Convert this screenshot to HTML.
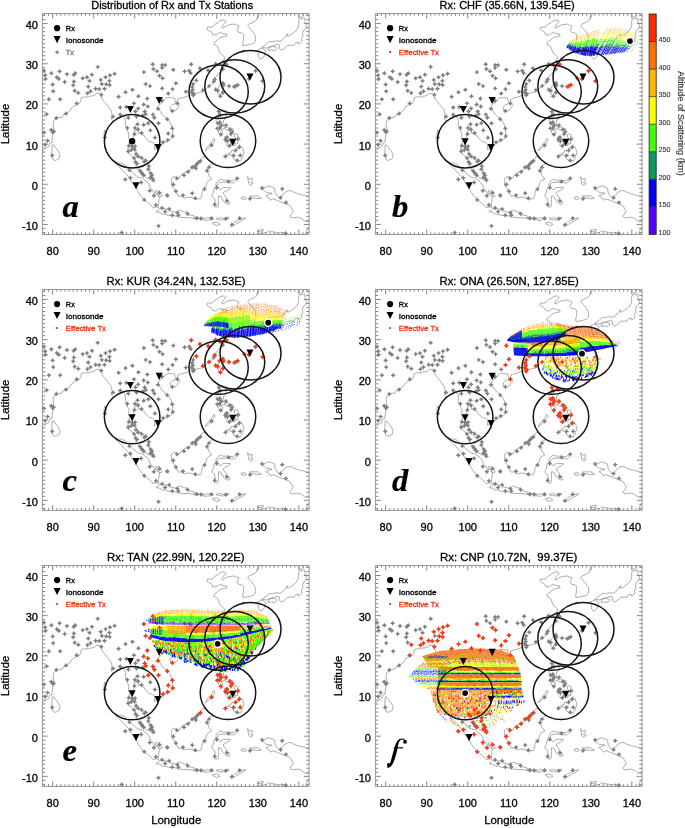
<!DOCTYPE html><html><head><meta charset="utf-8"><style>html,body{margin:0;padding:0;background:#fff;overflow:hidden}svg{display:block;will-change:transform}</style></head><body><svg width="685" height="828" viewBox="0 0 685 828" font-family="Liberation Sans, sans-serif">
<rect width="685" height="828" fill="#fff"/>
<defs><clipPath id="pc"><rect x="42.4" y="13.55" width="266.69" height="220.94"/></clipPath><path id="coast" d="M42.4 151.33L45.27 148.52L48.55 146.91L49.79 142.9L51.84 142.5L52.25 138.08L53.48 132.05L53.89 129.64L53.07 124.02L53.89 120.4L56.76 118.8L57.99 117.59L62.09 117.19L62.91 115.18L66.2 113.57L69.89 110.76L72.35 107.15L75.22 105.14L78.92 103.93L80.97 100.72L80.97 97.91L84.66 96.7L87.94 97.1L89.58 96.3L92.87 95.9L95.33 94.69L96.15 93.49L99.43 93.49L101.07 94.69L101.89 97.91L102.71 99.92L104.36 101.52L106 103.53L107.64 105.54L109.28 107.95L110.92 109.96L111.74 112.77L112.15 115.98L111.33 119.2L112.56 120.4L115.84 120.8L118.31 118.39L120.77 117.59L122.41 116.39L124.87 117.99L125.69 122.01L125.28 124.42L126.92 129.24L128.97 134.06L128.56 138.08L129.79 142.09L128.56 144.91L127.74 149.73L127.74 152.54L128.97 153.74L131.44 155.35L133.08 157.76L135.13 158.97L136.36 162.58L135.95 165.79L138 168.61L140.05 172.62L142.51 174.63L144.97 176.64L148.67 179.05L151.13 179.05L152.36 178.25L150.31 174.23L148.67 170.21L149.08 166.2L147.85 162.98L145.39 160.17L143.33 159.37L140.46 156.56L138 155.35L136.36 153.34L135.54 150.13L134.31 147.32L131.44 146.51L131.85 142.9L132.67 140.09L133.49 136.47L134.31 133.66L134.72 130.44L136.36 130.04L138.41 130.44L138.41 133.26L140.46 133.66L143.74 135.27L145.39 137.68L147.44 140.09L149.08 141.69L152.36 142.09L154.82 144.91L154.41 148.12L154.41 149.73L156.46 148.92L160.16 146.51L161.8 145.31L162.62 142.5L165.49 142.09L168.77 140.09L171.64 138.48L172.47 136.07L172.47 132.85L172.88 130.04L171.64 126.03L170.41 122.81L168.36 119.6L165.08 117.19L161.8 113.98L160.16 111.16L158.1 108.35L158.51 105.54L160.98 103.53L162.21 101.52L164.26 99.92L166.72 97.91L169.59 97.51L172.47 97.91L174.52 97.91L174.93 99.92L175.75 102.33L177.39 102.33L177.8 99.11L179.85 98.31L183.13 97.51L186 96.7L188.88 95.5L190.52 93.49L192.98 94.69L195.85 93.49L198.72 92.68L202.42 91.88L205.29 89.47L207.75 87.06L209.8 85.45L211.85 83.85L214.73 81.84L215.14 79.03L215.96 76.62L218.01 74.61L220.06 71.8L222.93 69.79L224.16 66.57L224.57 63.76L222.11 60.95L224.16 59.75L224.57 56.93L221.7 54.52L220.06 52.92L218.83 49.7L217.6 46.49L213.91 44.48L214.73 42.07L218.01 39.66L220.06 37.65L223.34 36.45L227.03 36.05L226.62 34.04L222.93 33.64L219.65 32.43L216.37 34.84L212.67 34.84L211.85 32.43L208.57 30.42L206.93 29.22L207.34 27.21L209.8 27.21L212.67 26.81L214.73 24.4L218.42 22.39L220.88 20.38L224.16 19.98L226.21 21.58L223.34 24.4L221.7 27.61L223.75 28.01L225.39 26L229.09 24.8L234.01 23.99L236.47 25.2L238.93 26L238.11 28.41L236.88 30.42L238.93 32.43L241.81 32.83L243.86 34.84L243.45 37.65L243.45 40.46L242.63 43.28L243.04 45.69L245.5 45.28L247.96 44.88L251.24 44.08L253.7 43.28L255.35 41.27L255.76 38.86L255.35 35.64L253.7 32.83L251.65 30.02L249.19 27.61L247.55 25.6L249.19 23.99L252.06 22.79L254.94 21.18L256.58 19.98L256.99 17.97L259.45 14.35L260.68 13.15M170 107.15L170.41 109.96L173.7 111.16L176.16 109.96L178.21 107.55L179.85 105.54L178.21 103.53L175.75 103.93L172.88 104.33L170 107.15M217.19 91.88L218.01 93.89L220.06 96.3L220.88 93.49L222.93 89.87L224.57 85.45L224.16 83.45L222.93 82.64L220.88 83.85L219.24 85.86L217.6 89.07L217.19 91.88M52.25 144.91L53.89 145.31L56.35 148.52L58.4 151.33L60.04 154.95L59.22 158.56L55.12 160.57L52.66 158.97L51.84 155.35L51.84 151.73L52.25 144.91M115.43 161.78L118.31 162.98L122.41 163.38L124.87 164.99L127.74 167.8L130.61 170.61L133.9 173.83L136.36 175.84L138.82 177.44L141.69 177.85L144.15 179.45L147.03 181.86L149.08 184.27L150.31 187.89L152.77 190.3L154.82 193.51L157.69 193.91L159.34 197.13L158.93 201.14L158.51 204.36L158.51 207.57L156.05 206.77L153.59 207.97L151.95 205.96L149.49 203.96L146.21 201.14L143.74 198.73L140.46 195.52L138.41 192.31L136.36 188.69L134.72 185.88L132.67 183.47L131.02 180.66L129.38 177.44L126.92 175.03L124.87 173.02L123.23 171.02L120.77 168.61L118.31 165.79L116.25 164.19L115.43 161.78M156.05 211.59L158.1 210.38L159.75 208.37L162.62 208.37L165.9 209.18L168.77 209.58L171.23 211.59L175.34 211.99L177.8 211.99L179.44 209.98L181.9 210.78L184.36 211.99L186.83 211.99L187.24 214.4L190.11 215.2L193.8 215.61L194.21 218.42L191.34 218.02L188.06 217.61L183.95 217.61L179.85 217.21L176.57 216.41L172.47 215.2L168.77 215.61L165.49 214.4L161.39 214L160.57 212.39L157.28 211.99L156.05 211.59M194.62 217.21L197.08 216.81L199.13 218.02L197.08 219.62L194.62 218.82L194.62 217.21M200.78 218.02L203.24 217.61L202.83 220.02L200.37 219.62L200.78 218.02M203.65 218.82L206.52 218.02L209.8 217.61L212.67 218.02L213.08 219.22L208.57 220.02L204.47 220.43L203.65 218.82M215.96 218.42L219.24 217.61L223.75 218.42L228.68 217.21L228.27 218.82L223.34 220.02L218.01 219.62L215.96 218.42M212.67 222.84L216.78 222.03L220.06 224.44L216.78 225.65L212.67 223.64L212.67 222.84M231.14 225.25L234.83 222.03L238.11 220.02L245.5 217.61L244.68 219.22L239.34 222.03L235.24 224.44L231.55 226.05L231.14 225.25M171.64 178.25L174.11 176.24L176.98 177.44L179.85 177.85L181.9 174.23L186 172.22L189.29 171.02L192.16 167L195.03 164.99L197.9 164.19L198.72 161.78L200.78 160.17L203.24 156.56L205.29 156.96L207.34 159.37L209.8 160.97L213.5 163.38L210.62 164.59L208.57 166.6L206.93 169.01L207.75 171.42L208.57 175.03L211.85 179.05L208.57 180.66L206.52 183.47L206.11 186.68L203.65 189.49L202.01 192.31L201.6 196.32L200.37 198.73L194.62 199.14L192.16 197.53L188.06 197.13L183.95 197.93L181.08 195.92L178.21 196.32L176.16 191.9L174.11 188.69L172.05 186.28L171.64 183.07L171.23 180.26L171.64 178.25M214.32 206.37L215.14 202.35L214.73 198.73L212.26 196.73L211.85 195.12L213.5 192.31L213.91 189.09L215.96 186.68L215.96 183.87L217.6 181.06L220.47 179.05L222.93 180.26L226.62 180.26L229.91 180.66L233.19 180.66L235.65 179.05L238.11 178.25L236.47 180.66L234.42 182.67L231.55 183.07L228.68 182.26L222.93 182.26L219.24 182.67L217.6 184.27L217.19 186.68L220.06 189.9L223.34 187.49L227.03 187.49L230.73 187.89L228.27 189.9L224.98 191.5L222.93 193.11L224.98 195.92L226.62 197.93L225.8 200.34L229.91 202.35L229.09 204.36L226.21 203.55L223.34 201.14L220.88 196.32L218.42 195.92L218.42 199.54L218.42 203.55L218.01 206.77L215.96 207.17L214.32 206.37M219.24 109.96L221.29 109.56L224.57 110.76L226.21 111.16L225.8 115.18L226.62 117.59L223.75 120L223.34 123.21L222.93 125.62L224.98 128.03L227.45 126.83L229.91 128.84L232.78 128.84L233.6 132.05L231.55 132.85L229.5 130.85L227.03 130.04L224.16 128.44L221.7 129.64L219.65 128.44L219.24 126.43L220.47 125.22L218.83 124.42L217.19 124.02L215.96 120.8L216.37 118.39L218.42 117.59L218.42 113.98L219.24 109.96M218.42 130.04L220.88 130.04L222.93 131.65L221.7 134.86L220.06 134.06L218.01 132.05L218.42 130.04M234.42 134.06L237.29 134.06L240.16 139.68L237.29 140.49L238.11 143.3L236.47 144.1L234.42 141.29L235.65 138.88L234.42 136.87L234.42 134.06M224.57 136.87L227.45 137.68L229.5 139.28L227.45 142.09L224.98 142.09L224.57 136.87M228.68 140.49L231.14 141.69L230.32 146.11L229.09 147.72L226.62 144.91L228.68 140.49M232.37 139.28L233.6 141.29L231.14 145.71L230.32 144.5L232.37 139.28M232.37 143.7L235.24 143.7L234.83 145.71L232.37 145.31L232.37 143.7M224.98 156.15L228.27 153.34L230.73 152.94L231.96 150.13L234.01 151.33L236.47 148.52L238.93 148.12L239.34 144.91L242.22 147.32L243.86 152.14L242.63 156.56L241.81 158.97L239.75 161.78L238.52 160.17L236.88 160.57L234.01 159.37L232.78 156.96L230.73 154.55L228.27 154.95L225.8 156.56L224.98 156.15M205.29 150.93L207.75 148.92L210.62 146.51L213.08 143.7L215.14 140.09L213.91 138.48L211.85 141.69L208.98 145.31L206.52 148.12L205.29 150.93M256.58 50.51L258.63 53.32L258.22 56.53L260.27 59.34L262.32 58.14L263.96 56.93L264.78 53.32L266.01 50.91L263.96 49.3L261.91 48.1L259.45 49.3L256.58 50.51M268.06 50.51L271.35 50.1L275.04 50.51L277.09 48.1L275.45 46.89L272.17 46.49L268.89 47.69L268.06 50.51M261.5 47.69L263.55 46.09L266.42 44.08L269.3 41.67L272.58 41.67L276.27 40.87L280.37 41.27L282.43 40.06L285.3 36.45L287.76 33.64L286.53 36.05L288.99 36.05L293.09 33.23L296.38 30.42L298.02 27.61L298.84 24.4L298.43 21.18L300.07 18.77L302.53 18.77L304.58 17.97L304.99 21.58L306.63 25.2L305.4 29.22L303.35 30.42L302.53 33.64L302.94 36.45L301.3 39.26L302.12 40.87L300.48 42.87L298.43 44.08L298.02 42.07L295.56 42.87L293.91 45.28L291.45 45.28L287.76 45.28L286.12 46.49L284.48 48.5L281.6 50.1L279.14 48.1L279.55 45.28L277.09 44.48L273.81 45.69L270.12 46.49L266.83 48.1L263.96 47.69L261.5 47.69M298.02 13.55L298.84 15.56L300.48 17.57L303.35 16.36L302.94 13.95L304.17 13.15M261.91 189.49L265.19 187.49L268.48 185.88L272.17 187.08L274.63 188.29L275.04 192.31L277.09 195.92L279.14 197.53L282.02 195.92L284.07 193.11L287.76 190.7L291.04 190.7L293.91 192.31L297.2 193.51L301.71 194.72L304.99 195.52L309.09 197.13M309.09 221.63L304.99 221.23L301.3 218.42L298.43 217.21L294.32 217.61L291.86 218.02L289.81 216.41L291.86 213.6L293.09 210.78L289.81 205.56L286.53 203.96L280.78 201.95L277.09 200.34L272.99 198.73L270.53 200.34L269.3 197.93L266.01 195.92L268.89 194.32L272.17 193.51L270.12 192.71L266.42 192.71L263.96 190.3L261.91 189.49M247.55 176.64L249.6 179.45L252.06 178.25L252.47 180.26L250.42 182.67L253.29 183.07L251.24 185.48L248.78 183.87L248.37 181.06L247.55 176.64M249.6 195.92L253.29 195.92L257.81 195.92L261.5 198.33L257.81 198.73L253.7 197.93L250.42 197.53L249.6 195.92M241.4 197.13L244.68 196.73L246.32 198.73L243.86 199.54L241.4 198.73L241.4 197.13M256.58 234.49L258.22 233.28L260.27 233.68L263.14 232.88L266.83 232.48L268.48 230.87L271.35 231.67L274.63 232.07L278.32 233.28L282.02 232.07L284.89 233.28L286.12 233.68M257.81 231.27L260.27 229.66L263.55 229.66L262.73 231.67L259.45 231.67L257.81 231.27M305.4 234.49L306.22 232.07L307.86 228.06L309.09 227.25M104.77 130.04L106 132.85L105.59 136.87L104.36 138.08L103.94 134.86L104.77 130.04M109.28 155.35L109.69 156.96L108.46 156.15L109.28 155.35M155.64 190.7L159.34 191.1L162.21 196.32L159.34 196.73L155.64 192.71L155.64 190.7M165.9 194.72L168.77 194.72L168.36 197.13L165.9 196.73L165.9 194.72M248.37 79.43L250.83 77.02L250.01 76.62L248.37 78.22L248.37 79.43M242.22 50.51L245.09 50.1L244.68 50.91L242.22 50.91L242.22 50.51" fill="none" stroke="#8a8a8a" stroke-width="0.7" stroke-linejoin="round"/><path id="txg" d="M97.7 64.35l0.95 1.6 1.6 0.95-1.6 0.95-0.95 1.6-0.95-1.6-1.6-0.95 1.6-0.95zM44 68.15l0.95 1.6 1.6 0.95-1.6 0.95-0.95 1.6-0.95-1.6-1.6-0.95 1.6-0.95zM45.1 72.75l0.95 1.6 1.6 0.95-1.6 0.95-0.95 1.6-0.95-1.6-1.6-0.95 1.6-0.95zM45.6 76.35l0.95 1.6 1.6 0.95-1.6 0.95-0.95 1.6-0.95-1.6-1.6-0.95 1.6-0.95zM51.4 70.75l0.95 1.6 1.6 0.95-1.6 0.95-0.95 1.6-0.95-1.6-1.6-0.95 1.6-0.95zM59.6 68.85l0.95 1.6 1.6 0.95-1.6 0.95-0.95 1.6-0.95-1.6-1.6-0.95 1.6-0.95zM56.8 74.65l0.95 1.6 1.6 0.95-1.6 0.95-0.95 1.6-0.95-1.6-1.6-0.95 1.6-0.95zM58.9 76.35l0.95 1.6 1.6 0.95-1.6 0.95-0.95 1.6-0.95-1.6-1.6-0.95 1.6-0.95zM67 71.55l0.95 1.6 1.6 0.95-1.6 0.95-0.95 1.6-0.95-1.6-1.6-0.95 1.6-0.95zM73.7 72.25l0.95 1.6 1.6 0.95-1.6 0.95-0.95 1.6-0.95-1.6-1.6-0.95 1.6-0.95zM75.2 70.75l0.95 1.6 1.6 0.95-1.6 0.95-0.95 1.6-0.95-1.6-1.6-0.95 1.6-0.95zM64.7 79.45l0.95 1.6 1.6 0.95-1.6 0.95-0.95 1.6-0.95-1.6-1.6-0.95 1.6-0.95zM52.7 81.95l0.95 1.6 1.6 0.95-1.6 0.95-0.95 1.6-0.95-1.6-1.6-0.95 1.6-0.95zM53.2 88.65l0.95 1.6 1.6 0.95-1.6 0.95-0.95 1.6-0.95-1.6-1.6-0.95 1.6-0.95zM73.9 78.95l0.95 1.6 1.6 0.95-1.6 0.95-0.95 1.6-0.95-1.6-1.6-0.95 1.6-0.95zM73.2 82.75l0.95 1.6 1.6 0.95-1.6 0.95-0.95 1.6-0.95-1.6-1.6-0.95 1.6-0.95zM74.7 88.15l0.95 1.6 1.6 0.95-1.6 0.95-0.95 1.6-0.95-1.6-1.6-0.95 1.6-0.95zM78.3 90.35l0.95 1.6 1.6 0.95-1.6 0.95-0.95 1.6-0.95-1.6-1.6-0.95 1.6-0.95zM82.7 75.65l0.95 1.6 1.6 0.95-1.6 0.95-0.95 1.6-0.95-1.6-1.6-0.95 1.6-0.95zM87 74.65l0.95 1.6 1.6 0.95-1.6 0.95-0.95 1.6-0.95-1.6-1.6-0.95 1.6-0.95zM91.9 72.25l0.95 1.6 1.6 0.95-1.6 0.95-0.95 1.6-0.95-1.6-1.6-0.95 1.6-0.95zM89.5 78.35l0.95 1.6 1.6 0.95-1.6 0.95-0.95 1.6-0.95-1.6-1.6-0.95 1.6-0.95zM88.2 84.05l0.95 1.6 1.6 0.95-1.6 0.95-0.95 1.6-0.95-1.6-1.6-0.95 1.6-0.95zM87.5 90.65l0.95 1.6 1.6 0.95-1.6 0.95-0.95 1.6-0.95-1.6-1.6-0.95 1.6-0.95zM90.5 88.65l0.95 1.6 1.6 0.95-1.6 0.95-0.95 1.6-0.95-1.6-1.6-0.95 1.6-0.95zM95.6 86.25l0.95 1.6 1.6 0.95-1.6 0.95-0.95 1.6-0.95-1.6-1.6-0.95 1.6-0.95zM99.2 86.55l0.95 1.6 1.6 0.95-1.6 0.95-0.95 1.6-0.95-1.6-1.6-0.95 1.6-0.95zM101.3 92.35l0.95 1.6 1.6 0.95-1.6 0.95-0.95 1.6-0.95-1.6-1.6-0.95 1.6-0.95zM100.8 77.35l0.95 1.6 1.6 0.95-1.6 0.95-0.95 1.6-0.95-1.6-1.6-0.95 1.6-0.95zM101.8 81.45l0.95 1.6 1.6 0.95-1.6 0.95-0.95 1.6-0.95-1.6-1.6-0.95 1.6-0.95zM105.6 74.65l0.95 1.6 1.6 0.95-1.6 0.95-0.95 1.6-0.95-1.6-1.6-0.95 1.6-0.95zM106.2 81.75l0.95 1.6 1.6 0.95-1.6 0.95-0.95 1.6-0.95-1.6-1.6-0.95 1.6-0.95zM104.5 86.25l0.95 1.6 1.6 0.95-1.6 0.95-0.95 1.6-0.95-1.6-1.6-0.95 1.6-0.95zM110 72.75l0.95 1.6 1.6 0.95-1.6 0.95-0.95 1.6-0.95-1.6-1.6-0.95 1.6-0.95zM109.4 78.35l0.95 1.6 1.6 0.95-1.6 0.95-0.95 1.6-0.95-1.6-1.6-0.95 1.6-0.95zM109.6 82.45l0.95 1.6 1.6 0.95-1.6 0.95-0.95 1.6-0.95-1.6-1.6-0.95 1.6-0.95zM48.9 96.75l0.95 1.6 1.6 0.95-1.6 0.95-0.95 1.6-0.95-1.6-1.6-0.95 1.6-0.95zM60.2 96.75l0.95 1.6 1.6 0.95-1.6 0.95-0.95 1.6-0.95-1.6-1.6-0.95 1.6-0.95zM76.7 100.85l0.95 1.6 1.6 0.95-1.6 0.95-0.95 1.6-0.95-1.6-1.6-0.95 1.6-0.95zM114.6 71.25l0.95 1.6 1.6 0.95-1.6 0.95-0.95 1.6-0.95-1.6-1.6-0.95 1.6-0.95zM152.7 61.75l0.95 1.6 1.6 0.95-1.6 0.95-0.95 1.6-0.95-1.6-1.6-0.95 1.6-0.95zM162.1 62.55l0.95 1.6 1.6 0.95-1.6 0.95-0.95 1.6-0.95-1.6-1.6-0.95 1.6-0.95zM165.1 62.55l0.95 1.6 1.6 0.95-1.6 0.95-0.95 1.6-0.95-1.6-1.6-0.95 1.6-0.95zM162.1 65.15l0.95 1.6 1.6 0.95-1.6 0.95-0.95 1.6-0.95-1.6-1.6-0.95 1.6-0.95zM153.4 66.45l0.95 1.6 1.6 0.95-1.6 0.95-0.95 1.6-0.95-1.6-1.6-0.95 1.6-0.95zM157 68.65l0.95 1.6 1.6 0.95-1.6 0.95-0.95 1.6-0.95-1.6-1.6-0.95 1.6-0.95zM173.3 67.15l0.95 1.6 1.6 0.95-1.6 0.95-0.95 1.6-0.95-1.6-1.6-0.95 1.6-0.95zM143.9 69.55l0.95 1.6 1.6 0.95-1.6 0.95-0.95 1.6-0.95-1.6-1.6-0.95 1.6-0.95zM159.5 73.25l0.95 1.6 1.6 0.95-1.6 0.95-0.95 1.6-0.95-1.6-1.6-0.95 1.6-0.95zM162.6 75.65l0.95 1.6 1.6 0.95-1.6 0.95-0.95 1.6-0.95-1.6-1.6-0.95 1.6-0.95zM175.9 80.75l0.95 1.6 1.6 0.95-1.6 0.95-0.95 1.6-0.95-1.6-1.6-0.95 1.6-0.95zM145.7 81.45l0.95 1.6 1.6 0.95-1.6 0.95-0.95 1.6-0.95-1.6-1.6-0.95 1.6-0.95zM150 83.55l0.95 1.6 1.6 0.95-1.6 0.95-0.95 1.6-0.95-1.6-1.6-0.95 1.6-0.95zM162.1 85.85l0.95 1.6 1.6 0.95-1.6 0.95-0.95 1.6-0.95-1.6-1.6-0.95 1.6-0.95zM172.5 86.55l0.95 1.6 1.6 0.95-1.6 0.95-0.95 1.6-0.95-1.6-1.6-0.95 1.6-0.95zM168.2 90.95l0.95 1.6 1.6 0.95-1.6 0.95-0.95 1.6-0.95-1.6-1.6-0.95 1.6-0.95zM132.4 87.25l0.95 1.6 1.6 0.95-1.6 0.95-0.95 1.6-0.95-1.6-1.6-0.95 1.6-0.95zM125.5 89.65l0.95 1.6 1.6 0.95-1.6 0.95-0.95 1.6-0.95-1.6-1.6-0.95 1.6-0.95zM118.6 94.25l0.95 1.6 1.6 0.95-1.6 0.95-0.95 1.6-0.95-1.6-1.6-0.95 1.6-0.95zM138.4 93.75l0.95 1.6 1.6 0.95-1.6 0.95-0.95 1.6-0.95-1.6-1.6-0.95 1.6-0.95zM147.3 96.05l0.95 1.6 1.6 0.95-1.6 0.95-0.95 1.6-0.95-1.6-1.6-0.95 1.6-0.95zM143.7 101.95l0.95 1.6 1.6 0.95-1.6 0.95-0.95 1.6-0.95-1.6-1.6-0.95 1.6-0.95zM147.8 103.95l0.95 1.6 1.6 0.95-1.6 0.95-0.95 1.6-0.95-1.6-1.6-0.95 1.6-0.95zM134 100.85l0.95 1.6 1.6 0.95-1.6 0.95-0.95 1.6-0.95-1.6-1.6-0.95 1.6-0.95zM120.2 104.95l0.95 1.6 1.6 0.95-1.6 0.95-0.95 1.6-0.95-1.6-1.6-0.95 1.6-0.95zM126.3 104.45l0.95 1.6 1.6 0.95-1.6 0.95-0.95 1.6-0.95-1.6-1.6-0.95 1.6-0.95zM138.1 105.95l0.95 1.6 1.6 0.95-1.6 0.95-0.95 1.6-0.95-1.6-1.6-0.95 1.6-0.95zM177.4 100.85l0.95 1.6 1.6 0.95-1.6 0.95-0.95 1.6-0.95-1.6-1.6-0.95 1.6-0.95zM162.1 98.35l0.95 1.6 1.6 0.95-1.6 0.95-0.95 1.6-0.95-1.6-1.6-0.95 1.6-0.95zM158 106.25l0.95 1.6 1.6 0.95-1.6 0.95-0.95 1.6-0.95-1.6-1.6-0.95 1.6-0.95zM191.2 61.75l0.95 1.6 1.6 0.95-1.6 0.95-0.95 1.6-0.95-1.6-1.6-0.95 1.6-0.95zM184.6 68.85l0.95 1.6 1.6 0.95-1.6 0.95-0.95 1.6-0.95-1.6-1.6-0.95 1.6-0.95zM189.2 68.15l0.95 1.6 1.6 0.95-1.6 0.95-0.95 1.6-0.95-1.6-1.6-0.95 1.6-0.95zM190.7 70.55l0.95 1.6 1.6 0.95-1.6 0.95-0.95 1.6-0.95-1.6-1.6-0.95 1.6-0.95zM199.9 65.65l0.95 1.6 1.6 0.95-1.6 0.95-0.95 1.6-0.95-1.6-1.6-0.95 1.6-0.95zM208.1 67.65l0.95 1.6 1.6 0.95-1.6 0.95-0.95 1.6-0.95-1.6-1.6-0.95 1.6-0.95zM215.7 61.35l0.95 1.6 1.6 0.95-1.6 0.95-0.95 1.6-0.95-1.6-1.6-0.95 1.6-0.95zM226.5 61.75l0.95 1.6 1.6 0.95-1.6 0.95-0.95 1.6-0.95-1.6-1.6-0.95 1.6-0.95zM222.9 66.65l0.95 1.6 1.6 0.95-1.6 0.95-0.95 1.6-0.95-1.6-1.6-0.95 1.6-0.95zM196.3 77.85l0.95 1.6 1.6 0.95-1.6 0.95-0.95 1.6-0.95-1.6-1.6-0.95 1.6-0.95zM193.2 81.45l0.95 1.6 1.6 0.95-1.6 0.95-0.95 1.6-0.95-1.6-1.6-0.95 1.6-0.95zM192.2 84.55l0.95 1.6 1.6 0.95-1.6 0.95-0.95 1.6-0.95-1.6-1.6-0.95 1.6-0.95zM192.7 87.05l0.95 1.6 1.6 0.95-1.6 0.95-0.95 1.6-0.95-1.6-1.6-0.95 1.6-0.95zM191.7 89.15l0.95 1.6 1.6 0.95-1.6 0.95-0.95 1.6-0.95-1.6-1.6-0.95 1.6-0.95zM193.8 91.15l0.95 1.6 1.6 0.95-1.6 0.95-0.95 1.6-0.95-1.6-1.6-0.95 1.6-0.95zM193.2 92.75l0.95 1.6 1.6 0.95-1.6 0.95-0.95 1.6-0.95-1.6-1.6-0.95 1.6-0.95zM185.9 89.15l0.95 1.6 1.6 0.95-1.6 0.95-0.95 1.6-0.95-1.6-1.6-0.95 1.6-0.95zM202.9 87.55l0.95 1.6 1.6 0.95-1.6 0.95-0.95 1.6-0.95-1.6-1.6-0.95 1.6-0.95zM209.1 83.55l0.95 1.6 1.6 0.95-1.6 0.95-0.95 1.6-0.95-1.6-1.6-0.95 1.6-0.95zM214.7 76.85l0.95 1.6 1.6 0.95-1.6 0.95-0.95 1.6-0.95-1.6-1.6-0.95 1.6-0.95zM213.7 78.95l0.95 1.6 1.6 0.95-1.6 0.95-0.95 1.6-0.95-1.6-1.6-0.95 1.6-0.95zM222.9 80.45l0.95 1.6 1.6 0.95-1.6 0.95-0.95 1.6-0.95-1.6-1.6-0.95 1.6-0.95zM223.4 82.45l0.95 1.6 1.6 0.95-1.6 0.95-0.95 1.6-0.95-1.6-1.6-0.95 1.6-0.95zM215.7 87.05l0.95 1.6 1.6 0.95-1.6 0.95-0.95 1.6-0.95-1.6-1.6-0.95 1.6-0.95zM217.8 88.15l0.95 1.6 1.6 0.95-1.6 0.95-0.95 1.6-0.95-1.6-1.6-0.95 1.6-0.95zM222.9 90.15l0.95 1.6 1.6 0.95-1.6 0.95-0.95 1.6-0.95-1.6-1.6-0.95 1.6-0.95zM220.3 93.75l0.95 1.6 1.6 0.95-1.6 0.95-0.95 1.6-0.95-1.6-1.6-0.95 1.6-0.95zM229 83.55l0.95 1.6 1.6 0.95-1.6 0.95-0.95 1.6-0.95-1.6-1.6-0.95 1.6-0.95zM234.1 84.25l0.95 1.6 1.6 0.95-1.6 0.95-0.95 1.6-0.95-1.6-1.6-0.95 1.6-0.95zM237.7 82.45l0.95 1.6 1.6 0.95-1.6 0.95-0.95 1.6-0.95-1.6-1.6-0.95 1.6-0.95zM235.6 83.55l0.95 1.6 1.6 0.95-1.6 0.95-0.95 1.6-0.95-1.6-1.6-0.95 1.6-0.95zM248.9 76.35l0.95 1.6 1.6 0.95-1.6 0.95-0.95 1.6-0.95-1.6-1.6-0.95 1.6-0.95zM255.5 68.35l0.95 1.6 1.6 0.95-1.6 0.95-0.95 1.6-0.95-1.6-1.6-0.95 1.6-0.95zM262.5 78.45l0.95 1.6 1.6 0.95-1.6 0.95-0.95 1.6-0.95-1.6-1.6-0.95 1.6-0.95zM46.6 111.75l0.95 1.6 1.6 0.95-1.6 0.95-0.95 1.6-0.95-1.6-1.6-0.95 1.6-0.95zM56.3 115.45l0.95 1.6 1.6 0.95-1.6 0.95-0.95 1.6-0.95-1.6-1.6-0.95 1.6-0.95zM66 111.05l0.95 1.6 1.6 0.95-1.6 0.95-0.95 1.6-0.95-1.6-1.6-0.95 1.6-0.95zM51.2 127.35l0.95 1.6 1.6 0.95-1.6 0.95-0.95 1.6-0.95-1.6-1.6-0.95 1.6-0.95zM52.7 129.45l0.95 1.6 1.6 0.95-1.6 0.95-0.95 1.6-0.95-1.6-1.6-0.95 1.6-0.95zM53.8 128.95l0.95 1.6 1.6 0.95-1.6 0.95-0.95 1.6-0.95-1.6-1.6-0.95 1.6-0.95zM44 129.95l0.95 1.6 1.6 0.95-1.6 0.95-0.95 1.6-0.95-1.6-1.6-0.95 1.6-0.95zM47.6 138.15l0.95 1.6 1.6 0.95-1.6 0.95-0.95 1.6-0.95-1.6-1.6-0.95 1.6-0.95zM45.1 142.15l0.95 1.6 1.6 0.95-1.6 0.95-0.95 1.6-0.95-1.6-1.6-0.95 1.6-0.95zM52.2 152.95l0.95 1.6 1.6 0.95-1.6 0.95-0.95 1.6-0.95-1.6-1.6-0.95 1.6-0.95zM104.8 135.05l0.95 1.6 1.6 0.95-1.6 0.95-0.95 1.6-0.95-1.6-1.6-0.95 1.6-0.95zM113 114.05l0.95 1.6 1.6 0.95-1.6 0.95-0.95 1.6-0.95-1.6-1.6-0.95 1.6-0.95zM120.2 112.05l0.95 1.6 1.6 0.95-1.6 0.95-0.95 1.6-0.95-1.6-1.6-0.95 1.6-0.95zM128.3 115.15l0.95 1.6 1.6 0.95-1.6 0.95-0.95 1.6-0.95-1.6-1.6-0.95 1.6-0.95zM135.5 108.95l0.95 1.6 1.6 0.95-1.6 0.95-0.95 1.6-0.95-1.6-1.6-0.95 1.6-0.95zM136.5 114.05l0.95 1.6 1.6 0.95-1.6 0.95-0.95 1.6-0.95-1.6-1.6-0.95 1.6-0.95zM142.7 113.05l0.95 1.6 1.6 0.95-1.6 0.95-0.95 1.6-0.95-1.6-1.6-0.95 1.6-0.95zM145.7 111.55l0.95 1.6 1.6 0.95-1.6 0.95-0.95 1.6-0.95-1.6-1.6-0.95 1.6-0.95zM144.7 108.95l0.95 1.6 1.6 0.95-1.6 0.95-0.95 1.6-0.95-1.6-1.6-0.95 1.6-0.95zM152.9 112.05l0.95 1.6 1.6 0.95-1.6 0.95-0.95 1.6-0.95-1.6-1.6-0.95 1.6-0.95zM154.4 115.15l0.95 1.6 1.6 0.95-1.6 0.95-0.95 1.6-0.95-1.6-1.6-0.95 1.6-0.95zM172.3 108.45l0.95 1.6 1.6 0.95-1.6 0.95-0.95 1.6-0.95-1.6-1.6-0.95 1.6-0.95zM148.3 120.75l0.95 1.6 1.6 0.95-1.6 0.95-0.95 1.6-0.95-1.6-1.6-0.95 1.6-0.95zM158.5 120.75l0.95 1.6 1.6 0.95-1.6 0.95-0.95 1.6-0.95-1.6-1.6-0.95 1.6-0.95zM143.7 122.25l0.95 1.6 1.6 0.95-1.6 0.95-0.95 1.6-0.95-1.6-1.6-0.95 1.6-0.95zM137.5 121.75l0.95 1.6 1.6 0.95-1.6 0.95-0.95 1.6-0.95-1.6-1.6-0.95 1.6-0.95zM127.3 125.35l0.95 1.6 1.6 0.95-1.6 0.95-0.95 1.6-0.95-1.6-1.6-0.95 1.6-0.95zM135 125.35l0.95 1.6 1.6 0.95-1.6 0.95-0.95 1.6-0.95-1.6-1.6-0.95 1.6-0.95zM138.1 126.85l0.95 1.6 1.6 0.95-1.6 0.95-0.95 1.6-0.95-1.6-1.6-0.95 1.6-0.95zM141.6 130.45l0.95 1.6 1.6 0.95-1.6 0.95-0.95 1.6-0.95-1.6-1.6-0.95 1.6-0.95zM134.5 131.45l0.95 1.6 1.6 0.95-1.6 0.95-0.95 1.6-0.95-1.6-1.6-0.95 1.6-0.95zM150.3 127.85l0.95 1.6 1.6 0.95-1.6 0.95-0.95 1.6-0.95-1.6-1.6-0.95 1.6-0.95zM154.9 135.05l0.95 1.6 1.6 0.95-1.6 0.95-0.95 1.6-0.95-1.6-1.6-0.95 1.6-0.95zM167.2 116.65l0.95 1.6 1.6 0.95-1.6 0.95-0.95 1.6-0.95-1.6-1.6-0.95 1.6-0.95zM172.3 125.85l0.95 1.6 1.6 0.95-1.6 0.95-0.95 1.6-0.95-1.6-1.6-0.95 1.6-0.95zM168.2 130.95l0.95 1.6 1.6 0.95-1.6 0.95-0.95 1.6-0.95-1.6-1.6-0.95 1.6-0.95zM172.8 133.55l0.95 1.6 1.6 0.95-1.6 0.95-0.95 1.6-0.95-1.6-1.6-0.95 1.6-0.95zM167.7 137.55l0.95 1.6 1.6 0.95-1.6 0.95-0.95 1.6-0.95-1.6-1.6-0.95 1.6-0.95zM163.1 139.65l0.95 1.6 1.6 0.95-1.6 0.95-0.95 1.6-0.95-1.6-1.6-0.95 1.6-0.95zM128.9 143.25l0.95 1.6 1.6 0.95-1.6 0.95-0.95 1.6-0.95-1.6-1.6-0.95 1.6-0.95zM132.4 144.25l0.95 1.6 1.6 0.95-1.6 0.95-0.95 1.6-0.95-1.6-1.6-0.95 1.6-0.95zM135 143.75l0.95 1.6 1.6 0.95-1.6 0.95-0.95 1.6-0.95-1.6-1.6-0.95 1.6-0.95zM128.3 148.85l0.95 1.6 1.6 0.95-1.6 0.95-0.95 1.6-0.95-1.6-1.6-0.95 1.6-0.95zM131.4 147.35l0.95 1.6 1.6 0.95-1.6 0.95-0.95 1.6-0.95-1.6-1.6-0.95 1.6-0.95zM134.5 146.75l0.95 1.6 1.6 0.95-1.6 0.95-0.95 1.6-0.95-1.6-1.6-0.95 1.6-0.95zM136 151.35l0.95 1.6 1.6 0.95-1.6 0.95-0.95 1.6-0.95-1.6-1.6-0.95 1.6-0.95zM138.1 153.95l0.95 1.6 1.6 0.95-1.6 0.95-0.95 1.6-0.95-1.6-1.6-0.95 1.6-0.95zM134 155.45l0.95 1.6 1.6 0.95-1.6 0.95-0.95 1.6-0.95-1.6-1.6-0.95 1.6-0.95zM141.6 155.45l0.95 1.6 1.6 0.95-1.6 0.95-0.95 1.6-0.95-1.6-1.6-0.95 1.6-0.95zM218.8 108.95l0.95 1.6 1.6 0.95-1.6 0.95-0.95 1.6-0.95-1.6-1.6-0.95 1.6-0.95zM220.3 112.05l0.95 1.6 1.6 0.95-1.6 0.95-0.95 1.6-0.95-1.6-1.6-0.95 1.6-0.95zM217.8 120.75l0.95 1.6 1.6 0.95-1.6 0.95-0.95 1.6-0.95-1.6-1.6-0.95 1.6-0.95zM219.8 119.75l0.95 1.6 1.6 0.95-1.6 0.95-0.95 1.6-0.95-1.6-1.6-0.95 1.6-0.95zM221.3 122.75l0.95 1.6 1.6 0.95-1.6 0.95-0.95 1.6-0.95-1.6-1.6-0.95 1.6-0.95zM217.3 125.85l0.95 1.6 1.6 0.95-1.6 0.95-0.95 1.6-0.95-1.6-1.6-0.95 1.6-0.95zM219.8 125.35l0.95 1.6 1.6 0.95-1.6 0.95-0.95 1.6-0.95-1.6-1.6-0.95 1.6-0.95zM225.9 122.75l0.95 1.6 1.6 0.95-1.6 0.95-0.95 1.6-0.95-1.6-1.6-0.95 1.6-0.95zM220.8 131.95l0.95 1.6 1.6 0.95-1.6 0.95-0.95 1.6-0.95-1.6-1.6-0.95 1.6-0.95zM230 126.85l0.95 1.6 1.6 0.95-1.6 0.95-0.95 1.6-0.95-1.6-1.6-0.95 1.6-0.95zM232.1 129.45l0.95 1.6 1.6 0.95-1.6 0.95-0.95 1.6-0.95-1.6-1.6-0.95 1.6-0.95zM231 131.45l0.95 1.6 1.6 0.95-1.6 0.95-0.95 1.6-0.95-1.6-1.6-0.95 1.6-0.95zM227 134.55l0.95 1.6 1.6 0.95-1.6 0.95-0.95 1.6-0.95-1.6-1.6-0.95 1.6-0.95zM225.4 137.05l0.95 1.6 1.6 0.95-1.6 0.95-0.95 1.6-0.95-1.6-1.6-0.95 1.6-0.95zM227.5 138.15l0.95 1.6 1.6 0.95-1.6 0.95-0.95 1.6-0.95-1.6-1.6-0.95 1.6-0.95zM237.7 136.55l0.95 1.6 1.6 0.95-1.6 0.95-0.95 1.6-0.95-1.6-1.6-0.95 1.6-0.95zM229.5 143.25l0.95 1.6 1.6 0.95-1.6 0.95-0.95 1.6-0.95-1.6-1.6-0.95 1.6-0.95zM235.6 147.85l0.95 1.6 1.6 0.95-1.6 0.95-0.95 1.6-0.95-1.6-1.6-0.95 1.6-0.95zM239.2 144.75l0.95 1.6 1.6 0.95-1.6 0.95-0.95 1.6-0.95-1.6-1.6-0.95 1.6-0.95zM233.6 152.95l0.95 1.6 1.6 0.95-1.6 0.95-0.95 1.6-0.95-1.6-1.6-0.95 1.6-0.95zM240.2 152.95l0.95 1.6 1.6 0.95-1.6 0.95-0.95 1.6-0.95-1.6-1.6-0.95 1.6-0.95zM225.4 153.95l0.95 1.6 1.6 0.95-1.6 0.95-0.95 1.6-0.95-1.6-1.6-0.95 1.6-0.95zM211.6 142.75l0.95 1.6 1.6 0.95-1.6 0.95-0.95 1.6-0.95-1.6-1.6-0.95 1.6-0.95zM135.5 159.45l0.95 1.6 1.6 0.95-1.6 0.95-0.95 1.6-0.95-1.6-1.6-0.95 1.6-0.95zM137 161.05l0.95 1.6 1.6 0.95-1.6 0.95-0.95 1.6-0.95-1.6-1.6-0.95 1.6-0.95zM144.2 158.95l0.95 1.6 1.6 0.95-1.6 0.95-0.95 1.6-0.95-1.6-1.6-0.95 1.6-0.95zM145.7 157.95l0.95 1.6 1.6 0.95-1.6 0.95-0.95 1.6-0.95-1.6-1.6-0.95 1.6-0.95zM129.4 167.65l0.95 1.6 1.6 0.95-1.6 0.95-0.95 1.6-0.95-1.6-1.6-0.95 1.6-0.95zM140.1 168.15l0.95 1.6 1.6 0.95-1.6 0.95-0.95 1.6-0.95-1.6-1.6-0.95 1.6-0.95zM141.6 170.25l0.95 1.6 1.6 0.95-1.6 0.95-0.95 1.6-0.95-1.6-1.6-0.95 1.6-0.95zM142.7 171.75l0.95 1.6 1.6 0.95-1.6 0.95-0.95 1.6-0.95-1.6-1.6-0.95 1.6-0.95zM143.7 172.75l0.95 1.6 1.6 0.95-1.6 0.95-0.95 1.6-0.95-1.6-1.6-0.95 1.6-0.95zM148.8 163.55l0.95 1.6 1.6 0.95-1.6 0.95-0.95 1.6-0.95-1.6-1.6-0.95 1.6-0.95zM148.3 166.65l0.95 1.6 1.6 0.95-1.6 0.95-0.95 1.6-0.95-1.6-1.6-0.95 1.6-0.95zM150.8 170.75l0.95 1.6 1.6 0.95-1.6 0.95-0.95 1.6-0.95-1.6-1.6-0.95 1.6-0.95zM151.9 172.75l0.95 1.6 1.6 0.95-1.6 0.95-0.95 1.6-0.95-1.6-1.6-0.95 1.6-0.95zM150.3 174.85l0.95 1.6 1.6 0.95-1.6 0.95-0.95 1.6-0.95-1.6-1.6-0.95 1.6-0.95zM152.4 175.85l0.95 1.6 1.6 0.95-1.6 0.95-0.95 1.6-0.95-1.6-1.6-0.95 1.6-0.95zM153.4 177.85l0.95 1.6 1.6 0.95-1.6 0.95-0.95 1.6-0.95-1.6-1.6-0.95 1.6-0.95zM125.3 176.85l0.95 1.6 1.6 0.95-1.6 0.95-0.95 1.6-0.95-1.6-1.6-0.95 1.6-0.95zM130.4 175.35l0.95 1.6 1.6 0.95-1.6 0.95-0.95 1.6-0.95-1.6-1.6-0.95 1.6-0.95zM141.1 179.95l0.95 1.6 1.6 0.95-1.6 0.95-0.95 1.6-0.95-1.6-1.6-0.95 1.6-0.95zM149.8 188.15l0.95 1.6 1.6 0.95-1.6 0.95-0.95 1.6-0.95-1.6-1.6-0.95 1.6-0.95zM153.9 193.25l0.95 1.6 1.6 0.95-1.6 0.95-0.95 1.6-0.95-1.6-1.6-0.95 1.6-0.95zM159.5 190.15l0.95 1.6 1.6 0.95-1.6 0.95-0.95 1.6-0.95-1.6-1.6-0.95 1.6-0.95zM167.2 192.75l0.95 1.6 1.6 0.95-1.6 0.95-0.95 1.6-0.95-1.6-1.6-0.95 1.6-0.95zM144.2 197.35l0.95 1.6 1.6 0.95-1.6 0.95-0.95 1.6-0.95-1.6-1.6-0.95 1.6-0.95zM155.9 202.45l0.95 1.6 1.6 0.95-1.6 0.95-0.95 1.6-0.95-1.6-1.6-0.95 1.6-0.95zM162.1 205.45l0.95 1.6 1.6 0.95-1.6 0.95-0.95 1.6-0.95-1.6-1.6-0.95 1.6-0.95zM169.2 206.45l0.95 1.6 1.6 0.95-1.6 0.95-0.95 1.6-0.95-1.6-1.6-0.95 1.6-0.95zM176.9 175.85l0.95 1.6 1.6 0.95-1.6 0.95-0.95 1.6-0.95-1.6-1.6-0.95 1.6-0.95zM173.3 181.95l0.95 1.6 1.6 0.95-1.6 0.95-0.95 1.6-0.95-1.6-1.6-0.95 1.6-0.95zM175.9 188.65l0.95 1.6 1.6 0.95-1.6 0.95-0.95 1.6-0.95-1.6-1.6-0.95 1.6-0.95zM200.4 158.45l0.95 1.6 1.6 0.95-1.6 0.95-0.95 1.6-0.95-1.6-1.6-0.95 1.6-0.95zM198.3 160.05l0.95 1.6 1.6 0.95-1.6 0.95-0.95 1.6-0.95-1.6-1.6-0.95 1.6-0.95zM196.8 161.55l0.95 1.6 1.6 0.95-1.6 0.95-0.95 1.6-0.95-1.6-1.6-0.95 1.6-0.95zM195.3 163.55l0.95 1.6 1.6 0.95-1.6 0.95-0.95 1.6-0.95-1.6-1.6-0.95 1.6-0.95zM195.8 165.65l0.95 1.6 1.6 0.95-1.6 0.95-0.95 1.6-0.95-1.6-1.6-0.95 1.6-0.95zM192.2 164.65l0.95 1.6 1.6 0.95-1.6 0.95-0.95 1.6-0.95-1.6-1.6-0.95 1.6-0.95zM188.1 169.25l0.95 1.6 1.6 0.95-1.6 0.95-0.95 1.6-0.95-1.6-1.6-0.95 1.6-0.95zM184 172.75l0.95 1.6 1.6 0.95-1.6 0.95-0.95 1.6-0.95-1.6-1.6-0.95 1.6-0.95zM209.1 164.65l0.95 1.6 1.6 0.95-1.6 0.95-0.95 1.6-0.95-1.6-1.6-0.95 1.6-0.95zM207 168.15l0.95 1.6 1.6 0.95-1.6 0.95-0.95 1.6-0.95-1.6-1.6-0.95 1.6-0.95zM237.2 157.95l0.95 1.6 1.6 0.95-1.6 0.95-0.95 1.6-0.95-1.6-1.6-0.95 1.6-0.95zM237.2 175.85l0.95 1.6 1.6 0.95-1.6 0.95-0.95 1.6-0.95-1.6-1.6-0.95 1.6-0.95zM228.5 178.95l0.95 1.6 1.6 0.95-1.6 0.95-0.95 1.6-0.95-1.6-1.6-0.95 1.6-0.95zM216.7 185.05l0.95 1.6 1.6 0.95-1.6 0.95-0.95 1.6-0.95-1.6-1.6-0.95 1.6-0.95zM204.5 186.55l0.95 1.6 1.6 0.95-1.6 0.95-0.95 1.6-0.95-1.6-1.6-0.95 1.6-0.95zM192.2 190.65l0.95 1.6 1.6 0.95-1.6 0.95-0.95 1.6-0.95-1.6-1.6-0.95 1.6-0.95zM183 192.75l0.95 1.6 1.6 0.95-1.6 0.95-0.95 1.6-0.95-1.6-1.6-0.95 1.6-0.95zM195.3 195.75l0.95 1.6 1.6 0.95-1.6 0.95-0.95 1.6-0.95-1.6-1.6-0.95 1.6-0.95zM227 198.35l0.95 1.6 1.6 0.95-1.6 0.95-0.95 1.6-0.95-1.6-1.6-0.95 1.6-0.95zM214.7 201.95l0.95 1.6 1.6 0.95-1.6 0.95-0.95 1.6-0.95-1.6-1.6-0.95 1.6-0.95zM250 196.25l0.95 1.6 1.6 0.95-1.6 0.95-0.95 1.6-0.95-1.6-1.6-0.95 1.6-0.95zM262.1 185.45l0.95 1.6 1.6 0.95-1.6 0.95-0.95 1.6-0.95-1.6-1.6-0.95 1.6-0.95zM282.2 186.35l0.95 1.6 1.6 0.95-1.6 0.95-0.95 1.6-0.95-1.6-1.6-0.95 1.6-0.95zM280.5 195.15l0.95 1.6 1.6 0.95-1.6 0.95-0.95 1.6-0.95-1.6-1.6-0.95 1.6-0.95zM286 199.95l0.95 1.6 1.6 0.95-1.6 0.95-0.95 1.6-0.95-1.6-1.6-0.95 1.6-0.95zM165.1 209.05l0.95 1.6 1.6 0.95-1.6 0.95-0.95 1.6-0.95-1.6-1.6-0.95 1.6-0.95zM172.3 212.65l0.95 1.6 1.6 0.95-1.6 0.95-0.95 1.6-0.95-1.6-1.6-0.95 1.6-0.95zM177.4 210.15l0.95 1.6 1.6 0.95-1.6 0.95-0.95 1.6-0.95-1.6-1.6-0.95 1.6-0.95zM178.4 212.65l0.95 1.6 1.6 0.95-1.6 0.95-0.95 1.6-0.95-1.6-1.6-0.95 1.6-0.95zM158.5 223.35l0.95 1.6 1.6 0.95-1.6 0.95-0.95 1.6-0.95-1.6-1.6-0.95 1.6-0.95zM121.7 230.05l0.95 1.6 1.6 0.95-1.6 0.95-0.95 1.6-0.95-1.6-1.6-0.95 1.6-0.95zM187.6 211.15l0.95 1.6 1.6 0.95-1.6 0.95-0.95 1.6-0.95-1.6-1.6-0.95 1.6-0.95zM196.8 215.75l0.95 1.6 1.6 0.95-1.6 0.95-0.95 1.6-0.95-1.6-1.6-0.95 1.6-0.95zM200.9 215.95l0.95 1.6 1.6 0.95-1.6 0.95-0.95 1.6-0.95-1.6-1.6-0.95 1.6-0.95zM211.6 215.75l0.95 1.6 1.6 0.95-1.6 0.95-0.95 1.6-0.95-1.6-1.6-0.95 1.6-0.95zM225.9 216.25l0.95 1.6 1.6 0.95-1.6 0.95-0.95 1.6-0.95-1.6-1.6-0.95 1.6-0.95zM239.7 215.75l0.95 1.6 1.6 0.95-1.6 0.95-0.95 1.6-0.95-1.6-1.6-0.95 1.6-0.95zM231.9 222.35l0.95 1.6 1.6 0.95-1.6 0.95-0.95 1.6-0.95-1.6-1.6-0.95 1.6-0.95zM285.7 230.85l0.95 1.6 1.6 0.95-1.6 0.95-0.95 1.6-0.95-1.6-1.6-0.95 1.6-0.95z" fill="#808080"/></defs>
<g clip-path="url(#pc)" transform="translate(0 0)"><use href="#coast"/></g>
<path d="M44.45 234.49v-2.2M44.45 13.55v2.2M48.55 234.49v-2.2M48.55 13.55v2.2M52.66 234.49v-5M52.66 13.55v5M56.76 234.49v-2.2M56.76 13.55v2.2M60.86 234.49v-2.2M60.86 13.55v2.2M64.97 234.49v-2.2M64.97 13.55v2.2M69.07 234.49v-2.2M69.07 13.55v2.2M73.17 234.49v-2.2M73.17 13.55v2.2M77.28 234.49v-2.2M77.28 13.55v2.2M81.38 234.49v-2.2M81.38 13.55v2.2M85.48 234.49v-2.2M85.48 13.55v2.2M89.58 234.49v-2.2M89.58 13.55v2.2M93.69 234.49v-5M93.69 13.55v5M97.79 234.49v-2.2M97.79 13.55v2.2M101.89 234.49v-2.2M101.89 13.55v2.2M106 234.49v-2.2M106 13.55v2.2M110.1 234.49v-2.2M110.1 13.55v2.2M114.2 234.49v-2.2M114.2 13.55v2.2M118.31 234.49v-2.2M118.31 13.55v2.2M122.41 234.49v-2.2M122.41 13.55v2.2M126.51 234.49v-2.2M126.51 13.55v2.2M130.61 234.49v-2.2M130.61 13.55v2.2M134.72 234.49v-5M134.72 13.55v5M138.82 234.49v-2.2M138.82 13.55v2.2M142.92 234.49v-2.2M142.92 13.55v2.2M147.03 234.49v-2.2M147.03 13.55v2.2M151.13 234.49v-2.2M151.13 13.55v2.2M155.23 234.49v-2.2M155.23 13.55v2.2M159.34 234.49v-2.2M159.34 13.55v2.2M163.44 234.49v-2.2M163.44 13.55v2.2M167.54 234.49v-2.2M167.54 13.55v2.2M171.64 234.49v-2.2M171.64 13.55v2.2M175.75 234.49v-5M175.75 13.55v5M179.85 234.49v-2.2M179.85 13.55v2.2M183.95 234.49v-2.2M183.95 13.55v2.2M188.06 234.49v-2.2M188.06 13.55v2.2M192.16 234.49v-2.2M192.16 13.55v2.2M196.26 234.49v-2.2M196.26 13.55v2.2M200.37 234.49v-2.2M200.37 13.55v2.2M204.47 234.49v-2.2M204.47 13.55v2.2M208.57 234.49v-2.2M208.57 13.55v2.2M212.67 234.49v-2.2M212.67 13.55v2.2M216.78 234.49v-5M216.78 13.55v5M220.88 234.49v-2.2M220.88 13.55v2.2M224.98 234.49v-2.2M224.98 13.55v2.2M229.09 234.49v-2.2M229.09 13.55v2.2M233.19 234.49v-2.2M233.19 13.55v2.2M237.29 234.49v-2.2M237.29 13.55v2.2M241.4 234.49v-2.2M241.4 13.55v2.2M245.5 234.49v-2.2M245.5 13.55v2.2M249.6 234.49v-2.2M249.6 13.55v2.2M253.7 234.49v-2.2M253.7 13.55v2.2M257.81 234.49v-5M257.81 13.55v5M261.91 234.49v-2.2M261.91 13.55v2.2M266.01 234.49v-2.2M266.01 13.55v2.2M270.12 234.49v-2.2M270.12 13.55v2.2M274.22 234.49v-2.2M274.22 13.55v2.2M278.32 234.49v-2.2M278.32 13.55v2.2M282.43 234.49v-2.2M282.43 13.55v2.2M286.53 234.49v-2.2M286.53 13.55v2.2M290.63 234.49v-2.2M290.63 13.55v2.2M294.73 234.49v-2.2M294.73 13.55v2.2M298.84 234.49v-5M298.84 13.55v5M302.94 234.49v-2.2M302.94 13.55v2.2M307.04 234.49v-2.2M307.04 13.55v2.2M42.4 232.48h2.8M309.09 232.48h-2.8M42.4 228.46h2.8M309.09 228.46h-2.8M42.4 224.44h5.3M309.09 224.44h-5.3M42.4 220.43h2.8M309.09 220.43h-2.8M42.4 216.41h2.8M309.09 216.41h-2.8M42.4 212.39h2.8M309.09 212.39h-2.8M42.4 208.37h2.8M309.09 208.37h-2.8M42.4 204.36h2.8M309.09 204.36h-2.8M42.4 200.34h2.8M309.09 200.34h-2.8M42.4 196.32h2.8M309.09 196.32h-2.8M42.4 192.31h2.8M309.09 192.31h-2.8M42.4 188.29h2.8M309.09 188.29h-2.8M42.4 184.27h5.3M309.09 184.27h-5.3M42.4 180.26h2.8M309.09 180.26h-2.8M42.4 176.24h2.8M309.09 176.24h-2.8M42.4 172.22h2.8M309.09 172.22h-2.8M42.4 168.2h2.8M309.09 168.2h-2.8M42.4 164.19h2.8M309.09 164.19h-2.8M42.4 160.17h2.8M309.09 160.17h-2.8M42.4 156.15h2.8M309.09 156.15h-2.8M42.4 152.14h2.8M309.09 152.14h-2.8M42.4 148.12h2.8M309.09 148.12h-2.8M42.4 144.1h5.3M309.09 144.1h-5.3M42.4 140.09h2.8M309.09 140.09h-2.8M42.4 136.07h2.8M309.09 136.07h-2.8M42.4 132.05h2.8M309.09 132.05h-2.8M42.4 128.03h2.8M309.09 128.03h-2.8M42.4 124.02h2.8M309.09 124.02h-2.8M42.4 120h2.8M309.09 120h-2.8M42.4 115.98h2.8M309.09 115.98h-2.8M42.4 111.97h2.8M309.09 111.97h-2.8M42.4 107.95h2.8M309.09 107.95h-2.8M42.4 103.93h5.3M309.09 103.93h-5.3M42.4 99.92h2.8M309.09 99.92h-2.8M42.4 95.9h2.8M309.09 95.9h-2.8M42.4 91.88h2.8M309.09 91.88h-2.8M42.4 87.86h2.8M309.09 87.86h-2.8M42.4 83.85h2.8M309.09 83.85h-2.8M42.4 79.83h2.8M309.09 79.83h-2.8M42.4 75.81h2.8M309.09 75.81h-2.8M42.4 71.8h2.8M309.09 71.8h-2.8M42.4 67.78h2.8M309.09 67.78h-2.8M42.4 63.76h5.3M309.09 63.76h-5.3M42.4 59.75h2.8M309.09 59.75h-2.8M42.4 55.73h2.8M309.09 55.73h-2.8M42.4 51.71h2.8M309.09 51.71h-2.8M42.4 47.69h2.8M309.09 47.69h-2.8M42.4 43.68h2.8M309.09 43.68h-2.8M42.4 39.66h2.8M309.09 39.66h-2.8M42.4 35.64h2.8M309.09 35.64h-2.8M42.4 31.63h2.8M309.09 31.63h-2.8M42.4 27.61h2.8M309.09 27.61h-2.8M42.4 23.59h5.3M309.09 23.59h-5.3M42.4 19.58h2.8M309.09 19.58h-2.8M42.4 15.56h2.8M309.09 15.56h-2.8" stroke="#777" stroke-width="0.9" fill="none"/>
<rect x="42.4" y="13.55" width="266.69" height="220.94" fill="none" stroke="#939393" stroke-width="0.95"/>
<text x="52.66" y="254.89" text-anchor="middle" font-size="11" stroke="#000" stroke-width="0.3">80</text>
<text x="93.69" y="254.89" text-anchor="middle" font-size="11" stroke="#000" stroke-width="0.3">90</text>
<text x="134.72" y="254.89" text-anchor="middle" font-size="11" stroke="#000" stroke-width="0.3">100</text>
<text x="175.75" y="254.89" text-anchor="middle" font-size="11" stroke="#000" stroke-width="0.3">110</text>
<text x="216.78" y="254.89" text-anchor="middle" font-size="11" stroke="#000" stroke-width="0.3">120</text>
<text x="257.81" y="254.89" text-anchor="middle" font-size="11" stroke="#000" stroke-width="0.3">130</text>
<text x="298.84" y="254.89" text-anchor="middle" font-size="11" stroke="#000" stroke-width="0.3">140</text>
<text x="37.9" y="229.84" text-anchor="end" font-size="11" stroke="#000" stroke-width="0.3">-10</text>
<text x="37.9" y="189.67" text-anchor="end" font-size="11" stroke="#000" stroke-width="0.3">0</text>
<text x="37.9" y="149.5" text-anchor="end" font-size="11" stroke="#000" stroke-width="0.3">10</text>
<text x="37.9" y="109.33" text-anchor="end" font-size="11" stroke="#000" stroke-width="0.3">20</text>
<text x="37.9" y="69.16" text-anchor="end" font-size="11" stroke="#000" stroke-width="0.3">30</text>
<text x="37.9" y="28.99" text-anchor="end" font-size="11" stroke="#000" stroke-width="0.3">40</text>
<text transform="translate(9 124.02) rotate(-90)" text-anchor="middle" font-size="11.4" stroke="#000" stroke-width="0.3">Latitude</text>
<text x="91.3" y="9.3" font-size="11" textLength="161.8" lengthAdjust="spacingAndGlyphs" xml:space="preserve" stroke="#000" stroke-width="0.3">Distribution of Rx and Tx Stations</text>
<use href="#txg" x="0" y="0"/>
<ellipse cx="132.13" cy="141.21" rx="27.77" ry="26.71" fill="none" stroke="#151515" stroke-width="1.5"/>
<ellipse cx="218.62" cy="91.72" rx="29.65" ry="26.71" fill="none" stroke="#151515" stroke-width="1.5"/>
<ellipse cx="234.79" cy="86.34" rx="29.96" ry="26.71" fill="none" stroke="#151515" stroke-width="1.5"/>
<ellipse cx="250.5" cy="77.3" rx="30.52" ry="26.71" fill="none" stroke="#151515" stroke-width="1.5"/>
<ellipse cx="227.98" cy="140.89" rx="27.78" ry="26.71" fill="none" stroke="#151515" stroke-width="1.5"/>
<path d="M126.78 106.01L133.88 106.01L130.33 113.11Z" fill="#000"/>
<path d="M155.66 96.89L162.76 96.89L159.21 103.99Z" fill="#000"/>
<path d="M154.47 144.09L161.57 144.09L158.02 151.19Z" fill="#000"/>
<path d="M132.48 182.18L139.58 182.18L136.03 189.28Z" fill="#000"/>
<path d="M229.23 138.79L236.33 138.79L232.78 145.89Z" fill="#000"/>
<path d="M246.46 73.52L253.56 73.52L250.01 80.62Z" fill="#000"/>
<circle cx="132.13" cy="141.21" r="3.2" fill="#000"/>
<circle cx="57.1" cy="28.2" r="3.1" fill="#000"/>
<text x="65.8" y="30.8" font-size="7.4" stroke="#000" stroke-width="0.3">Rx</text>
<path d="M53.55 36.1L60.65 36.1L57.1 43.2Z" fill="#000"/>
<text x="65.8" y="42.8" font-size="7.4" textLength="37.8" lengthAdjust="spacingAndGlyphs" stroke="#000" stroke-width="0.3">Ionosonde</text>
<path d="M57.1 49.7L57.85 51.45L59.6 52.2L57.85 52.95L57.1 54.7L56.35 52.95L54.6 52.2L56.35 51.45Z" fill="#777"/>
<text x="65.8" y="55" font-size="7.4" fill="#777" stroke="#777" stroke-width="0.3">Tx</text>
<text x="62.5" y="216.7" font-family="Liberation Serif, serif" font-weight="bold" font-style="italic" font-size="32.5" stroke="#000" stroke-width="0.22">a</text>
<g clip-path="url(#pc)" transform="translate(333 0)"><use href="#coast"/></g>
<path d="M377.45 234.49v-2.2M377.45 13.55v2.2M381.55 234.49v-2.2M381.55 13.55v2.2M385.66 234.49v-5M385.66 13.55v5M389.76 234.49v-2.2M389.76 13.55v2.2M393.86 234.49v-2.2M393.86 13.55v2.2M397.97 234.49v-2.2M397.97 13.55v2.2M402.07 234.49v-2.2M402.07 13.55v2.2M406.17 234.49v-2.2M406.17 13.55v2.2M410.28 234.49v-2.2M410.28 13.55v2.2M414.38 234.49v-2.2M414.38 13.55v2.2M418.48 234.49v-2.2M418.48 13.55v2.2M422.58 234.49v-2.2M422.58 13.55v2.2M426.69 234.49v-5M426.69 13.55v5M430.79 234.49v-2.2M430.79 13.55v2.2M434.89 234.49v-2.2M434.89 13.55v2.2M439 234.49v-2.2M439 13.55v2.2M443.1 234.49v-2.2M443.1 13.55v2.2M447.2 234.49v-2.2M447.2 13.55v2.2M451.31 234.49v-2.2M451.31 13.55v2.2M455.41 234.49v-2.2M455.41 13.55v2.2M459.51 234.49v-2.2M459.51 13.55v2.2M463.61 234.49v-2.2M463.61 13.55v2.2M467.72 234.49v-5M467.72 13.55v5M471.82 234.49v-2.2M471.82 13.55v2.2M475.92 234.49v-2.2M475.92 13.55v2.2M480.03 234.49v-2.2M480.03 13.55v2.2M484.13 234.49v-2.2M484.13 13.55v2.2M488.23 234.49v-2.2M488.23 13.55v2.2M492.34 234.49v-2.2M492.34 13.55v2.2M496.44 234.49v-2.2M496.44 13.55v2.2M500.54 234.49v-2.2M500.54 13.55v2.2M504.64 234.49v-2.2M504.64 13.55v2.2M508.75 234.49v-5M508.75 13.55v5M512.85 234.49v-2.2M512.85 13.55v2.2M516.95 234.49v-2.2M516.95 13.55v2.2M521.06 234.49v-2.2M521.06 13.55v2.2M525.16 234.49v-2.2M525.16 13.55v2.2M529.26 234.49v-2.2M529.26 13.55v2.2M533.37 234.49v-2.2M533.37 13.55v2.2M537.47 234.49v-2.2M537.47 13.55v2.2M541.57 234.49v-2.2M541.57 13.55v2.2M545.67 234.49v-2.2M545.67 13.55v2.2M549.78 234.49v-5M549.78 13.55v5M553.88 234.49v-2.2M553.88 13.55v2.2M557.98 234.49v-2.2M557.98 13.55v2.2M562.09 234.49v-2.2M562.09 13.55v2.2M566.19 234.49v-2.2M566.19 13.55v2.2M570.29 234.49v-2.2M570.29 13.55v2.2M574.4 234.49v-2.2M574.4 13.55v2.2M578.5 234.49v-2.2M578.5 13.55v2.2M582.6 234.49v-2.2M582.6 13.55v2.2M586.7 234.49v-2.2M586.7 13.55v2.2M590.81 234.49v-5M590.81 13.55v5M594.91 234.49v-2.2M594.91 13.55v2.2M599.01 234.49v-2.2M599.01 13.55v2.2M603.12 234.49v-2.2M603.12 13.55v2.2M607.22 234.49v-2.2M607.22 13.55v2.2M611.32 234.49v-2.2M611.32 13.55v2.2M615.43 234.49v-2.2M615.43 13.55v2.2M619.53 234.49v-2.2M619.53 13.55v2.2M623.63 234.49v-2.2M623.63 13.55v2.2M627.73 234.49v-2.2M627.73 13.55v2.2M631.84 234.49v-5M631.84 13.55v5M635.94 234.49v-2.2M635.94 13.55v2.2M640.04 234.49v-2.2M640.04 13.55v2.2M375.4 232.48h2.8M642.1 232.48h-2.8M375.4 228.46h2.8M642.1 228.46h-2.8M375.4 224.44h5.3M642.1 224.44h-5.3M375.4 220.43h2.8M642.1 220.43h-2.8M375.4 216.41h2.8M642.1 216.41h-2.8M375.4 212.39h2.8M642.1 212.39h-2.8M375.4 208.37h2.8M642.1 208.37h-2.8M375.4 204.36h2.8M642.1 204.36h-2.8M375.4 200.34h2.8M642.1 200.34h-2.8M375.4 196.32h2.8M642.1 196.32h-2.8M375.4 192.31h2.8M642.1 192.31h-2.8M375.4 188.29h2.8M642.1 188.29h-2.8M375.4 184.27h5.3M642.1 184.27h-5.3M375.4 180.26h2.8M642.1 180.26h-2.8M375.4 176.24h2.8M642.1 176.24h-2.8M375.4 172.22h2.8M642.1 172.22h-2.8M375.4 168.2h2.8M642.1 168.2h-2.8M375.4 164.19h2.8M642.1 164.19h-2.8M375.4 160.17h2.8M642.1 160.17h-2.8M375.4 156.15h2.8M642.1 156.15h-2.8M375.4 152.14h2.8M642.1 152.14h-2.8M375.4 148.12h2.8M642.1 148.12h-2.8M375.4 144.1h5.3M642.1 144.1h-5.3M375.4 140.09h2.8M642.1 140.09h-2.8M375.4 136.07h2.8M642.1 136.07h-2.8M375.4 132.05h2.8M642.1 132.05h-2.8M375.4 128.03h2.8M642.1 128.03h-2.8M375.4 124.02h2.8M642.1 124.02h-2.8M375.4 120h2.8M642.1 120h-2.8M375.4 115.98h2.8M642.1 115.98h-2.8M375.4 111.97h2.8M642.1 111.97h-2.8M375.4 107.95h2.8M642.1 107.95h-2.8M375.4 103.93h5.3M642.1 103.93h-5.3M375.4 99.92h2.8M642.1 99.92h-2.8M375.4 95.9h2.8M642.1 95.9h-2.8M375.4 91.88h2.8M642.1 91.88h-2.8M375.4 87.86h2.8M642.1 87.86h-2.8M375.4 83.85h2.8M642.1 83.85h-2.8M375.4 79.83h2.8M642.1 79.83h-2.8M375.4 75.81h2.8M642.1 75.81h-2.8M375.4 71.8h2.8M642.1 71.8h-2.8M375.4 67.78h2.8M642.1 67.78h-2.8M375.4 63.76h5.3M642.1 63.76h-5.3M375.4 59.75h2.8M642.1 59.75h-2.8M375.4 55.73h2.8M642.1 55.73h-2.8M375.4 51.71h2.8M642.1 51.71h-2.8M375.4 47.69h2.8M642.1 47.69h-2.8M375.4 43.68h2.8M642.1 43.68h-2.8M375.4 39.66h2.8M642.1 39.66h-2.8M375.4 35.64h2.8M642.1 35.64h-2.8M375.4 31.63h2.8M642.1 31.63h-2.8M375.4 27.61h2.8M642.1 27.61h-2.8M375.4 23.59h5.3M642.1 23.59h-5.3M375.4 19.58h2.8M642.1 19.58h-2.8M375.4 15.56h2.8M642.1 15.56h-2.8" stroke="#777" stroke-width="0.9" fill="none"/>
<rect x="375.4" y="13.55" width="266.69" height="220.94" fill="none" stroke="#939393" stroke-width="0.95"/>
<text x="385.66" y="254.89" text-anchor="middle" font-size="11" stroke="#000" stroke-width="0.3">80</text>
<text x="426.69" y="254.89" text-anchor="middle" font-size="11" stroke="#000" stroke-width="0.3">90</text>
<text x="467.72" y="254.89" text-anchor="middle" font-size="11" stroke="#000" stroke-width="0.3">100</text>
<text x="508.75" y="254.89" text-anchor="middle" font-size="11" stroke="#000" stroke-width="0.3">110</text>
<text x="549.78" y="254.89" text-anchor="middle" font-size="11" stroke="#000" stroke-width="0.3">120</text>
<text x="590.81" y="254.89" text-anchor="middle" font-size="11" stroke="#000" stroke-width="0.3">130</text>
<text x="631.84" y="254.89" text-anchor="middle" font-size="11" stroke="#000" stroke-width="0.3">140</text>
<text x="370.9" y="229.84" text-anchor="end" font-size="11" stroke="#000" stroke-width="0.3">-10</text>
<text x="370.9" y="189.67" text-anchor="end" font-size="11" stroke="#000" stroke-width="0.3">0</text>
<text x="370.9" y="149.5" text-anchor="end" font-size="11" stroke="#000" stroke-width="0.3">10</text>
<text x="370.9" y="109.33" text-anchor="end" font-size="11" stroke="#000" stroke-width="0.3">20</text>
<text x="370.9" y="69.16" text-anchor="end" font-size="11" stroke="#000" stroke-width="0.3">30</text>
<text x="370.9" y="28.99" text-anchor="end" font-size="11" stroke="#000" stroke-width="0.3">40</text>
<text transform="translate(342 124.02) rotate(-90)" text-anchor="middle" font-size="11.4" stroke="#000" stroke-width="0.3">Latitude</text>
<text x="439.6" y="9.3" font-size="11" textLength="135.1" lengthAdjust="spacingAndGlyphs" xml:space="preserve" stroke="#000" stroke-width="0.3">Rx: CHF (35.66N, 139.54E)</text>
<use href="#txg" x="333" y="0"/>
<path d="M566 46.5L566.6 47L567.2 47.5L567.8 48L568.4 48.5L569 49L569.6 49.5L570.2 50L570.8 50.5L571.4 51L572.1 51.5L572.8 51.8L573.5 52.1L574.3 52.3L575 52.6L575.7 52.9L576.5 53.2L577.2 53.5L577.9 53.7L578.7 54L579.4 54.3L580.2 54.5L580.9 54.7L581.7 54.8L582.5 54.9L583.3 55L584 55.2L584.8 55.3L585.6 55.4L586.4 55.5L587.2 55.7L587.9 55.8L588.7 55.8L589.5 55.7L590.3 55.7L591.1 55.7L591.9 55.6L592.6 55.6L593.4 55.6L594.2 55.5L595 55.5L596.8 46.7L596 47L595.2 46.9L594.4 47L593.6 47.2L592.8 46.5L592 47.2L591.2 47.6L590.4 47.2L589.6 46.8L588.8 47L588.1 46.7L587.3 46.9L586.5 47.3L585.7 47.3L585 47.8L584.2 47.2L583.4 47.1L582.6 47.3L581.8 46.8L581.1 46.8L580.3 47L579.6 47.1L578.8 47.2L578.1 47.6L577.3 47.5L576.6 47.1L575.8 46.7L575.1 46.6L574.3 46.2L573.6 46.7L572.9 46.5L572.3 46.3L571.6 45.7L571 46L570.3 45.8L569.7 45.8L569 44.7L568.4 44.4L567.7 45.3L567 45.1Z" fill="#0000f5" fill-opacity="0.5"/>
<path d="M567 44.9L567.7 45.3L568.4 44.6L569 45.4L569.7 45.4L570.3 46.1L571 46.2L571.6 46.4L572.3 46.1L572.9 46.9L573.6 46.5L574.3 46.4L575.1 46.3L575.8 46.5L576.6 46.6L577.3 47.2L578.1 47L578.8 47.2L579.6 46.8L580.3 47.8L581.1 46.8L581.8 47.7L582.6 47L583.4 46.8L584.2 47.1L585 47.8L585.7 47.3L586.5 47L587.3 47.7L588.1 47.5L588.8 47L589.6 47.4L590.4 47.7L591.2 47.3L592 46.7L592.8 46.4L593.6 47L594.4 46.1L595.2 46.2L596 46.3L596.8 46.7L597.1 44.1L596.3 44.8L595.5 44.2L594.7 45.5L593.9 44.9L593.1 44.7L592.3 45.6L591.5 44.7L590.8 44.8L590 45L589.2 45.1L588.4 45L587.6 45.5L586.8 45.3L586.1 46.1L585.3 45.3L584.5 45.5L583.7 46L583 46.2L582.2 46.5L581.4 46.3L580.7 46.1L579.9 45.9L579.2 45.6L578.4 46L577.7 45.8L576.9 46.3L576.2 46.2L575.4 46.1L574.6 45.8L573.9 45.2L573.2 45.7L572.6 45.4L571.9 45.6L571.2 44.8L570.6 44.9L569.9 44.7L569.2 44.6L568.6 44.8L567.9 44.9L567.3 44Z" fill="#0a9a5c" fill-opacity="0.3"/>
<path d="M567.3 44L567.9 44.3L568.6 44.8L569.2 44.9L569.9 45L570.6 44.5L571.2 44.8L571.9 45.1L572.6 44.8L573.2 45.3L573.9 45.1L574.6 45.3L575.4 45.5L576.2 45.7L576.9 45.2L577.7 45.3L578.4 46L579.2 46.4L579.9 46.5L580.7 45.8L581.4 46.1L582.2 46.3L583 45.6L583.7 45.9L584.5 45.3L585.3 45.3L586.1 45.4L586.8 45.3L587.6 45.3L588.4 45.5L589.2 45.7L590 46L590.8 45.7L591.5 45.3L592.3 44.7L593.1 45.1L593.9 44.5L594.7 44.7L595.5 45.3L596.3 44.4L597.1 44.4L598.3 37.8L597.5 39.1L596.7 38.8L595.9 38.8L595.1 39.3L594.3 38.7L593.5 39.1L592.7 39.4L591.9 39.4L591.1 40.2L590.3 39.4L589.5 39.6L588.8 40L588 39.9L587.2 39.8L586.4 40.7L585.7 40.5L584.9 40.2L584.1 40.8L583.3 41.3L582.6 41.3L581.8 41L581 41.1L580.3 42L579.5 41.6L578.8 41.2L578 41.2L577.2 41.4L576.5 41.4L575.7 42.2L574.9 42.7L574.2 42.2L573.5 42.4L572.8 42.8L572.1 42L571.5 42.7L570.8 42.5L570.1 43.1L569.4 43.2L568.7 43.1L568 42.3Z" fill="#40ff0a" fill-opacity="0.3"/>
<path d="M568 43.1L568.7 42.6L569.4 42.9L570.1 42.6L570.8 42.6L571.5 42.6L572.1 42.2L572.8 42.9L573.5 42.6L574.2 42.3L574.9 42.1L575.7 41.9L576.5 41.5L577.2 42.3L578 42.3L578.8 41.1L579.5 41.9L580.3 41.5L581 41.3L581.8 41L582.6 41.2L583.3 41.4L584.1 41.3L584.9 40.4L585.7 40.3L586.4 40.7L587.2 40.4L588 39.7L588.8 40.6L589.5 39.8L590.3 39.2L591.1 40.2L591.9 39L592.7 39L593.5 39.4L594.3 39.1L595.1 39L595.9 39.1L596.7 38.6L597.5 38.2L598.3 38.3L599.1 34.4L598.3 34.8L597.5 34.8L596.7 34.2L595.9 35.4L595.1 34.6L594.3 35.1L593.5 35.6L592.7 35.3L591.9 35.9L591.1 36.3L590.3 35.6L589.5 35.9L588.8 36.3L588 37.1L587.2 37.4L586.4 37.1L585.7 37.4L584.9 37.3L584.1 38.3L583.3 38.5L582.6 38.2L581.8 38.7L581 38.4L580.3 39L579.5 39.1L578.7 39.4L578 39.5L577.2 39L576.4 39.2L575.6 40.2L574.9 39.9L574.2 39.9L573.5 40L572.8 40.6L572 40.4L571.3 40.8L570.6 41.2L569.9 41L569.2 42.2L568.5 41.5Z" fill="#ffff00" fill-opacity="0.2"/>
<path d="M568.5 41.9L569.2 42.4L569.9 41.9L570.6 41.4L571.3 40.7L572 40.9L572.8 40.1L573.5 40.6L574.2 40.7L574.9 39.7L575.6 39.9L576.4 39.7L577.2 39.4L578 39.6L578.7 39.7L579.5 39.2L580.3 38.7L581 39.1L581.8 38.2L582.6 38.5L583.3 38.2L584.1 38.1L584.9 38L585.7 37L586.4 37.3L587.2 36.8L588 36.9L588.8 37.1L589.5 36.5L590.3 35.5L591.1 35.8L591.9 36L592.7 36L593.5 35.6L594.3 35.6L595.1 34.5L595.9 35.4L596.7 35L597.5 34.6L598.3 34.8L599.1 34.6L600 29.5L599.2 29.7L598.4 29.9L597.6 30.1L596.8 30.3L596 30.5L595.2 30.7L594.4 30.9L593.6 31.1L592.8 31.3L592 31.5L591.2 31.8L590.4 32.1L589.6 32.4L588.9 32.7L588.1 33L587.3 33.3L586.5 33.6L585.7 33.8L585 34.1L584.2 34.4L583.4 34.7L582.6 35L581.9 35.3L581.1 35.6L580.3 35.9L579.5 36.2L578.8 36.5L578 36.8L577.2 37L576.4 37.3L575.7 37.7L574.9 38L574.2 38.4L573.4 38.8L572.7 39.1L572 39.5L571.2 39.9L570.5 40.3L569.7 40.6L569 41Z" fill="#ffb400" fill-opacity="0.1"/>
<path d="M567.2 47.6L568.1 45.7M567.1 48.3L568.3 45.4M569 48.5L570.3 45.1M570 49.8L571.2 46.4M570.8 50.5L572.4 45.7M572.7 52.1L574.3 47.1M573.3 51.7L574.6 47.2M574.1 52.5L575.6 47.1M575.9 53.6L577.5 47.5M577.5 53.2L578.9 47.8M578.5 53.5L580.2 46.7M580.8 54.8L582.3 48.4M582.1 55.2L583.9 47.2M583.5 55.3L585.3 46.9M584.1 55.9L586.1 46.7M585.3 55.8L587.1 47M587.1 55.7L588.8 47.3M589.2 55.8L591.1 46.2M589.8 56.3L591.7 46.3M591.4 55.7L593.3 45.6M593.2 55.6L594.7 47.5M594 55.8L595.6 47.8" stroke="#0000f5" stroke-width="0.9" fill="none"/>
<path d="M568.1 45.7L568.3 45.3M568.3 45.4L568.6 44.8M570.3 45.1L570.6 44.4M571.2 46.4L571.5 45.6M572.4 45.7L572.7 44.8M574.3 47.1L574.6 46.1M574.6 47.2L574.9 46.2M575.6 47.1L575.9 46M577.5 47.5L577.8 46.3M578.9 47.8L579.2 46.5M580.2 46.7L580.5 45.4M582.3 48.4L582.6 47M583.9 47.2L584.2 45.7M585.3 46.9L585.7 45.4M586.1 46.7L586.4 45.1M587.1 47L587.4 45.4M588.8 47.3L589.1 45.6M591.1 46.2L591.4 44.5M591.7 46.3L592.1 44.6M593.3 45.6L593.7 43.9M594.7 47.5L595.1 45.7M595.6 47.8L595.9 46" stroke="#0a9a5c" stroke-width="0.8" fill="none"/>
<path d="M568.3 45.3L569.1 43.8M568.6 44.8L569.4 42.9M570.6 44.4L571.4 42.1M571.5 45.6L572.4 43M572.7 44.8L573.7 41.8M574.6 46.1L575.7 42.7M574.9 46.2L576 42.5M575.9 46L577 42.1M577.8 46.3L579 42.1M579.2 46.5L580.3 42.1M580.5 45.4L581.6 40.7M582.6 47L583.8 42.1M584.2 45.7L585.4 40.6M585.7 45.4L586.8 40.1M586.4 45.1L587.6 39.7M587.4 45.4L588.6 39.7M589.1 45.6L590.3 39.8M591.4 44.5L592.6 38.5M592.1 44.6L593.3 38.6M593.7 43.9L594.9 37.8M595.1 45.7L596.3 39.6M595.9 46L597.1 39.8" stroke="#40ff0a" stroke-width="0.8" fill="none"/>
<path d="M569.1 43.8L569.6 42.8M569.4 42.9L569.9 41.7M571.4 42.1L572 40.6M572.4 43L573 41.2M573.7 41.8L574.3 39.8M575.7 42.7L576.4 40.4M576 42.5L576.7 40.1M577 42.1L577.7 39.5M579 42.1L579.7 39.4M580.3 42.1L581.1 39.2M581.6 40.7L582.4 37.6M583.8 42.1L584.6 38.8M585.4 40.6L586.1 37.3M586.8 40.1L587.6 36.6M587.6 39.7L588.3 36.1M588.6 39.7L589.3 36M590.3 39.8L591 35.9M592.6 38.5L593.3 34.6M593.3 38.6L594 34.6M594.9 37.8L595.7 33.8M596.3 39.6L597.1 35.5M597.1 39.8L597.9 35.7" stroke="#ffff00" stroke-width="0.8" fill="none" stroke-dasharray="1.2 0.9"/>
<path d="M569.6 42.8L570.3 41.3M569.9 41.7L570.4 40.5M572 40.6L572.6 39M573 41.2L573.9 38.8M574.3 39.8L575 37.8M576.4 40.4L577.1 38M576.7 40.1L577.8 36.5M577.7 39.5L578.6 36.2M579.7 39.4L580.5 36.3M581.1 39.2L582.2 34.9M582.4 37.6L583.2 34.2M584.6 38.8L585.6 34.4M586.1 37.3L586.9 34M587.6 36.6L588.3 33.5M588.3 36.1L588.9 33.2M589.3 36L590.1 32.4M591 35.9L591.9 31.6M593.3 34.6L594 31.1M594 34.6L594.7 31.3M595.7 33.8L596.3 30.5M597.1 35.5L598.1 30M597.9 35.7L599 30" stroke="#ffb400" stroke-width="0.8" fill="none" stroke-dasharray="0.8 1.8"/>
<path d="M592 54.5L592.8 54.5L593.6 54.6L594.4 54.6L595.2 54.7L596 54.7L596.8 54.8L597.6 54.8L598.3 54.9L599.1 54.9L599.9 55L600.7 54.9L601.5 54.9L602.3 54.8L603.1 54.7L603.9 54.7L604.7 54.6L605.5 54.5L606.3 54.5L607.1 54.3L607.8 54.2L608.6 54.1L609.4 53.9L610.2 53.8L611 53.7L611.8 53.5L612.6 53.4L613.3 53.3L614.1 53.2L614.9 53.1L615.7 53L616.5 52.9L617.3 52.8L618.1 52.7L618.9 52.6L619.7 52.5L620.4 52.4L621.2 52.2L622 52.1L622.8 51.9L623.5 51.7L627.2 47.9L626.5 46.9L625.8 46.8L625.1 46.7L624.4 47.5L623.6 47.6L622.9 46.9L622.2 47.2L621.4 46.6L620.7 47.2L619.9 46.9L619.2 47L618.4 46.8L617.6 46.4L616.8 46.9L616 45.9L615.3 46.2L614.5 46.6L613.7 46.8L612.9 46L612.1 46.7L611.4 46.8L610.6 46.6L609.8 47.1L609 46.8L608.2 46.3L607.4 46.9L606.6 46.7L605.8 47.1L605 46.7L604.2 47.3L603.4 46.4L602.6 46.5L601.8 47.2L601 46.2L600.2 46.3L599.4 47L598.6 46.9L597.8 46.7L597 46.9L596.2 46.5Z" fill="#0000f5" fill-opacity="0.3"/>
<path d="M596.2 46.8L597 46.6L597.8 46.7L598.6 46.9L599.4 47.3L600.2 47.3L601 47.4L601.8 46.4L602.6 47.3L603.4 46.8L604.2 46.4L605 46.8L605.8 46.2L606.6 47.3L607.4 47.1L608.2 46.3L609 47L609.8 46.1L610.6 46.1L611.4 46.4L612.1 47.1L612.9 47.1L613.7 46L614.5 45.9L615.3 46.4L616 46L616.8 46.9L617.6 47L618.4 46.3L619.2 46.5L619.9 46.7L620.7 46.8L621.4 46.8L622.2 47.1L622.9 46.7L623.6 47.1L624.4 46.5L625.1 47.2L625.8 47.4L626.5 46.8L627.2 47.3L630.9 43.2L630.2 42.8L629.6 42.5L629 41.5L628.3 41.7L627.6 41.6L626.9 41.8L626.2 40.7L625.5 40.6L624.8 41L624.1 40.2L623.4 40.1L622.7 39.7L621.9 40.1L621.1 39.3L620.3 38.8L619.6 39.4L618.8 38.8L618 39.2L617.2 38.7L616.4 38.8L615.7 39.2L614.8 39L614 38.9L613.2 39.2L612.4 38.4L611.6 38.5L610.8 38.1L610 39L609.2 38.3L608.4 38.9L607.6 38.8L606.8 39.1L606 39.1L605.2 39L604.4 39.3L603.6 39.1L602.8 39.1L602 38.9L601.2 39.1L600.4 39.4Z" fill="#40ff0a" fill-opacity="0.2"/>
<path d="M600.4 39L601.2 39.4L602 38.5L602.8 39.5L603.6 38.9L604.4 38.6L605.2 38.6L606 38.8L606.8 38.5L607.6 38L608.4 38.8L609.2 38.2L610 38.3L610.8 38.5L611.6 38.2L612.4 38.5L613.2 38.6L614 38.4L614.8 39L615.7 38.7L616.4 38.4L617.2 38.6L618 39.4L618.8 38.9L619.6 39.4L620.3 39.2L621.1 39.3L621.9 39.4L622.7 39.7L623.4 39.8L624.1 39.8L624.8 41L625.5 41.3L626.2 41.5L626.9 40.9L627.6 41.9L628.3 41.8L629 41.8L629.6 41.8L630.2 42.4L630.9 42.4L633.3 40.6L632.7 40L632.2 39.2L631.6 38.3L631 38L630.3 38L629.6 37.7L629 37.6L628.3 36.6L627.6 36.7L626.9 35.3L626.3 36L625.5 35.2L624.7 34.9L624 35.2L623.2 34.2L622.4 34.8L621.6 34.6L620.9 33.7L620.1 34.3L619.3 33.7L618.5 33.3L617.7 34L616.9 33.3L616.1 33.8L615.3 33.7L614.5 33.1L613.7 33.4L612.9 32.8L612 33.4L611.2 32.8L610.4 33.2L609.6 33.5L608.8 33.1L608 33.3L607.2 33.4L606.4 33.8L605.6 33.5L604.8 34.1L604 33.4L603.2 34.3Z" fill="#ffff00" fill-opacity="0.1"/>
<path d="M603.2 34.3L604 34.5L604.8 34.4L605.6 34.2L606.4 33.7L607.2 33L608 33.7L608.8 32.9L609.6 33L610.4 33.3L611.2 33L612 33L612.9 33.7L613.7 33.3L614.5 33.1L615.3 33.1L616.1 33.8L616.9 33.5L617.7 33.9L618.5 33.4L619.3 33.3L620.1 33.9L620.9 34.5L621.6 33.9L622.4 34.8L623.2 35.2L624 35.2L624.7 35.5L625.5 34.7L626.3 35.7L626.9 36.3L627.6 35.7L628.3 36.4L629 36.8L629.6 37.5L630.3 37.7L631 38.2L631.6 39L632.2 38.5L632.7 39.1L633.3 39.6L635.7 37.2L635.2 36.5L634.7 35.9L634.2 35.2L633.6 34.7L633 34.2L632.3 33.7L631.7 33.1L631 32.6L630.4 32.1L629.8 31.6L629.1 31.1L628.4 30.8L627.6 30.5L626.8 30.2L626 29.9L625.3 29.7L624.5 29.4L623.7 29.1L623 28.8L622.2 28.6L621.4 28.4L620.6 28.3L619.8 28.2L618.9 28.1L618.1 28L617.3 27.9L616.5 27.8L615.7 27.7L614.9 27.6L614.1 27.5L613.3 27.6L612.4 27.8L611.6 27.9L610.8 28.1L610 28.2L609.2 28.4L608.4 28.5L607.6 28.7L606.8 28.8L606 29Z" fill="#ffb400" fill-opacity="0.1"/>
<path d="M592.3 53.9L596.3 46.5M593.7 53.9L597.7 46.4M596.3 55.2L601 46.4M596.7 54.9L600.5 47.6M598.1 54.3L601.8 47.1M600.8 55.5L605.5 46.3M602 54.4L606 46.9M603.2 55.1L608.1 45.9M605.1 54L609.5 45.7M606.2 54.5L610 47.7M607.4 53.6L612.4 44.5M609.4 54.1L613.4 47.2M611 53.9L615.9 45.5M612.3 53.6L616.5 46.7M613.4 53.2L617.1 47.3M614.4 53.7L617.9 48.2M615.4 53.2L619.2 47.4M617.7 52.8L621.5 47.1M619.9 52.1L623.7 46.7M620 52.6L623.6 47.8M621.7 52.5L625.3 48M623.5 52.4L626.6 48.7M624.1 51L628 46.6M626.5 50.7L629.6 47.4" stroke="#0000f5" stroke-width="0.8" fill="none" stroke-dasharray="1.6 0.7"/>
<path d="M596.3 46.5L597.7 44M597.7 46.4L599.1 43.8M601 46.4L602.4 43.8M600.5 47.6L602 44.9M601.8 47.1L603.2 44.3M605.5 46.3L606.9 43.5M606 46.9L607.4 44.1M608.1 45.9L609.5 43.2M609.5 45.7L611 43M610 47.7L611.4 45M612.4 44.5L613.8 41.9M613.4 47.2L614.8 44.7M615.9 45.5L617.3 43M616.5 46.7L617.9 44.4M617.1 47.3L618.5 45M617.9 48.2L619.3 46M619.2 47.4L620.6 45.3M621.5 47.1L622.9 45.1M623.7 46.7L625.1 44.8M623.6 47.8L624.9 46M625.3 48L626.5 46.3M626.6 48.7L627.8 47.2M628 46.6L629.2 45.3M629.6 47.4L630.7 46.3" stroke="#0a9a5c" stroke-width="0.8" fill="none"/>
<path d="M597.7 44L600.5 38.8M599.1 43.8L601.9 38.6M602.4 43.8L605.2 38.5M602 44.9L604.8 39.5M603.2 44.3L606.1 38.9M606.9 43.5L609.8 38M607.4 44.1L610.2 38.7M609.5 43.2L612.3 37.9M611 43L613.8 37.7M611.4 45L614.2 39.8M613.8 41.9L616.7 36.8M614.8 44.7L617.7 39.6M617.3 43L620.2 38.2M617.9 44.4L620.7 39.6M618.5 45L621.4 40.4M619.3 46L622.1 41.6M620.6 45.3L623.4 41.1M622.9 45.1L625.6 41.2M625.1 44.8L627.8 41M624.9 46L627.6 42.5M626.5 46.3L629.1 43.1M627.8 47.2L630.2 44.3M629.2 45.3L631.6 42.7M630.7 46.3L633 43.9" stroke="#40ff0a" stroke-width="0.8" fill="none" stroke-dasharray="1.6 0.6"/>
<path d="M600.5 38.8L603.3 33.7M601.9 38.6L604.7 33.4M605.2 38.5L608 33.2M604.8 39.5L607.6 34.2M606.1 38.9L608.9 33.5M609.8 38L612.6 32.5M610.2 38.7L613 33.3M612.3 37.9L615.2 32.5M613.8 37.7L616.7 32.4M614.2 39.8L617.1 34.5M616.7 36.8L619.6 31.6M617.7 39.6L620.6 34.6M620.2 38.2L623.1 33.3M620.7 39.6L623.6 34.9M621.4 40.4L624.2 35.9M622.1 41.6L625 37.1M623.4 41.1L626.2 36.9M625.6 41.2L628.4 37.2M627.8 41L630.5 37.3M627.6 42.5L630.2 38.9M629.1 43.1L631.6 39.8M630.2 44.3L632.7 41.3M631.6 42.7L633.9 40M633 43.9L635.2 41.6" stroke="#ffff00" stroke-width="0.8" fill="none" stroke-dasharray="1.2 1"/>
<path d="M603.3 33.7L606.3 28.2M604.7 33.4L607.7 27.9M608 33.2L610.4 28.8M607.6 34.2L610.8 28.1M608.9 33.5L612.2 27.1M612.6 32.5L614.9 28.1M613 33.3L616.2 27.2M615.2 32.5L617.4 28.3M616.7 32.4L619.3 27.4M617.1 34.5L620.5 28.3M619.6 31.6L621.7 27.8M620.6 34.6L623.8 29M623.1 33.3L625.3 29.6M623.6 34.9L626.6 30M624.2 35.9L627.6 30.3M625 37.1L628.6 31.5M626.2 36.9L629.4 32.1M628.4 37.2L631.3 32.8M630.5 37.3L633.3 33.3M630.2 38.9L633.2 34.9M631.6 39.8L634.4 36.2M632.7 41.3L635.7 37.7M633.9 40L635.9 37.8M635.2 41.6L637.7 39" stroke="#ffb400" stroke-width="0.8" fill="none" stroke-dasharray="0.8 1.8"/>
<path d="M567.3 46.8L569.2 43.6M568.5 46.8L570.2 43M570.5 48.7L572.1 44.4M572.7 49.1L574 44.6M574.4 50.4L575.5 45.5" stroke="#3030ff" stroke-width="0.7" fill="none" stroke-dasharray="1 1"/>
<path d="M604.7 55.8L616.4 47.1M608.2 55.5L619.4 46.4M609.3 54.6L620 45.2M613.5 55.1L623.6 45.3M616 53.4L625.6 43.3M619.1 52.5L628.2 42.3M621.4 53.9L630 43.5M624.1 53.3L632.2 42.6M627.9 51.7L635.5 41.1M631.3 51.6L638.5 41" stroke="#3030ff" stroke-width="0.6" fill="none" stroke-dasharray="0.8 1.8"/>
<path d="M559.5 61.75l0.95 1.6 1.6 0.95-1.6 0.95-0.95 1.6-0.95-1.6-1.6-0.95 1.6-0.95zM570.7 82.45l0.95 1.6 1.6 0.95-1.6 0.95-0.95 1.6-0.95-1.6-1.6-0.95 1.6-0.95zM568.6 83.55l0.95 1.6 1.6 0.95-1.6 0.95-0.95 1.6-0.95-1.6-1.6-0.95 1.6-0.95zM581.9 76.35l0.95 1.6 1.6 0.95-1.6 0.95-0.95 1.6-0.95-1.6-1.6-0.95 1.6-0.95zM588.5 68.35l0.95 1.6 1.6 0.95-1.6 0.95-0.95 1.6-0.95-1.6-1.6-0.95 1.6-0.95zM595.5 78.45l0.95 1.6 1.6 0.95-1.6 0.95-0.95 1.6-0.95-1.6-1.6-0.95 1.6-0.95zM553.5 62.55l0.95 1.6 1.6 0.95-1.6 0.95-0.95 1.6-0.95-1.6-1.6-0.95 1.6-0.95zM577.2 75.65l0.95 1.6 1.6 0.95-1.6 0.95-0.95 1.6-0.95-1.6-1.6-0.95 1.6-0.95z" fill="#ff3a12"/>
<ellipse cx="465.13" cy="141.21" rx="27.77" ry="26.71" fill="none" stroke="#151515" stroke-width="1.5"/>
<ellipse cx="551.62" cy="91.72" rx="29.65" ry="26.71" fill="none" stroke="#151515" stroke-width="1.5"/>
<ellipse cx="567.79" cy="86.34" rx="29.96" ry="26.71" fill="none" stroke="#151515" stroke-width="1.5"/>
<ellipse cx="583.5" cy="77.3" rx="30.52" ry="26.71" fill="none" stroke="#151515" stroke-width="1.5"/>
<ellipse cx="560.98" cy="140.89" rx="27.78" ry="26.71" fill="none" stroke="#151515" stroke-width="1.5"/>
<path d="M459.78 106.01L466.88 106.01L463.33 113.11Z" fill="#000"/>
<path d="M488.66 96.89L495.76 96.89L492.21 103.99Z" fill="#000"/>
<path d="M487.47 144.09L494.57 144.09L491.02 151.19Z" fill="#000"/>
<path d="M465.48 182.18L472.58 182.18L469.03 189.28Z" fill="#000"/>
<path d="M562.23 138.79L569.33 138.79L565.78 145.89Z" fill="#000"/>
<path d="M579.46 73.52L586.56 73.52L583.01 80.62Z" fill="#000"/>
<path d="M461.58 138.31L468.68 138.31L465.13 145.41Z" fill="#000"/>
<circle cx="629.95" cy="41.03" r="3.6" fill="#000" stroke="#fff" stroke-width="1.5"/>
<circle cx="390.1" cy="28.2" r="3.1" fill="#000"/>
<text x="398.8" y="30.8" font-size="7.4" stroke="#000" stroke-width="0.3">Rx</text>
<path d="M386.55 36.1L393.65 36.1L390.1 43.2Z" fill="#000"/>
<text x="398.8" y="42.8" font-size="7.4" textLength="37.8" lengthAdjust="spacingAndGlyphs" stroke="#000" stroke-width="0.3">Ionosonde</text>
<circle cx="390" cy="52.2" r="1.1" fill="#f5300f"/>
<text x="398.8" y="55" font-size="7.4" fill="#f5300f" textLength="40.2" lengthAdjust="spacingAndGlyphs" stroke="#f5300f" stroke-width="0.3">Effective Tx</text>
<text x="392" y="217" font-family="Liberation Serif, serif" font-weight="bold" font-style="italic" font-size="32.5" stroke="#000" stroke-width="0.22">b</text>
<g clip-path="url(#pc)" transform="translate(0 275.9)"><use href="#coast"/></g>
<path d="M44.45 510.38v-2.2M44.45 289.45v2.2M48.55 510.38v-2.2M48.55 289.45v2.2M52.66 510.38v-5M52.66 289.45v5M56.76 510.38v-2.2M56.76 289.45v2.2M60.86 510.38v-2.2M60.86 289.45v2.2M64.97 510.38v-2.2M64.97 289.45v2.2M69.07 510.38v-2.2M69.07 289.45v2.2M73.17 510.38v-2.2M73.17 289.45v2.2M77.28 510.38v-2.2M77.28 289.45v2.2M81.38 510.38v-2.2M81.38 289.45v2.2M85.48 510.38v-2.2M85.48 289.45v2.2M89.58 510.38v-2.2M89.58 289.45v2.2M93.69 510.38v-5M93.69 289.45v5M97.79 510.38v-2.2M97.79 289.45v2.2M101.89 510.38v-2.2M101.89 289.45v2.2M106 510.38v-2.2M106 289.45v2.2M110.1 510.38v-2.2M110.1 289.45v2.2M114.2 510.38v-2.2M114.2 289.45v2.2M118.31 510.38v-2.2M118.31 289.45v2.2M122.41 510.38v-2.2M122.41 289.45v2.2M126.51 510.38v-2.2M126.51 289.45v2.2M130.61 510.38v-2.2M130.61 289.45v2.2M134.72 510.38v-5M134.72 289.45v5M138.82 510.38v-2.2M138.82 289.45v2.2M142.92 510.38v-2.2M142.92 289.45v2.2M147.03 510.38v-2.2M147.03 289.45v2.2M151.13 510.38v-2.2M151.13 289.45v2.2M155.23 510.38v-2.2M155.23 289.45v2.2M159.34 510.38v-2.2M159.34 289.45v2.2M163.44 510.38v-2.2M163.44 289.45v2.2M167.54 510.38v-2.2M167.54 289.45v2.2M171.64 510.38v-2.2M171.64 289.45v2.2M175.75 510.38v-5M175.75 289.45v5M179.85 510.38v-2.2M179.85 289.45v2.2M183.95 510.38v-2.2M183.95 289.45v2.2M188.06 510.38v-2.2M188.06 289.45v2.2M192.16 510.38v-2.2M192.16 289.45v2.2M196.26 510.38v-2.2M196.26 289.45v2.2M200.37 510.38v-2.2M200.37 289.45v2.2M204.47 510.38v-2.2M204.47 289.45v2.2M208.57 510.38v-2.2M208.57 289.45v2.2M212.67 510.38v-2.2M212.67 289.45v2.2M216.78 510.38v-5M216.78 289.45v5M220.88 510.38v-2.2M220.88 289.45v2.2M224.98 510.38v-2.2M224.98 289.45v2.2M229.09 510.38v-2.2M229.09 289.45v2.2M233.19 510.38v-2.2M233.19 289.45v2.2M237.29 510.38v-2.2M237.29 289.45v2.2M241.4 510.38v-2.2M241.4 289.45v2.2M245.5 510.38v-2.2M245.5 289.45v2.2M249.6 510.38v-2.2M249.6 289.45v2.2M253.7 510.38v-2.2M253.7 289.45v2.2M257.81 510.38v-5M257.81 289.45v5M261.91 510.38v-2.2M261.91 289.45v2.2M266.01 510.38v-2.2M266.01 289.45v2.2M270.12 510.38v-2.2M270.12 289.45v2.2M274.22 510.38v-2.2M274.22 289.45v2.2M278.32 510.38v-2.2M278.32 289.45v2.2M282.43 510.38v-2.2M282.43 289.45v2.2M286.53 510.38v-2.2M286.53 289.45v2.2M290.63 510.38v-2.2M290.63 289.45v2.2M294.73 510.38v-2.2M294.73 289.45v2.2M298.84 510.38v-5M298.84 289.45v5M302.94 510.38v-2.2M302.94 289.45v2.2M307.04 510.38v-2.2M307.04 289.45v2.2M42.4 508.38h2.8M309.09 508.38h-2.8M42.4 504.36h2.8M309.09 504.36h-2.8M42.4 500.34h5.3M309.09 500.34h-5.3M42.4 496.33h2.8M309.09 496.33h-2.8M42.4 492.31h2.8M309.09 492.31h-2.8M42.4 488.29h2.8M309.09 488.29h-2.8M42.4 484.27h2.8M309.09 484.27h-2.8M42.4 480.26h2.8M309.09 480.26h-2.8M42.4 476.24h2.8M309.09 476.24h-2.8M42.4 472.22h2.8M309.09 472.22h-2.8M42.4 468.21h2.8M309.09 468.21h-2.8M42.4 464.19h2.8M309.09 464.19h-2.8M42.4 460.17h5.3M309.09 460.17h-5.3M42.4 456.16h2.8M309.09 456.16h-2.8M42.4 452.14h2.8M309.09 452.14h-2.8M42.4 448.12h2.8M309.09 448.12h-2.8M42.4 444.1h2.8M309.09 444.1h-2.8M42.4 440.09h2.8M309.09 440.09h-2.8M42.4 436.07h2.8M309.09 436.07h-2.8M42.4 432.05h2.8M309.09 432.05h-2.8M42.4 428.04h2.8M309.09 428.04h-2.8M42.4 424.02h2.8M309.09 424.02h-2.8M42.4 420h5.3M309.09 420h-5.3M42.4 415.99h2.8M309.09 415.99h-2.8M42.4 411.97h2.8M309.09 411.97h-2.8M42.4 407.95h2.8M309.09 407.95h-2.8M42.4 403.93h2.8M309.09 403.93h-2.8M42.4 399.92h2.8M309.09 399.92h-2.8M42.4 395.9h2.8M309.09 395.9h-2.8M42.4 391.88h2.8M309.09 391.88h-2.8M42.4 387.87h2.8M309.09 387.87h-2.8M42.4 383.85h2.8M309.09 383.85h-2.8M42.4 379.83h5.3M309.09 379.83h-5.3M42.4 375.82h2.8M309.09 375.82h-2.8M42.4 371.8h2.8M309.09 371.8h-2.8M42.4 367.78h2.8M309.09 367.78h-2.8M42.4 363.76h2.8M309.09 363.76h-2.8M42.4 359.75h2.8M309.09 359.75h-2.8M42.4 355.73h2.8M309.09 355.73h-2.8M42.4 351.71h2.8M309.09 351.71h-2.8M42.4 347.7h2.8M309.09 347.7h-2.8M42.4 343.68h2.8M309.09 343.68h-2.8M42.4 339.66h5.3M309.09 339.66h-5.3M42.4 335.65h2.8M309.09 335.65h-2.8M42.4 331.63h2.8M309.09 331.63h-2.8M42.4 327.61h2.8M309.09 327.61h-2.8M42.4 323.59h2.8M309.09 323.59h-2.8M42.4 319.58h2.8M309.09 319.58h-2.8M42.4 315.56h2.8M309.09 315.56h-2.8M42.4 311.54h2.8M309.09 311.54h-2.8M42.4 307.53h2.8M309.09 307.53h-2.8M42.4 303.51h2.8M309.09 303.51h-2.8M42.4 299.49h5.3M309.09 299.49h-5.3M42.4 295.48h2.8M309.09 295.48h-2.8M42.4 291.46h2.8M309.09 291.46h-2.8" stroke="#777" stroke-width="0.9" fill="none"/>
<rect x="42.4" y="289.45" width="266.69" height="220.94" fill="none" stroke="#939393" stroke-width="0.95"/>
<text x="52.66" y="530.78" text-anchor="middle" font-size="11" stroke="#000" stroke-width="0.3">80</text>
<text x="93.69" y="530.78" text-anchor="middle" font-size="11" stroke="#000" stroke-width="0.3">90</text>
<text x="134.72" y="530.78" text-anchor="middle" font-size="11" stroke="#000" stroke-width="0.3">100</text>
<text x="175.75" y="530.78" text-anchor="middle" font-size="11" stroke="#000" stroke-width="0.3">110</text>
<text x="216.78" y="530.78" text-anchor="middle" font-size="11" stroke="#000" stroke-width="0.3">120</text>
<text x="257.81" y="530.78" text-anchor="middle" font-size="11" stroke="#000" stroke-width="0.3">130</text>
<text x="298.84" y="530.78" text-anchor="middle" font-size="11" stroke="#000" stroke-width="0.3">140</text>
<text x="37.9" y="505.74" text-anchor="end" font-size="11" stroke="#000" stroke-width="0.3">-10</text>
<text x="37.9" y="465.57" text-anchor="end" font-size="11" stroke="#000" stroke-width="0.3">0</text>
<text x="37.9" y="425.4" text-anchor="end" font-size="11" stroke="#000" stroke-width="0.3">10</text>
<text x="37.9" y="385.23" text-anchor="end" font-size="11" stroke="#000" stroke-width="0.3">20</text>
<text x="37.9" y="345.06" text-anchor="end" font-size="11" stroke="#000" stroke-width="0.3">30</text>
<text x="37.9" y="304.89" text-anchor="end" font-size="11" stroke="#000" stroke-width="0.3">40</text>
<text transform="translate(9 399.92) rotate(-90)" text-anchor="middle" font-size="11.4" stroke="#000" stroke-width="0.3">Latitude</text>
<text x="106.6" y="285.2" font-size="11" textLength="138.8" lengthAdjust="spacingAndGlyphs" xml:space="preserve" stroke="#000" stroke-width="0.3">Rx: KUR (34.24N, 132.53E)</text>
<use href="#txg" x="0" y="275.9"/>
<path d="M211 332L212.6 332.7L214.3 333.4L215.9 334.1L217.6 334.8L219.2 335.5L220.8 336.2L222.5 336.7L224.3 336.8L226.1 337L227.9 337.1L229.6 337.2L231.4 337.3L233.2 337.4L235 337.5L236.7 337.6L238.5 337.4L240.3 337.3L242.1 337.2L243.9 337L245.6 336.9L247.4 336.8L249.2 336.6L251 336.5L252.7 336.1L254.4 335.7L256.2 335.3L257.9 334.9L259.6 334.4L261.4 334L263.1 333.6L264.8 333.2L266.6 332.7L268.3 332.2L270 331.7L271.7 331.2L273.4 330.6L275 330L276.7 329.3L278.3 328.7L280 328L281.4 323.7L279.8 324.4L278.2 324.8L276.5 325.3L274.9 325.5L273.1 325L271.4 325.4L269.6 325.9L267.9 326L266.2 326.4L264.4 326.5L262.6 327.2L260.8 327L259 327.3L257.3 327L255.5 327.5L253.7 327.8L251.9 328L250.1 328.7L248.3 328.2L246.5 328.5L244.7 329.2L242.9 329.3L241.1 329.8L239.3 330L237.4 329.1L235.6 329.9L233.8 330L232 329.1L230.2 329.4L228.4 329.2L226.6 330.1L224.8 329.9L223 329.8L221.4 329.2L219.8 329.5L218.1 329.1L216.5 328.8L214.9 329.2L213.3 328.5L211.7 328.1Z" fill="#0000f5" fill-opacity="0.6"/>
<path d="M211.7 327.8L213.3 327.9L214.9 328.5L216.5 328.8L218.1 329.6L219.8 329L221.4 329.6L223 329.7L224.8 329.9L226.6 329.4L228.4 329.5L230.2 329.9L232 329.3L233.8 329.1L235.6 329.3L237.4 329.6L239.3 329.7L241.1 329.5L242.9 329.1L244.7 328.7L246.5 329.3L248.3 329.2L250.1 328.5L251.9 328.7L253.7 328.8L255.5 327.6L257.3 327.4L259 326.8L260.8 327.1L262.6 326.9L264.4 326.4L266.2 326.2L267.9 326.4L269.6 325.3L271.4 325.9L273.1 324.9L274.9 325.5L276.5 325.2L278.2 324.5L279.8 323.7L281.4 324.5L281.8 322.6L280.2 322.5L278.5 323.1L276.9 323.8L275.2 323.1L273.5 324L271.7 323.6L270 324.6L268.2 323.9L266.5 324.6L264.7 325.2L262.9 324.8L261.1 324.9L259.3 324.9L257.5 325.4L255.8 326.2L254 325.8L252.2 326L250.4 327.1L248.5 326.4L246.7 326.7L244.9 327.6L243.1 326.8L241.2 326.8L239.4 327L237.6 327.3L235.8 327.8L234 328.1L232.2 327.2L230.4 327.3L228.6 328.4L226.8 327.4L225 328.3L223.2 327.5L221.5 328.6L219.9 328.3L218.3 327.1L216.7 328.1L215.1 327.9L213.5 327.6L211.9 326.9Z" fill="#0a9a5c" fill-opacity="0.6"/>
<path d="M211.9 327.4L213.5 327.7L215.1 327.2L216.7 327.9L218.3 327.4L219.9 328.3L221.5 327.7L223.2 327.7L225 327.7L226.8 327.4L228.6 327.7L230.4 327.3L232.2 328.2L234 327.9L235.8 327.8L237.6 327.1L239.4 328L241.2 327.8L243.1 327.3L244.9 327.3L246.7 327.5L248.5 326.8L250.4 327.1L252.2 326.7L254 326.7L255.8 326.1L257.5 326.1L259.3 325.8L261.1 325.3L262.9 324.8L264.7 324.8L266.5 324.6L268.2 324.8L270 324L271.7 324L273.5 324.1L275.2 323.8L276.9 323.5L278.5 322.9L280.2 323L281.8 323.4L282.7 320.1L281.1 320.4L279.4 320.4L277.8 320L276.1 319.4L274.4 319.5L272.6 320L270.8 320.3L269.1 320.4L267.3 320.7L265.5 319.7L263.7 320.5L261.9 320.7L260 321.1L258.2 320.8L256.4 321.5L254.6 321.1L252.8 321.9L250.9 321.9L249.1 322L247.2 321.4L245.4 321.8L243.6 322.1L241.7 321.7L239.9 322.7L238.1 322.1L236.2 322.3L234.4 323.1L232.5 323.5L230.7 322.9L228.9 323.3L227.1 323L225.3 323.5L223.5 323.1L221.8 324.4L220.2 324.2L218.7 324.2L217.1 323.8L215.5 324.1L213.9 324.8L212.3 324.5Z" fill="#40ff0a" fill-opacity="0.6"/>
<path d="M212.3 324.2L213.9 324.9L215.5 324.1L217.1 324.5L218.7 324.6L220.2 324.2L221.8 323.8L223.5 324.2L225.3 323.4L227.1 323.2L228.9 323.2L230.7 323.5L232.5 323.5L234.4 322.4L236.2 322.5L238.1 322.6L239.9 322.5L241.7 322.7L243.6 322.1L245.4 321.4L247.2 321.3L249.1 321.8L250.9 322L252.8 321.1L254.6 320.7L256.4 320.7L258.2 320.3L260 320.6L261.9 320.7L263.7 320.9L265.5 319.9L267.3 319.7L269.1 320.1L270.8 319.7L272.6 319.8L274.4 320L276.1 320.3L277.8 320.4L279.4 319.6L281.1 320.5L282.7 320.3L283.6 318L282 317L280.4 317.6L278.7 317.2L277.1 316.2L275.3 316.4L273.5 316.4L271.7 315.7L269.9 316.1L268.1 315.2L266.3 315.7L264.4 316.1L262.6 316.3L260.8 316.1L258.9 316.2L257.1 315.7L255.2 316.7L253.4 316.5L251.5 316L249.6 316.5L247.8 317.1L245.9 317.4L244.1 316.6L242.2 317.8L240.3 317.3L238.5 317.9L236.6 317.5L234.8 317.9L232.9 317.9L231.1 318.6L229.3 319L227.4 318.4L225.6 319.2L223.8 319.8L222.1 320.1L220.6 319.8L219 320.4L217.5 321L215.9 322L214.4 321.6L212.8 322.2Z" fill="#ffff00" fill-opacity="0.5"/>
<path d="M212.8 322.9L214.4 322L215.9 321.9L217.5 321L219 320.3L220.6 320.6L222.1 320L223.8 319.9L225.6 319.7L227.4 319.2L229.3 319.1L231.1 318.1L232.9 318.1L234.8 318.3L236.6 317.3L238.5 317.2L240.3 317.1L242.2 317.6L244.1 316.7L245.9 317.3L247.8 317.1L249.6 316.7L251.5 316.1L253.4 316.5L255.2 316.6L257.1 316.1L258.9 316.1L260.8 315.8L262.6 316.4L264.4 316.3L266.3 315.8L268.1 315.4L269.9 315.9L271.7 315.4L273.5 316.2L275.3 316.6L277.1 316.4L278.7 316.2L280.4 316.9L282 317.9L283.6 317.8L284.8 314L283.2 313.4L281.6 313.5L280 312.3L278.3 311.8L276.5 311.4L274.7 310.8L272.9 311.2L271 310.4L269.2 310L267.3 309.9L265.5 310.3L263.6 309.4L261.7 310.1L259.8 309.4L257.9 310L256.1 309.8L254.2 309.6L252.3 309.6L250.4 310.6L248.5 310.7L246.6 310.7L244.7 310.4L242.8 310.1L240.9 310.6L239.1 311.5L237.2 311.7L235.3 311.5L233.4 311.8L231.6 311.5L229.7 312.9L227.9 312.6L226.1 313.3L224.2 314.2L222.6 313.9L221.1 315.3L219.5 316.2L218 316.9L216.5 318.1L214.9 318.8L213.4 319.1Z" fill="#ffb400" fill-opacity="0.2"/>
<path d="M213.4 319.1L214.9 318.8L216.5 318L218 316.7L219.5 315.7L221.1 314.7L222.6 314.4L224.2 314.1L226.1 312.8L227.9 313.2L229.7 311.9L231.6 311.7L233.4 311.4L235.3 311.8L237.2 311.1L239.1 310.9L240.9 311L242.8 310.1L244.7 310.7L246.6 309.8L248.5 310.2L250.4 309.8L252.3 309.6L254.2 309.9L256.1 309.6L257.9 309.4L259.8 309.5L261.7 309.7L263.6 309.3L265.5 309.4L267.3 310L269.2 310.1L271 310.3L272.9 311L274.7 311.1L276.5 311.7L278.3 311.3L280 312.5L281.6 313.3L283.2 314.2L284.8 314.2L286 311L284.4 309.9L282.8 308.9L281.2 307.8L279.5 306.9L277.7 306.3L275.8 305.8L274 305.2L272.2 304.6L270.3 304.1L268.4 303.9L266.5 303.7L264.6 303.5L262.7 303.4L260.7 303.2L258.8 303.1L256.9 303.1L255 303.2L253.1 303.3L251.1 303.4L249.2 303.5L247.3 303.6L245.4 303.7L243.5 303.9L241.5 304.2L239.6 304.5L237.7 304.8L235.8 305.1L233.9 305.4L232.1 305.8L230.2 306.3L228.4 306.8L226.5 307.3L224.6 307.8L223 308.8L221.5 310L220 311.2L218.5 312.4L217 313.6L215.5 314.8L214 316Z" fill="#ff7000" fill-opacity="0.1"/>
<path d="M211.6 332.4L212.4 327.6M212.9 332.9L213.6 328.3M213.8 333.4L214.5 328.4M216.1 333.3L216.6 328.6M216.2 335L216.9 329.1M217.5 335.9L218.2 328.9M219.8 335.8L220.2 330.5M220.1 336.2L220.5 330.9M221.7 336.3L222.1 330.7M223.5 336.7L224.1 328.7M225 337.1L225.6 330M226.7 336.9L227.2 330.3M228.6 337.9L229.3 329.4M229.6 336.9L230.1 330.2M230.4 336.6L231 328.1M232 337.9L232.6 330.5M234.3 338L234.8 331.8M234.5 338.2L235.2 330.4M237.2 337.4L237.7 330.9M238 337.9L238.7 330.7M238.6 337.1L239.5 327.6M241.1 336.7L241.8 329.5M241.4 336.5L242.3 327.4M243 337.2L243.8 329.3M244.4 337.3L245.1 330.5M246.6 336.2L247.4 328.5M247.3 336.4L248.4 326.8M249.7 336.3L250.8 327M250.2 336.4L251.2 327.2M252.2 335.6L253.4 326M252.9 335.5L254.1 326.7M254.5 335.3L255.4 328.9M255.5 335.4L256.5 328.5M257.7 334.7L258.8 327.3M259.7 334.6L260.9 326.9M260.9 333.8L261.9 327.5M262.4 334.5L263.5 328M262.6 334L264.1 325.5M264 334L265.5 325.9M266 332.8L267.2 327.1M266.5 333.3L267.7 327.4M268.9 331.7L270.5 324.4M270.1 331.4L271.3 326M271.7 330.6L273 325.3M272.8 331.5L274.3 325.4M273.7 331.1L275 326.2M274.6 329.5L276 324.4M276 328.8L277.4 324.2M278.1 328.2L279.5 323.9M280 329L281.5 324.5" stroke="#0000f5" stroke-width="0.9" fill="none"/>
<path d="M212.4 327.6L212.6 326.6M213.6 328.3L213.8 327.2M214.5 328.4L214.6 327.2M216.6 328.6L216.8 327.3M216.9 329.1L217 327.7M218.2 328.9L218.3 327.4M220.2 330.5L220.4 328.9M220.5 330.9L220.6 329.2M222.1 330.7L222.2 329M224.1 328.7L224.3 326.9M225.6 330L225.7 328.2M227.2 330.3L227.3 328.5M229.3 329.4L229.4 327.6M230.1 330.2L230.3 328.3M231 328.1L231.2 326.2M232.6 330.5L232.7 328.6M234.8 331.8L234.9 329.9M235.2 330.4L235.3 328.4M237.7 330.9L237.9 328.9M238.7 330.7L238.8 328.7M239.5 327.6L239.6 325.6M241.8 329.5L241.9 327.5M242.3 327.4L242.5 325.4M243.8 329.3L244 327.3M245.1 330.5L245.4 328.5M247.4 328.5L247.6 326.5M248.4 326.8L248.6 324.8M250.8 327L251 325M251.2 327.2L251.5 325.2M253.4 326L253.7 324.1M254.1 326.7L254.3 324.8M255.4 328.9L255.6 326.9M256.5 328.5L256.8 326.6M258.8 327.3L259.1 325.4M260.9 326.9L261.2 325M261.9 327.5L262.2 325.6M263.5 328L263.8 326.2M264.1 325.5L264.4 323.8M265.5 325.9L265.9 324.1M267.2 327.1L267.5 325.4M267.7 327.4L268.1 325.7M270.5 324.4L270.9 322.8M271.3 326L271.7 324.4M273 325.3L273.3 323.8M274.3 325.4L274.7 323.9M275 326.2L275.4 324.8M276 324.4L276.4 323.1M277.4 324.2L277.7 322.9M279.5 323.9L279.9 322.7M281.5 324.5L281.9 323.4" stroke="#0a9a5c" stroke-width="0.9" fill="none"/>
<path d="M212.6 326.6L213 324.1M213.8 327.2L214.2 324.5M214.6 327.2L215 324.3M216.8 327.3L217.2 324.1M217 327.7L217.4 324.3M218.3 327.4L218.7 323.8M220.4 328.9L220.7 325.1M220.6 329.2L220.9 325.1M222.2 329L222.5 324.7M224.3 326.9L224.6 322.5M225.7 328.2L226 323.7M227.3 328.5L227.7 323.9M229.4 327.6L229.8 323M230.3 328.3L230.6 323.6M231.2 326.2L231.5 321.4M232.7 328.6L233.1 323.8M234.9 329.9L235.4 325M235.3 328.4L235.7 323.5M237.9 328.9L238.3 324M238.8 328.7L239.3 323.8M239.6 325.6L240.1 320.6M241.9 327.5L242.4 322.5M242.5 325.4L243 320.4M244 327.3L244.5 322.3M245.4 328.5L245.9 323.5M247.6 326.5L248.2 321.5M248.6 324.8L249.2 319.8M251 325L251.6 320M251.5 325.2L252.1 320.2M253.7 324.1L254.3 319.1M254.3 324.8L255 319.8M255.6 326.9L256.3 322M256.8 326.6L257.5 321.8M259.1 325.4L259.8 320.7M261.2 325L261.9 320.3M262.2 325.6L263 321M263.8 326.2L264.6 321.6M264.4 323.8L265.2 319.3M265.9 324.1L266.7 319.7M267.5 325.4L268.3 321.1M268.1 325.7L268.9 321.5M270.9 322.8L271.7 318.8M271.7 324.4L272.6 320.5M273.3 323.8L274.2 320M274.7 323.9L275.6 320.3M275.4 324.8L276.3 321.3M276.4 323.1L277.3 319.8M277.7 322.9L278.7 319.9M279.9 322.7L280.8 319.9M281.9 323.4L282.8 320.8" stroke="#40ff0a" stroke-width="0.8" fill="none" stroke-dasharray="1.3 0.7"/>
<path d="M213 324.1L213.5 321.6M214.2 324.5L214.6 321.7M215 324.3L215.4 321.3M217.2 324.1L217.6 320.9M217.4 324.3L217.8 320.9M218.7 323.8L219 320.1M220.7 325.1L221.1 321.2M220.9 325.1L221.3 321M222.5 324.7L222.8 320.4M224.6 322.5L224.9 318.1M226 323.7L226.4 319.2M227.7 323.9L228 319.4M229.8 323L230.1 318.3M230.6 323.6L231 318.9M231.5 321.4L231.9 316.6M233.1 323.8L233.5 319M235.4 325L235.8 320.1M235.7 323.5L236.2 318.6M238.3 324L238.8 319M239.3 323.8L239.7 318.8M240.1 320.6L240.6 315.6M242.4 322.5L242.9 317.4M243 320.4L243.5 315.4M244.5 322.3L245 317.3M245.9 323.5L246.4 318.5M248.2 321.5L248.7 316.5M249.2 319.8L249.7 314.8M251.6 320L252.1 315M252.1 320.2L252.7 315.2M254.3 319.1L254.9 314.1M255 319.8L255.6 314.9M256.3 322L257 317.2M257.5 321.8L258.1 317M259.8 320.7L260.5 315.9M261.9 320.3L262.6 315.7M263 321L263.8 316.4M264.6 321.6L265.3 317.1M265.2 319.3L266 314.8M266.7 319.7L267.5 315.3M268.3 321.1L269.2 316.8M268.9 321.5L269.7 317.4M271.7 318.8L272.6 314.8M272.6 320.5L273.5 316.6M274.2 320L275.1 316.2M275.6 320.3L276.5 316.6M276.3 321.3L277.2 317.8M277.3 319.8L278.2 316.5M278.7 319.9L279.6 316.8M280.8 319.9L281.7 317M282.8 320.8L283.7 318.1" stroke="#ffff00" stroke-width="0.8" fill="none" stroke-dasharray="1.3 0.7"/>
<path d="M213.5 321.6L214.1 318.3M214.6 321.7L215.2 318.1M215.4 321.3L216 317.3M217.6 320.9L218.1 316.7M217.8 320.9L218.3 316.3M219 320.1L219.5 315.2M221.1 321.2L221.5 316M221.3 321L221.7 315.5M222.8 320.4L223.3 314.6M224.9 318.1L225.3 312.3M226.4 319.2L226.8 313.3M228 319.4L228.5 313.3M230.1 318.3L230.6 312.2M231 318.9L231.5 312.7M231.9 316.6L232.4 310.3M233.5 319L234 312.6M235.8 320.1L236.3 313.7M236.2 318.6L236.7 312.1M238.8 319L239.3 312.4M239.7 318.8L240.3 312.1M240.6 315.6L241.2 308.9M242.9 317.4L243.5 310.8M243.5 315.4L244.2 308.7M245 317.3L245.7 310.6M246.4 318.5L247.1 311.8M248.7 316.5L249.5 309.8M249.7 314.8L250.5 308.1M252.1 315L252.9 308.4M252.7 315.2L253.5 308.5M254.9 314.1L255.7 307.5M255.6 314.9L256.5 308.3M257 317.2L257.9 310.7M258.1 317L259.1 310.6M260.5 315.9L261.5 309.6M262.6 315.7L263.6 309.5M263.8 316.4L264.8 310.3M265.3 317.1L266.4 311M266 314.8L267.1 308.9M267.5 315.3L268.6 309.5M269.2 316.8L270.3 311.1M269.7 317.4L270.9 311.9M272.6 314.8L273.7 309.4M273.5 316.6L274.6 311.5M275.1 316.2L276.3 311.2M276.5 316.6L277.7 311.8M277.2 317.8L278.5 313.2M278.2 316.5L279.5 312.1M279.6 316.8L280.8 312.7M281.7 317L282.9 313.2M283.7 318.1L284.9 314.6" stroke="#ffb400" stroke-width="0.8" fill="none" stroke-dasharray="1 1.2"/>
<path d="M214.1 318.3L214.5 315.6M215.2 318.1L215.7 314.6M216 317.3L216.5 313.6M218.1 316.7L218.7 312M218.3 316.3L218.8 312.2M219.5 315.2L219.9 311.5M221.5 316L222.1 309.9M221.7 315.5L222.2 308.8M223.3 314.6L223.8 307.5M225.3 312.3L225.7 307.4M226.8 313.3L227.3 307.3M228.5 313.3L229 306.6M230.6 312.2L231 307.1M231.5 312.7L232 305.6M232.4 310.3L232.8 304.8M234 312.6L234.5 305.8M236.3 313.7L237 305.6M236.7 312.1L237.3 305.4M239.3 312.4L240 304.4M240.3 312.1L241 304.7M241.2 308.9L241.6 303.8M243.5 310.8L244.2 303.2M244.2 308.7L244.7 303M245.7 310.6L246.4 303.7M247.1 311.8L247.9 303.9M249.5 309.8L250.2 302.8M250.5 308.1L251.1 303M252.9 308.4L253.5 303M253.5 308.5L254.1 303M255.7 307.5L256.4 302.5M256.5 308.3L257.2 302.6M257.9 310.7L258.9 302.8M259.1 310.6L260.1 303.4M261.5 309.6L262.4 303.2M263.6 309.5L264.5 303.5M264.8 310.3L265.9 303.1M266.4 311L267.5 304.2M267.1 308.9L267.9 304.3M268.6 309.5L269.5 304.7M270.3 311.1L271.6 304.3M270.9 311.9L272.2 305.6M273.7 309.4L274.7 304.9M274.6 311.5L276 305.4M276.3 311.2L277.7 305.5M277.7 311.8L278.9 307.2M278.5 313.2L279.9 307.8M279.5 312.1L280.7 307.6M280.8 312.7L282.1 308.3M282.9 313.2L284.2 309.1M284.9 314.6L286 311.3" stroke="#ff7000" stroke-width="0.8" fill="none" stroke-dasharray="0.8 1.8"/>
<path d="M214 325L214.9 325.1L215.8 325.1L216.7 325.2L217.6 325.3L218.5 325.3L219.4 325.4L220.4 325.5L221.3 325.5L222.2 325.6L223.1 325.6L224 325.7L224.9 325.8L225.8 325.8L226.7 325.9L227.6 326L228.5 325.9L229.4 325.8L230.3 325.6L231.2 325.5L232.1 325.3L233 325.2L233.9 325L234.8 324.9L235.7 324.7L236.6 324.6L237.5 324.4L238.4 324.3L239.3 324.1L240.2 324L241.1 323.8L242 323.6L242.9 323.4L243.8 323.2L244.6 323.1L245.5 322.9L246.4 322.7L247.3 322.5L248.2 322.4L249.1 322.2L250 322L250 315.5L249.1 315.9L248.3 315L247.4 315.1L246.5 315L245.7 316.2L244.8 315.7L244 316.4L243.1 316.3L242.2 315.9L241.4 316.2L240.5 316.6L239.6 316.3L238.8 316.2L237.9 316.5L237.1 316.1L236.2 316.6L235.3 316.8L234.5 316.7L233.6 317.2L232.7 317.8L231.9 317.1L231 317.9L230.2 318.1L229.3 318.3L228.4 317.7L227.6 317.8L226.8 317.9L225.9 318.6L225.1 318.2L224.2 318.2L223.4 319.2L222.5 319.2L221.7 319.1L220.9 319.4L220 318.5L219.2 319.8L218.3 318.9L217.5 319.7L216.6 318.9L215.8 320.2Z" fill="#40ff0a" fill-opacity="0.5"/>
<path d="M215.8 319.9L216.6 319.5L217.5 318.9L218.3 318.7L219.2 319.6L220 318.9L220.9 318.6L221.7 318.7L222.5 318.5L223.4 318.4L224.2 318.3L225.1 317.9L225.9 318.7L226.8 317.7L227.6 317.9L228.4 318.5L229.3 317.6L230.2 318.2L231 317.2L231.9 317.4L232.7 316.7L233.6 317.6L234.5 317L235.3 317L236.2 316.4L237.1 316L237.9 316.6L238.8 316.1L239.6 316.4L240.5 315.9L241.4 316.4L242.2 316.4L243.1 316.1L244 315.7L244.8 315.3L245.7 316.2L246.5 316.1L247.4 315.3L248.3 315.5L249.1 315.1L250 314.9L250 310.4L249.2 309.5L248.3 310.2L247.5 309.8L246.6 310.2L245.8 309.8L245 309.7L244.1 310L243.3 309.8L242.4 309.4L241.6 310.5L240.8 310.4L239.9 310.1L239.1 310.3L238.2 310.1L237.4 310.2L236.6 310L235.7 310.9L234.9 311.1L234.1 311L233.2 310.5L232.4 311.7L231.6 311.3L230.7 312L229.9 311L229.1 312.1L228.3 312.4L227.5 312.2L226.7 312.5L225.9 313.2L225.1 312.9L224.3 313.7L223.5 313.9L222.8 313.4L222 314.5L221.2 314.2L220.4 314.5L219.6 314.6L218.8 314.5L218 315.6L217.2 315.1Z" fill="#ffff00" fill-opacity="0.4"/>
<path d="M217.2 315.7L218 314.7L218.8 315.3L219.6 314.8L220.4 314.2L221.2 314.7L222 313.5L222.8 313.2L223.5 313.3L224.3 313.5L225.1 313L225.9 312.7L226.7 313L227.5 312.1L228.3 312.4L229.1 311.2L229.9 311.9L230.7 311L231.6 311.5L232.4 311.6L233.2 311.2L234.1 311L234.9 310.8L235.7 311L236.6 310.4L237.4 310.1L238.2 310.3L239.1 310.2L239.9 309.6L240.8 310.1L241.6 310L242.4 309.6L243.3 310.3L244.1 310.4L245 309.8L245.8 310.5L246.6 310.6L247.5 310.2L248.3 309.9L249.2 309.7L250 309.6L250 307L249.2 307L248.3 306.9L247.5 306.9L246.7 306.8L245.9 306.8L245 306.8L244.2 306.7L243.4 306.7L242.6 306.6L241.7 306.6L240.9 306.5L240.1 306.5L239.3 306.6L238.4 306.7L237.6 306.9L236.8 307L236 307.1L235.2 307.2L234.3 307.3L233.5 307.5L232.7 307.6L231.9 307.7L231.1 307.8L230.2 308L229.5 308.2L228.7 308.5L227.9 308.9L227.2 309.2L226.4 309.5L225.6 309.8L224.9 310.1L224.1 310.5L223.4 310.8L222.6 311.1L221.8 311.4L221.1 311.7L220.3 312L219.5 312.4L218.8 312.7L218 313Z" fill="#ffb400" fill-opacity="0.1"/>
<path d="M204 326L204.6 326L205.3 326.1L205.9 326.1L206.5 326.2L207.1 326.2L207.8 326.2L208.4 326.3L209 326.3L209.6 326.4L210.3 326.4L210.9 326.4L211.5 326.5L212.2 326.5L212.8 326.5L213.4 326.5L214 326.5L214.7 326.5L215.3 326.5L215.9 326.5L216.6 326.5L217.2 326.5L217.8 326.5L218.4 326.5L219.1 326.5L219.7 326.5L220.3 326.6L220.9 326.7L221.6 326.8L222.2 326.9L222.8 327L223.4 327.1L224 327.2L224.7 327.3L225.3 327.4L225.9 327.5L226.5 327.6L227.1 327.7L227.8 327.8L228.4 327.9L229 328L228.7 322.7L228.1 323L227.5 322.2L226.9 322L226.3 322.6L225.7 322L225.1 322.3L224.5 321.9L223.9 321.7L223.3 321.9L222.7 321.5L222.1 322.2L221.5 322.1L220.9 321.2L220.3 321.5L219.8 321.9L219.2 321.1L218.6 321.1L218 322L217.4 321.6L216.8 321.6L216.2 322L215.6 321.4L215 322.2L214.4 321.5L213.9 322.5L213.3 321.8L212.7 322.1L212.1 321.9L211.6 322.6L211 322.5L210.4 322.7L209.9 322.9L209.3 323.1L208.8 322.6L208.2 322.8L207.6 322.5L207.1 322.7L206.5 323.4L206 323.4L205.4 323.3Z" fill="#0000f5" fill-opacity="0.6"/>
<path d="M205.4 323.3L206 323.3L206.5 322.7L207.1 323.6L207.6 323.2L208.2 322.8L208.8 323L209.3 322.5L209.9 322.7L210.4 322.6L211 322.8L211.6 322.4L212.1 322.2L212.7 322.5L213.3 322.2L213.9 322.2L214.4 321.8L215 322.1L215.6 321.8L216.2 321.6L216.8 322.2L217.4 322.1L218 322L218.6 321.3L219.2 321.9L219.8 321.2L220.3 321.3L220.9 321.1L221.5 321.8L222.1 322.2L222.7 321.4L223.3 322.2L223.9 322.2L224.5 322.1L225.1 322.3L225.7 322.7L226.3 322L226.9 322.9L227.5 323L228.1 322.9L228.7 322.5L228.3 317.3L227.7 317.6L227.2 317.4L226.6 317L226 317L225.5 317.5L224.9 316.8L224.3 316.9L223.8 316.6L223.2 317.1L222.6 316.5L222.1 316.6L221.5 317L220.9 316L220.4 316.1L219.8 316.7L219.3 316L218.7 316.9L218.2 316.6L217.6 316.5L217.1 317L216.5 317.1L215.9 316.9L215.4 316.9L214.8 317.3L214.3 317.1L213.7 317.4L213.2 317.5L212.7 318L212.2 318.1L211.7 318.5L211.3 318.3L210.8 319.3L210.3 319.1L209.8 319.1L209.3 319.8L208.8 319.7L208.3 320.6L207.8 320.5L207.3 320.4L206.8 320.8Z" fill="#40ff0a" fill-opacity="0.6"/>
<path d="M206.8 320.5L207.3 320.7L207.8 320.5L208.3 319.7L208.8 320.3L209.3 319.6L209.8 319.2L210.3 319.2L210.8 319.5L211.3 318.8L211.7 318.7L212.2 318.8L212.7 318.6L213.2 318.2L213.7 317.6L214.3 317.7L214.8 317.9L215.4 317.6L215.9 317.3L216.5 317L217.1 316.9L217.6 317.1L218.2 316.8L218.7 316.1L219.3 316.7L219.8 316.8L220.4 316.7L220.9 316.9L221.5 317L222.1 316.7L222.6 317L223.2 316.7L223.8 316.5L224.3 316.8L224.9 316.8L225.5 317.5L226 317.4L226.6 317.3L227.2 317.5L227.7 317L228.3 317.5L228 313L227.5 312.9L226.9 312.9L226.4 312.8L225.8 312.7L225.3 312.7L224.7 312.6L224.2 312.5L223.7 312.5L223.1 312.4L222.6 312.3L222 312.3L221.5 312.2L220.9 312.1L220.4 312L219.9 312L219.3 312.2L218.8 312.4L218.3 312.6L217.8 312.7L217.3 312.9L216.7 313.1L216.2 313.3L215.7 313.4L215.2 313.6L214.7 313.8L214.2 313.9L213.7 314.2L213.3 314.6L212.8 314.9L212.4 315.2L211.9 315.5L211.5 315.9L211.1 316.2L210.6 316.5L210.2 316.9L209.8 317.2L209.3 317.5L208.9 317.8L208.4 318.2L208 318.5Z" fill="#ffff00" fill-opacity="0.3"/>
<path d="M204.4 326.3L205.7 323.5M207.2 325.9L208.3 322.7M208.8 326.5L209.7 322.9M210.5 326.3L211.2 322.4M211.6 326.2L212.2 321.9M213.7 326.2L214.1 321.7M215.8 326.1L216.1 321.4M217.6 326.1L217.8 321.3M218.8 326.3L218.9 321.3M220.7 327.2L220.7 322.2M223.4 326.9L223.3 321.8M225 327.5L224.9 322.3M226.5 327.7L226.2 322.5M227.6 328.3L227.3 323.1" stroke="#0000f5" stroke-width="0.8" fill="none"/>
<path d="M205.7 323.5L207 320.7M208.3 322.7L209.4 319.5M209.7 322.9L210.6 319.4M211.2 322.4L212 318.4M212.2 321.9L212.7 317.6M214.1 321.7L214.5 317.2M216.1 321.4L216.4 316.7M217.8 321.3L218 316.4M218.9 321.3L219 316.3M220.7 322.2L220.7 317.1M223.3 321.8L223.2 316.6M224.9 322.3L224.7 317.2M226.2 322.5L226 317.3M227.3 323.1L227 317.8" stroke="#40ff0a" stroke-width="0.8" fill="none"/>
<path d="M207 320.7L208.2 318.3M209.4 319.5L210.4 316.8M210.6 319.4L211.4 316.3M212 318.4L212.6 315.1M212.7 317.6L213.2 313.9M214.5 317.2L214.9 313.4M216.4 316.7L216.7 312.7M218 316.4L218.2 312.3M219 316.3L219 312M220.7 317.1L220.7 312.7M223.2 316.6L223.2 312.2M224.7 317.2L224.6 312.7M226 317.3L225.8 312.9M227 317.8L226.7 313.4" stroke="#ffff00" stroke-width="0.8" fill="none" stroke-dasharray="1.2 0.8"/>
<path d="M268.7 334.1L272.5 328.5M272.2 332.5L275.7 326.8M273.1 332L276.2 326.2M275.4 332L278.2 326.1M278.1 331.2L280.5 325.2M281 329.7L283.1 323.6M282.3 330.5L284.1 324.5M285.8 329.5L287.4 323.8M288.3 328.5L289.7 323.1M290.3 327L291.5 321.8M292 325.9L292.9 321M294 325.1L294.7 320.4M297.1 325.5L297.6 321.3M299.2 324.4L299.4 320.7" stroke="#0000f5" stroke-width="0.7" fill="none" stroke-dasharray="1 1.4"/>
<path d="M272.5 328.5L276.3 323M275.7 326.8L279.1 321.1M276.2 326.2L279.4 320.4M278.2 326.1L281 320.2M280.5 325.2L282.9 319.2M283.1 323.6L285.2 317.5M284.1 324.5L285.9 318.6M287.4 323.8L289 318.1M289.7 323.1L291.1 317.7M291.5 321.8L292.7 316.6M292.9 321L293.9 316.1M294.7 320.4L295.4 315.7M297.6 321.3L298 317.1M299.4 320.7L299.5 316.9" stroke="#40ff0a" stroke-width="0.7" fill="none" stroke-dasharray="1 1.4"/>
<path d="M191.2 337.65l0.95 1.6 1.6 0.95-1.6 0.95-0.95 1.6-0.95-1.6-1.6-0.95 1.6-0.95zM199.9 341.55l0.95 1.6 1.6 0.95-1.6 0.95-0.95 1.6-0.95-1.6-1.6-0.95 1.6-0.95zM208.1 343.55l0.95 1.6 1.6 0.95-1.6 0.95-0.95 1.6-0.95-1.6-1.6-0.95 1.6-0.95zM215.7 337.25l0.95 1.6 1.6 0.95-1.6 0.95-0.95 1.6-0.95-1.6-1.6-0.95 1.6-0.95zM226.5 337.65l0.95 1.6 1.6 0.95-1.6 0.95-0.95 1.6-0.95-1.6-1.6-0.95 1.6-0.95zM196.3 353.75l0.95 1.6 1.6 0.95-1.6 0.95-0.95 1.6-0.95-1.6-1.6-0.95 1.6-0.95zM202.9 363.45l0.95 1.6 1.6 0.95-1.6 0.95-0.95 1.6-0.95-1.6-1.6-0.95 1.6-0.95zM209.1 359.45l0.95 1.6 1.6 0.95-1.6 0.95-0.95 1.6-0.95-1.6-1.6-0.95 1.6-0.95zM214.7 352.75l0.95 1.6 1.6 0.95-1.6 0.95-0.95 1.6-0.95-1.6-1.6-0.95 1.6-0.95zM222.9 356.35l0.95 1.6 1.6 0.95-1.6 0.95-0.95 1.6-0.95-1.6-1.6-0.95 1.6-0.95zM223.4 358.35l0.95 1.6 1.6 0.95-1.6 0.95-0.95 1.6-0.95-1.6-1.6-0.95 1.6-0.95zM215.7 362.95l0.95 1.6 1.6 0.95-1.6 0.95-0.95 1.6-0.95-1.6-1.6-0.95 1.6-0.95zM217.8 364.05l0.95 1.6 1.6 0.95-1.6 0.95-0.95 1.6-0.95-1.6-1.6-0.95 1.6-0.95zM222.9 366.05l0.95 1.6 1.6 0.95-1.6 0.95-0.95 1.6-0.95-1.6-1.6-0.95 1.6-0.95zM220.3 369.65l0.95 1.6 1.6 0.95-1.6 0.95-0.95 1.6-0.95-1.6-1.6-0.95 1.6-0.95zM229 359.45l0.95 1.6 1.6 0.95-1.6 0.95-0.95 1.6-0.95-1.6-1.6-0.95 1.6-0.95zM237.7 358.35l0.95 1.6 1.6 0.95-1.6 0.95-0.95 1.6-0.95-1.6-1.6-0.95 1.6-0.95zM235.6 359.45l0.95 1.6 1.6 0.95-1.6 0.95-0.95 1.6-0.95-1.6-1.6-0.95 1.6-0.95zM248.9 352.25l0.95 1.6 1.6 0.95-1.6 0.95-0.95 1.6-0.95-1.6-1.6-0.95 1.6-0.95zM255.5 344.25l0.95 1.6 1.6 0.95-1.6 0.95-0.95 1.6-0.95-1.6-1.6-0.95 1.6-0.95zM262.5 354.35l0.95 1.6 1.6 0.95-1.6 0.95-0.95 1.6-0.95-1.6-1.6-0.95 1.6-0.95zM220.1 339.25l0.95 1.6 1.6 0.95-1.6 0.95-0.95 1.6-0.95-1.6-1.6-0.95 1.6-0.95zM219.4 358.35l0.95 1.6 1.6 0.95-1.6 0.95-0.95 1.6-0.95-1.6-1.6-0.95 1.6-0.95zM244.4 351.75l0.95 1.6 1.6 0.95-1.6 0.95-0.95 1.6-0.95-1.6-1.6-0.95 1.6-0.95z" fill="#ff3a12"/>
<ellipse cx="132.13" cy="417.11" rx="27.77" ry="26.71" fill="none" stroke="#151515" stroke-width="1.5"/>
<ellipse cx="218.62" cy="367.62" rx="29.65" ry="26.71" fill="none" stroke="#151515" stroke-width="1.5"/>
<ellipse cx="234.79" cy="362.24" rx="29.96" ry="26.71" fill="none" stroke="#151515" stroke-width="1.5"/>
<ellipse cx="250.5" cy="353.2" rx="30.52" ry="26.71" fill="none" stroke="#151515" stroke-width="1.5"/>
<ellipse cx="227.98" cy="416.79" rx="27.78" ry="26.71" fill="none" stroke="#151515" stroke-width="1.5"/>
<path d="M126.78 381.91L133.88 381.91L130.33 389.01Z" fill="#000"/>
<path d="M155.66 372.79L162.76 372.79L159.21 379.89Z" fill="#000"/>
<path d="M154.47 419.99L161.57 419.99L158.02 427.09Z" fill="#000"/>
<path d="M132.48 458.08L139.58 458.08L136.03 465.18Z" fill="#000"/>
<path d="M229.23 414.69L236.33 414.69L232.78 421.79Z" fill="#000"/>
<path d="M246.46 349.42L253.56 349.42L250.01 356.52Z" fill="#000"/>
<path d="M128.58 414.21L135.68 414.21L132.13 421.31Z" fill="#000"/>
<circle cx="268.19" cy="322.63" r="3.6" fill="#000" stroke="#fff" stroke-width="1.5"/>
<circle cx="57.1" cy="304.1" r="3.1" fill="#000"/>
<text x="65.8" y="306.7" font-size="7.4" stroke="#000" stroke-width="0.3">Rx</text>
<path d="M53.55 312L60.65 312L57.1 319.1Z" fill="#000"/>
<text x="65.8" y="318.7" font-size="7.4" textLength="37.8" lengthAdjust="spacingAndGlyphs" stroke="#000" stroke-width="0.3">Ionosonde</text>
<circle cx="57" cy="328.1" r="1.1" fill="#f5300f"/>
<text x="65.8" y="330.9" font-size="7.4" fill="#f5300f" textLength="40.2" lengthAdjust="spacingAndGlyphs" stroke="#f5300f" stroke-width="0.3">Effective Tx</text>
<text x="62.5" y="490.7" font-family="Liberation Serif, serif" font-weight="bold" font-style="italic" font-size="32.5" stroke="#000" stroke-width="0.22">c</text>
<g clip-path="url(#pc)" transform="translate(333 275.9)"><use href="#coast"/></g>
<path d="M377.45 510.38v-2.2M377.45 289.45v2.2M381.55 510.38v-2.2M381.55 289.45v2.2M385.66 510.38v-5M385.66 289.45v5M389.76 510.38v-2.2M389.76 289.45v2.2M393.86 510.38v-2.2M393.86 289.45v2.2M397.97 510.38v-2.2M397.97 289.45v2.2M402.07 510.38v-2.2M402.07 289.45v2.2M406.17 510.38v-2.2M406.17 289.45v2.2M410.28 510.38v-2.2M410.28 289.45v2.2M414.38 510.38v-2.2M414.38 289.45v2.2M418.48 510.38v-2.2M418.48 289.45v2.2M422.58 510.38v-2.2M422.58 289.45v2.2M426.69 510.38v-5M426.69 289.45v5M430.79 510.38v-2.2M430.79 289.45v2.2M434.89 510.38v-2.2M434.89 289.45v2.2M439 510.38v-2.2M439 289.45v2.2M443.1 510.38v-2.2M443.1 289.45v2.2M447.2 510.38v-2.2M447.2 289.45v2.2M451.31 510.38v-2.2M451.31 289.45v2.2M455.41 510.38v-2.2M455.41 289.45v2.2M459.51 510.38v-2.2M459.51 289.45v2.2M463.61 510.38v-2.2M463.61 289.45v2.2M467.72 510.38v-5M467.72 289.45v5M471.82 510.38v-2.2M471.82 289.45v2.2M475.92 510.38v-2.2M475.92 289.45v2.2M480.03 510.38v-2.2M480.03 289.45v2.2M484.13 510.38v-2.2M484.13 289.45v2.2M488.23 510.38v-2.2M488.23 289.45v2.2M492.34 510.38v-2.2M492.34 289.45v2.2M496.44 510.38v-2.2M496.44 289.45v2.2M500.54 510.38v-2.2M500.54 289.45v2.2M504.64 510.38v-2.2M504.64 289.45v2.2M508.75 510.38v-5M508.75 289.45v5M512.85 510.38v-2.2M512.85 289.45v2.2M516.95 510.38v-2.2M516.95 289.45v2.2M521.06 510.38v-2.2M521.06 289.45v2.2M525.16 510.38v-2.2M525.16 289.45v2.2M529.26 510.38v-2.2M529.26 289.45v2.2M533.37 510.38v-2.2M533.37 289.45v2.2M537.47 510.38v-2.2M537.47 289.45v2.2M541.57 510.38v-2.2M541.57 289.45v2.2M545.67 510.38v-2.2M545.67 289.45v2.2M549.78 510.38v-5M549.78 289.45v5M553.88 510.38v-2.2M553.88 289.45v2.2M557.98 510.38v-2.2M557.98 289.45v2.2M562.09 510.38v-2.2M562.09 289.45v2.2M566.19 510.38v-2.2M566.19 289.45v2.2M570.29 510.38v-2.2M570.29 289.45v2.2M574.4 510.38v-2.2M574.4 289.45v2.2M578.5 510.38v-2.2M578.5 289.45v2.2M582.6 510.38v-2.2M582.6 289.45v2.2M586.7 510.38v-2.2M586.7 289.45v2.2M590.81 510.38v-5M590.81 289.45v5M594.91 510.38v-2.2M594.91 289.45v2.2M599.01 510.38v-2.2M599.01 289.45v2.2M603.12 510.38v-2.2M603.12 289.45v2.2M607.22 510.38v-2.2M607.22 289.45v2.2M611.32 510.38v-2.2M611.32 289.45v2.2M615.43 510.38v-2.2M615.43 289.45v2.2M619.53 510.38v-2.2M619.53 289.45v2.2M623.63 510.38v-2.2M623.63 289.45v2.2M627.73 510.38v-2.2M627.73 289.45v2.2M631.84 510.38v-5M631.84 289.45v5M635.94 510.38v-2.2M635.94 289.45v2.2M640.04 510.38v-2.2M640.04 289.45v2.2M375.4 508.38h2.8M642.1 508.38h-2.8M375.4 504.36h2.8M642.1 504.36h-2.8M375.4 500.34h5.3M642.1 500.34h-5.3M375.4 496.33h2.8M642.1 496.33h-2.8M375.4 492.31h2.8M642.1 492.31h-2.8M375.4 488.29h2.8M642.1 488.29h-2.8M375.4 484.27h2.8M642.1 484.27h-2.8M375.4 480.26h2.8M642.1 480.26h-2.8M375.4 476.24h2.8M642.1 476.24h-2.8M375.4 472.22h2.8M642.1 472.22h-2.8M375.4 468.21h2.8M642.1 468.21h-2.8M375.4 464.19h2.8M642.1 464.19h-2.8M375.4 460.17h5.3M642.1 460.17h-5.3M375.4 456.16h2.8M642.1 456.16h-2.8M375.4 452.14h2.8M642.1 452.14h-2.8M375.4 448.12h2.8M642.1 448.12h-2.8M375.4 444.1h2.8M642.1 444.1h-2.8M375.4 440.09h2.8M642.1 440.09h-2.8M375.4 436.07h2.8M642.1 436.07h-2.8M375.4 432.05h2.8M642.1 432.05h-2.8M375.4 428.04h2.8M642.1 428.04h-2.8M375.4 424.02h2.8M642.1 424.02h-2.8M375.4 420h5.3M642.1 420h-5.3M375.4 415.99h2.8M642.1 415.99h-2.8M375.4 411.97h2.8M642.1 411.97h-2.8M375.4 407.95h2.8M642.1 407.95h-2.8M375.4 403.93h2.8M642.1 403.93h-2.8M375.4 399.92h2.8M642.1 399.92h-2.8M375.4 395.9h2.8M642.1 395.9h-2.8M375.4 391.88h2.8M642.1 391.88h-2.8M375.4 387.87h2.8M642.1 387.87h-2.8M375.4 383.85h2.8M642.1 383.85h-2.8M375.4 379.83h5.3M642.1 379.83h-5.3M375.4 375.82h2.8M642.1 375.82h-2.8M375.4 371.8h2.8M642.1 371.8h-2.8M375.4 367.78h2.8M642.1 367.78h-2.8M375.4 363.76h2.8M642.1 363.76h-2.8M375.4 359.75h2.8M642.1 359.75h-2.8M375.4 355.73h2.8M642.1 355.73h-2.8M375.4 351.71h2.8M642.1 351.71h-2.8M375.4 347.7h2.8M642.1 347.7h-2.8M375.4 343.68h2.8M642.1 343.68h-2.8M375.4 339.66h5.3M642.1 339.66h-5.3M375.4 335.65h2.8M642.1 335.65h-2.8M375.4 331.63h2.8M642.1 331.63h-2.8M375.4 327.61h2.8M642.1 327.61h-2.8M375.4 323.59h2.8M642.1 323.59h-2.8M375.4 319.58h2.8M642.1 319.58h-2.8M375.4 315.56h2.8M642.1 315.56h-2.8M375.4 311.54h2.8M642.1 311.54h-2.8M375.4 307.53h2.8M642.1 307.53h-2.8M375.4 303.51h2.8M642.1 303.51h-2.8M375.4 299.49h5.3M642.1 299.49h-5.3M375.4 295.48h2.8M642.1 295.48h-2.8M375.4 291.46h2.8M642.1 291.46h-2.8" stroke="#777" stroke-width="0.9" fill="none"/>
<rect x="375.4" y="289.45" width="266.69" height="220.94" fill="none" stroke="#939393" stroke-width="0.95"/>
<text x="385.66" y="530.78" text-anchor="middle" font-size="11" stroke="#000" stroke-width="0.3">80</text>
<text x="426.69" y="530.78" text-anchor="middle" font-size="11" stroke="#000" stroke-width="0.3">90</text>
<text x="467.72" y="530.78" text-anchor="middle" font-size="11" stroke="#000" stroke-width="0.3">100</text>
<text x="508.75" y="530.78" text-anchor="middle" font-size="11" stroke="#000" stroke-width="0.3">110</text>
<text x="549.78" y="530.78" text-anchor="middle" font-size="11" stroke="#000" stroke-width="0.3">120</text>
<text x="590.81" y="530.78" text-anchor="middle" font-size="11" stroke="#000" stroke-width="0.3">130</text>
<text x="631.84" y="530.78" text-anchor="middle" font-size="11" stroke="#000" stroke-width="0.3">140</text>
<text x="370.9" y="505.74" text-anchor="end" font-size="11" stroke="#000" stroke-width="0.3">-10</text>
<text x="370.9" y="465.57" text-anchor="end" font-size="11" stroke="#000" stroke-width="0.3">0</text>
<text x="370.9" y="425.4" text-anchor="end" font-size="11" stroke="#000" stroke-width="0.3">10</text>
<text x="370.9" y="385.23" text-anchor="end" font-size="11" stroke="#000" stroke-width="0.3">20</text>
<text x="370.9" y="345.06" text-anchor="end" font-size="11" stroke="#000" stroke-width="0.3">30</text>
<text x="370.9" y="304.89" text-anchor="end" font-size="11" stroke="#000" stroke-width="0.3">40</text>
<text transform="translate(342 399.92) rotate(-90)" text-anchor="middle" font-size="11.4" stroke="#000" stroke-width="0.3">Latitude</text>
<text x="439.6" y="285.2" font-size="11" textLength="139.1" lengthAdjust="spacingAndGlyphs" xml:space="preserve" stroke="#000" stroke-width="0.3">Rx: ONA (26.50N, 127.85E)</text>
<use href="#txg" x="333" y="275.9"/>
<path d="M568 354.8L569.3 354.8L570.6 354.8L571.8 354.8L573.1 354.8L574.4 354.8L575.6 354.7L576.9 354.4L578.1 354.1L579.4 353.8L580.6 353.5L581.8 353.2L583.1 352.9L584.3 352.7L585.6 352.4L586.8 352.1L588.1 351.9L589.3 351.6L590.6 351.4L591.8 351.1L593.1 350.9L594.3 350.6L595.6 350.4L596.8 350.1L598.1 349.9L599.3 349.6L600.6 349.4L601.8 349.1L603.1 348.9L604.3 348.6L605.6 348.4L606.8 348.1L608.1 347.8L609.3 347.6L610.6 347.3L611.8 347L613.1 346.7L614.3 346.4L615.5 346.1L616.8 345.8L618 345.5L616.8 345L615.6 344.4L614.4 344.3L613.2 344.3L612 344.9L610.8 344.7L609.5 344.9L608.3 345.1L607 344.9L605.8 344.4L604.6 344.7L603.3 345.2L602 345.3L600.7 345.1L599.4 345.7L598.1 345.3L596.8 346.2L595.5 345.9L594.2 346.1L592.9 346.1L591.6 346.5L590.3 345.8L589 346.4L587.7 347L586.4 346.9L585.1 346.9L583.8 347.4L582.5 346.9L581.3 347L580 347.7L578.7 347.7L577.4 348.1L576.1 348L574.8 348.2L573.5 348.8L572.2 348.7L570.9 348.9L569.5 348.2L568.2 349.1L566.9 349.1L565.6 349Z" fill="#0000f5" fill-opacity="0.9"/>
<path d="M565.6 348.2L566.9 348.1L568.2 348.4L569.5 349.1L570.9 348.6L572.2 348.6L573.5 348.8L574.8 348.1L576.1 348.6L577.4 347.9L578.7 348.5L580 348.3L581.3 348.2L582.5 347.3L583.8 347.6L585.1 347.6L586.4 347.4L587.7 347.3L589 346.3L590.3 346.2L591.6 345.7L592.9 345.7L594.2 346.4L595.5 345.3L596.8 345.2L598.1 345.9L599.4 345.3L600.7 345.2L602 345.6L603.3 345.5L604.6 344.9L605.8 345.3L607 344.6L608.3 344.7L609.5 344.9L610.8 345.2L612 344.9L613.2 344.8L614.4 344.4L615.6 344.1L616.8 344.7L615.5 343.3L614.3 343.4L613.1 343.6L612 343.2L610.8 342.3L609.6 341.8L608.4 342.1L607.1 342.2L605.9 341.4L604.7 341.6L603.4 341.4L602.1 341.3L600.8 341.5L599.5 340.8L598.1 341.5L596.8 340.7L595.5 341L594.1 340.9L592.8 340.6L591.4 341.5L590.1 341L588.7 340.8L587.4 341.8L586 341.6L584.7 341.4L583.3 341.8L581.9 341.7L580.6 341L579.2 341.2L577.9 341.4L576.5 342L575.2 342.1L573.8 342.5L572.5 342.6L571.1 342L569.8 342.6L568.4 341.9L567 341.8L565.7 342L564.3 341.2L563 341.2Z" fill="#40ff0a" fill-opacity="0.8"/>
<path d="M563 341.7L564.3 341.7L565.7 341.3L567 342.4L568.4 342.6L569.8 342.5L571.1 342.3L572.5 341.8L573.8 342.1L575.2 342.1L576.5 341.9L577.9 342.3L579.2 342.1L580.6 341.6L581.9 341.7L583.3 341.1L584.7 341.1L586 341.8L587.4 341.1L588.7 341.5L590.1 341.1L591.4 340.7L592.8 340.6L594.1 341.3L595.5 340.5L596.8 340.5L598.1 340.9L599.5 340.7L600.8 340.8L602.1 341.3L603.4 341.6L604.7 341.3L605.9 342L607.1 342.1L608.4 342.3L609.6 341.8L610.8 342.7L612 343.4L613.1 342.7L614.3 343.5L615.5 343.9L614.9 343.1L613.7 342.3L612.6 341.8L611.4 342.4L610.3 341.1L609.1 341.7L607.9 340.6L606.6 340.4L605.4 339.7L604.2 339.4L602.9 339.2L601.6 338.8L600.3 339.8L598.9 339.5L597.5 339.4L596.2 339L594.8 338.7L593.5 338.7L592.1 338.4L590.7 338.2L589.4 338.4L588 338.7L586.6 338.7L585.2 338.6L583.8 338.6L582.5 338.6L581.1 339L579.7 339.3L578.3 339.4L576.9 338.6L575.6 338.9L574.2 339.3L572.8 339.5L571.4 339.6L570 339.3L568.7 338.9L567.3 338.8L565.9 338.6L564.5 338.7L563.1 338.9L561.8 338.5Z" fill="#ffff00" fill-opacity="0.8"/>
<path d="M561.8 338.8L563.1 339L564.5 339L565.9 338.8L567.3 338.7L568.7 338.9L570 339.2L571.4 339.4L572.8 339.2L574.2 339.4L575.6 339.7L576.9 339.5L578.3 339.6L579.7 338.8L581.1 339.3L582.5 338.7L583.8 339.1L585.2 338.4L586.6 338.2L588 338.7L589.4 338.8L590.7 338.4L592.1 338.9L593.5 338.3L594.8 338.9L596.2 338.9L597.5 338.9L598.9 339.6L600.3 339.4L601.6 338.8L602.9 339.4L604.2 339.3L605.4 340L606.6 340.8L607.9 341L609.1 340.8L610.3 341L611.4 342L612.6 341.9L613.7 342.7L614.9 343.3L613.9 342.2L612.8 341.4L611.7 340.7L610.6 340.6L609.4 340L608.3 339.5L607 338.6L605.8 338.6L604.6 338.4L603.3 336.7L602.1 336.6L600.8 336.9L599.4 336.2L598 336.6L596.6 335.9L595.2 335.7L593.8 335.9L592.5 335.6L591.1 335L589.6 334.8L588.2 334.9L586.8 335.3L585.4 334.7L584 334.7L582.5 334.8L581.1 335L579.7 334.2L578.3 335.1L576.8 334.3L575.4 335.3L574 334.5L572.6 335L571.2 334.6L569.7 335.2L568.3 334.8L566.9 334.4L565.5 334.8L564.1 333.7L562.7 334L561.3 334.1L559.8 333.6Z" fill="#ffb400" fill-opacity="0.7"/>
<path d="M559.8 333.7L561.3 334L562.7 334L564.1 334.2L565.5 334L566.9 334.3L568.3 335.3L569.7 334.5L571.2 334.5L572.6 334.7L574 334.8L575.4 335.1L576.8 334.5L578.3 335.3L579.7 334.1L581.1 335.1L582.5 334.9L584 335.3L585.4 334.5L586.8 335.2L588.2 335.5L589.6 335.2L591.1 334.6L592.5 335.7L593.8 335.9L595.2 335.1L596.6 336.2L598 335.5L599.4 335.7L600.8 336.8L602.1 337L603.3 337.8L604.6 338L605.8 338.3L607 338.6L608.3 339.4L609.4 340.5L610.6 340.7L611.7 341.6L612.8 341.4L613.9 342.7L612 341L610.9 339.9L609.9 338.9L608.8 337.8L607.7 336.7L606.6 335.7L605.4 334.8L604.1 334L602.9 333.1L601.7 332.2L600.5 331.3L599.1 330.7L597.6 330.3L596.2 329.9L594.7 329.4L593.3 329L591.9 328.6L590.4 328.1L588.9 327.9L587.4 327.7L585.9 327.5L584.4 327.3L582.9 327.1L581.4 326.9L579.9 326.7L578.4 326.6L576.9 326.4L575.4 326.3L573.9 326.2L572.4 326L570.9 325.9L569.4 325.8L567.9 325.7L566.4 325.5L564.9 325.3L563.4 325L561.9 324.7L560.4 324.4L559 324.1L557.5 323.8L556 323.5Z" fill="#ff7000" fill-opacity="0.5"/>
<path d="M560.5 333.8L556.2 322.6M562.6 334.4L558.3 323M564.9 335L560.6 323.5M567.6 335.8L563.2 323.8M568.4 336.4L564 324.3M570.7 334L567.4 324.7M571.9 336.1L568.2 325.7M574.8 336.4L571 325.6M576.1 336.8L572.3 325.8M577.3 335.5L574.1 326.1M579.3 334.5L576.4 325.9M581.6 335.2L578.4 325.6M583.6 336.5L580.3 326.2M586.1 336.3L583.1 327.1M587 334.2L584.6 326.6M590.1 336.7L587.3 327.4M591 336.8L588.3 327.8M593.7 336.8L591 327.7M594.6 337.1L592.3 329M597.1 337L594.9 329.4M598.5 336.7L596.6 330.1M600.5 337.1L598.5 330.3M602.3 338L600.3 331.2M604.5 338.1L602.5 331.9M606.2 338L604.3 332.7M607.1 338.7L605.3 334.5M609.3 340.4L607.2 335.8M611.1 340.6L609 337.1M611.7 341.3L609.4 338.3M613 342.5L610.7 340.4" stroke="#ff2a00" stroke-width="0.7" fill="none" stroke-dasharray="1 1.2"/>
<path d="M507 340.5L508.5 340.9L509.9 341.2L511.4 341.6L512.9 342L514.3 342.3L515.8 342.6L517.3 342.7L518.8 342.9L520.3 343L521.8 343.2L523.3 343.3L524.8 343.5L526.3 343.5L527.9 343.4L529.4 343.4L530.9 343.3L532.4 343.3L533.9 343.2L535.4 343.2L536.9 343.1L538.4 343.1L539.9 343L541.4 342.8L542.9 342.6L544.4 342.4L545.9 342.3L547.4 342.1L548.9 341.9L550.4 341.7L551.9 341.5L553.3 341L554.7 340.4L556.2 339.9L557.6 339.3L559 338.8L560.4 338.2L561.8 337.7L563.2 337.1L564.6 336.6L566 336L566 332.7L564.6 332.3L563.1 333.3L561.7 332.6L560.3 333L558.8 333.6L557.4 333.6L556 334.1L554.5 334.3L553.1 335.1L551.7 334.4L550.1 335.4L548.6 334.8L547.1 335.2L545.6 336.1L544.1 335.2L542.6 335.9L541.1 335.8L539.6 335.7L538.1 336.5L536.6 337L535.1 336.9L533.6 337.4L532.1 336.4L530.6 336.8L529.1 336.9L527.6 337.8L526.2 337.2L524.7 338L523.2 337.9L521.8 337.6L520.3 338L518.9 338.5L517.4 338.6L516 339.2L514.6 339.3L513.2 338.7L511.9 339.1L510.5 339.4L509.1 339.6L507.7 339Z" fill="#0000f5" fill-opacity="0.9"/>
<path d="M507.7 339.1L509.1 339.8L510.5 339.6L511.9 339.4L513.2 339.1L514.6 338.6L516 339.3L517.4 338.4L518.9 338.3L520.3 338.2L521.8 337.7L523.2 338.7L524.7 337.9L526.2 338L527.6 337.6L529.1 337.4L530.6 336.7L532.1 337.5L533.6 336.9L535.1 336.2L536.6 336.9L538.1 336.2L539.6 336.4L541.1 336.6L542.6 336.4L544.1 335.8L545.6 335.5L547.1 335.1L548.6 334.8L550.1 335.4L551.7 334.9L553.1 334L554.5 334.1L556 333.7L557.4 333.6L558.8 334.2L560.3 333.3L561.7 333.7L563.1 333.2L564.6 332.3L566 332.8L566 331.9L564.6 332L563.1 331.1L561.7 331.9L560.2 331.7L558.8 332.5L557.3 332.8L555.9 331.9L554.5 332.5L553 332.5L551.6 333.4L550.1 333.5L548.6 332.8L547.1 334L545.6 333.5L544 334.3L542.5 334.5L541 334L539.5 334.8L538 334.7L536.5 335L535 334.3L533.5 334.8L532 335L530.5 335.2L529 335.2L527.6 335.9L526.1 335.8L524.7 336.5L523.2 336.6L521.8 337.1L520.3 336.4L518.9 337.8L517.5 337.4L516.1 337.7L514.7 338.6L513.3 338.7L512 338L510.6 338.8L509.3 339.2L507.9 339.7Z" fill="#0a9a5c" fill-opacity="0.8"/>
<path d="M507.9 339.2L509.3 339L510.6 338.5L512 338.2L513.3 337.7L514.7 338.6L516.1 337.9L517.5 337.9L518.9 336.9L520.3 337.6L521.8 336.4L523.2 336.1L524.7 336.3L526.1 336.5L527.6 335.3L529 335.3L530.5 335L532 334.8L533.5 335.3L535 334.3L536.5 335.1L538 334.9L539.5 334.3L541 334.5L542.5 334.2L544 334.1L545.6 333.1L547.1 333.3L548.6 333.1L550.1 333.2L551.6 332.5L553 332.8L554.5 333.2L555.9 332.7L557.3 332.4L558.8 332.5L560.2 331.8L561.7 332.4L563.1 331.2L564.6 331.9L566 331.3L566 328.7L564.5 328.8L563.1 327.9L561.6 327.9L560.1 328L558.7 328.7L557.2 327.5L555.8 328L554.3 327.6L552.8 328.1L551.4 328L549.8 328.5L548.3 328.2L546.8 328.8L545.3 328.3L543.8 328.4L542.3 328.4L540.8 328.5L539.3 328.6L537.8 328.7L536.3 329.9L534.8 330.1L533.3 330.1L531.8 330.1L530.3 330.1L528.9 330.8L527.4 331.2L526 331.8L524.6 331.7L523.2 331.9L521.7 332.4L520.3 333.8L518.9 333.7L517.5 334.4L516.2 335L514.9 334.9L513.6 336.3L512.4 336.9L511.1 337.2L509.8 338.1L508.5 338.2Z" fill="#40ff0a" fill-opacity="0.8"/>
<path d="M508.5 337.7L509.8 337.6L511.1 337L512.4 336.3L513.6 336L514.9 335.7L516.2 335.1L517.5 333.9L518.9 333.8L520.3 333.9L521.7 332.9L523.2 332.8L524.6 332.4L526 331.9L527.4 331.6L528.9 331L530.3 331L531.8 330.4L533.3 330.6L534.8 329.2L536.3 329.3L537.8 328.9L539.3 328.6L540.8 329.4L542.3 328.7L543.8 329.1L545.3 328.1L546.8 328.5L548.3 327.9L549.8 327.8L551.4 328.3L552.8 328L554.3 328L555.8 327.8L557.2 328L558.7 328.3L560.1 327.8L561.6 328.1L563.1 329L564.5 328.9L566 328.8L566 326.6L564.5 327.5L563.1 326.2L561.6 326.2L560.1 326.2L558.6 325.9L557.2 325.8L555.7 326.2L554.2 325.2L552.7 324.9L551.2 324.9L549.7 325.1L548.2 326.1L546.7 325.9L545.2 325.6L543.7 326.2L542.2 325.6L540.7 326.5L539.2 326.2L537.7 326.8L536.2 326.9L534.7 327.1L533.2 328.2L531.7 328.2L530.2 328L528.8 328.1L527.3 329.1L525.9 329.6L524.5 330.1L523.1 330.9L521.7 331L520.3 331L518.9 332.2L517.6 332.5L516.3 333.4L515.1 334.6L513.8 334.6L512.5 335.1L511.3 336.3L510 337.1L508.8 338Z" fill="#ffff00" fill-opacity="0.6"/>
<path d="M508.8 337.9L510 336.6L511.3 336.5L512.5 335.9L513.8 334.6L515.1 333.6L516.3 333.5L517.6 332.2L518.9 331.8L520.3 331.5L521.7 331.5L523.1 330.3L524.5 329.5L525.9 329.7L527.3 329.2L528.8 328.4L530.2 327.6L531.7 327.5L533.2 327.4L534.7 327.3L536.2 326.7L537.7 327.1L539.2 326.9L540.7 326.7L542.2 326.5L543.7 325.4L545.2 325.9L546.7 325.2L548.2 326L549.7 325.7L551.2 325.6L552.7 324.9L554.2 325L555.7 326.1L557.2 326L558.6 326.3L560.1 326.3L561.6 326.9L563.1 326.6L564.5 326.7L566 327L566 326L564.5 325.7L563 325.4L561.5 325L560.1 324.7L558.6 324.4L557.1 324.1L555.6 323.8L554.1 323.5L552.6 323.1L551.1 323.1L549.6 323.2L548.1 323.3L546.6 323.4L545.1 323.6L543.6 323.7L542.1 323.8L540.6 324L539.1 324.2L537.6 324.5L536.1 324.8L534.6 325.1L533.1 325.4L531.6 325.7L530.2 326.1L528.7 326.4L527.2 326.8L525.9 327.5L524.5 328.1L523.1 328.7L521.7 329.3L520.3 330L518.9 330.6L517.6 331.3L516.4 332.2L515.1 333.1L513.9 333.9L512.7 334.8L511.5 335.7L510.2 336.6L509 337.5Z" fill="#ffb400" fill-opacity="0.2"/>
<path d="M507 340.5L507.4 340.6L507.7 340.7L508.1 340.8L508.5 340.9L508.9 341L509.2 341.1L509.6 341.2L510 341.2L510.3 341.3L510.7 341.4L511.1 341.5L511.5 341.6L511.8 341.7L512.2 341.8L512.6 341.9L512.9 342L513.3 342.1L513.7 342.2L514.1 342.3L514.4 342.4L514.8 342.5L515.2 342.5L515.6 342.6L515.9 342.6L516.3 342.7L516.7 342.7L517.1 342.8L517.5 342.9L517.8 342.9L518.2 343L518.6 343L519 343.1L519.3 343.1L519.7 343.2L520.1 343.2L520.5 343.3L520.9 343.3L521.2 343.4L521.6 343.4L522 343.5L522 330L521.7 330.2L521.3 330.3L521 330.5L520.7 330.7L520.3 330.8L520 331L519.6 331.2L519.3 331.3L519 331.5L518.6 331.7L518.3 331.8L518 332L517.6 332.2L517.3 332.4L517 332.5L516.6 332.7L516.3 332.9L516 333L515.6 333.2L515.3 333.4L515 333.6L514.7 333.8L514.4 334L514.1 334.2L513.7 334.5L513.4 334.7L513.1 334.9L512.8 335.1L512.5 335.3L512.2 335.5L511.8 335.7L511.5 335.9L511.2 336.1L510.9 336.3L510.6 336.5L510.3 336.7L509.9 336.9L509.6 337.1L509.3 337.3L509 337.5Z" fill="#0000f5" fill-opacity="0.8"/>
<path d="M508.7 339.7L509 339.1M509.7 338.8L509.9 338M511.5 339.1L511.7 338.1M512.9 340.1L513.1 338.9M514.4 340L514.5 338.6M516.1 339.5L516.1 337.9M518.7 338.7L518.7 336.9M519.4 339.6L519.4 337.6M521.5 339.5L521.4 337.4M523.7 339.2L523.7 337M524.7 339L524.6 336.7M527.3 338.6L527.2 336.2M528.7 337.4L528.6 334.9M530.2 339.5L530.1 336.9M532.9 336.7L532.8 334.1M533.8 338.1L533.7 335.5M535.5 336.9L535.4 334.2M537.3 336.7L537.2 334M538.9 337.2L538.7 334.3M541.1 336.1L541 333.3M542.9 336.8L542.7 333.9M544 337.4L543.9 334.6M546 336.2L545.9 333.4M547.9 336.3L547.8 333.5M550.1 337.4L550 334.6M552 335.2L551.9 332.4M553.7 335.8L553.6 333.2M555.5 334.7L555.4 332.2M556.2 335.1L556.1 332.8M558.4 333.2L558.3 331M560.6 334.3L560.5 332.3M561.4 332.9L561.4 331M563.2 332.8L563.2 331.1M564.9 334.3L564.9 332.7" stroke="#0a9a5c" stroke-width="0.8" fill="none"/>
<path d="M509.7 337.8L510 337.1M510.5 336.2L510.8 335.1M512.2 335.8L512.4 334.4M513.4 336.1L513.7 334M514.8 335.2L514.9 332.9M516.3 334L516.4 331.7M518.8 332.7L518.8 330.4M519.4 333.1L519.4 330.1M521.4 332.5L521.4 328.8M523.6 331.8L523.5 328.1M524.5 331.2L524.4 326.9M527 330.5L526.9 326.9M528.4 329L528.2 325.1M529.8 330.9L529.6 325.9M532.5 328L532.4 324.2M533.4 329.2L533.2 324.6M535.1 327.8L534.9 324M536.9 327.5L536.7 323.5M538.4 327.8L538.2 323.1M540.6 326.7L540.5 322.6M542.4 327.4L542.2 322.3M543.6 328.1L543.4 322.5M545.6 326.9L545.4 322.7M547.5 327L547.3 322.4M549.7 328.1L549.5 322.9M551.7 326L551.5 322.2M553.3 327L553.1 321.6M555.2 326.4L555 322.5M555.9 327.3L555.8 323.2M558.2 325.8L558.1 322.9M560.4 327.5L560.4 324.4M561.3 326.6L561.2 324M563.2 327.1L563.1 324.7M564.9 329L564.9 326" stroke="#ff7000" stroke-width="0.7" fill="none" stroke-dasharray="1 1.3"/>
<path d="M527.2 356.1L528.5 356.1L529.8 356.2L531.2 356.2L532.5 356.2L533.8 356.2L535.1 356.2L536.4 356.2L537.8 356.2L539.1 356.2L540.4 356.3L541.7 356.3L543 356.3L544.4 356.3L545.7 356.3L547 356.3L548.3 356.3L549.7 356.3L551 356.3L552.3 356.2L553.6 356.2L554.9 356.2L556.3 356.1L557.6 356.1L558.9 356.1L560.2 356L561.5 356L562.9 355.9L564.2 355.9L565.5 355.9L566.8 355.8L568.1 355.8L569.5 355.7L570.8 355.6L572.1 355.5L573.4 355.4L574.7 355.4L576 355.3L577.4 355.2L578.7 355.1L580 355L580 350.9L578.7 351.1L577.4 351.6L576 351.8L574.7 351.4L573.4 351.9L572.1 352.3L570.7 352.2L569.4 352L568.1 352.6L566.8 352.1L565.5 352.4L564.1 352.6L562.8 352.5L561.5 352.9L560.2 352.8L558.8 353L557.5 352.8L556.2 353L554.9 352.6L553.5 352.7L552.2 353L550.9 353.3L549.6 352.7L548.2 353.2L546.9 353.4L545.6 353.2L544.3 353.4L542.9 353.2L541.6 353L540.3 353.5L539 352.9L537.6 353.4L536.3 353L535 353.3L533.7 352.9L532.3 352.9L531 353.6L529.7 352.8L528.4 352.8L527 353.4Z" fill="#0000f5" fill-opacity="0.9"/>
<path d="M527 353.1L528.4 353.5L529.7 353.2L531 353.3L532.3 353L533.7 353.2L535 353.2L536.3 353.1L537.6 353.2L539 353.5L540.3 353.1L541.6 353.5L542.9 353.1L544.3 352.8L545.6 352.8L546.9 352.9L548.2 352.9L549.6 352.7L550.9 353.2L552.2 352.7L553.5 352.5L554.9 353.1L556.2 352.7L557.5 352.7L558.8 352.7L560.2 352.8L561.5 352.7L562.8 352.3L564.1 352.7L565.5 352.7L566.8 352.3L568.1 352.1L569.4 352.3L570.7 351.8L572.1 352.3L573.4 351.5L574.7 351.5L576 351.3L577.4 351.1L578.7 351.1L580 351.4L580 346.5L578.7 346.2L577.3 346.4L576 346.4L574.7 347L573.4 346.6L572 346.8L570.7 346.7L569.4 347.1L568.1 347.1L566.7 347.5L565.4 347.1L564.1 347.7L562.7 347.9L561.4 347.9L560.1 347.9L558.8 348.4L557.4 348.1L556.1 348.5L554.8 348.6L553.4 348.3L552.1 348.6L550.8 348.7L549.5 348.7L548.1 348.4L546.8 348.5L545.5 348.8L544.1 349.1L542.8 348.7L541.5 349.2L540.1 348.8L538.8 348.8L537.5 348.6L536.1 349.1L534.8 349L533.5 348.8L532.1 348.9L530.8 349.4L529.5 349L528.1 349L526.8 348.6Z" fill="#40ff0a" fill-opacity="0.8"/>
<path d="M526.8 349.2L528.1 348.9L529.5 348.7L530.8 349.1L532.1 349.2L533.5 349L534.8 348.8L536.1 348.6L537.5 348.6L538.8 349L540.1 348.8L541.5 348.4L542.8 348.4L544.1 348.4L545.5 349.1L546.8 348.5L548.1 348.4L549.5 348.9L550.8 348.2L552.1 348.6L553.4 348.6L554.8 348.3L556.1 348.5L557.4 347.8L558.8 347.7L560.1 347.9L561.4 348.1L562.7 347.5L564.1 347.9L565.4 347.4L566.7 347.2L568.1 347L569.4 347L570.7 347.4L572 347L573.4 346.9L574.7 346.9L576 346.9L577.3 346.7L578.7 346L580 345.9L580 342.8L578.7 342.6L577.3 343.3L576 343.3L574.7 343L573.4 343.5L572 343.9L570.7 343.5L569.4 343.9L568 344L566.7 343.9L565.4 344.4L564 344.6L562.7 344.5L561.4 345L560 344.9L558.7 345.2L557.4 344.8L556 345.1L554.7 345.1L553.4 345.7L552 345.2L550.7 345.5L549.4 345.9L548 345.6L546.7 345.8L545.4 346.1L544 346L542.7 346.1L541.4 345.9L540 346.1L538.7 345.7L537.3 346.4L536 346.3L534.7 346L533.3 346L532 346.4L530.7 346.2L529.3 346.1L528 346.6L526.7 345.9Z" fill="#ffff00" fill-opacity="0.8"/>
<path d="M526.7 346.6L528 346.6L529.3 346.2L530.7 346.4L532 346.5L533.3 346.1L534.7 346.6L536 346.5L537.3 346.3L538.7 346.4L540 346.2L541.4 346.1L542.7 345.8L544 345.7L545.4 345.6L546.7 345.4L548 346.1L549.4 345.5L550.7 345.2L552 345.3L553.4 345L554.7 345.2L556 345L557.4 344.7L558.7 344.9L560 344.7L561.4 344.5L562.7 344.8L564 344.3L565.4 344.3L566.7 344.5L568 344.4L569.4 343.8L570.7 343.4L572 344L573.4 343.5L574.7 343.1L576 342.9L577.3 342.8L578.7 342.8L580 342.5L580 338L578.7 338.2L577.3 338.3L576 338.5L574.7 338.7L573.3 338.8L572 339L570.7 339.2L569.3 339.3L568 339.5L566.7 339.6L565.3 339.8L564 339.9L562.6 340.1L561.3 340.2L560 340.4L558.6 340.5L557.3 340.7L556 340.8L554.6 341L553.3 341.1L552 341.3L550.6 341.4L549.3 341.5L547.9 341.6L546.6 341.7L545.2 341.7L543.9 341.8L542.6 341.9L541.2 341.9L539.9 342L538.5 342.1L537.2 342.1L535.8 342.2L534.5 342.3L533.2 342.3L531.8 342.4L530.5 342.5L529.1 342.5L527.8 342.4L526.4 342.4Z" fill="#ffb400" fill-opacity="0.6"/>
<path d="M514 355.5L514.3 355.5L514.7 355.5L515 355.5L515.4 355.6L515.7 355.6L516.1 355.6L516.4 355.6L516.8 355.6L517.1 355.6L517.5 355.7L517.8 355.7L518.2 355.7L518.5 355.7L518.8 355.7L519.2 355.7L519.5 355.7L519.9 355.8L520.2 355.8L520.6 355.8L520.9 355.8L521.3 355.8L521.6 355.8L522 355.8L522.3 355.9L522.7 355.9L523 355.9L523.4 355.9L523.7 355.9L524 355.9L524.4 356L524.7 356L525.1 356L525.4 356L525.8 356L526.1 356L526.5 356L526.8 356.1L527.2 356.1L527.5 356.1L527.9 356.1L527.4 348.1L527.1 347.9L526.7 348.2L526.4 347.9L526 348.1L525.7 347.9L525.3 347.7L525 348.2L524.6 347.8L524.3 348L523.9 348L523.6 347.8L523.2 348L522.9 347.4L522.5 347.4L522.2 347.6L521.8 348.1L521.5 347.4L521.1 347.5L520.8 347.8L520.4 347.9L520.1 347.2L519.7 347.9L519.4 347.7L519 347.4L518.7 347.6L518.3 347.7L518 347.3L517.6 347.2L517.3 347.5L516.9 347.3L516.6 347.1L516.2 347.4L515.9 347.2L515.5 347.8L515.2 347.6L514.8 347.6L514.5 347.2L514.1 347.2L513.8 347L513.4 347.5Z" fill="#0000f5" fill-opacity="0.9"/>
<path d="M513.4 347L513.8 347.2L514.1 347.2L514.5 347.3L514.8 347.3L515.2 347.2L515.5 347.8L515.9 347.6L516.2 347.7L516.6 347.4L516.9 347.6L517.3 347.7L517.6 347.8L518 347.2L518.3 347.4L518.7 347.9L519 347.4L519.4 347.5L519.7 347.6L520.1 347.4L520.4 347.5L520.8 348L521.1 347.4L521.5 347.7L521.8 347.3L522.2 347.8L522.5 347.7L522.9 347.6L523.2 347.8L523.6 348L523.9 347.9L524.3 347.8L524.6 347.9L525 347.8L525.3 348.2L525.7 347.6L526 347.6L526.4 348.2L526.7 348L527.1 347.6L527.4 347.9L527.2 344.7L526.9 344.7L526.5 344.5L526.2 344.3L525.8 344.8L525.5 344.4L525.1 344.7L524.8 344.4L524.4 344.1L524.1 344.2L523.7 344.5L523.4 344L523 344.7L522.7 344.7L522.3 344L521.9 344.5L521.6 344L521.2 344L520.9 344.7L520.5 344.2L520.2 344.3L519.8 344.3L519.5 344L519.1 344.5L518.8 344.3L518.4 344.5L518.1 343.9L517.7 344L517.4 343.9L517 344.4L516.7 344.2L516.3 344.5L516 343.8L515.6 343.8L515.3 344.2L514.9 343.9L514.6 344L514.2 344.2L513.9 343.7L513.5 343.7L513.1 343.8Z" fill="#40ff0a" fill-opacity="0.8"/>
<path d="M513.1 344L513.5 343.6L513.9 343.9L514.2 343.7L514.6 344.4L514.9 344.4L515.3 344.4L515.6 343.9L516 343.8L516.3 344.4L516.7 344.5L517 343.8L517.4 344.1L517.7 343.8L518.1 344.4L518.4 344.4L518.8 343.9L519.1 344.2L519.5 344.3L519.8 344L520.2 344.5L520.5 344.2L520.9 344L521.2 344.3L521.6 344.5L521.9 344.1L522.3 344.2L522.7 344.7L523 344.5L523.4 344.3L523.7 344.4L524.1 344.1L524.4 344.2L524.8 344.3L525.1 344.5L525.5 344.2L525.8 344.2L526.2 344.1L526.5 344.6L526.9 344.2L527.2 344.8L527.1 342.4L526.8 342.4L526.4 342.4L526.1 342.4L525.7 342.4L525.3 342.4L525 342.4L524.6 342.3L524.3 342.3L523.9 342.3L523.6 342.3L523.2 342.3L522.9 342.3L522.5 342.3L522.2 342.3L521.8 342.3L521.5 342.2L521.1 342.2L520.8 342.2L520.4 342.2L520.1 342.2L519.7 342.2L519.4 342.2L519 342.2L518.6 342.2L518.3 342.2L517.9 342.1L517.6 342.1L517.2 342.1L516.9 342.1L516.5 342.1L516.2 342.1L515.8 342.1L515.5 342.1L515.1 342.1L514.8 342.1L514.4 342L514.1 342L513.7 342L513.4 342L513 342Z" fill="#ffff00" fill-opacity="0.6"/>
<path d="M534.5 353L534.4 351.2M535.7 353.2L535.6 351.3M537.4 353.7L537.3 351.9M539 352.8L538.9 351M541.2 352.9L541.1 351.1M542.1 353.4L542 351.5M543.3 353L543.3 351.1M545.6 353.2L545.6 351.3M547 352.8L547 350.9M548 353L548 351M549.9 353.4L549.9 351.4M551.5 353.2L551.5 351.2M553.1 353.2L553.1 351.3M555.1 352.7L555 350.7M555.7 352.6L555.6 350.6M557.5 352.6L557.5 350.6M559.1 353.1L559.1 351.1M560.5 353L560.5 351M562.8 352.8L562.8 350.7M563.4 352.1L563.4 350.1M564.8 352.8L564.7 350.8M566.5 351.8L566.4 349.7M569 352.6L569 350.5M570.3 351.8L570.3 349.7M571.7 352.4L571.7 350.2M573.1 351.2L573.1 349.1M574.5 351.4L574.5 349.2M575.8 351.6L575.8 349.4M577.2 351L577.2 348.9M579.6 351.8L579.6 349.6" stroke="#0a9a5c" stroke-width="0.8" fill="none"/>
<path d="M534.2 345.6L534 342.1M535.4 345.7L535.3 342.2M537.1 346.2L537 342.7M538.7 345.3L538.6 341.7M540.9 345.4L540.8 341.8M541.8 345.8L541.7 342.2M543.1 345.4L542.9 341.8M545.4 345.5L545.3 341.8M546.8 345.1L546.7 341.4M547.8 345.2L547.7 341.5M549.7 345.5L549.6 341.8M551.4 345.3L551.3 341.5M553 345.3L552.9 341.5M554.9 344.7L554.8 340.9M555.5 344.5L555.4 340.7M557.4 344.4L557.3 340.6M559 344.9L558.9 341M560.4 344.7L560.3 340.8M562.7 344.4L562.6 340.4M563.3 343.7L563.3 339.7M564.7 344.3L564.6 340.3M566.4 343.3L566.3 339.2M568.9 344L568.9 339.9M570.2 343.1L570.2 339M571.6 343.7L571.6 339.5M573 342.4L573 338.3M574.5 342.5L574.5 338.4M575.8 342.7L575.7 338.5M577.2 342.1L577.2 337.9M579.6 342.8L579.6 338.5" stroke="#ff7000" stroke-width="0.8" fill="none" stroke-dasharray="1.2 0.8"/>
<path d="M607.2 348.2L611.2 339.5M608.5 347.6L612.5 339.3M610.3 347.3L614.3 339.4M611.3 348.2L615.3 340.7M613.7 347.4L617.7 340.4M614.8 348.2L618.8 341.6M616.6 346.4L620.6 340.3M617.4 347.3L621.4 341.6" stroke="#3030ff" stroke-width="0.6" fill="none" stroke-dasharray="0.8 1.6"/>
<path d="M541 371.7L542.2 372.5L543.4 373.4L544.6 374.2L545.9 375.1L547.1 375.9L548.3 376.8L549.5 377.6L550.7 378.5L551.9 379.3L553.3 379.9L554.7 380.4L556.1 380.8L557.5 381.3L558.9 381.8L560.3 382.3L561.7 382.8L563.1 383.2L564.6 382.9L566.1 382.7L567.5 382.5L569 382.3L570.5 382.1L571.9 381.9L573.4 381.7L574.8 381.3L576.3 381L577.7 380.6L579.1 380.2L580.6 379.9L582 379.5L583.4 379.1L584.9 378.7L586.2 378.1L587.6 377.5L588.9 376.9L590.3 376.3L591.6 375.7L593 375.1L594.3 374.5L595.7 373.9L596 358L594.6 357.9L593.2 357.7L591.8 357.6L590.4 357.5L589 357.4L587.6 357.2L586.2 357.1L584.8 357L583.4 357L582 357L580.6 357L579.2 357L577.8 357L576.4 357L575 357L573.6 357L572.2 356.9L570.8 356.9L569.4 356.8L568 356.7L566.6 356.7L565.2 356.6L563.8 356.5L562.4 356.5L561 356.5L559.6 356.5L558.2 356.5L556.8 356.5L555.4 356.5L554 356.5L552.6 356.5L551.2 356.5L549.8 356.6L548.4 356.6L547 356.7L545.6 356.7L544.2 356.8L542.8 356.9L541.4 356.9L540 357Z" fill="#ffffff"/>
<path d="M542.6 370.3L543.2 368.2M544.7 373.8L545.3 371.7M546.3 373.5L546.8 371.4M546.2 374.2L546.7 372.1M546.9 375.2L547.4 373M549.7 374.1L550.3 372M550.1 371.4L550.7 369.3M550.1 376.1L550.6 374M550.8 376.3L551.3 374.1M552.6 377.4L553.1 375.2M553.7 374.6L554.2 372.5M552.7 378.7L553.2 376.6M553.7 376L554.2 373.8M555 374.2L555.5 372.1M554.7 379.2L555.2 377.1M555.9 376.5L556.4 374.3M556.1 380.2L556.6 378.1M556.1 377.5L556.6 375.4M557.2 372.1L557.7 369.9M557 379.9L557.5 377.7M557.2 379.8L557.7 377.7M560 371.7L560.5 369.5M558.6 380.2L559.1 378M559.7 380.4L560.2 378.2M561 377.7L561.5 375.5M561.4 378.4L561.9 376.3M561.6 375.7L562.1 373.6M564.2 372.6L564.7 370.5M563.1 382.3L563.5 380.1M563.4 381.1L563.9 379M564.8 382.5L565.2 380.3M565.4 377L565.8 374.8M564.8 381L565.3 378.8M566.4 378.2L566.8 376.1M565.8 381.6L566.2 379.4M566.5 378.8L566.9 376.7M568.9 376.3L569.4 374.2M569.2 381.1L569.7 378.9M569.6 378.3L570 376.2M572.6 372.1L573 370M572.3 378L572.7 375.9M573.2 381.1L573.6 379M573.6 378.4L574 376.2M574.1 372.9L574.5 370.7M573.8 381.5L574.3 379.4M576.1 380.9L576.5 378.8M575.8 378.2L576.3 376M577.8 378.9L578.2 376.8M577.3 379.6L577.8 377.5M580.3 376.3L580.8 374.1M582.5 369.9L583 367.7M581.4 379.2L581.8 377M581.9 376.4L582.4 374.3M583 376.2L583.4 374.1M585.1 378.2L585.6 376.1M586 375.5L586.5 373.4M586.1 377.5L586.6 375.4M586.9 376.4L587.4 374.3M588.7 371.3L589.2 369.2M587.7 377.1L588.2 375M589.9 369L590.5 366.9M589.3 374.7L589.9 372.6M590.8 372L591.4 369.9M590 375.1L590.6 373M591.7 374.7L592.2 372.6M591.2 375.8L591.8 373.7M591.6 373.1L592.2 371M592.5 373.5L593.1 371.4M593.9 374.3L594.6 372.2M597.3 367.2L598 365.1" stroke="#0000f5" stroke-width="1" fill="none"/>
<path d="M543 367.6L543.5 365.5M543.4 368L544 365.9M543.7 368.6L544.3 366.5M544.7 365.9L545.2 363.8M545.8 363.2L546.4 361.1M545.9 368.4L546.5 366.2M546.6 370.8L547.1 368.7M548.2 368.8L548.8 366.7M549.3 370.2L549.8 368M551.1 368.7L551.6 366.6M550.7 373.4L551.3 371.3M551.8 370.7L552.4 368.6M551.1 373.5L551.6 371.4M551.7 374.4L552.2 372.2M553.5 371.9L554 369.8M556 367.8L556.5 365.7M556.4 373.8L557 371.6M556.8 368.3L557.3 366.2M556.3 374.8L556.8 372.6M558.4 369.3L558.9 367.2M559.3 374.4L559.8 372.2M560.1 372L560.6 369.8M561.9 373L562.4 370.8M563.3 375.4L563.8 373.2M565.9 368.6L566.4 366.4M566 374.3L566.4 372.1M567.4 371.5L567.9 369.4M566.3 375.5L566.8 373.3M566.5 372.7L566.9 370.6M568 367.3L568.5 365.1M567.4 373.4L567.8 371.2M569.3 371.1L569.8 368.9M570 373.6L570.5 371.4M569.9 370.9L570.4 368.7M570.4 375.6L570.9 373.4M570.2 372.8L570.7 370.7M570.5 377.6L571 375.5M571.1 374.9L571.6 372.7M572.4 375.9L572.9 373.8M572.8 373.2L573.2 371M573.2 370.4L573.7 368.3M573.6 367.7L574.1 365.6M574.4 372.6L574.9 370.4M575.9 367.4L576.3 365.3M575.9 373.3L576.4 371.2M575.4 370.6L575.8 368.4M576.6 372.5L577 370.4M577.2 375.5L577.7 373.3M578.9 364.5L579.3 362.3M577.8 376.2L578.3 374M578.7 370.7L579.2 368.6M581 365.2L581.5 363.1M579.6 373.6L580.1 371.4M580.6 370.8L581.1 368.7M581.8 368.1L582.3 365.9M580.8 373.5L581.3 371.4M581.4 370.8L581.9 368.7M582.6 368.1L583.1 365.9M581 375.3L581.4 373.2M582.2 372.6L582.7 370.4M583.3 373.7L583.8 371.6M583.9 371L584.3 368.8M584 368.2L584.5 366.1M585.8 368L586.3 365.9M586.1 370.1L586.6 367.9M586.8 372L587.3 369.9M587.9 369.3L588.3 367.2M589.2 363.9L589.7 361.7M587.7 373.7L588.2 371.5M587.6 370.9L588.1 368.8M587.1 374.1L587.6 371.9M589.1 371.7L589.7 369.6M591.4 363.6L591.9 361.4M590.7 369.3L591.2 367.2M591.9 369.7L592.4 367.6M591.7 367L592.3 364.9M594.6 364L595.2 361.8M593 370.4L593.6 368.3M595.1 368.2L595.7 366.1M595 371.6L595.7 369.5M595 368.9L595.6 366.8M597.3 363.6L597.9 361.5M596.4 368.5L597.1 366.4M597.1 365.8L597.7 363.7M596.8 369.9L597.5 367.8M598.6 364.6L599.3 362.5" stroke="#40ff0a" stroke-width="1" fill="none"/>
<path d="M543.8 364.9L544.4 362.8M544.5 362.2L545 360.1M546.8 362.5L547.3 360.3M547.7 360.2L548.3 358.1M548.5 357.5L548.7 356.8M547.6 365.4L548.2 363.2M549.8 360.7L550.4 358.5M549.9 364.3L550.4 362.2M548.5 372.9L549 370.8M550.4 367.5L550.9 365.3M551.9 362L552.4 359.9M551.6 363.3L552.1 361.1M552.1 370.8L552.7 368.7M553.1 365.4L553.6 363.3M555.4 357.2L555.5 356.5M553.1 368.9L553.7 366.8M553.9 366.2L554.4 364.1M556.8 362.4L557.3 360.3M555.1 371.5L555.7 369.4M557 371L557.5 368.9M558.2 362.9L558.7 360.7M559.5 360.1L560 358M561.6 358L562 356.5M560.4 366.2L560.9 364.1M560.5 374.7L560.9 372.5M562 366.5L562.5 364.3M563 364L563.5 361.8M564.8 361.3L565.3 359.1M562.7 370.2L563.1 368.1M564.8 369.9L565.3 367.8M565.4 364.4L565.8 362.3M565.4 371.3L565.9 369.2M564.2 375.7L564.7 373.5M564.6 372.9L565.1 370.8M567 370L567.5 367.9M569.1 365.1L569.6 363M569.1 373.8L569.6 371.7M570.5 368.4L571 366.2M570.5 365.6L571 363.5M571.4 370.1L571.8 368M571.2 367.4L571.7 365.2M573.4 375.3L573.9 373.1M574.1 369.8L574.5 367.7M575.9 364.7L576.4 362.5M574.8 376.1L575.2 373.9M576.2 367.8L576.7 365.7M577.9 372.7L578.4 370.6M578.2 370L578.7 367.8M578 367.2L578.5 365.1M580.3 368L580.7 365.8M582 359.8L582.5 357.6M578.2 374.2L578.7 372M581.8 357.7L582 357M583.8 359.9L584.3 357.7M583.3 367.1L583.8 365M584 364.4L584.4 362.2M585.8 365.3L586.3 363.1M584.1 374.8L584.6 372.7M586.1 366.7L586.6 364.5M586.8 367.3L587.3 365.2M587.7 364.6L588.2 362.4M588.3 368.2L588.8 366.1M591.9 363.9L592.5 361.8M592.7 361.2L593.3 359.1M590.6 372.4L591.2 370.3M592.9 364.3L593.5 362.2M592.8 369.4L593.4 367.2M594 370.9L594.6 368.7M595.1 365.5L595.7 363.4M596 366.2L596.6 364.1" stroke="#ffff00" stroke-width="1" fill="none"/>
<path d="M545.3 359.5L545.8 357.4M550.4 361.6L551 359.5M551.7 358.9L552.3 356.8M558 356.9L558.1 356.5M566.9 359L567.4 356.8M569.6 357.8L569.8 356.6M572.7 360.1L573.1 358M572.8 359.9L573.2 357.7M574.7 362.2L575.1 360.1M578.5 359.6L578.9 357.5M582.8 362.6L583.2 360.5M583.9 362.6L584.3 360.4M584.9 357.1L584.9 357M587.5 358.5L587.8 357M593 358.1L593.2 357.3" stroke="#ff2a00" stroke-width="1" fill="none"/>
<path d="M545.3 359.9L545.9 357.7M547.3 357.8L547.5 356.9M550.3 358L550.6 356.7M552.9 362.6L553.5 360.4M561.2 363.5L561.7 361.4M562 360.7L562.5 358.6M566.4 361.7L566.9 359.5M566.1 363.1L566.5 361M568.6 360.6L569.1 358.4M571.1 362.9L571.6 360.7M572.1 357.4L572.3 356.7M574.7 361.2L575.1 359M576.4 361.6L576.9 359.5M576.5 358.9L576.9 356.9M576.9 361.9L577.4 359.8M580.1 358.8L580.5 357M580 359L580.5 357M582.5 357L582.5 357M580.7 363.2L581.2 361.1M585.8 360L586.3 357.9M586.5 357.3L586.6 357M589.6 362.8L590.1 360.6M589.9 363.2L590.4 361M595.7 362.4L596.3 360.2" stroke="#ffb400" stroke-width="1" fill="none"/>
<path d="M544 373.3L544.5 371.2M547.7 375.6L548.3 373.5M551 377.1L551.5 375M557.9 377.1L558.4 375M559 377.4L559.5 375.3M562 378.1L562.5 376M563.2 379.5L563.6 377.4M567.7 382L568.2 379.9M571.4 378.7L571.9 376.5M572.5 380.8L572.9 378.6M574.3 378.8L574.7 376.6M575.6 378L576.1 375.8M579.3 376.3L579.8 374.1M588.4 374.4L588.9 372.3" stroke="#3030ff" stroke-width="1" fill="none"/>
<path d="M547.9 357L547.9 356.9M548.6 362.7L549.2 360.5M550 357.2L550.1 356.8M548.6 367L549.1 364.9M552 359.3L552.6 357.2M552.6 360.5L553.2 358.4M553.7 357.8L554 356.6M553.5 359.9L554.1 357.7M553.7 362.7L554.2 360.5M555.1 363.5L555.6 361.4M555.3 360.8L555.8 358.7M556.7 358.1L557.1 356.5M555.6 363.8L556.2 361.6M556.4 361.1L557 358.9M557.9 359.7L558.4 357.5M556.2 368.8L556.7 366.7M558 363.4L558.5 361.2M558.3 360.6L558.9 358.5M557.4 365.6L558 363.5M558.4 366.6L558.9 364.5M559.4 363.9L559.9 361.7M560.4 358.4L560.9 356.5M559.8 366.2L560.3 364.1M562.1 363.8L562.6 361.6M562.7 361L563.2 358.9M563 366.7L563.5 364.6M565 362L565.5 359.9M565.4 359.3L565.9 357.2M565 367.2L565.5 365M565.9 365.9L566.4 363.7M566.6 367.4L567 365.3M566.5 364.7L567 362.6M567.1 368.8L567.5 366.6M568.1 370.6L568.5 368.5M569.9 362.4L570.3 360.2M571.4 356.9L571.5 356.7M571 365.4L571.5 363.2M573.5 357.2L573.6 356.7M572.8 361.9L573.3 359.7M574.3 363.9L574.7 361.8M575.5 358.5L575.8 356.8M575.5 359.5L576 357.3M575 367.1L575.5 364.9M575.2 364.3L575.7 362.2M575.5 370.2L576 368M577.3 362.4L577.8 360.2M577.5 369.8L578 367.6M577.5 367L578 364.9M582.3 365.4L582.8 363.2M584.9 365.5L585.3 363.4M585.2 362.8L585.7 360.6M588.8 361.9L589.3 359.7M589.6 365.9L590.1 363.8M590.4 366.3L591 364.2M592.5 360.9L593 358.7M592.3 366.6L592.9 364.5M593.5 361.6L594.1 359.5M593.7 358.9L594.1 357.4M595.4 361.3L596 359.1M594.6 365.1L595.2 362.9M595.9 359.7L596.5 357.6M597.3 360.9L597.9 358.8M599.1 358.2L599.2 357.8M598.1 360.4L598.8 358.3M599.9 359.3L600.3 358" stroke="#ff7000" stroke-width="1" fill="none"/>
<path d="M506.3 343.05l0.95 1.6 1.6 0.95-1.6 0.95-0.95 1.6-0.95-1.6-1.6-0.95 1.6-0.95zM508.9 356.65l0.95 1.6 1.6 0.95-1.6 0.95-0.95 1.6-0.95-1.6-1.6-0.95 1.6-0.95zM505.5 362.45l0.95 1.6 1.6 0.95-1.6 0.95-0.95 1.6-0.95-1.6-1.6-0.95 1.6-0.95zM510.4 376.75l0.95 1.6 1.6 0.95-1.6 0.95-0.95 1.6-0.95-1.6-1.6-0.95 1.6-0.95zM529.3 353.75l0.95 1.6 1.6 0.95-1.6 0.95-0.95 1.6-0.95-1.6-1.6-0.95 1.6-0.95zM526.2 357.35l0.95 1.6 1.6 0.95-1.6 0.95-0.95 1.6-0.95-1.6-1.6-0.95 1.6-0.95zM525.2 360.45l0.95 1.6 1.6 0.95-1.6 0.95-0.95 1.6-0.95-1.6-1.6-0.95 1.6-0.95zM525.7 362.95l0.95 1.6 1.6 0.95-1.6 0.95-0.95 1.6-0.95-1.6-1.6-0.95 1.6-0.95zM524.7 365.05l0.95 1.6 1.6 0.95-1.6 0.95-0.95 1.6-0.95-1.6-1.6-0.95 1.6-0.95zM526.8 367.05l0.95 1.6 1.6 0.95-1.6 0.95-0.95 1.6-0.95-1.6-1.6-0.95 1.6-0.95zM526.2 368.65l0.95 1.6 1.6 0.95-1.6 0.95-0.95 1.6-0.95-1.6-1.6-0.95 1.6-0.95zM518.9 365.05l0.95 1.6 1.6 0.95-1.6 0.95-0.95 1.6-0.95-1.6-1.6-0.95 1.6-0.95zM535.9 363.45l0.95 1.6 1.6 0.95-1.6 0.95-0.95 1.6-0.95-1.6-1.6-0.95 1.6-0.95zM542.1 359.45l0.95 1.6 1.6 0.95-1.6 0.95-0.95 1.6-0.95-1.6-1.6-0.95 1.6-0.95zM562 359.45l0.95 1.6 1.6 0.95-1.6 0.95-0.95 1.6-0.95-1.6-1.6-0.95 1.6-0.95zM551.8 384.85l0.95 1.6 1.6 0.95-1.6 0.95-0.95 1.6-0.95-1.6-1.6-0.95 1.6-0.95zM553.3 387.95l0.95 1.6 1.6 0.95-1.6 0.95-0.95 1.6-0.95-1.6-1.6-0.95 1.6-0.95zM550.8 396.65l0.95 1.6 1.6 0.95-1.6 0.95-0.95 1.6-0.95-1.6-1.6-0.95 1.6-0.95zM552.8 395.65l0.95 1.6 1.6 0.95-1.6 0.95-0.95 1.6-0.95-1.6-1.6-0.95 1.6-0.95zM554.3 398.65l0.95 1.6 1.6 0.95-1.6 0.95-0.95 1.6-0.95-1.6-1.6-0.95 1.6-0.95zM550.3 401.75l0.95 1.6 1.6 0.95-1.6 0.95-0.95 1.6-0.95-1.6-1.6-0.95 1.6-0.95zM552.8 401.25l0.95 1.6 1.6 0.95-1.6 0.95-0.95 1.6-0.95-1.6-1.6-0.95 1.6-0.95zM558.9 398.65l0.95 1.6 1.6 0.95-1.6 0.95-0.95 1.6-0.95-1.6-1.6-0.95 1.6-0.95zM553.8 407.85l0.95 1.6 1.6 0.95-1.6 0.95-0.95 1.6-0.95-1.6-1.6-0.95 1.6-0.95zM563 402.75l0.95 1.6 1.6 0.95-1.6 0.95-0.95 1.6-0.95-1.6-1.6-0.95 1.6-0.95zM565.1 405.35l0.95 1.6 1.6 0.95-1.6 0.95-0.95 1.6-0.95-1.6-1.6-0.95 1.6-0.95zM564 407.35l0.95 1.6 1.6 0.95-1.6 0.95-0.95 1.6-0.95-1.6-1.6-0.95 1.6-0.95zM560 410.45l0.95 1.6 1.6 0.95-1.6 0.95-0.95 1.6-0.95-1.6-1.6-0.95 1.6-0.95zM558.4 412.95l0.95 1.6 1.6 0.95-1.6 0.95-0.95 1.6-0.95-1.6-1.6-0.95 1.6-0.95zM560.5 414.05l0.95 1.6 1.6 0.95-1.6 0.95-0.95 1.6-0.95-1.6-1.6-0.95 1.6-0.95zM570.7 412.45l0.95 1.6 1.6 0.95-1.6 0.95-0.95 1.6-0.95-1.6-1.6-0.95 1.6-0.95zM562.5 419.15l0.95 1.6 1.6 0.95-1.6 0.95-0.95 1.6-0.95-1.6-1.6-0.95 1.6-0.95zM572.2 420.65l0.95 1.6 1.6 0.95-1.6 0.95-0.95 1.6-0.95-1.6-1.6-0.95 1.6-0.95zM557.2 386.65l0.95 1.6 1.6 0.95-1.6 0.95-0.95 1.6-0.95-1.6-1.6-0.95 1.6-0.95z" fill="#ff3a12"/>
<ellipse cx="465.13" cy="417.11" rx="27.77" ry="26.71" fill="none" stroke="#151515" stroke-width="1.5"/>
<ellipse cx="551.62" cy="367.62" rx="29.65" ry="26.71" fill="none" stroke="#151515" stroke-width="1.5"/>
<ellipse cx="567.79" cy="362.24" rx="29.96" ry="26.71" fill="none" stroke="#151515" stroke-width="1.5"/>
<ellipse cx="583.5" cy="353.2" rx="30.52" ry="26.71" fill="none" stroke="#151515" stroke-width="1.5"/>
<ellipse cx="560.98" cy="416.79" rx="27.78" ry="26.71" fill="none" stroke="#151515" stroke-width="1.5"/>
<path d="M459.78 381.91L466.88 381.91L463.33 389.01Z" fill="#000"/>
<path d="M488.66 372.79L495.76 372.79L492.21 379.89Z" fill="#000"/>
<path d="M487.47 419.99L494.57 419.99L491.02 427.09Z" fill="#000"/>
<path d="M465.48 458.08L472.58 458.08L469.03 465.18Z" fill="#000"/>
<path d="M562.23 414.69L569.33 414.69L565.78 421.79Z" fill="#000"/>
<path d="M579.46 349.42L586.56 349.42L583.01 356.52Z" fill="#000"/>
<path d="M461.58 414.21L468.68 414.21L465.13 421.31Z" fill="#000"/>
<circle cx="581.99" cy="353.72" r="3.6" fill="#000" stroke="#fff" stroke-width="1.5"/>
<circle cx="390.1" cy="304.1" r="3.1" fill="#000"/>
<text x="398.8" y="306.7" font-size="7.4" stroke="#000" stroke-width="0.3">Rx</text>
<path d="M386.55 312L393.65 312L390.1 319.1Z" fill="#000"/>
<text x="398.8" y="318.7" font-size="7.4" textLength="37.8" lengthAdjust="spacingAndGlyphs" stroke="#000" stroke-width="0.3">Ionosonde</text>
<circle cx="390" cy="328.1" r="1.1" fill="#f5300f"/>
<text x="398.8" y="330.9" font-size="7.4" fill="#f5300f" textLength="40.2" lengthAdjust="spacingAndGlyphs" stroke="#f5300f" stroke-width="0.3">Effective Tx</text>
<text x="392" y="490.6" font-family="Liberation Serif, serif" font-weight="bold" font-style="italic" font-size="32.5" stroke="#000" stroke-width="0.22">d</text>
<g clip-path="url(#pc)" transform="translate(0 551.9)"><use href="#coast"/></g>
<path d="M44.45 786.38v-2.2M44.45 565.45v2.2M48.55 786.38v-2.2M48.55 565.45v2.2M52.66 786.38v-5M52.66 565.45v5M56.76 786.38v-2.2M56.76 565.45v2.2M60.86 786.38v-2.2M60.86 565.45v2.2M64.97 786.38v-2.2M64.97 565.45v2.2M69.07 786.38v-2.2M69.07 565.45v2.2M73.17 786.38v-2.2M73.17 565.45v2.2M77.28 786.38v-2.2M77.28 565.45v2.2M81.38 786.38v-2.2M81.38 565.45v2.2M85.48 786.38v-2.2M85.48 565.45v2.2M89.58 786.38v-2.2M89.58 565.45v2.2M93.69 786.38v-5M93.69 565.45v5M97.79 786.38v-2.2M97.79 565.45v2.2M101.89 786.38v-2.2M101.89 565.45v2.2M106 786.38v-2.2M106 565.45v2.2M110.1 786.38v-2.2M110.1 565.45v2.2M114.2 786.38v-2.2M114.2 565.45v2.2M118.31 786.38v-2.2M118.31 565.45v2.2M122.41 786.38v-2.2M122.41 565.45v2.2M126.51 786.38v-2.2M126.51 565.45v2.2M130.61 786.38v-2.2M130.61 565.45v2.2M134.72 786.38v-5M134.72 565.45v5M138.82 786.38v-2.2M138.82 565.45v2.2M142.92 786.38v-2.2M142.92 565.45v2.2M147.03 786.38v-2.2M147.03 565.45v2.2M151.13 786.38v-2.2M151.13 565.45v2.2M155.23 786.38v-2.2M155.23 565.45v2.2M159.34 786.38v-2.2M159.34 565.45v2.2M163.44 786.38v-2.2M163.44 565.45v2.2M167.54 786.38v-2.2M167.54 565.45v2.2M171.64 786.38v-2.2M171.64 565.45v2.2M175.75 786.38v-5M175.75 565.45v5M179.85 786.38v-2.2M179.85 565.45v2.2M183.95 786.38v-2.2M183.95 565.45v2.2M188.06 786.38v-2.2M188.06 565.45v2.2M192.16 786.38v-2.2M192.16 565.45v2.2M196.26 786.38v-2.2M196.26 565.45v2.2M200.37 786.38v-2.2M200.37 565.45v2.2M204.47 786.38v-2.2M204.47 565.45v2.2M208.57 786.38v-2.2M208.57 565.45v2.2M212.67 786.38v-2.2M212.67 565.45v2.2M216.78 786.38v-5M216.78 565.45v5M220.88 786.38v-2.2M220.88 565.45v2.2M224.98 786.38v-2.2M224.98 565.45v2.2M229.09 786.38v-2.2M229.09 565.45v2.2M233.19 786.38v-2.2M233.19 565.45v2.2M237.29 786.38v-2.2M237.29 565.45v2.2M241.4 786.38v-2.2M241.4 565.45v2.2M245.5 786.38v-2.2M245.5 565.45v2.2M249.6 786.38v-2.2M249.6 565.45v2.2M253.7 786.38v-2.2M253.7 565.45v2.2M257.81 786.38v-5M257.81 565.45v5M261.91 786.38v-2.2M261.91 565.45v2.2M266.01 786.38v-2.2M266.01 565.45v2.2M270.12 786.38v-2.2M270.12 565.45v2.2M274.22 786.38v-2.2M274.22 565.45v2.2M278.32 786.38v-2.2M278.32 565.45v2.2M282.43 786.38v-2.2M282.43 565.45v2.2M286.53 786.38v-2.2M286.53 565.45v2.2M290.63 786.38v-2.2M290.63 565.45v2.2M294.73 786.38v-2.2M294.73 565.45v2.2M298.84 786.38v-5M298.84 565.45v5M302.94 786.38v-2.2M302.94 565.45v2.2M307.04 786.38v-2.2M307.04 565.45v2.2M42.4 784.38h2.8M309.09 784.38h-2.8M42.4 780.36h2.8M309.09 780.36h-2.8M42.4 776.34h5.3M309.09 776.34h-5.3M42.4 772.33h2.8M309.09 772.33h-2.8M42.4 768.31h2.8M309.09 768.31h-2.8M42.4 764.29h2.8M309.09 764.29h-2.8M42.4 760.27h2.8M309.09 760.27h-2.8M42.4 756.26h2.8M309.09 756.26h-2.8M42.4 752.24h2.8M309.09 752.24h-2.8M42.4 748.22h2.8M309.09 748.22h-2.8M42.4 744.21h2.8M309.09 744.21h-2.8M42.4 740.19h2.8M309.09 740.19h-2.8M42.4 736.17h5.3M309.09 736.17h-5.3M42.4 732.16h2.8M309.09 732.16h-2.8M42.4 728.14h2.8M309.09 728.14h-2.8M42.4 724.12h2.8M309.09 724.12h-2.8M42.4 720.1h2.8M309.09 720.1h-2.8M42.4 716.09h2.8M309.09 716.09h-2.8M42.4 712.07h2.8M309.09 712.07h-2.8M42.4 708.05h2.8M309.09 708.05h-2.8M42.4 704.04h2.8M309.09 704.04h-2.8M42.4 700.02h2.8M309.09 700.02h-2.8M42.4 696h5.3M309.09 696h-5.3M42.4 691.99h2.8M309.09 691.99h-2.8M42.4 687.97h2.8M309.09 687.97h-2.8M42.4 683.95h2.8M309.09 683.95h-2.8M42.4 679.93h2.8M309.09 679.93h-2.8M42.4 675.92h2.8M309.09 675.92h-2.8M42.4 671.9h2.8M309.09 671.9h-2.8M42.4 667.88h2.8M309.09 667.88h-2.8M42.4 663.87h2.8M309.09 663.87h-2.8M42.4 659.85h2.8M309.09 659.85h-2.8M42.4 655.83h5.3M309.09 655.83h-5.3M42.4 651.82h2.8M309.09 651.82h-2.8M42.4 647.8h2.8M309.09 647.8h-2.8M42.4 643.78h2.8M309.09 643.78h-2.8M42.4 639.76h2.8M309.09 639.76h-2.8M42.4 635.75h2.8M309.09 635.75h-2.8M42.4 631.73h2.8M309.09 631.73h-2.8M42.4 627.71h2.8M309.09 627.71h-2.8M42.4 623.7h2.8M309.09 623.7h-2.8M42.4 619.68h2.8M309.09 619.68h-2.8M42.4 615.66h5.3M309.09 615.66h-5.3M42.4 611.65h2.8M309.09 611.65h-2.8M42.4 607.63h2.8M309.09 607.63h-2.8M42.4 603.61h2.8M309.09 603.61h-2.8M42.4 599.59h2.8M309.09 599.59h-2.8M42.4 595.58h2.8M309.09 595.58h-2.8M42.4 591.56h2.8M309.09 591.56h-2.8M42.4 587.54h2.8M309.09 587.54h-2.8M42.4 583.53h2.8M309.09 583.53h-2.8M42.4 579.51h2.8M309.09 579.51h-2.8M42.4 575.49h5.3M309.09 575.49h-5.3M42.4 571.48h2.8M309.09 571.48h-2.8M42.4 567.46h2.8M309.09 567.46h-2.8" stroke="#777" stroke-width="0.9" fill="none"/>
<rect x="42.4" y="565.45" width="266.69" height="220.94" fill="none" stroke="#939393" stroke-width="0.95"/>
<text x="52.66" y="806.78" text-anchor="middle" font-size="11" stroke="#000" stroke-width="0.3">80</text>
<text x="93.69" y="806.78" text-anchor="middle" font-size="11" stroke="#000" stroke-width="0.3">90</text>
<text x="134.72" y="806.78" text-anchor="middle" font-size="11" stroke="#000" stroke-width="0.3">100</text>
<text x="175.75" y="806.78" text-anchor="middle" font-size="11" stroke="#000" stroke-width="0.3">110</text>
<text x="216.78" y="806.78" text-anchor="middle" font-size="11" stroke="#000" stroke-width="0.3">120</text>
<text x="257.81" y="806.78" text-anchor="middle" font-size="11" stroke="#000" stroke-width="0.3">130</text>
<text x="298.84" y="806.78" text-anchor="middle" font-size="11" stroke="#000" stroke-width="0.3">140</text>
<text x="37.9" y="781.74" text-anchor="end" font-size="11" stroke="#000" stroke-width="0.3">-10</text>
<text x="37.9" y="741.57" text-anchor="end" font-size="11" stroke="#000" stroke-width="0.3">0</text>
<text x="37.9" y="701.4" text-anchor="end" font-size="11" stroke="#000" stroke-width="0.3">10</text>
<text x="37.9" y="661.23" text-anchor="end" font-size="11" stroke="#000" stroke-width="0.3">20</text>
<text x="37.9" y="621.06" text-anchor="end" font-size="11" stroke="#000" stroke-width="0.3">30</text>
<text x="37.9" y="580.89" text-anchor="end" font-size="11" stroke="#000" stroke-width="0.3">40</text>
<text transform="translate(9 675.92) rotate(-90)" text-anchor="middle" font-size="11.4" stroke="#000" stroke-width="0.3">Latitude</text>
<text x="107.1" y="561.2" font-size="11" textLength="137.5" lengthAdjust="spacingAndGlyphs" xml:space="preserve" stroke="#000" stroke-width="0.3">Rx: TAN (22.99N, 120.22E)</text>
<use href="#txg" x="0" y="551.9"/>
<path d="M155 648L157.8 649.5L160.6 651L163.4 652.5L166.2 654L169 655.5L171.9 656.9L174.7 658.2L177.6 659.6L180.5 660.9L183.4 662.2L186.3 663.4L189.4 664.3L192.4 665.2L195.5 666.1L198.5 667.1L201.5 668L204.6 668.8L207.7 669.6L210.8 670.4L213.8 671.1L216.9 671.9L220 672.7L223.2 672.5L226.3 672.4L229.5 672.2L232.7 672.1L235.9 671.9L238.6 670.8L240.8 668.5L243.1 666.3L245.3 664L247.6 661.7L249.3 659.1L250.8 656.3L252.4 653.6L254 650.8L255.7 648.2L257.8 645.8L259.9 643.4L262 641L270 629.5L266.9 629.5L263.9 629.5L260.8 630L257.8 630.5L254.8 631L251.8 631.6L248.7 632.2L245.7 632.8L242.7 633.4L239.7 634L236.7 634.6L233.7 635.3L230.7 635.9L227.7 636.5L224.6 636.9L221.6 637.2L218.5 637.6L215.5 637.9L212.4 638.2L209.4 638.5L206.3 638.6L203.2 638.7L200.2 638.7L197.1 638.8L194 638.9L191 639L187.9 639L184.8 639.1L181.7 639.2L178.7 639.3L175.6 639.3L172.5 639.4L169.5 639.5L166.4 639.6L163.3 639.7L160.3 639.9L157.2 640L154.1 640.2L151.1 640.3L148 640.5Z" fill="#ffffff"/>
<path d="M154.7 646.9L153.9 644.9M156 648.3L155.3 646.2M158.2 649.2L157.6 647.1M156.5 644.4L155.9 642.3M158.1 649.1L157.5 647M159.5 649.7L159 647.5M159.3 643.5L158.8 641.4M161.5 651.4L161.1 649.2M162.8 648.1L162.4 645.9M163.5 652.3L163.1 650.1M164.9 651.7L164.6 649.5M165.2 653L164.9 650.9M164.4 648.1L164.1 645.9M165.5 652.9L165.2 650.8M165.8 652.8L165.5 650.6M167 654.2L166.7 652M166.9 651.7L166.6 649.5M168.2 648.5L167.9 646.3M168.9 654.8L168.7 652.6M168.3 644.9L168.1 642.7M170 652.8L169.8 650.6M171.5 653.5L171.3 651.3M170.5 651L170.3 648.8M171.5 653.6L171.3 651.4M172.5 657.2L172.4 655M172.5 654.7L172.3 652.5M173.9 656.8L173.7 654.6M174.5 656.7L174.4 654.5M174.1 654.2L174 652M175.3 657.9L175.1 655.7M174.6 655.4L174.5 653.2M174.1 650.4L174 648.2M177.4 651.1L177.3 648.9M177.4 643.6L177.3 641.4M178.3 656.4L178.2 654.2M178.3 653.9L178.2 651.7M179.5 658.6L179.4 656.4M178.7 643.7L178.6 641.5M179.9 652.9L179.8 650.7M180.7 659.3L180.6 657.1M181.5 654.3L181.4 652.1M181.7 659.4L181.6 657.2M181.3 656.9L181.2 654.7M181.8 646.9L181.7 644.7M182.8 652.6L182.7 650.4M184.1 644.3L184 642.1M184.6 662.7L184.5 660.5M184.9 660.2L184.9 658M184.3 657.7L184.2 655.5M184.7 655.2L184.7 653M185.1 652.7L185.1 650.5M184 650.2L184 648M185.6 655.7L185.6 653.5M186.2 662.8L186.2 660.6M186 660.3L186 658.1M185.9 652.8L185.8 650.6M185.6 645.3L185.5 643.1M187.1 644.5L187.1 642.3M188 662L187.9 659.8M187.4 654.5L187.3 652.3M187.2 652L187.1 649.8M187.3 649.5L187.2 647.3M188.6 655.1L188.6 652.9M190.2 662.8L190.2 660.6M190.2 660.5L190.2 658.3M190.7 658L190.7 655.8M191 648L191 645.8M191.4 663.1L191.3 660.9M191.8 659.6L191.7 657.4M191.7 654.6L191.6 652.4M193.4 659.5L193.3 657.3M193.7 652L193.7 649.8M194.6 662L194.5 659.8M194.9 665.4L194.9 663.2M196.1 665L196.1 662.8M195.8 655L195.7 652.8M195.7 652.5L195.6 650.3M196.9 666.5L196.8 664.3M196.3 661.5L196.3 659.3M196 651.5L196 649.3M197.4 662.4L197.3 660.2M199.3 665.3L199.3 663.1M198.7 662.8L198.6 660.6M198.5 660.3L198.4 658.1M198.1 657.8L198.1 655.6M199.4 665.3L199.4 663.1M198.8 655.3L198.7 653.1M200.8 666.2L200.8 664M200.7 663.7L200.7 661.5M200 658.7L200 656.5M200.6 663.6L200.5 661.4M201.1 656.1L201.1 653.9M201.7 667.1L201.6 664.9M202.9 667.7L202.9 665.5M203.4 665.2L203.4 663M203.5 655.2L203.4 653M202.9 661.9L202.9 659.7M203.6 654.4L203.5 652.2M204.2 667.7L204.2 665.5M204.2 662.7L204.2 660.5M203.9 660.2L203.8 658M204.6 666.4L204.5 664.2M204.7 656.4L204.7 654.2M204.8 648.9L204.7 646.7M205.8 666L205.8 663.8M206.1 656L206.1 653.8M205.7 651L205.7 648.8M206.4 668L206.4 665.8M206.6 665.5L206.6 663.3M207.8 665.7L207.8 663.5M207.4 660.7L207.4 658.5M207.3 655.7L207.3 653.5M208.1 651L208 648.8M209.1 665.5L209.1 663.3M208.7 655.5L208.7 653.3M208.7 650.5L208.6 648.3M210.3 669.7L210.2 667.5M210.1 667.2L210.1 665M209.6 664.7L209.6 662.5M210.5 659.7L210.5 657.5M210.1 654.7L210.1 652.5M209.5 652.2L209.5 650M209.6 647.2L209.6 645M211.3 668.2L211.2 666M211 655.7L211 653.5M211 645.7L211 643.5M211.6 667L211.5 664.8M211.3 662L211.3 659.8M212.2 657L212.1 654.8M211.3 652L211.3 649.8M212.7 670.4L212.6 668.2M213.5 666.8L213.5 664.6M213.5 659.3L213.5 657.1M213.9 670.7L213.8 668.5M214.1 668.2L214.1 666M213.6 663.2L213.5 661M215.5 671L215.5 668.8M215.3 667.3L215.3 665.1M216 662.3L215.9 660.1M215 659.8L214.9 657.6M216.5 670.8L216.4 668.6M217.3 668.3L217.3 666.1M217.3 665.8L217.2 663.6M217 663.3L217 661.1M217.7 666.2L217.7 664M216.7 656.2L216.7 654M218 663.2L217.9 661M218.5 658.2L218.5 656M219 671.2L219 669M219.2 658.7L219.2 656.5M219.4 670.8L219.4 668.6M219.5 660.8L219.5 658.6M219.8 655.8L219.8 653.6M220.5 671.9L220.4 669.7M221.2 669.4L221.2 667.2M220.6 666.9L220.6 664.7M220.8 654.4L220.7 652.3M220.4 644.5L220.4 642.3M222 671.9L222 669.7M221.6 669.4L221.5 667.2M221.5 656.9L221.5 654.7M222.4 668L222.4 665.8M222.3 663L222.2 660.8M222.5 658L222.5 655.8M222.7 669.9L222.6 667.7M223.1 667.4L223.1 665.2M223.2 659.9L223.1 657.7M224.3 671.4L224.2 669.2M224.6 668.9L224.5 666.7M223.9 666.4L223.9 664.2M223.9 661.4L223.8 659.2M223.3 643.9L223.3 641.7M225.1 671L225.1 668.8M224.6 668.5L224.5 666.3M224.4 658.5L224.3 656.3M224.8 656L224.8 653.8M225.7 671.5L225.7 669.3M226.1 669L226 666.8M225 644L225 641.8M226.9 669.7L226.9 667.5M226.6 657.2L226.5 655M227 668.3L226.9 666.1M227.5 658.3L227.5 656.1M228.8 657.9L228.7 655.7M227.6 652.9L227.6 650.7M229 670.1L229 667.9M229.8 667.6L229.8 665.4M229.8 665.1L229.8 662.9M229.8 662.6L229.7 660.4M229.2 660.1L229.1 657.9M228.5 655.1L228.4 652.9M230.4 670.6L230.4 668.4M230.5 663.1L230.4 660.9M230.2 660.6L230.1 658.4M229.4 658.1L229.4 655.9M230.1 653.1L230.1 650.9M229.7 646.4L229.6 644.2M232.2 666.5L232.1 664.3M231.9 661.5L231.9 659.3M232.6 670.9L232.5 668.7M231.2 648.5L231.2 646.3M234.4 670.6L234.3 668.4M233.5 668.1L233.4 665.9M233.4 660.6L233.3 658.4M233.1 655.6L233 653.4M234.8 666L234.7 663.8M233.6 661L233.5 658.8M233.6 658.5L233.5 656.3M235.3 669.1L235.2 666.9M235 666.6L234.9 664.4M235 659.1L234.9 656.9M235.1 644.1L235 641.9M235.5 667.3L235.4 665.1M235.8 664.8L235.7 662.6M235.6 662.3L235.5 660.1M235.1 647.3L235.1 645.1M236.1 667.9L236 665.7M235.9 660.4L235.8 658.2M235.9 655.4L235.8 653.2M236.3 650.4L236.3 648.2M237.9 671.2L237.9 669M236.9 668.7L236.8 666.5M236.8 666.2L236.7 664M236.7 663.7L236.6 661.5M236.1 648.7L236.1 646.5M236.3 643.7L236.2 641.5M238.3 669.5L238.3 667.3M237.7 649.5L237.6 647.3M238.8 666.4L238.7 664.2M239 668.9L238.9 666.7M239 658.9L239 656.7M239.2 651.4L239.2 649.2M239.8 668.6L239.8 666.4M240.4 666.1L240.4 663.9M239.8 661.1L239.8 658.9M240.2 656.1L240.2 653.9M239.9 643.6L239.8 641.4M240.8 667.3L240.8 665.1M240.6 664.8L240.6 662.6M241.1 647.3L241.1 645.1M242 663.6L242 661.4M241 658.6L241 656.4M241.6 653.6L241.6 651.4M241.4 665.7L241.4 663.5M241.7 663.2L241.7 661M241.9 655.7L241.9 653.5M241.5 648.2L241.5 646M241.6 640.7L241.6 638.5M242.8 663.1L242.8 660.9M242.9 660.6L242.9 658.4M243.4 645.6L243.4 643.4M243.4 661.8L243.4 659.6M243.9 665.1L244 662.9M244.1 662.6L244.1 660.4M244.4 657.6L244.4 655.4M244.4 664.4L244.5 662.2M245.7 660.4L245.8 658.2M245.7 652.9L245.8 650.7M246.8 657L246.9 654.8M246 652L246.2 649.8M246.9 642L247 639.8M246.1 661L246.3 658.8M247 658.5L247.1 656.3M247.4 660.5L247.6 658.3M247.5 658L247.7 655.8M249.1 643.1L249.2 640.9M248.5 659.2L248.6 657M250.4 639.3L250.6 637.1M248.3 659.5L248.5 657.4M249.4 657.8L249.6 655.6M249.2 658.5L249.4 656.3M249.5 653.5L249.8 651.3M250.2 651L250.5 648.9M251.3 646.1L251.6 643.9M249.5 657L249.8 654.8M250.2 652.1L250.5 649.9M251.2 653.6L251.6 651.5M251.7 648.7L252.1 646.6M253.3 641.3L253.7 639.2M251.2 654.6L251.6 652.5M252.1 652.2L252.5 650M252.6 649.7L253.1 647.6M252.1 654.1L252.5 651.9M252.7 646.7L253.2 644.6M253.4 644.3L253.8 642.1M251.7 653.4L252.2 651.3M254 643.7L254.5 641.6M254.8 638.8L255.3 636.7M252.8 651.4L253.4 649.2M253.5 649.2L254.1 647.1M254.1 649.9L254.9 647.8M256.3 642.8L257 640.7M259 635.7L259.8 633.6M254.8 650L255.6 647.9M259.4 635.9L260.2 633.9M255.3 648.2L256.2 646.2M256.4 645.9L257.3 643.9M258.1 643L259 641M260.5 636.2L261.4 634.2M255.8 646.8L256.8 644.8M259.9 640.1L260.9 638.1M260.4 637.8L261.4 635.9M257.9 645.1L258.9 643.2M262.7 635.9L263.7 634M259 644.3L260.1 642.4M263.6 636.3L264.8 634.4M266 634.2L267.2 632.3M260.2 642.5L261.5 640.8M266.9 634.5L268.2 632.8M268 632.5L269.3 630.8M260.7 642.3L262 640.6M262.3 640.4L263.7 638.7M266.9 634.5L268.3 632.8M263.9 638.6L265.3 636.9M263.4 639.9L265 638.3M266.7 636.4L268.2 634.8" stroke="#0000f5" stroke-width="1.2" fill="none"/>
<path d="M154.5 644.6L153.7 642.5M156.3 647.4L155.6 645.3M154.9 645L154.1 642.9M155.4 643.5L154.7 641.5M159.5 647.2L158.9 645.1M159.4 646L158.9 643.8M160.4 646.5L159.9 644.3M159.9 643.4L159.4 641.3M159.9 641L159.8 640.1M163.2 650.5L162.8 648.4M161.9 643.2L161.5 641M161.3 640.7L161.2 640.1M161.7 642.5L161.4 640.3M164.5 649.2L164.2 647M163.2 641.8L162.9 640M162.8 640.7L162.7 640M164.8 650.5L164.5 648.3M163.8 640.6L163.7 639.9M165.4 647.8L165.1 645.6M167 646.7L166.8 644.5M168.3 651.5L168 649.3M166.4 641.5L166.2 639.8M167.5 646L167.2 643.8M169.3 652.3L169.1 650.2M169 647.4L168.8 645.2M169.6 650.3L169.4 648.2M169.6 647.9L169.4 645.7M171 648.5L170.8 646.3M170.4 646.1L170.2 643.9M172.2 652.2L172 650M172.1 644.7L171.9 642.5M171.3 642.2L171.1 640M172.5 649.4L172.3 647.2M172.1 644.4L172 642.2M171.6 641.9L171.5 639.7M173.3 651.7L173.2 649.5M172.5 641.7L172.3 639.5M173.8 647.9L173.7 645.7M174.5 645.4L174.3 643.3M173.7 640.5L173.6 639.5M174.6 639.8L174.6 639.4M175.8 655.1L175.6 652.9M174.8 642.6L174.7 640.4M177.1 655.9L176.9 653.7M176.5 653.4L176.3 651.2M176.4 648.4L176.3 646.2M176.4 643.4L176.3 641.2M176.6 640.9L176.6 639.4M177.9 656.1L177.8 653.9M178 644L177.9 641.8M178.2 641.5L178.1 639.4M179 648.7L178.9 646.5M178.4 641.2L178.3 639.3M180 645.4L179.9 643.2M179.3 642.9L179.2 640.7M181.7 656.8L181.6 654.6M180.7 644.4L180.6 642.2M181.3 641.9L181.2 639.7M180.6 639.4L180.6 639.3M182.3 655.1L182.3 652.9M182.5 645.1L182.4 642.9M183.3 658.8L183.3 656.6M183.2 653.8L183.1 651.6M183.2 648.8L183.2 646.6M182.8 641.3L182.7 639.3M183.4 656.8L183.4 654.6M184.3 649.3L184.3 647.1M183.8 645.2L183.7 643M184.5 642.7L184.4 640.5M184.5 640.2L184.5 639.2M186.1 658.2L186 656M185.8 653.2L185.7 651M185.9 645.7L185.9 643.5M185.2 640.7L185.2 639.2M185.6 647.8L185.5 645.6M185.6 642.8L185.5 640.6M185.7 640.3L185.7 639.2M187.6 657L187.6 654.8M188.8 652.6L188.8 650.4M189 640.4L189 639.1M190.1 653L190.1 650.8M191.8 660.6L191.7 658.4M190.9 643.1L190.8 640.9M190.9 640.6L190.9 639.1M192.3 657.1L192.3 654.9M192.2 642.1L192.2 639.9M192.3 658.9L192.2 656.7M192.4 651.4L192.4 649.2M192.5 648.9L192.4 646.7M192.6 646.4L192.6 644.2M192.8 641.4L192.7 639.2M193.2 654.5L193.2 652.3M193.3 647L193.2 644.8M193.3 639.5L193.3 639M194.7 649.5L194.7 647.3M194.6 642L194.6 639.8M194.8 642.9L194.8 640.7M195.7 657.5L195.7 655.3M195.8 645L195.7 642.8M195.5 640L195.4 639M197.2 654L197.1 651.8M196 641.5L196 639.3M196.6 639L196.6 638.9M197.5 644.9L197.5 642.7M196.6 642.4L196.6 640.2M198.6 650.3L198.5 648.1M198.6 642.8L198.6 640.6M199.5 647.8L199.5 645.6M200.5 656.2L200.4 654M200.1 643.7L200.1 641.5M200.1 641.2L200.1 639M200.5 653.6L200.5 651.4M201.1 641.1L201.1 638.9M201.6 657.1L201.5 654.9M202.1 654.6L202.1 652.4M201.6 652.1L201.5 649.9M201.3 649.6L201.3 647.4M201.5 639.6L201.5 638.8M203.2 662.7L203.1 660.5M203 660.2L202.9 658M203.2 657.7L203.2 655.5M202.8 652.7L202.8 650.5M203.3 650.2L203.3 648M203.1 645.2L203.1 643M202.8 640.2L202.8 638.8M203.2 659.4L203.2 657.2M202.9 649.4L202.9 647.2M202.7 646.9L202.7 644.7M203.4 644.4L203.4 642.2M204.1 645.2L204 643M204 642.7L204 640.5M204.8 658.9L204.7 656.7M204.3 646.4L204.3 644.2M205.2 653.5L205.2 651.3M205.3 643.5L205.2 641.3M206 641L205.9 638.8M207 653L206.9 650.8M205.9 650.5L205.8 648.3M205.8 648L205.7 645.8M205.8 645.5L205.8 643.3M207.2 650.7L207.1 648.5M207.3 640.7L207.2 638.7M208.3 661L208.2 658.8M208.2 656L208.2 653.8M208 643.5L208 641.3M209.1 658L209.1 655.8M209.3 645.5L209.2 643.3M210.4 662.2L210.4 660M209.9 657.2L209.8 655M210.3 644.7L210.2 642.5M209.4 639.7L209.4 638.6M210.8 640.7L210.8 638.6M211.7 664.5L211.7 662.3M211.6 647L211.5 644.8M211 642L211 639.8M210.9 639.5L210.9 638.6M212.1 665.4L212 663.2M212 657.9L211.9 655.7M212.9 650.4L212.8 648.2M212.4 645.4L212.3 643.2M212.6 642.9L212.5 640.7M212.7 664.3L212.7 662.1M213.3 649.3L213.3 647.1M213.2 644.3L213.1 642.1M213 641.8L213 639.6M212.3 639.3L212.3 638.5M214.4 660.7L214.3 658.5M213.5 653.2L213.5 651M213.8 650.7L213.8 648.5M214.2 648.2L214.2 646M213.9 640.7L213.9 638.5M215.5 666L215.4 663.8M215 663.5L215 661.3M215 658.5L215 656.3M214.9 656L214.8 653.8M215.1 653.5L215.1 651.3M214.8 648.5L214.8 646.3M215.1 664.8L215.1 662.6M215.8 644.8L215.8 642.6M215.4 642.3L215.3 640.1M217.5 651.2L217.4 649M218.8 665.7L218.8 663.5M218.1 655.7L218.1 653.5M217.8 653.2L217.8 651M218.4 648.2L218.4 646M217.8 643.2L217.8 641M218.3 640.7L218.3 638.5M219 663.7L219 661.5M218.4 648.7L218.4 646.5M219.4 658.3L219.4 656.1M219.4 653.3L219.4 651.1M220.1 643.3L220 641.1M219.1 638.3L219.1 637.9M220.9 646.9L220.8 644.7M221.8 648L221.7 645.8M222 643L221.9 640.8M222.4 640.5L222.4 638.3M222.7 657.4L222.7 655.2M222.6 652.4L222.5 650.2M223 647.4L223 645.2M224.2 648.9L224.2 646.7M224 646.4L223.9 644.2M224.5 653.5L224.5 651.3M224.8 646L224.7 643.8M225.3 661.5L225.3 659.3M224.8 651.5L224.8 649.3M225.5 639L225.5 637.3M226.3 664.7L226.3 662.5M226.7 649.7L226.7 647.5M226.3 644.7L226.2 642.5M226.6 639.7L226.5 637.5M226.8 653.4L226.8 651.2M226.8 648.4L226.8 646.2M227.4 645.9L227.4 643.7M226.7 640.9L226.7 638.7M226.9 638.4L226.8 637.1M227.4 642.9L227.4 640.7M229.4 647.6L229.3 645.4M229.7 655.6L229.7 653.4M229.2 645.6L229.1 643.4M229.2 638.1L229.1 636.8M230.7 663.9L230.6 661.7M230 656.4L230 654.2M230.3 653.9L230.3 651.7M230.2 638.9L230.1 636.7M231.1 644L231 641.8M231.9 651L231.8 648.8M233.9 665.6L233.9 663.4M233.5 663.1L233.4 660.9M233.3 648.1L233.3 645.9M232.7 645.6L232.7 643.4M232.5 643.1L232.4 640.9M233.6 656L233.5 653.8M234.3 648.5L234.2 646.3M233.9 646L233.8 643.8M233.3 638.5L233.3 636.3M234.4 651.6L234.4 649.4M234.8 646.6L234.7 644.4M234.4 639.1L234.3 636.9M235 649.8L235 647.6M234.7 639.8L234.7 637.6M234.8 637.3L234.8 635.9M235.9 657.9L235.8 655.7M236.6 658.7L236.5 656.5M236.9 653.7L236.8 651.5M236.4 646.2L236.3 644M235.9 638.7L235.8 636.5M238.2 662L238.1 659.8M237.9 652L237.8 649.8M237.8 642L237.8 639.8M238.2 637L238.2 635.3M239 658.9L239 656.7M238.4 643.9L238.3 641.7M238.2 638.9L238.2 636.7M238.8 653.9L238.7 651.7M239.2 648.9L239.2 646.7M238.8 643.9L238.7 641.7M238.7 638.9L238.7 636.7M240.6 651.1L240.5 648.9M239.6 648.6L239.6 646.4M240.6 646.1L240.6 643.9M241.3 654.8L241.3 652.6M240.2 652.3L240.2 650.1M241.1 649.8L241.1 647.6M241 637.3L241 635.1M241.9 656.1L241.9 653.9M240.9 646.1L240.9 643.9M242.3 645.7L242.3 643.5M242.9 656.9L242.9 654.7M242.4 654.4L242.4 652.2M242.6 649.4L242.6 647.2M242.5 639.4L242.6 637.2M243.3 658.1L243.3 655.9M243.1 650.6L243.1 648.4M243.2 640.6L243.2 638.4M243.4 638.1L243.5 636M243.6 649.3L243.7 647.1M244.5 644.3L244.5 642.1M243.9 641.8L244 639.6M244 652.6L244.1 650.4M244.6 645.1L244.6 642.9M245.4 640.1L245.4 637.9M244.8 651.9L244.8 649.7M245.1 646.9L245.2 644.7M245.3 641.9L245.4 639.7M246.3 634.4L246.4 633.5M245.8 657.9L245.9 655.7M246.9 645.4L247 643.2M246.7 642.9L246.8 640.7M246.9 637.9L247 635.7M246.4 647L246.5 644.8M247.3 644.5L247.4 642.3M247.6 634.5L247.7 633.2M248 648.5L248.1 646.3M248.2 646L248.3 643.8M248.4 638.5L248.6 636.3M248.3 653L248.5 650.8M248.3 648.1L248.4 645.9M249.2 640.6L249.4 638.4M249 635.6L249.2 633.4M249.7 644.2L249.8 642.1M249.5 636.8L249.7 634.6M249.1 654.6L249.3 652.4M249.7 655.3L249.9 653.1M249.2 652.8L249.4 650.6M251.1 648.6L251.3 646.4M251.9 641.1L252.2 638.9M252.3 636.2L252.6 634M252 633.7L252.2 632.2M251.4 645.8L251.7 643.7M251 643.4L251.3 641.2M252.2 638.4L252.5 636.2M253.4 633.5L253.6 632.1M251.9 642.2L252.3 640M253.6 634.8L254 632.6M254.2 632.3L254.3 632M252.4 643.8L252.9 641.6M255.1 634L255.5 631.8M252.7 647.3L253.1 645.1M252.6 644.8L253 642.7M253.9 642.4L254.4 640.2M253.5 639.9L254 637.8M252 651.6L252.5 649.5M254.2 641.9L254.6 639.7M253.1 651L253.6 648.9M255.4 641.3L255.9 639.1M256.1 636.4L256.6 634.3M256.1 634L256.6 631.8M254.3 649.5L254.9 647.4M254.6 644.7L255.2 642.6M257.7 635.1L258.3 633M256 644.4L256.7 642.3M256.5 639.7L257.2 637.6M257.4 640.4L258.2 638.3M258.7 638.1L259.5 636M260.4 631L260.5 630.7M255.6 645.3L256.4 643.2M258.2 640.6L259 638.6M258.9 640.2L259.7 638.2M259.2 637.9L260 635.9M259.8 635.6L260.6 633.6M259.7 639L260.6 637M260.4 636.7L261.2 634.7M256.6 645.3L257.5 643.3M262.5 631.7L263.2 630.2M263.4 633.3L264.4 631.4M263.8 631.1L264.4 630.1M258.7 642.9L259.8 641M261.3 638.5L262.3 636.6M263.5 634.1L264.6 632.2M259.2 642.5L260.2 640.6M261.4 638.1L262.5 636.2M264.4 633.7L265.5 631.8M263.7 635.5L264.8 633.6M264.8 633.3L265.9 631.4M264.5 635.8L265.6 634M265.7 633.7L266.8 631.8M261 640.5L262.2 638.6M262.3 638.4L263.5 636.5M267.1 632.1L268.3 630.2M265.2 636.1L266.5 634.3M266.2 634.1L267.4 632.3M267.7 632L269 630.2M261.5 640.5L262.8 638.8M264.1 638.5L265.4 636.8M269.9 630.6L270.8 629.5M268.3 634.3L269.8 632.7M270.3 632.4L271.8 630.8M268.5 634.6L270.1 633.1M270.9 632.9L272.4 631.3M272.3 631.1L273.9 629.6" stroke="#ffff00" stroke-width="1.2" fill="none"/>
<path d="M152.8 642.3L152.1 640.5M154.3 642.6L153.5 640.6M156 645.9L155.3 643.8M154.2 641.2L154 640.4M156.2 644.3L155.6 642.2M157.4 644.2L156.9 642.1M158 644.8L157.5 642.7M160.8 648.9L160.4 646.8M160.3 644L159.8 641.9M159.3 641.6L159 640.1M160.9 645.9L160.4 643.7M162.6 649.8L162.2 647.7M162.6 644.9L162.2 642.7M162.7 644.3L162.3 642.1M164.9 650.6L164.6 648.4M163.8 643.2L163.5 641M164 645.5L163.6 643.3M165.8 645.3L165.5 643.2M166.6 644.2L166.3 642.1M166.9 646.5L166.7 644.3M169 651L168.8 648.8M168.2 639.9L168.2 639.7M169.3 645.4L169.1 643.2M168.8 642.9L168.6 640.7M170.5 646L170.3 643.8M171.5 651.1L171.3 648.9M170.8 643.6L170.6 641.4M169.7 641.1L169.5 639.6M171.4 647.2L171.2 645M170.9 639.7L170.9 639.5M172.7 654.3L172.5 652.1M172.3 646.9L172.2 644.7M173.3 649.2L173.2 647M173.4 646.7L173.3 644.5M173.4 644.2L173.2 642M174.5 652.9L174.3 650.7M174.3 643L174.2 640.8M176.1 654.8L175.9 652.6M175.8 652.3L175.7 650.1M175.1 649.8L174.9 647.6M175.2 642.3L175.1 640.1M176.5 652.6L176.3 650.4M175.7 647.6L175.6 645.4M177.2 645.9L177.1 643.7M177.4 648.6L177.3 646.4M176.9 646.1L176.8 643.9M179.1 656.1L179 653.9M179.5 646.2L179.4 644M180.2 655.4L180.1 653.2M181.3 646.8L181.3 644.6M180.7 644.3L180.6 642.1M180.8 641.8L180.8 639.6M180.2 639.3L180.2 639.3M181.9 654.4L181.8 652.2M182.4 650.1L182.3 647.9M182.6 647.6L182.5 645.4M182.5 642.6L182.4 640.4M183.2 656.3L183.1 654.1M182.7 651.3L182.6 649.1M183.6 646.8L183.5 644.6M183.1 641.8L183.1 639.6M185.9 657.8L185.9 655.6M186.4 650.3L186.4 648.1M187.3 657L187.3 654.8M186.7 654.5L186.6 652.3M186.4 642L186.4 639.8M186.7 639.5L186.7 639.2M189.7 660.1L189.6 657.9M189.3 650.1L189.2 647.9M189 645.1L189 642.9M189 642.6L188.9 640.4M189.2 640.1L189.2 639.1M189.9 650.3L189.8 648.1M190.5 640.5L190.5 639.1M190.7 658.1L190.7 655.9M191 655.6L191 653.4M191.6 650.6L191.5 648.4M191 648.1L191 645.9M190.7 645.6L190.6 643.4M191.8 644.6L191.7 642.4M191.6 639.6L191.6 639.1M192.4 656.4L192.3 654.2M193.4 649.5L193.3 647.3M194.4 657L194.3 654.8M195.2 654.5L195.2 652.3M195.1 647L195.1 644.8M195.3 657.9L195.2 655.7M195.3 655.4L195.2 653.2M195.1 652.9L195 650.7M195.5 650.4L195.5 648.2M194.9 645.4L194.9 643.2M195.8 660L195.8 657.8M195.8 650L195.7 647.8M195.7 647.5L195.7 645.3M196.4 649L196.3 646.8M197.6 654.9L197.5 652.7M198.1 652.8L198.1 650.6M199 647.8L199 645.6M199 645.3L198.9 643.1M199.9 660.3L199.9 658.1M199.3 657.8L199.2 655.6M198.7 650.3L198.7 648.1M199.6 648.7L199.6 646.5M201.1 661.1L201.1 658.9M200.8 658.6L200.7 656.4M200.6 651.1L200.6 648.9M201.4 643.6L201.3 641.4M201.4 659.6L201.4 657.4M201.4 647.1L201.3 644.9M202.2 647.7L202.1 645.5M203.5 651.9L203.4 649.7M203.9 657.7L203.9 655.5M204.2 652.7L204.1 650.5M204.2 650.2L204.2 648M204.3 661.4L204.3 659.2M204.2 651.4L204.2 649.2M205.5 663.5L205.4 661.3M206.4 661L206.4 658.8M205.8 658.5L205.8 656.3M205.1 648.5L205.1 646.3M206 646L206 643.8M207.3 653.2L207.3 651M207.5 643.2L207.5 641M209.2 663.5L209.2 661.3M208 648.5L207.9 646.3M208.6 641L208.5 638.8M208.6 653L208.6 650.8M208.3 648L208.3 645.8M210.2 660.7L210.2 658.5M210.5 650.7L210.5 648.5M210.1 648.2L210.1 646M211.2 649.5L211.1 647.3M212.2 660.4L212.1 658.2M211.8 655.4L211.7 653.2M212.1 647.9L212 645.7M212.9 656.8L212.9 654.6M212.9 651.8L212.9 649.6M213.7 665.7L213.7 663.5M213.8 643.2L213.8 641M215.1 661L215.1 658.8M214.9 651L214.8 648.8M215.3 638.5L215.3 638.4M215.1 654.8L215.1 652.6M215 647.3L215 645.1M216.8 658.3L216.7 656.1M216.3 653.3L216.3 651.1M216.7 650.8L216.7 648.6M216.9 645.8L216.8 643.6M216.5 643.3L216.5 641.1M216.6 640.8L216.6 638.6M216.7 648.7L216.7 646.5M217.4 646.2L217.4 644M216.9 643.7L216.9 641.5M218.7 650.7L218.7 648.5M217.8 645.7L217.7 643.5M218.9 666.2L218.8 664M218.4 653.7L218.4 651.5M218.7 651.2L218.7 649M219.3 663.3L219.3 661.1M219 648.3L219 646.1M221 664.4L220.9 662.2M220.9 656.9L220.9 654.7M220.2 652L220.1 649.8M219.9 649.5L219.9 647.3M220 647L220 644.8M220.8 642L220.8 639.8M220.5 639.5L220.5 637.8M221.6 659.4L221.6 657.2M221.8 651.9L221.8 649.7M221.5 649.4L221.5 647.2M221.4 644.4L221.4 642.2M221.1 641.9L221 639.7M220.8 639.4L220.8 637.7M222.4 653L222.4 650.8M222.8 650.5L222.8 648.3M223.1 664.9L223.1 662.7M223.4 654.9L223.3 652.7M223.3 649.9L223.3 647.7M222.9 644.9L222.9 642.7M223.2 642.4L223.1 640.2M222.6 639.9L222.5 637.7M224.4 663.9L224.4 661.7M223.7 653.9L223.7 651.7M225 656.5L225 654.3M224.8 654L224.7 651.8M225.2 646.5L225.2 644.3M225.9 659.7L225.9 657.5M225.6 637.2L225.6 637.2M227.2 655.8L227.1 653.7M226.4 650.9L226.4 648.7M228.1 665.4L228.1 663.2M228.5 662.9L228.4 660.7M227.9 660.4L227.9 658.2M228.2 650.4L228.1 648.2M228.4 645.4L228.3 643.2M227.7 640.4L227.6 638.2M229.1 657.6L229 655.4M228.6 652.6L228.5 650.4M230.6 665.6L230.5 663.4M228.9 643.1L228.8 640.9M230.9 651.4L230.8 649.2M230.3 648.9L230.3 646.7M230.5 643.9L230.4 641.7M230.2 641.4L230.2 639.2M232 656.5L231.9 654.3M231.2 654L231.1 651.8M231.5 651.5L231.4 649.3M231.2 649L231.1 646.8M230.9 641.5L230.8 639.3M231.5 639L231.4 636.8M232.5 653.5L232.4 651.3M231.9 641L231.9 638.8M231.3 638.5L231.2 636.6M234.4 663.5L234.3 661.3M233.4 643.5L233.3 641.3M234.6 661.6L234.6 659.4M234.4 649.1L234.3 646.9M234.8 642.3L234.7 640.1M236.6 652.9L236.6 650.7M236.1 647.9L236.1 645.7M235.9 645.4L235.9 643.2M237.2 661.2L237.1 659M237 656.2L236.9 654M236.1 641.2L236 639M238.6 664.5L238.5 662.3M237.7 659.5L237.7 657.3M238.4 647L238.3 644.8M237.6 639.5L237.5 637.3M239 656.4L239 654.2M239 653.9L238.9 651.7M237.9 636.4L237.8 635.2M238.4 646.4L238.4 644.2M240 658.6L240 656.4M239.7 638.6L239.7 636.4M241.3 657.3L241.3 655.1M240.9 644.8L240.9 642.6M241 642.3L241 640.1M241.2 639.8L241.2 637.6M241.8 648.6L241.8 646.4M241.1 643.6L241.2 641.4M241.6 660.7L241.6 658.5M242.2 643.2L242.2 641M241.3 638.2L241.3 636M242.8 651.9L242.8 649.7M242.3 646.9L242.3 644.7M242.9 641.9L242.9 639.7M242.1 634.4L242.1 634.2M243.6 656.8L243.6 654.6M245.1 650.1L245.2 647.9M244.5 647.6L244.5 645.4M244.8 642.6L244.9 640.4M244.3 659.4L244.4 657.2M244.5 656.9L244.6 654.7M245.3 649.4L245.4 647.2M245.3 639.4L245.4 637.2M246.6 650.4L246.7 648.2M247.6 656L247.7 653.8M247 653.5L247.2 651.3M247.8 641L247.9 638.8M247.9 636L248 633.8M249 633.5L249 633M248.8 649.2L248.9 647M249.3 646.7L249.5 644.5M249.9 634.3L250 632.7M249.6 652.1L249.8 649.9M250 644.6L250.2 642.4M250.3 642.1L250.5 639.9M250.3 639.6L250.5 637.4M250.3 647.8L250.5 645.6M251.6 640.4L251.9 638.2M250.8 637.9L251 635.7M251.2 643.6L251.4 641.4M251.5 638.6L251.8 636.5M249.9 653.3L250.2 651.1M250.6 650.8L250.9 648.6M252.3 640.9L252.6 638.7M251.8 647.1L252.1 644.9M253.2 637.2L253.5 635.1M252.1 651.2L252.5 649M252.8 646.3L253.2 644.1M254.8 637L255.2 634.8M255.8 634.5L256.2 632.4M255.2 641.7L255.8 639.6M256.7 639.3L257.3 637.2M256.6 636.9L257.2 634.8M257.7 637.5L258.3 635.4M257.2 637.3L257.8 635.2M256.1 645.1L256.8 643.1M255 647.7L255.7 645.6M257.2 643L257.9 640.9M258.3 638.3L259 636.2M255.6 647.2L256.4 645.2M261.6 631L261.8 630.5M261.2 634.4L262.1 632.4M259.3 640.7L260.2 638.7M260.2 638.5L261.1 636.5M261.6 633.9L262.5 631.9M260.4 640.7L261.4 638.8M262.5 636.3L263.5 634.4M258.9 644.2L260 642.3M262.1 637.7L263.2 635.8M267.1 631.6L268.3 629.7M263.3 638.1L264.6 636.3M269 630L269.3 629.5M264.5 636.5L265.8 634.8M264.3 638.4L265.7 636.7M265 636.5L266.4 634.8M268.4 632.6L269.8 630.9M262.6 640.5L264 638.8M263.3 639.8L264.8 638.2M265.3 638L266.8 636.3M266.5 636.1L268 634.5M265.1 638.1L266.7 636.6" stroke="#ff7000" stroke-width="1.2" fill="none"/>
<path d="M156.6 646.8L155.9 644.7M155.3 642L154.8 640.4M157.2 646.7L156.6 644.6M156.4 641.9L156 640.3M158.5 649.1L158 647M158.1 646.7L157.5 644.5M156.7 641.8L156.3 640.3M157.8 642.4L157.3 640.2M160.2 648.4L159.7 646.3M158.5 641.1L158.3 640.2M160.7 648.3L160.2 646.2M162 645.6L161.6 643.5M163.1 647.4L162.7 645.2M163.2 646.7L162.8 644.6M163.2 645.6L162.8 643.5M164.4 648L164.1 645.8M163.6 643L163.3 640.9M165.8 650.3L165.6 648.1M165 642.9L164.7 640.7M164.5 640.4L164.4 639.9M167.4 649.2L167.1 647M165.6 641.8L165.3 639.8M167.7 649L167.5 646.8M166.9 644L166.7 641.8M168.4 653.5L168.2 651.3M167.3 643.5L167 641.3M166.9 641L166.7 639.7M168.3 649.9L168.1 647.7M168.5 642.4L168.2 640.2M170.6 655.3L170.4 653.1M168.6 640.4L168.6 639.7M170.7 643.5L170.5 641.3M169.5 641L169.4 639.6M171.3 656L171.1 653.9M171.1 648.6L170.9 646.4M171.9 649.7L171.7 647.5M173.3 651.9L173.1 649.7M176 657.3L175.8 655.1M174.9 647.3L174.8 645.1M175.4 644.8L175.2 642.6M175.4 650.1L175.2 647.9M175.2 645.1L175.1 642.9M175.3 640.1L175.2 639.4M176.7 650.9L176.6 648.7M177.7 658.6L177.5 656.4M177.7 653.6L177.6 651.4M177.3 641.1L177.2 639.4M178 651.4L177.9 649.3M178.4 649L178.3 646.8M178.5 646.5L178.4 644.3M179.3 653.6L179.2 651.4M179 651.1L178.9 649M180.2 660.4L180.1 658.2M179.3 650.4L179.2 648.2M180 647.9L179.9 645.7M179.2 640.4L179.1 639.3M180.6 651.8L180.5 649.6M180.8 649.3L180.7 647.1M182.1 651.9L182 649.7M181 649.4L180.9 647.2M182.3 657.6L182.2 655.4M181.4 640.1L181.3 639.3M183.6 646.3L183.5 644.1M183.5 643.8L183.5 641.6M183.6 661.8L183.5 659.6M183.8 654.3L183.7 652.1M184.3 651.8L184.2 649.6M183.8 639.3L183.8 639.2M184.8 647.7L184.7 645.5M185.5 650.7L185.4 648.5M186.1 648.2L186 646M185.5 643.2L185.4 641M186.2 655.3L186.1 653.1M187.1 659.5L187 657.3M186.6 652L186.5 649.8M186.7 649.5L186.7 647.3M187 647L186.9 644.8M187.7 659.5L187.6 657.3M188 647L187.9 644.8M187.8 644.5L187.8 642.3M187.9 642L187.9 639.8M187.5 639.5L187.5 639.2M189.5 657.6L189.5 655.4M189.1 647.6L189.1 645.4M189.5 660.3L189.5 658.1M189.5 657.8L189.5 655.6M189.3 655.3L189.2 653.1M189.3 652.8L189.3 650.6M189.3 647.8L189.3 645.7M189.9 645.4L189.9 643.2M189.5 642.9L189.5 640.7M190.9 663L190.8 660.8M190.4 655.5L190.3 653.3M190.4 650.5L190.4 648.3M190 645.5L189.9 643.3M190.5 643L190.5 640.8M191.1 653.1L191 650.9M191.7 662.1L191.6 659.9M192 652.1L192 649.9M191.9 649.6L191.9 647.4M192.5 647.1L192.5 644.9M192 653.9L192 651.7M192.8 643.9L192.8 641.7M193.5 662L193.5 659.8M194.1 657L194.1 654.8M193.1 644.5L193.1 642.3M193.9 642L193.8 639.8M194.7 659.5L194.7 657.3M194 652L194 649.8M194.6 644.5L194.5 642.3M194.5 639.5L194.5 639M195.1 662.9L195 660.7M194.9 660.4L194.9 658.2M194.7 647.9L194.7 645.7M194.9 640.4L194.9 639M196 642.5L196 640.3M197.3 664L197.3 661.8M196.3 659L196.3 656.8M196.1 656.5L196.1 654.3M196 646.5L196 644.3M196.9 644L196.9 641.8M198 659.9L198 657.7M197.6 657.4L197.6 655.2M197.1 652.4L197.1 650.2M197 649.9L197 647.7M197.6 647.4L197.6 645.2M196.8 639.9L196.8 638.9M199 655.3L199 653.1M198.1 640.3L198.1 638.9M200 662.8L200 660.6M198.7 652.8L198.7 650.6M199.3 645.3L199.3 643.1M198.9 642.8L198.8 640.6M198.9 640.3L198.8 638.9M199.6 661.2L199.6 659M200.2 653.7L200.2 651.5M200.1 651.2L200 649M199.6 646.2L199.6 644M200.8 648.6L200.7 646.4M200.6 646.1L200.6 643.9M202.3 662.1L202.2 659.9M201.8 644.6L201.8 642.4M201.6 642.1L201.6 639.9M202.5 642.7L202.5 640.5M203.2 656.9L203.2 654.7M202.9 641.9L202.8 639.7M203.6 639.4L203.6 638.8M203.9 655.2L203.9 653M203.4 647.7L203.3 645.5M204.1 640.2L204.1 638.8M204.8 663.9L204.7 661.7M204.9 653.9L204.8 651.7M204.5 643.9L204.5 641.7M205.1 641.4L205.1 639.2M204.4 638.9L204.4 638.7M205.9 668.5L205.9 666.3M207.1 663L207 660.8M207.1 660.5L207 658.3M206.3 658L206.3 655.8M207 655.5L207 653.3M205.8 643L205.8 640.8M206.8 640.5L206.7 638.7M207.6 663.2L207.6 661M208 658.2L208 656M207.5 648.2L207.4 646M207.4 645.7L207.4 643.5M208.3 668.5L208.3 666.3M208.4 658.5L208.3 656.3M208.1 653.5L208.1 651.3M208.9 646L208.8 643.8M208.6 663L208.6 660.8M209.4 660.5L209.4 658.3M209.1 643L209.1 640.8M209.3 640.5L209.3 638.6M210.2 649.7L210.2 647.5M209.4 642.2L209.3 640M210.3 663.2L210.3 661M210.1 658.2L210.1 656M210.4 653.2L210.3 651M210 643.2L210 641M212.1 669.5L212 667.3M211.7 659.5L211.7 657.3M212.2 654.5L212.2 652.3M211.5 644.5L211.4 642.3M212.9 662.9L212.9 660.7M212 652.9L211.9 650.7M212.5 640.4L212.5 638.5M212.9 661.8L212.8 659.6M212.7 654.3L212.6 652.1M213.4 646.8L213.3 644.6M213.4 658.2L213.4 656M213.6 655.7L213.5 653.5M213.1 645.7L213 643.5M215.6 668.5L215.6 666.3M214.7 646L214.7 643.8M214.8 643.5L214.8 641.3M214.9 641L214.8 638.8M215.6 669.8L215.6 667.6M216 657.3L216 655.1M215.5 652.3L215.4 650.1M215.8 649.8L215.8 647.6M214.6 639.8L214.6 638.4M216.5 660.8L216.4 658.6M217.3 655.8L217.3 653.6M216.3 648.3L216.3 646.1M216.2 638.3L216.2 638.2M217.6 668.7L217.6 666.5M216.9 663.7L216.8 661.5M217.4 661.2L217.4 659M217.5 658.7L217.5 656.5M216.9 653.7L216.8 651.5M217.3 641.2L217.3 639M217 638.7L217 638.2M218.8 670.7L218.7 668.5M218.6 668.2L218.6 666M218.7 660.7L218.7 658.5M218 638.2L218 638M218.6 661.2L218.6 659M218.9 656.2L218.8 654M218.8 646.2L218.7 644M219 643.7L219 641.5M219 641.2L218.9 639M218.8 638.7L218.8 638M220.1 668.3L220.1 666.1M219.8 665.8L219.8 663.6M219.4 650.8L219.3 648.6M220 645.8L219.9 643.6M219.9 640.8L219.9 638.6M221 661.9L220.9 659.7M220.7 659.4L220.7 657.2M221.6 664.4L221.6 662.2M221.1 661.9L221.1 659.7M221.6 654.4L221.6 652.2M223 665.5L223 663.3M223.1 660.5L223 658.3M222.8 655.5L222.8 653.3M222 645.5L221.9 643.3M221.7 638L221.7 637.6M222.5 662.4L222.5 660.2M223.3 658.9L223.2 656.7M223.8 656.4L223.8 654.2M223.5 651.4L223.4 649.2M223.8 641.4L223.8 639.2M223.2 638.9L223.1 637.5M225.2 666L225.1 663.8M224.4 663.5L224.3 661.3M224.9 661L224.9 658.8M224.6 651L224.6 648.8M224.1 648.5L224 646.3M224.1 643.5L224.1 641.3M223.9 641L223.9 638.8M224 638.5L223.9 637.4M225.5 666.5L225.4 664.3M225.4 664L225.3 661.8M225.2 659L225.1 656.8M225.1 649L225.1 646.8M225.1 641.5L225 639.3M226.9 672.2L226.9 670M226.4 662.2L226.4 660M226.4 654.7L226.4 652.5M226.4 652.2L226.3 650M226.8 647.2L226.8 645M225.9 642.2L225.9 640M227.1 665.8L227.1 663.6M226.8 663.3L226.7 661.1M227.7 660.8L227.6 658.6M226.4 643.4L226.3 641.2M228.8 655.4L228.7 653.2M228.5 647.9L228.4 645.7M228.1 637.9L228.1 637M228.3 650.1L228.3 647.9M229 645.1L229 642.9M228.7 642.6L228.6 640.4M228.6 640.1L228.6 637.9M228.4 637.6L228.4 636.9M230.3 668.1L230.2 665.9M229.5 650.6L229.5 648.4M229.8 648.1L229.7 645.9M229.5 640.6L229.5 638.4M230.2 661.4L230.2 659.2M230.6 658.9L230.6 656.7M231.7 664L231.7 661.8M232.1 659L232 656.8M231.1 646.5L231.1 644.3M232.6 668.4L232.6 666.2M232.6 665.9L232.5 663.7M232.3 663.4L232.2 661.2M232.7 660.9L232.6 658.7M231.6 658.4L231.6 656.3M231.5 656L231.5 653.8M231.6 646L231.5 643.8M231.7 643.5L231.7 641.3M233.7 658.1L233.6 655.9M232.8 653.1L232.7 650.9M233.4 650.6L233.3 648.4M233.4 640.6L233.3 638.4M233.4 638.1L233.4 636.3M234.9 668.5L234.9 666.3M233.5 653.5L233.4 651.3M234.1 651L234 648.8M233.2 641L233.1 638.8M235.8 671.6L235.7 669.4M235.4 664.1L235.4 661.9M234.7 656.6L234.7 654.4M235.4 654.1L235.3 651.9M234.6 641.6L234.5 639.4M234.2 636.6L234.2 636M235.4 659.8L235.3 657.6M235.1 657.3L235.1 655.1M235.2 654.8L235.1 652.6M235.4 652.3L235.3 650.1M235.1 644.8L235 642.6M236.9 665.4L236.8 663.2M236.1 662.9L236 660.7M236.2 643L236.1 640.8M235.2 640.5L235.2 638.3M235.7 638L235.6 635.8M236.7 651.2L236.7 649M236.7 636.2L236.7 635.6M238.4 657L238.4 654.8M238 654.5L238 652.3M237.8 644.5L237.7 642.3M238.4 668.9L238.3 666.7M238.3 663.9L238.3 661.7M239 661.4L238.9 659.2M238.2 651.4L238.1 649.2M238.1 648.9L238.1 646.7M238.5 646.4L238.4 644.2M238.8 641.4L238.8 639.2M239.6 666.4L239.5 664.2M239.7 663.9L239.7 661.7M238.7 661.4L238.7 659.2M239.3 656.4L239.2 654.2M238.6 641.4L238.5 639.2M238.3 636.4L238.3 635.1M240.2 663.6L240.2 661.4M240.5 653.6L240.5 651.4M240.2 641.1L240.2 638.9M239.8 636.1L239.8 634.8M241.2 662.3L241.2 660.1M241.4 659.8L241.3 657.6M240.7 634.8L240.7 634.6M241.8 666.1L241.8 663.9M240.9 661.1L240.9 658.9M241.3 651.1L241.3 648.9M241.4 641.1L241.4 638.9M241.6 638.6L241.6 636.4M241.6 636.1L241.6 634.5M242.2 658.2L242.2 656M241.6 653.2L241.6 651M241.8 650.7L241.8 648.5M241.9 635.7L241.9 634.4M242.5 666.9L242.5 664.7M241.9 661.9L241.9 659.7M241.8 659.4L241.8 657.2M242.9 644.4L243 642.2M243.2 636.9L243.2 634.7M243.5 665.6L243.5 663.4M243.4 655.6L243.4 653.4M242.8 653.1L242.8 650.9M243.9 648.1L244 645.9M243 643.1L243.1 640.9M243.9 635.7L243.9 634M243.9 659.3L243.9 657.1M244 654.3L244 652.1M243.7 651.8L243.8 649.6M244.2 646.8L244.2 644.6M244 639.3L244.1 637.1M244.9 636.8L244.9 634.6M244.4 634.3L244.5 633.8M244.3 655.1L244.4 652.9M244.8 637.6L244.9 635.4M245.5 635.1L245.5 633.7M244.8 654.4L244.9 652.2M245.7 644.4L245.8 642.2M246 636.9L246.1 634.7M246 655.4L246.1 653.2M246.5 647.9L246.6 645.7M246.7 640.4L246.8 638.2M247.2 635.4L247.3 633.3M246.9 654.5L247 652.3M247 649.5L247.1 647.3M247.3 639.5L247.5 637.3M247.8 637L247.9 634.8M247.1 651L247.2 648.8M247.2 643.5L247.4 641.3M247.4 655.5L247.5 653.3M248.4 650.5L248.6 648.4M248.7 645.6L248.8 643.4M248.6 638.1L248.8 635.9M249 633.1L249 632.8M248.4 654.2L248.6 652M249.2 651.7L249.3 649.5M249.1 641.8L249.2 639.6M249.6 649.6L249.8 647.4M249.9 647.1L250.1 644.9M250.3 637.1L250.5 634.9M251 634.6L251.1 632.6M249.6 650.3L249.9 648.1M250.7 645.3L250.9 643.1M251.1 642.9L251.3 640.7M251.5 635.4L251.7 633.2M251.7 632.9L251.8 632.3M250.8 648.3L251.1 646.1M252.7 635.9L253 633.8M250.6 649.6L250.9 647.4M251.6 644.7L251.9 642.5M253.3 639.7L253.6 637.5M254.3 638.9L254.7 636.7M253.8 636.4L254.2 634.3M254.9 637.5L255.4 635.3M255 635L255.4 632.9M254.9 632.6L255.1 631.6M252.5 649.2L253 647M254.2 639.4L254.6 637.3M256.2 632.1L256.3 631.5M252.8 648.6L253.3 646.4M253.5 646.1L254 644M257.6 631.5L257.7 631.3M253.5 649L254 646.8M253.9 646.5L254.5 644.4M254.4 644.1L255 642M257.6 634.5L258.2 632.4M258.2 632.1L258.5 631.1M253.9 647.1L254.5 645M255.9 642.3L256.5 640.2M256.3 639.9L257 637.8M258.3 632.7L258.8 631M255.3 646.8L255.9 644.7M256.4 642L257.1 639.9M259 634.9L259.6 632.8M259.8 632.5L260.3 630.9M254.7 647.5L255.4 645.4M260.2 633.3L260.9 631.3M260 633.6L260.7 631.5M260.6 631.3L260.9 630.6M256 644.9L256.8 642.8M257.9 642.6L258.7 640.5M261.4 633.3L262.2 631.3M256.8 643.6L257.7 641.6M257.7 641.3L258.6 639.3M262.4 632.1L263.1 630.3M255.5 647.6L256.4 645.6M257.5 644.5L258.5 642.6M258.3 642.3L259.3 640.3M262.2 635.6L263.1 633.6M265.1 631.9L266.2 630M258.4 644.7L259.5 642.7M259.8 640.3L260.9 638.4M264.9 631.5L265.9 629.8M257.5 646.4L258.5 644.5M259.8 642L260.9 640.1M261.3 639.9L262.4 637.9M265.4 631.2L266.2 629.7M260 642.2L261.2 640.3M261.6 640.1L262.8 638.2M263.2 637.9L264.4 636.1M260.5 642.6L261.7 640.7M268.1 630L268.5 629.5M261.1 642.2L262.4 640.4M262.4 640.2L263.7 638.4M268.9 630.6L269.7 629.5M265.4 636.7L266.8 635M267.6 634.8L269 633.1M269.4 632.9L270.8 631.2M270 631L271.2 629.5M271.7 630.6L272.7 629.5" stroke="#40ff0a" stroke-width="1.2" fill="none"/>
<path d="M148 623.5L151 623.8L154.1 624L157.1 624.3L160.2 624.5L163.2 624.6L166.3 624.7L169.3 624.8L172.4 624.9L175.4 625L178.5 625L181.5 625L184.6 625L187.6 625L190.7 625L193.7 625L196.8 625L199.8 625L202.9 625L205.9 625L209 625.1L212 625.2L215.1 625.3L218.2 625.3L221.2 625.4L224.3 625.5L227.3 625.5L230.4 625.5L233.4 625.5L236.5 625.5L239.5 625.5L242.6 625.3L245.6 625.1L248.7 624.9L251.7 624.7L254.7 624.5L257.8 624.4L260.8 624.3L263.9 624.2L266.9 624.1L270 624L269.7 623.2L266.7 623.1L263.7 622.3L260.7 622.7L257.7 622.9L254.7 622.6L251.7 621.9L248.7 623.2L245.6 623.1L242.6 622.5L239.6 622.8L236.5 623.4L233.5 623.6L230.5 623.1L227.4 623.2L224.4 622.8L221.4 622.7L218.3 623.6L215.3 622.8L212.3 622.7L209.2 622.4L206.2 622.6L203.2 623.2L200.1 622.1L197.1 622.1L194.1 623.2L191 622.5L188 622.5L185 622.6L181.9 622.1L178.9 622.7L175.8 622.9L172.8 622.1L169.8 622.8L166.7 622.1L163.7 621.9L160.7 621.9L157.7 622.5L154.7 622L151.7 621.6L148.6 621.4Z" fill="#5a00ff" fill-opacity="0.5"/>
<path d="M148.6 621.6L151.7 621.7L154.7 622L157.7 622.1L160.7 622.7L163.7 622.9L166.7 622.7L169.8 622.1L172.8 622.6L175.8 622.1L178.9 623.1L181.9 622.8L185 622.4L188 622.7L191 622.2L194.1 623L197.1 623L200.1 622.2L203.2 623.3L206.2 622.3L209.2 623L212.3 622.8L215.3 623.3L218.3 622.9L221.4 623.3L224.4 622.7L227.4 623.4L230.5 623.7L233.5 622.7L236.5 623.6L239.6 622.4L242.6 622.6L245.6 622.2L248.7 623L251.7 622.6L254.7 622L257.7 622.2L260.7 622.5L263.7 622.7L266.7 622.6L269.7 623.1L268.8 619.6L265.9 619L263.1 618.6L260.3 617.7L257.5 616.4L254.6 616.5L251.7 615.7L248.7 615.4L245.7 615.3L242.7 615.3L239.8 615.4L236.8 615.6L233.8 616.3L230.8 616.5L227.8 616.5L224.9 616.1L221.9 615.9L218.9 616.5L215.9 616L212.9 616.2L209.9 616.6L206.9 615.9L203.9 615.5L201 615.4L198 615.9L195 615.7L192 615.6L189 616.1L186 615.9L183 614.9L180 615.6L177.1 615.2L174.1 615.9L171.1 615.9L168.1 615.5L165.1 616.4L162.2 616.6L159.2 616.6L156.3 616.7L153.4 616.7L150.5 617.8Z" fill="#40ff0a" fill-opacity="0.8"/>
<path d="M150.5 617.9L153.4 616.8L156.3 617.2L159.2 617L162.2 616.2L165.1 616.2L168.1 615.7L171.1 615.6L174.1 615.6L177.1 615.7L180 615.8L183 615.8L186 615.6L189 615.3L192 616L195 615.6L198 615.7L201 615.6L203.9 616.2L206.9 616.4L209.9 615.8L212.9 616.2L215.9 616.8L218.9 616L221.9 616.4L224.9 616.5L227.8 615.7L230.8 616.4L233.8 616.4L236.8 615.7L239.8 615.3L242.7 616.1L245.7 615.6L248.7 616L251.7 615.9L254.6 616.6L257.5 616.8L260.3 617.2L263.1 618.4L265.9 618.6L268.8 620L268.4 618.1L265.6 617.3L262.9 616.5L260.1 615.4L257.4 615L254.6 613.9L251.6 613.5L248.7 612.9L245.7 612.6L242.8 612.9L239.8 612.8L236.9 613.3L233.9 613.3L230.9 613.2L228 613.5L225 613.3L222.1 613.6L219.1 613.2L216.1 613.4L213.2 613.6L210.2 613.7L207.2 612.9L204.2 613.2L201.3 613.1L198.3 612.8L195.3 613.4L192.4 612.7L189.4 612.4L186.4 613.2L183.5 612.1L180.5 613L177.5 612.6L174.6 613.2L171.6 612.8L168.6 612.7L165.7 612.8L162.7 613.2L159.9 614.4L157 615.1L154.1 614.9L151.2 615.9Z" fill="#ffff00" fill-opacity="0.7"/>
<path d="M151.2 616.1L154.1 614.8L157 615.3L159.9 614.4L162.7 613.4L165.7 613.8L168.6 613.5L171.6 612.5L174.6 612.7L177.5 612.9L180.5 613.4L183.5 612.2L186.4 612.1L189.4 612.6L192.4 612.4L195.3 612.9L198.3 613.2L201.3 613.2L204.2 613L207.2 612.9L210.2 613.9L213.2 613.5L216.1 613.7L219.1 613.7L222.1 614L225 614.4L228 614L230.9 613.7L233.9 613L236.9 612.5L239.8 612.2L242.8 613.3L245.7 612.6L248.7 613.4L251.6 614L254.6 613.5L257.4 614.4L260.1 615.4L262.9 617L265.6 617.7L268.4 618.8L268 617L265.3 615.8L262.6 614.5L260 613.3L257.3 612.1L254.6 611L251.6 610.7L248.7 610.4L245.8 610.1L242.8 609.8L239.9 609.5L237 609.8L234 610.1L231.1 610.4L228.2 610.7L225.2 611L222.3 610.9L219.3 610.9L216.4 610.8L213.4 610.7L210.5 610.6L207.5 610.6L204.6 610.5L201.6 610.3L198.7 610.2L195.7 610L192.8 609.9L189.9 609.7L186.9 609.6L184 609.6L181 609.7L178.1 609.8L175.1 610L172.2 610.1L169.2 610.3L166.3 610.4L163.4 610.9L160.5 611.7L157.7 612.5L154.8 613.2L152 614Z" fill="#ffb400" fill-opacity="0.3"/>
<path d="M149.8 622.4L150.2 621.4M152.6 623.5L153 622.4M155.1 623L155.5 621.8M156.1 623.4L156.4 622.2M159 622.9L159.3 621.6M162 623.1L162.3 621.7M163.8 622.8L164.1 621.4M167.1 623.8L167.4 622.4M169.2 623.3L169.5 621.8M171 623.3L171.3 621.8M174 623.4L174.2 621.9M175.9 623.9L176.2 622.3M179.1 624.3L179.3 622.8M180.6 622.5L180.9 620.9M184.1 622.9L184.4 621.3M185.7 624.7L185.9 623.1M188.8 624.4L189 622.8M190.8 623.2L191 621.7M192.8 623.8L193 622.3M195.4 622.8L195.6 621.4M198.1 622.4L198.3 621M200.4 623L200.6 621.5M203.5 624.1L203.7 622.7M206.1 622.5L206.3 621.1M207.7 622.9L207.9 621.5M210.7 623.6L210.9 622.2M212.5 624.3L212.6 622.8M214.8 624.5L214.9 623.1M217.3 623.2L217.5 621.7M220.7 623.6L220.8 622.2M222.2 623.6L222.3 622.1M224.5 624L224.5 622.6M227.2 623.8L227.3 622.3M229.3 623.8L229.3 622.3M232.7 623.2L232.8 621.7M235 624.2L235.1 622.6M237.7 624L237.7 622.4M239.5 623.8L239.5 622.2M242 624.2L242 622.6M244.2 624.7L244.3 623.2M247.6 624.2L247.6 622.7M248.8 623.4L248.8 621.9M251.4 623.2L251.4 621.8M254.3 622.9L254.3 621.6M256.9 623.2L256.9 621.9M258.6 623.5L258.5 622.3M261.4 624L261.3 622.9M263.8 622.8L263.6 621.8M266.8 622.8L266.7 621.9M268.2 623.6L268 622.9" stroke="#5a00ff" stroke-width="0.8" fill="none" stroke-dasharray="1.3 0.9"/>
<path d="M150.8 619.9L151.4 618.4M153.6 620.8L154.1 619.2M156 620.1L156.5 618.3M157 620.3L157.5 618.5M159.8 619.6L160.3 617.6M162.8 619.6L163.2 617.5M164.6 619.3L165.1 617.1M167.8 620.2L168.3 618.1M169.9 619.6L170.3 617.4M171.7 619.6L172.1 617.4M174.6 619.6L175 617.4M176.6 620.1L177 617.8M179.7 620.5L180.1 618.2M181.3 618.6L181.6 616.3M184.7 619L185.1 616.7M186.3 620.8L186.6 618.5M189.4 620.6L189.7 618.3M191.3 619.5L191.6 617.2M193.3 620.1L193.6 617.8M195.9 619.1L196.2 616.9M198.6 618.7L198.9 616.5M200.8 619.3L201.1 617.2M203.9 620.5L204.2 618.3M206.5 618.9L206.8 616.7M208.1 619.3L208.3 617.2M211.1 620L211.3 617.8M212.8 620.7L213 618.5M215.1 620.9L215.3 618.7M217.6 619.6L217.8 617.4M221 620L221.1 617.8M222.4 620L222.6 617.8M224.7 620.4L224.8 618.2M227.4 620.1L227.6 617.9M229.5 620L229.6 617.8M232.9 619.4L233 617.1M235.2 620.3L235.3 617.9M237.8 620.1L237.9 617.7M239.6 619.8L239.6 617.4M242 620.3L242.1 617.9M244.3 620.9L244.3 618.6M247.6 620.4L247.7 618.2M248.8 619.8L248.8 617.6M251.4 619.7L251.4 617.6M254.3 619.5L254.3 617.5M256.8 619.9L256.7 618M258.4 620.5L258.3 618.7M261.1 621.3L261 619.7M263.5 620.4L263.3 618.9M266.5 620.6L266.2 619.3M267.7 621.7L267.5 620.6" stroke="#0a9a5c" stroke-width="0.7" fill="none" stroke-dasharray="1.3 0.9"/>
<path d="M152.5 615.7L153.3 613.5M155.2 616.2L156.2 613.4M157.5 615.1L158.5 612M158.4 615L159.4 611.5M161.3 614L162 611M164.1 613.6L165 609.5M165.9 613.1L166.6 610.1M169.1 614L169.8 610.5M171.1 613.3L171.9 609.4M172.9 613.2L173.6 609.7M175.8 613.2L176.5 609.3M177.7 613.5L178.3 609.9M180.8 613.9L181.5 609.7M182.3 612L182.8 608.8M185.7 612.4L186.3 608.9M187.2 614.2L187.9 609.8M190.3 614L190.9 610.1M192.2 613L192.8 608.8M194.2 613.6L194.8 609.2M196.8 612.7L197.2 609M199.4 612.4L199.8 609.4M201.6 613.1L202 610M204.6 614.3L205 610.8M207.2 612.7L207.6 609.4M208.7 613.1L209.1 609.9M211.7 613.8L212.1 610M213.4 614.4L213.7 611M215.7 614.7L216 610.4M218.2 613.3L218.4 610.4M221.5 613.8L221.7 610.5M222.9 613.7L223.1 610.8M225.1 614.1L225.3 611.2M227.8 613.7L228 610.7M229.8 613.6L230 609.9M233.2 612.8L233.3 609.4M235.4 613.6L235.5 610.1M238 613.3L238.1 609.4M239.8 612.9L239.8 608.9M242.2 613.5L242.2 609.1M244.4 614.3L244.4 610.2M247.7 614.1L247.7 610.3M248.8 613.6L248.8 610.6M251.3 613.7L251.3 610.5M254.2 613.7L254.2 609.9M256.6 614.4L256.6 611.4M258.1 615.4L258 612.8M260.7 616.7L260.4 613.8M262.9 616.2L262.7 614.3M265.8 616.9L265.4 615M266.9 618.5L266.5 616.9" stroke="#ff7000" stroke-width="0.7" fill="none" stroke-dasharray="1 1.3"/>
<path d="M146.9 621.1L146.9 619.4M149 621.3L148.9 618.3M150.4 622.3L150.4 618.2M152.6 622.3L152.6 617.4M154.2 623.1L154.2 617.4M155.6 623.9L155.6 617.5M157.8 623.6L157.8 616.8M159.6 623.5L159.6 616.3M161.1 623.8L161.1 616.3M162.7 624.7L162.7 616.9" stroke="#0000f5" stroke-width="0.9" fill="none" stroke-dasharray="1.4 0.5"/>
<path d="M150 637L150.9 637.3L151.8 637.5L152.7 637.8L153.6 638L154.5 638.3L155.4 638.6L156.2 638.8L157.1 639.1L158 639.3L158.9 639.6L159.8 639.9L160.7 640.1L161.6 640.4L162.5 640.5L163.4 640.6L164.4 640.7L165.3 640.8L166.2 640.9L167.1 640.9L168.1 641L169 641.1L169.9 641.2L170.9 641.2L171.8 641.3L172.7 641.4L173.6 641.5L174.6 641.5L175.5 641.6L176.4 641.7L177.3 641.8L178.3 641.9L179.2 641.9L180.1 642L181 642L182 642L182.9 642L183.8 642L184.8 642L185.7 642L186.6 642L186.8 638L185.9 638.1L185 638L184.1 637.9L183.1 638.1L182.2 638.2L181.3 637.5L180.4 638.3L179.5 637.6L178.6 637.4L177.6 637.6L176.7 637.2L175.8 637.1L174.9 637.1L174 637.1L173.1 637L172.1 637.8L171.2 636.9L170.3 636.8L169.4 636.9L168.5 637.6L167.6 637.4L166.6 637.4L165.7 637.2L164.8 636.4L163.9 636.5L163 637L162.1 636.2L161.2 636.4L160.3 636.7L159.4 636.6L158.5 636L157.6 636.1L156.7 635.6L155.8 635L155 635.4L154.1 635L153.2 635.2L152.3 634.4L151.4 634.2L150.5 633.8Z" fill="#0000f5" fill-opacity="0.9"/>
<path d="M150.5 634L151.4 634.2L152.3 635.1L153.2 634.4L154.1 635.3L155 635.4L155.8 634.9L156.7 635.1L157.6 635.6L158.5 635.5L159.4 636.6L160.3 636.8L161.2 636.9L162.1 636.8L163 636.8L163.9 636.7L164.8 636.6L165.7 637L166.6 637.3L167.6 636.7L168.5 636.6L169.4 637.6L170.3 637.7L171.2 637.1L172.1 637.8L173.1 637L174 637.1L174.9 637.1L175.8 638.1L176.7 637.9L177.6 637.7L178.6 637.6L179.5 637.4L180.4 637.6L181.3 638.3L182.2 638L183.1 637.8L184.1 637.7L185 638.4L185.9 637.8L186.8 638.3L187.2 630L186.3 630.4L185.4 630.2L184.5 630.9L183.6 630.1L182.7 630.7L181.8 630.7L180.9 630L180 630.9L179.1 630.7L178.2 630.8L177.3 630.4L176.4 630L175.5 630.5L174.6 630.2L173.7 630.1L172.8 630.2L171.9 630.7L171 630.5L170.1 630.3L169.2 629.7L168.3 629.9L167.4 630.3L166.5 630.2L165.6 630.4L164.7 630.3L163.8 629.8L162.9 630L162 630.3L161.2 629.9L160.3 630L159.4 629.3L158.5 629.4L157.6 629.5L156.7 629.8L155.8 629.2L154.9 629.5L154.1 629.4L153.2 629.3L152.3 629.3L151.4 629.1Z" fill="#40ff0a" fill-opacity="0.8"/>
<path d="M151.4 629.6L152.3 629.1L153.2 629.5L154.1 629.1L154.9 629.1L155.8 630L156.7 629.6L157.6 630.2L158.5 630.1L159.4 630L160.3 629.4L161.2 630L162 630.4L162.9 630L163.8 629.6L164.7 629.7L165.6 630.5L166.5 630.6L167.4 629.9L168.3 629.9L169.2 630.4L170.1 630.2L171 629.9L171.9 630.7L172.8 630.4L173.7 630.1L174.6 629.8L175.5 630.3L176.4 630.6L177.3 630L178.2 630L179.1 630.6L180 630.9L180.9 630.3L181.8 630.4L182.7 630.6L183.6 630.5L184.5 630.1L185.4 630.2L186.3 630.2L187.2 630.1L187.4 625.5L186.5 625.5L185.6 625.5L184.8 625.5L183.9 625.5L183 625.5L182.1 625.5L181.2 625.5L180.3 625.5L179.4 625.5L178.6 625.5L177.7 625.5L176.8 625.5L175.9 625.5L175 625.5L174.1 625.5L173.2 625.5L172.4 625.5L171.5 625.5L170.6 625.5L169.7 625.5L168.8 625.5L167.9 625.5L167 625.5L166.2 625.5L165.3 625.5L164.4 625.5L163.5 625.6L162.6 625.6L161.7 625.6L160.8 625.7L160 625.7L159.1 625.7L158.2 625.8L157.3 625.8L156.4 625.8L155.5 625.9L154.7 625.9L153.8 625.9L152.9 626L152 626Z" fill="#ffff00" fill-opacity="0.8"/>
<path d="M165.2 633.9L165.7 634L166.3 634.2L166.8 633.7L167.4 634.1L167.9 634.4L168.4 634.4L169 633.7L169.5 634.2L170.1 634.2L170.6 634.1L171.2 634.6L171.7 634.2L172.3 634.1L172.8 634.7L173.3 634.4L173.9 634.1L174.4 634.1L175 634.3L175.5 633.9L176.1 634.5L176.6 634.6L177.2 634.3L177.7 634.8L178.2 634.9L178.8 634.6L179.3 634.7L179.9 634.2L180.4 634.1L181 635.1L181.5 634.4L182.1 634.3L182.6 635L183.2 634.8L183.7 634.2L184.3 634.4L184.8 634.3L185.3 634.3L185.9 634.1L186.4 634.6L187 634.4L187.4 625.5L186.9 625.5L186.4 625.5L185.8 625.5L185.3 625.5L184.8 625.5L184.2 625.5L183.7 625.5L183.2 625.5L182.6 625.5L182.1 625.5L181.6 625.5L181 625.5L180.5 625.5L180 625.5L179.4 625.5L178.9 625.5L178.4 625.5L177.9 625.5L177.3 625.5L176.8 625.5L176.3 625.5L175.7 625.5L175.2 625.5L174.7 625.5L174.1 625.5L173.6 625.5L173.1 625.5L172.5 625.5L172 625.5L171.5 625.5L170.9 625.5L170.4 625.5L169.9 625.5L169.3 625.5L168.8 625.5L168.3 625.5L167.8 625.5L167.2 625.5L166.7 625.5L166.2 625.5Z" fill="#ffb400" fill-opacity="0.5"/>
<path d="M168.5 632.9L169.3 625.2M171.1 633.4L171.9 625.6M172.6 633.3L173.3 625.4M174.5 633.8L175.2 625.8M176.8 633.5L177.4 625.4M177.9 633.9L178.5 625.8M180.4 633.9L181 625.6M182.5 633.2L183 624.9M184.5 633.4L185 625.2M186.3 633.3L186.8 625.1" stroke="#ff7000" stroke-width="0.8" fill="none" stroke-dasharray="1.2 0.9"/>
<path d="M185.4 642L186.8 642L188.2 642L189.7 642L191.1 642L192.5 642L193.9 642L195.4 642L196.8 642L198.2 642L199.6 642L201.1 641.9L202.5 641.8L203.9 641.6L205.3 641.5L206.7 641.3L208.1 641.2L209.6 641L211 640.9L212.4 640.8L213.8 640.6L215.2 640.5L216.7 640.3L218.1 640.2L219.5 640.1L220.9 639.8L222.3 639.6L223.7 639.4L225.1 639.1L226.5 638.9L227.9 638.7L229.3 638.4L230.7 638.2L232.2 638L233.6 637.7L235 637.5L236.4 637.2L237.7 636.9L239.1 636.5L240.5 636.2L241.9 635.9L241.6 634.3L240.3 634.7L238.9 634.9L237.5 634.7L236.1 634.7L234.7 635.1L233.3 635.3L231.9 636L230.5 635.4L229.1 636.4L227.7 636L226.3 636.4L224.9 636.2L223.6 637.1L222.2 636.7L220.8 637.3L219.4 636.9L218 637.3L216.5 637.7L215.1 637.5L213.7 637.3L212.3 637.6L210.9 638.2L209.5 638.3L208.1 637.9L206.7 638.7L205.3 638.6L203.9 638.5L202.5 638.5L201.1 638.7L199.7 638.6L198.3 638.9L196.8 638.4L195.4 638.8L194 638.2L192.6 639.1L191.2 639L189.8 639.1L188.4 639.2L187 639.2L185.6 638.5Z" fill="#0000f5" fill-opacity="0.9"/>
<path d="M185.6 638.8L187 638.7L188.4 638.5L189.8 638.3L191.2 638.4L192.6 638.3L194 638.6L195.4 638.7L196.8 638.5L198.3 638.8L199.7 638.3L201.1 638.3L202.5 638.4L203.9 638L205.3 638.3L206.7 638.6L208.1 637.8L209.5 637.8L210.9 638.2L212.3 637.7L213.7 637.8L215.1 637.4L216.5 637.7L218 637L219.4 636.8L220.8 637.5L222.2 637.1L223.6 636.6L224.9 636.4L226.3 636.2L227.7 636L229.1 635.6L230.5 635.4L231.9 635.5L233.3 635.8L234.7 635.2L236.1 635.1L237.5 634.5L238.9 634.6L240.3 634.3L241.6 634.3L241.3 631.9L240 631.9L238.6 631.7L237.2 632.7L235.8 632.7L234.5 632.8L233.1 632.5L231.7 632.9L230.3 633.2L228.9 633.1L227.5 633.3L226.1 633.5L224.8 633.8L223.4 633.8L222 633.7L220.6 633.6L219.2 634.3L217.8 634.1L216.4 634.7L215 634.1L213.6 634.2L212.2 634L210.9 634.3L209.5 634.6L208.1 634.1L206.7 634.5L205.3 634.4L203.9 635.1L202.5 634.6L201.1 635.2L199.7 635.2L198.3 635.3L196.9 634.7L195.5 635.2L194.1 635.5L192.7 634.8L191.3 634.7L189.9 634.8L188.5 635.6L187.1 635.2L185.7 634.8Z" fill="#40ff0a" fill-opacity="0.9"/>
<path d="M185.7 635.2L187.1 635.3L188.5 635.1L189.9 634.6L191.3 635L192.7 635.1L194.1 635L195.5 634.8L196.9 635.2L198.3 635.3L199.7 634.7L201.1 634.9L202.5 634.9L203.9 635.1L205.3 634.7L206.7 635L208.1 634.1L209.5 634.2L210.9 634.9L212.2 634.2L213.6 634.4L215 634L216.4 634.6L217.8 634L219.2 633.9L220.6 633.7L222 633.7L223.4 633.6L224.8 633.6L226.1 633.4L227.5 633L228.9 633.3L230.3 633.3L231.7 632.6L233.1 633L234.5 633.1L235.8 632.3L237.2 632.4L238.6 632.5L240 631.8L241.3 632L241.1 630.6L239.8 630.8L238.4 630.7L237 630.4L235.7 630.6L234.3 631.5L232.9 630.9L231.5 631.2L230.2 631.2L228.8 631.7L227.4 631.2L226 631.6L224.6 631.3L223.3 632.3L221.9 632.4L220.5 632.3L219.1 632.5L217.7 631.7L216.4 632.5L215 631.8L213.6 632.5L212.2 632.7L210.8 632.5L209.4 632.8L208 632.5L206.7 632.9L205.3 632.9L203.9 632.8L202.5 632.8L201.1 632.6L199.7 632.6L198.3 632.3L197 633L195.6 633.2L194.2 632.8L192.8 632.9L191.4 632.7L190 632.8L188.6 632.8L187.2 632.7L185.9 632.9Z" fill="#ffff00" fill-opacity="0.8"/>
<path d="M185.9 632.4L187.2 632.6L188.6 632.6L190 633.1L191.4 632.5L192.8 632.4L194.2 632.7L195.6 632.6L197 632.9L198.3 632.6L199.7 632.4L201.1 632.9L202.5 633.1L203.9 632.8L205.3 632.6L206.7 632.1L208 632.1L209.4 632.6L210.8 632.8L212.2 632.3L213.6 632.7L215 631.8L216.4 632L217.7 631.9L219.1 632.3L220.5 631.9L221.9 632.1L223.3 631.4L224.6 631.9L226 631.9L227.4 631.3L228.8 631.1L230.2 631.3L231.5 631.2L232.9 631.1L234.3 631.5L235.7 630.6L237 630.9L238.4 630.6L239.8 630.6L241.1 630.1L240.5 626L239.2 626L237.8 626L236.5 626L235.1 626L233.8 626L232.4 626L231 626L229.7 626L228.3 626L227 626L225.6 626L224.3 626L222.9 625.9L221.5 625.9L220.2 625.9L218.8 625.8L217.5 625.8L216.1 625.8L214.7 625.7L213.4 625.7L212 625.7L210.7 625.6L209.3 625.6L208 625.6L206.6 625.5L205.2 625.5L203.9 625.5L202.5 625.5L201.2 625.5L199.8 625.5L198.5 625.5L197.1 625.5L195.7 625.5L194.4 625.5L193 625.5L191.7 625.5L190.3 625.5L189 625.5L187.6 625.5L186.2 625.5Z" fill="#ff7000" fill-opacity="0.8"/>
<path d="M240.7 636.2L241.5 636L242.3 635.8L243.1 635.6L243.8 635.4L244.6 635.3L245.4 635.1L246.2 634.9L247 634.7L247.8 634.5L248.5 634.3L249.3 634.2L250.1 634L250.9 633.8L251.7 633.6L252.5 633.4L253.2 633.2L254 633L254.8 632.8L255.6 632.6L256.4 632.4L257.1 632.2L257.9 632L258.7 631.8L259.5 631.6L260.3 631.4L261.1 631.2L261.8 631L262.6 630.8L263.4 630.6L264.2 630.5L265 630.3L265.7 630.1L266.5 629.9L267.3 629.7L268.1 629.5L268.9 629.3L269.7 629.1L270.4 628.9L271.2 628.7L272 628.5L271.4 627.9L270.6 627.2L269.8 627.6L269.1 627.5L268.3 627.8L267.5 627.9L266.7 628.7L266 628.8L265.2 628.7L264.4 628.7L263.6 628.8L262.9 628.9L262.1 629.1L261.3 628.8L260.5 628.8L259.7 629.6L259 629.1L258.2 629.5L257.4 629.6L256.6 630L255.9 630.4L255.1 630.1L254.3 630.5L253.5 631L252.8 631L252 630.8L251.2 631L250.4 630.7L249.6 630.9L248.9 631.9L248.1 631.5L247.3 632.1L246.5 631.6L245.8 632L245 632L244.2 632.5L243.4 632.6L242.6 632.6L241.9 632.5L241.1 632.9L240.3 632.8Z" fill="#0000f5" fill-opacity="0.9"/>
<path d="M240.3 633.4L241.1 633.2L241.9 632.4L242.6 632.9L243.4 633L244.2 631.9L245 632.4L245.8 632.2L246.5 631.8L247.3 632.1L248.1 631.7L248.9 631.6L249.6 631.4L250.4 630.9L251.2 631.3L252 630.5L252.8 630.6L253.5 631L254.3 630.7L255.1 630.3L255.9 630.4L256.6 630.4L257.4 629.6L258.2 629.4L259 629.3L259.7 629.6L260.5 628.9L261.3 629.5L262.1 628.8L262.9 628.4L263.6 628.7L264.4 628.5L265.2 628.5L266 628L266.7 628.2L267.5 627.7L268.3 628.3L269.1 627.7L269.8 627.6L270.6 627.9L271.4 627.4L270.8 625.9L270 626.4L269.3 626.9L268.5 627L267.7 626.3L266.9 626.4L266.2 626.5L265.4 626.4L264.6 627.1L263.8 626.6L263.1 627.2L262.3 626.7L261.5 627.2L260.8 627.1L260 627.2L259.2 627L258.4 628L257.7 627.1L256.9 627.2L256.1 627.6L255.4 627.5L254.6 627.7L253.8 627.8L253 628L252.3 628.7L251.5 628.7L250.7 628.2L249.9 629L249.2 629.1L248.4 629L247.6 628.7L246.9 629.5L246.1 628.8L245.3 629.4L244.5 628.9L243.8 629.8L243 629.2L242.2 629.7L241.4 630.2L240.7 630.2L239.9 629.8Z" fill="#40ff0a" fill-opacity="0.8"/>
<path d="M239.9 630L240.7 630L241.4 630.4L242.2 629.3L243 630L243.8 630L244.5 629.8L245.3 629.3L246.1 629.4L246.9 629L247.6 628.5L248.4 628.8L249.2 629L249.9 628.2L250.7 628.5L251.5 628L252.3 627.9L253 628.5L253.8 627.6L254.6 628.1L255.4 627.7L256.1 627.6L256.9 628.1L257.7 627.5L258.4 627.5L259.2 627.8L260 627.4L260.8 626.8L261.5 626.9L262.3 627.3L263.1 626.7L263.8 626.5L264.6 626.6L265.4 626.5L266.2 626.7L266.9 626.3L267.7 626.9L268.5 627L269.3 626.2L270 626.5L270.8 626.1L270 625L269.2 625L268.5 624.9L267.7 624.9L266.9 624.8L266.2 624.8L265.4 624.7L264.6 624.7L263.9 624.6L263.1 624.6L262.3 624.5L261.6 624.5L260.8 624.6L260 624.6L259.3 624.6L258.5 624.7L257.7 624.7L257 624.8L256.2 624.8L255.4 624.8L254.7 624.9L253.9 624.9L253.1 624.9L252.4 625L251.6 625L250.8 625.1L250.1 625.2L249.3 625.2L248.5 625.3L247.8 625.4L247 625.4L246.3 625.5L245.5 625.5L244.7 625.6L244 625.7L243.2 625.7L242.4 625.8L241.7 625.9L240.9 625.9L240.1 626L239.4 626Z" fill="#ffff00" fill-opacity="0.6"/>
<path d="M194.4 631.5L194.5 624.9M196.5 632.6L196.7 626M198.2 631.9L198.3 625.3M199.4 632.4L199.5 625.8M201.6 631.9L201.7 625.3M203.8 632.6L203.8 626.1M206.3 631.3L206.3 624.9M207.5 631.6L207.4 625.4M210.2 631.9L210.1 625.7M211.8 631.1L211.7 625M213.2 631.6L213.1 625.6M215.8 632.2L215.6 626.3M217.7 630.9L217.4 625.1M219 632L218.7 626.4M222 631L221.7 625.5M223.7 631.3L223.3 626M225.5 630.9L225.2 625.7M227.3 630.7L226.9 625.6M228.6 630.9L228.2 625.9M230.5 631L230 626.2M233.3 630.5L232.9 625.8M235.8 629.9L235.3 625.4M237 630L236.5 625.6M238.9 630.3L238.4 626.1M240.6 629.6L240 625.6M242.7 629.7L242.1 625.8M244 629.1L243.5 625.3M246 629.5L245.4 625.9M248.3 628.4L247.7 624.9M249.9 629L249.3 625.6M253 628.5L252.4 625.3M254.5 628.6L253.8 625.5M256.8 628L256.1 625.1M258.9 627.2L258.2 624.4M259.9 627.3L259.1 624.6M262.2 626.9L261.5 624.5M264.4 627L263.7 624.7M266.5 627.2L265.7 625.2M268.4 626.6L267.6 624.8M269.8 626.6L269 625.1" stroke="#ff2a00" stroke-width="0.7" fill="none" stroke-dasharray="1 1.2"/>
<path d="M145 631.2L145 629.8M146.2 632L146.2 629.7M148.5 632L148.6 628.8M150 632.6L150 628.7M152 633.7L152 629.2M153.5 633.8L153.6 628.7M155.2 634.1L155.3 628.5M157.3 634.4L157.3 628.5M159.7 634.7L159.7 628.6M161.1 634.6L161.1 628.3" stroke="#0000f5" stroke-width="0.9" fill="none" stroke-dasharray="1.4 0.5"/>
<path d="M152.7 613.65l0.95 1.6 1.6 0.95-1.6 0.95-0.95 1.6-0.95-1.6-1.6-0.95 1.6-0.95zM153.4 618.35l0.95 1.6 1.6 0.95-1.6 0.95-0.95 1.6-0.95-1.6-1.6-0.95 1.6-0.95zM143.9 621.45l0.95 1.6 1.6 0.95-1.6 0.95-0.95 1.6-0.95-1.6-1.6-0.95 1.6-0.95zM159.5 625.15l0.95 1.6 1.6 0.95-1.6 0.95-0.95 1.6-0.95-1.6-1.6-0.95 1.6-0.95zM145.7 633.35l0.95 1.6 1.6 0.95-1.6 0.95-0.95 1.6-0.95-1.6-1.6-0.95 1.6-0.95zM150 635.45l0.95 1.6 1.6 0.95-1.6 0.95-0.95 1.6-0.95-1.6-1.6-0.95 1.6-0.95zM147.3 647.95l0.95 1.6 1.6 0.95-1.6 0.95-0.95 1.6-0.95-1.6-1.6-0.95 1.6-0.95zM143.7 653.85l0.95 1.6 1.6 0.95-1.6 0.95-0.95 1.6-0.95-1.6-1.6-0.95 1.6-0.95zM147.8 655.85l0.95 1.6 1.6 0.95-1.6 0.95-0.95 1.6-0.95-1.6-1.6-0.95 1.6-0.95zM158 658.15l0.95 1.6 1.6 0.95-1.6 0.95-0.95 1.6-0.95-1.6-1.6-0.95 1.6-0.95zM145.7 663.45l0.95 1.6 1.6 0.95-1.6 0.95-0.95 1.6-0.95-1.6-1.6-0.95 1.6-0.95zM144.7 660.85l0.95 1.6 1.6 0.95-1.6 0.95-0.95 1.6-0.95-1.6-1.6-0.95 1.6-0.95zM152.9 663.95l0.95 1.6 1.6 0.95-1.6 0.95-0.95 1.6-0.95-1.6-1.6-0.95 1.6-0.95zM154.4 667.05l0.95 1.6 1.6 0.95-1.6 0.95-0.95 1.6-0.95-1.6-1.6-0.95 1.6-0.95zM172.3 660.35l0.95 1.6 1.6 0.95-1.6 0.95-0.95 1.6-0.95-1.6-1.6-0.95 1.6-0.95zM148.3 672.65l0.95 1.6 1.6 0.95-1.6 0.95-0.95 1.6-0.95-1.6-1.6-0.95 1.6-0.95zM158.5 672.65l0.95 1.6 1.6 0.95-1.6 0.95-0.95 1.6-0.95-1.6-1.6-0.95 1.6-0.95zM167.2 668.55l0.95 1.6 1.6 0.95-1.6 0.95-0.95 1.6-0.95-1.6-1.6-0.95 1.6-0.95zM172.3 677.75l0.95 1.6 1.6 0.95-1.6 0.95-0.95 1.6-0.95-1.6-1.6-0.95 1.6-0.95zM168.2 682.85l0.95 1.6 1.6 0.95-1.6 0.95-0.95 1.6-0.95-1.6-1.6-0.95 1.6-0.95zM172.8 685.45l0.95 1.6 1.6 0.95-1.6 0.95-0.95 1.6-0.95-1.6-1.6-0.95 1.6-0.95zM167.7 689.45l0.95 1.6 1.6 0.95-1.6 0.95-0.95 1.6-0.95-1.6-1.6-0.95 1.6-0.95zM163.1 691.55l0.95 1.6 1.6 0.95-1.6 0.95-0.95 1.6-0.95-1.6-1.6-0.95 1.6-0.95zM218.8 660.85l0.95 1.6 1.6 0.95-1.6 0.95-0.95 1.6-0.95-1.6-1.6-0.95 1.6-0.95zM220.3 663.95l0.95 1.6 1.6 0.95-1.6 0.95-0.95 1.6-0.95-1.6-1.6-0.95 1.6-0.95zM217.8 672.65l0.95 1.6 1.6 0.95-1.6 0.95-0.95 1.6-0.95-1.6-1.6-0.95 1.6-0.95zM219.8 671.65l0.95 1.6 1.6 0.95-1.6 0.95-0.95 1.6-0.95-1.6-1.6-0.95 1.6-0.95zM221.3 674.65l0.95 1.6 1.6 0.95-1.6 0.95-0.95 1.6-0.95-1.6-1.6-0.95 1.6-0.95zM217.3 677.75l0.95 1.6 1.6 0.95-1.6 0.95-0.95 1.6-0.95-1.6-1.6-0.95 1.6-0.95zM219.8 677.25l0.95 1.6 1.6 0.95-1.6 0.95-0.95 1.6-0.95-1.6-1.6-0.95 1.6-0.95zM225.9 674.65l0.95 1.6 1.6 0.95-1.6 0.95-0.95 1.6-0.95-1.6-1.6-0.95 1.6-0.95zM220.8 683.85l0.95 1.6 1.6 0.95-1.6 0.95-0.95 1.6-0.95-1.6-1.6-0.95 1.6-0.95zM230 678.75l0.95 1.6 1.6 0.95-1.6 0.95-0.95 1.6-0.95-1.6-1.6-0.95 1.6-0.95zM232.1 681.35l0.95 1.6 1.6 0.95-1.6 0.95-0.95 1.6-0.95-1.6-1.6-0.95 1.6-0.95zM231 683.35l0.95 1.6 1.6 0.95-1.6 0.95-0.95 1.6-0.95-1.6-1.6-0.95 1.6-0.95zM227 686.45l0.95 1.6 1.6 0.95-1.6 0.95-0.95 1.6-0.95-1.6-1.6-0.95 1.6-0.95zM225.4 688.95l0.95 1.6 1.6 0.95-1.6 0.95-0.95 1.6-0.95-1.6-1.6-0.95 1.6-0.95zM227.5 690.05l0.95 1.6 1.6 0.95-1.6 0.95-0.95 1.6-0.95-1.6-1.6-0.95 1.6-0.95zM237.7 688.45l0.95 1.6 1.6 0.95-1.6 0.95-0.95 1.6-0.95-1.6-1.6-0.95 1.6-0.95zM229.5 695.15l0.95 1.6 1.6 0.95-1.6 0.95-0.95 1.6-0.95-1.6-1.6-0.95 1.6-0.95zM235.6 699.75l0.95 1.6 1.6 0.95-1.6 0.95-0.95 1.6-0.95-1.6-1.6-0.95 1.6-0.95zM239.2 696.65l0.95 1.6 1.6 0.95-1.6 0.95-0.95 1.6-0.95-1.6-1.6-0.95 1.6-0.95zM233.6 704.85l0.95 1.6 1.6 0.95-1.6 0.95-0.95 1.6-0.95-1.6-1.6-0.95 1.6-0.95zM240.2 704.85l0.95 1.6 1.6 0.95-1.6 0.95-0.95 1.6-0.95-1.6-1.6-0.95 1.6-0.95zM225.4 705.85l0.95 1.6 1.6 0.95-1.6 0.95-0.95 1.6-0.95-1.6-1.6-0.95 1.6-0.95zM211.6 694.65l0.95 1.6 1.6 0.95-1.6 0.95-0.95 1.6-0.95-1.6-1.6-0.95 1.6-0.95zM200.4 710.35l0.95 1.6 1.6 0.95-1.6 0.95-0.95 1.6-0.95-1.6-1.6-0.95 1.6-0.95z" fill="#ff3a12"/>
<ellipse cx="132.13" cy="693.11" rx="27.77" ry="26.71" fill="none" stroke="#151515" stroke-width="1.5"/>
<ellipse cx="218.62" cy="643.62" rx="29.65" ry="26.71" fill="none" stroke="#151515" stroke-width="1.5"/>
<ellipse cx="234.79" cy="638.24" rx="29.96" ry="26.71" fill="none" stroke="#151515" stroke-width="1.5"/>
<ellipse cx="250.5" cy="629.2" rx="30.52" ry="26.71" fill="none" stroke="#151515" stroke-width="1.5"/>
<ellipse cx="227.98" cy="692.79" rx="27.78" ry="26.71" fill="none" stroke="#151515" stroke-width="1.5"/>
<path d="M126.78 657.91L133.88 657.91L130.33 665.01Z" fill="#000"/>
<path d="M155.66 648.79L162.76 648.79L159.21 655.89Z" fill="#000"/>
<path d="M154.47 695.99L161.57 695.99L158.02 703.09Z" fill="#000"/>
<path d="M132.48 734.08L139.58 734.08L136.03 741.18Z" fill="#000"/>
<path d="M229.23 690.69L236.33 690.69L232.78 697.79Z" fill="#000"/>
<path d="M246.46 625.42L253.56 625.42L250.01 632.52Z" fill="#000"/>
<path d="M128.58 690.21L135.68 690.21L132.13 697.31Z" fill="#000"/>
<circle cx="217.68" cy="643.82" r="3.6" fill="#000" stroke="#fff" stroke-width="1.5"/>
<circle cx="57.1" cy="580.1" r="3.1" fill="#000"/>
<text x="65.8" y="582.7" font-size="7.4" stroke="#000" stroke-width="0.3">Rx</text>
<path d="M53.55 588L60.65 588L57.1 595.1Z" fill="#000"/>
<text x="65.8" y="594.7" font-size="7.4" textLength="37.8" lengthAdjust="spacingAndGlyphs" stroke="#000" stroke-width="0.3">Ionosonde</text>
<circle cx="57" cy="604.1" r="1.1" fill="#f5300f"/>
<text x="65.8" y="606.9" font-size="7.4" fill="#f5300f" textLength="40.2" lengthAdjust="spacingAndGlyphs" stroke="#f5300f" stroke-width="0.3">Effective Tx</text>
<text x="62.5" y="761.4" font-family="Liberation Serif, serif" font-weight="bold" font-style="italic" font-size="32.5" stroke="#000" stroke-width="0.22">e</text>
<g clip-path="url(#pc)" transform="translate(333 551.9)"><use href="#coast"/></g>
<path d="M377.45 786.38v-2.2M377.45 565.45v2.2M381.55 786.38v-2.2M381.55 565.45v2.2M385.66 786.38v-5M385.66 565.45v5M389.76 786.38v-2.2M389.76 565.45v2.2M393.86 786.38v-2.2M393.86 565.45v2.2M397.97 786.38v-2.2M397.97 565.45v2.2M402.07 786.38v-2.2M402.07 565.45v2.2M406.17 786.38v-2.2M406.17 565.45v2.2M410.28 786.38v-2.2M410.28 565.45v2.2M414.38 786.38v-2.2M414.38 565.45v2.2M418.48 786.38v-2.2M418.48 565.45v2.2M422.58 786.38v-2.2M422.58 565.45v2.2M426.69 786.38v-5M426.69 565.45v5M430.79 786.38v-2.2M430.79 565.45v2.2M434.89 786.38v-2.2M434.89 565.45v2.2M439 786.38v-2.2M439 565.45v2.2M443.1 786.38v-2.2M443.1 565.45v2.2M447.2 786.38v-2.2M447.2 565.45v2.2M451.31 786.38v-2.2M451.31 565.45v2.2M455.41 786.38v-2.2M455.41 565.45v2.2M459.51 786.38v-2.2M459.51 565.45v2.2M463.61 786.38v-2.2M463.61 565.45v2.2M467.72 786.38v-5M467.72 565.45v5M471.82 786.38v-2.2M471.82 565.45v2.2M475.92 786.38v-2.2M475.92 565.45v2.2M480.03 786.38v-2.2M480.03 565.45v2.2M484.13 786.38v-2.2M484.13 565.45v2.2M488.23 786.38v-2.2M488.23 565.45v2.2M492.34 786.38v-2.2M492.34 565.45v2.2M496.44 786.38v-2.2M496.44 565.45v2.2M500.54 786.38v-2.2M500.54 565.45v2.2M504.64 786.38v-2.2M504.64 565.45v2.2M508.75 786.38v-5M508.75 565.45v5M512.85 786.38v-2.2M512.85 565.45v2.2M516.95 786.38v-2.2M516.95 565.45v2.2M521.06 786.38v-2.2M521.06 565.45v2.2M525.16 786.38v-2.2M525.16 565.45v2.2M529.26 786.38v-2.2M529.26 565.45v2.2M533.37 786.38v-2.2M533.37 565.45v2.2M537.47 786.38v-2.2M537.47 565.45v2.2M541.57 786.38v-2.2M541.57 565.45v2.2M545.67 786.38v-2.2M545.67 565.45v2.2M549.78 786.38v-5M549.78 565.45v5M553.88 786.38v-2.2M553.88 565.45v2.2M557.98 786.38v-2.2M557.98 565.45v2.2M562.09 786.38v-2.2M562.09 565.45v2.2M566.19 786.38v-2.2M566.19 565.45v2.2M570.29 786.38v-2.2M570.29 565.45v2.2M574.4 786.38v-2.2M574.4 565.45v2.2M578.5 786.38v-2.2M578.5 565.45v2.2M582.6 786.38v-2.2M582.6 565.45v2.2M586.7 786.38v-2.2M586.7 565.45v2.2M590.81 786.38v-5M590.81 565.45v5M594.91 786.38v-2.2M594.91 565.45v2.2M599.01 786.38v-2.2M599.01 565.45v2.2M603.12 786.38v-2.2M603.12 565.45v2.2M607.22 786.38v-2.2M607.22 565.45v2.2M611.32 786.38v-2.2M611.32 565.45v2.2M615.43 786.38v-2.2M615.43 565.45v2.2M619.53 786.38v-2.2M619.53 565.45v2.2M623.63 786.38v-2.2M623.63 565.45v2.2M627.73 786.38v-2.2M627.73 565.45v2.2M631.84 786.38v-5M631.84 565.45v5M635.94 786.38v-2.2M635.94 565.45v2.2M640.04 786.38v-2.2M640.04 565.45v2.2M375.4 784.38h2.8M642.1 784.38h-2.8M375.4 780.36h2.8M642.1 780.36h-2.8M375.4 776.34h5.3M642.1 776.34h-5.3M375.4 772.33h2.8M642.1 772.33h-2.8M375.4 768.31h2.8M642.1 768.31h-2.8M375.4 764.29h2.8M642.1 764.29h-2.8M375.4 760.27h2.8M642.1 760.27h-2.8M375.4 756.26h2.8M642.1 756.26h-2.8M375.4 752.24h2.8M642.1 752.24h-2.8M375.4 748.22h2.8M642.1 748.22h-2.8M375.4 744.21h2.8M642.1 744.21h-2.8M375.4 740.19h2.8M642.1 740.19h-2.8M375.4 736.17h5.3M642.1 736.17h-5.3M375.4 732.16h2.8M642.1 732.16h-2.8M375.4 728.14h2.8M642.1 728.14h-2.8M375.4 724.12h2.8M642.1 724.12h-2.8M375.4 720.1h2.8M642.1 720.1h-2.8M375.4 716.09h2.8M642.1 716.09h-2.8M375.4 712.07h2.8M642.1 712.07h-2.8M375.4 708.05h2.8M642.1 708.05h-2.8M375.4 704.04h2.8M642.1 704.04h-2.8M375.4 700.02h2.8M642.1 700.02h-2.8M375.4 696h5.3M642.1 696h-5.3M375.4 691.99h2.8M642.1 691.99h-2.8M375.4 687.97h2.8M642.1 687.97h-2.8M375.4 683.95h2.8M642.1 683.95h-2.8M375.4 679.93h2.8M642.1 679.93h-2.8M375.4 675.92h2.8M642.1 675.92h-2.8M375.4 671.9h2.8M642.1 671.9h-2.8M375.4 667.88h2.8M642.1 667.88h-2.8M375.4 663.87h2.8M642.1 663.87h-2.8M375.4 659.85h2.8M642.1 659.85h-2.8M375.4 655.83h5.3M642.1 655.83h-5.3M375.4 651.82h2.8M642.1 651.82h-2.8M375.4 647.8h2.8M642.1 647.8h-2.8M375.4 643.78h2.8M642.1 643.78h-2.8M375.4 639.76h2.8M642.1 639.76h-2.8M375.4 635.75h2.8M642.1 635.75h-2.8M375.4 631.73h2.8M642.1 631.73h-2.8M375.4 627.71h2.8M642.1 627.71h-2.8M375.4 623.7h2.8M642.1 623.7h-2.8M375.4 619.68h2.8M642.1 619.68h-2.8M375.4 615.66h5.3M642.1 615.66h-5.3M375.4 611.65h2.8M642.1 611.65h-2.8M375.4 607.63h2.8M642.1 607.63h-2.8M375.4 603.61h2.8M642.1 603.61h-2.8M375.4 599.59h2.8M642.1 599.59h-2.8M375.4 595.58h2.8M642.1 595.58h-2.8M375.4 591.56h2.8M642.1 591.56h-2.8M375.4 587.54h2.8M642.1 587.54h-2.8M375.4 583.53h2.8M642.1 583.53h-2.8M375.4 579.51h2.8M642.1 579.51h-2.8M375.4 575.49h5.3M642.1 575.49h-5.3M375.4 571.48h2.8M642.1 571.48h-2.8M375.4 567.46h2.8M642.1 567.46h-2.8" stroke="#777" stroke-width="0.9" fill="none"/>
<rect x="375.4" y="565.45" width="266.69" height="220.94" fill="none" stroke="#939393" stroke-width="0.95"/>
<text x="385.66" y="806.78" text-anchor="middle" font-size="11" stroke="#000" stroke-width="0.3">80</text>
<text x="426.69" y="806.78" text-anchor="middle" font-size="11" stroke="#000" stroke-width="0.3">90</text>
<text x="467.72" y="806.78" text-anchor="middle" font-size="11" stroke="#000" stroke-width="0.3">100</text>
<text x="508.75" y="806.78" text-anchor="middle" font-size="11" stroke="#000" stroke-width="0.3">110</text>
<text x="549.78" y="806.78" text-anchor="middle" font-size="11" stroke="#000" stroke-width="0.3">120</text>
<text x="590.81" y="806.78" text-anchor="middle" font-size="11" stroke="#000" stroke-width="0.3">130</text>
<text x="631.84" y="806.78" text-anchor="middle" font-size="11" stroke="#000" stroke-width="0.3">140</text>
<text x="370.9" y="781.74" text-anchor="end" font-size="11" stroke="#000" stroke-width="0.3">-10</text>
<text x="370.9" y="741.57" text-anchor="end" font-size="11" stroke="#000" stroke-width="0.3">0</text>
<text x="370.9" y="701.4" text-anchor="end" font-size="11" stroke="#000" stroke-width="0.3">10</text>
<text x="370.9" y="661.23" text-anchor="end" font-size="11" stroke="#000" stroke-width="0.3">20</text>
<text x="370.9" y="621.06" text-anchor="end" font-size="11" stroke="#000" stroke-width="0.3">30</text>
<text x="370.9" y="580.89" text-anchor="end" font-size="11" stroke="#000" stroke-width="0.3">40</text>
<text transform="translate(342 675.92) rotate(-90)" text-anchor="middle" font-size="11.4" stroke="#000" stroke-width="0.3">Latitude</text>
<text x="440.1" y="561.2" font-size="11" textLength="137.1" lengthAdjust="spacingAndGlyphs" xml:space="preserve" stroke="#000" stroke-width="0.3">Rx: CNP (10.72N,  99.37E)</text>
<use href="#txg" x="333" y="551.9"/>
<path d="M430 668L432.2 668L434.4 668L436.6 668L438.8 668L441 668L443.2 668L445.4 668L447.6 668L449.8 668L452 668L454.2 668L456.4 668L458.6 668L460.8 668L463 667.9L465.2 667.9L467.4 667.8L469.6 667.8L471.8 667.7L474 667.6L476.2 667.6L478.4 667.5L480.6 667.5L482.8 667.4L485 667.4L487.2 667.3L489.4 667.3L491.6 667.2L493.8 667.2L496 667.1L498.2 667L500.4 667L502.6 667.1L504.8 667.1L507 667.2L509.2 667.3L511.4 667.3L513.6 667.4L515.8 667.4L518 667.5L514 656L511.9 655L509.7 654L507.6 653L505.5 652L503.3 651L501.2 650L498.9 649.4L496.6 649.3L494.2 649.2L491.9 649.1L489.5 649L487.2 648.9L484.8 648.7L482.5 648.6L480.1 648.5L477.8 648.6L475.4 648.6L473.1 648.7L470.7 648.8L468.3 648.8L466 648.9L463.6 649L461.3 649.1L458.9 649.3L456.6 649.5L454.2 649.7L451.9 649.9L449.6 650.1L447.2 650.3L444.9 650.6L442.5 650.8L440.2 651L437.9 651.6L435.6 652.2L433.4 652.8L431.1 653.5L428.8 654.1L426.5 654.7L424.3 655.4L422 656Z" fill="#ffffff"/>
<path d="M430 668L432.2 668L434.4 668L436.6 668L438.8 668L441 668L443.2 668L445.4 668L447.6 668L449.8 668L452 668L454.2 668L456.4 668L458.6 668L460.8 668L463 667.9L465.2 667.9L467.4 667.8L469.6 667.8L471.8 667.7L474 667.6L476.2 667.6L478.4 667.5L480.6 667.5L482.8 667.4L485 667.4L487.2 667.3L489.4 667.3L491.6 667.2L493.8 667.2L496 667.1L498.2 667L500.4 667L502.6 667.1L504.8 667.1L507 667.2L509.2 667.3L511.4 667.3L513.6 667.4L515.8 667.4L518 667.5L517 664.4L514.8 663.9L512.6 664.2L510.4 663.4L508.3 663.8L506.1 662.8L503.9 663.3L501.7 663.1L499.5 662.1L497.2 663.1L495 662.3L492.7 662.3L490.5 662.4L488.3 662.7L486 662.1L483.8 662.4L481.5 662.2L479.3 662.9L477.1 662.9L474.8 663L472.6 663L470.4 663.2L468.1 663.2L465.9 662.9L463.6 662.8L461.4 663.7L459.2 662.8L456.9 663.8L454.7 663.2L452.5 663.5L450.2 663.3L448 663.9L445.7 664.2L443.5 664.2L441.3 664.5L439.1 664L436.9 664.3L434.7 664.9L432.4 664.4L430.2 664.9L428 664.8Z" fill="#ffff00" fill-opacity="0.7"/>
<path d="M428 665L430.2 665.2L432.4 664.1L434.7 664L436.9 664.2L439.1 664.3L441.3 664.4L443.5 664.3L445.7 664L448 664.2L450.2 663.8L452.5 663.5L454.7 663.1L456.9 663.1L459.2 663.5L461.4 663.3L463.6 663.8L465.9 663.2L468.1 663.3L470.4 662.5L472.6 662.8L474.8 663.1L477.1 662.9L479.3 662.6L481.5 663.2L483.8 662.9L486 662.5L488.3 662.4L490.5 662.7L492.7 662.2L495 662.3L497.2 662.1L499.5 662.6L501.7 662.4L503.9 662.9L506.1 662.7L508.3 663.5L510.4 663.3L512.6 664.1L514.8 664L517 664.7L516.2 662.8L514 661.5L511.9 661.8L509.7 661.3L507.5 660.6L505.3 659.4L503.2 659L501 659.4L498.7 658.7L496.4 659.4L494.2 659.3L491.9 659L489.6 659.1L487.3 658.6L485.1 659.3L482.8 658.9L480.5 658.4L478.3 659.2L476 658.5L473.7 659.4L471.5 659.2L469.2 659.1L466.9 658.9L464.7 659.7L462.4 660L460.1 659L457.9 659.2L455.6 659.9L453.3 660.4L451.1 660.6L448.8 660L446.5 660.3L444.3 660.9L442 660.2L439.8 661L437.6 661.8L435.3 661.2L433.1 661.4L430.9 662.1L428.6 662.5L426.4 662.5Z" fill="#ffb400" fill-opacity="0.7"/>
<path d="M426.4 662.5L428.6 662.2L430.9 662.1L433.1 661.2L435.3 661.1L437.6 661L439.8 661.2L442 660.6L444.3 660.5L446.5 660.1L448.8 660.3L451.1 660.1L453.3 659.4L455.6 660L457.9 659.7L460.1 659.9L462.4 659.4L464.7 658.9L466.9 658.8L469.2 659.3L471.5 659.4L473.7 659.5L476 658.7L478.3 658.4L480.5 658.5L482.8 659.4L485.1 659L487.3 658.4L489.6 659.3L491.9 659.1L494.2 659.4L496.4 658.7L498.7 659.6L501 659.1L503.2 659.7L505.3 659.5L507.5 660.9L509.7 661.4L511.9 661.4L514 662L516.2 661.8L514 656L511.9 655L509.7 654L507.6 653L505.5 652L503.3 651L501.2 650L498.9 649.4L496.6 649.3L494.2 649.2L491.9 649.1L489.5 649L487.2 648.9L484.8 648.7L482.5 648.6L480.1 648.5L477.8 648.6L475.4 648.6L473.1 648.7L470.7 648.8L468.3 648.8L466 648.9L463.6 649L461.3 649.1L458.9 649.3L456.6 649.5L454.2 649.7L451.9 649.9L449.6 650.1L447.2 650.3L444.9 650.6L442.5 650.8L440.2 651L437.9 651.6L435.6 652.2L433.4 652.8L431.1 653.5L428.8 654.1L426.5 654.7L424.3 655.4L422 656Z" fill="#ff7000" fill-opacity="0.8"/>
<path d="M430.3 666.8L428.7 664.3M432.5 666.4L431 663.8M435.8 667.2L434.3 664.5M437.6 666.1L436 663.2M441.4 667.3L439.8 664.3M443.1 667.8L441.7 665M446.4 667.4L444.9 664.1M448.4 665.1L446.9 661.7M450.5 667.3L449.1 663.9M452.4 668.5L451 665M455.5 667.1L454.3 664.2M457.6 666.3L456.3 662.7M461.2 668.6L459.9 664.9M462.1 667.6L461 664.6M464.3 666.8L463.1 663.1M466.6 667.1L465.3 663.4M469.9 666.3L468.7 662.6M471.4 666.6L470.2 662.9M474.7 664.7L473.6 661M477.2 666.4L476.1 662.6M480.6 664.7L479.5 661M483.4 667.5L482.4 663.7M484.4 666.5L483.5 662.8M487.8 665.2L486.9 661.5M490.5 666.6L489.6 663.1M493 666.8L492.1 663.1M494.7 666.5L493.9 662.9M496.3 666.8L495.6 663.6M500.4 666.9L499.6 663.3M501.1 667.3L500.5 664.1M504.1 665.4L503.3 661.9M506 666.7L505.3 663.5M509.1 667.3L508.4 664.3M512.4 667.1L511.6 664.3M513.3 666.3L512.6 664M516.3 665.4L515.5 663" stroke="#40ff0a" stroke-width="0.7" fill="none" stroke-dasharray="1.5 0.8"/>
<path d="M428.3 663.7L427.1 661.8M430.6 663.2L429.4 661.2M433.9 663.8L432.7 661.7M435.6 662.5L434.5 660.3M439.4 663.5L438.3 661.2M441.3 664.2L440.2 661.8M444.5 663.2L443.4 660.8M446.6 660.9L445.5 658.3M448.7 663L447.6 660.4M450.7 664.1L449.6 661.5M454 663.3L453 660.7M455.9 661.8L454.9 659.1M459.5 664L458.5 661.2M460.7 663.6L459.7 660.9M462.8 662.1L461.8 659.3M465 662.4L464.1 659.6M468.4 661.6L467.6 658.8M469.9 661.9L469.1 659.1M473.4 660L472.5 657.2M475.9 661.7L475.1 658.8M479.3 660L478.5 657.2M482.1 662.8L481.4 659.9M483.2 661.8L482.5 659M486.7 660.5L486 657.7M489.4 662.2L488.7 659.4M491.9 662.2L491.3 659.5M493.7 662L493.1 659.3M495.4 662.7L494.8 660M499.4 662.5L498.8 659.8M500.3 663.2L499.7 660.6M503.2 661.1L502.6 658.5M505.1 662.7L504.5 660.3M508.2 663.5L507.6 661.3M511.4 663.6L510.8 661.4M512.4 663.4L511.8 661.4M515.3 662.4L514.7 660.6" stroke="#0000f5" stroke-width="0.6" fill="none" stroke-dasharray="1.2 1"/>
<path d="M426.3 660.6L424.7 658.1M428.6 659.9L427 657.3M431.9 660.4L430.4 657.6M433.7 658.9L432.1 656M437.5 659.7L436 656.7M439.4 660.2L437.9 657.1M442.6 659.1L441.1 655.8M444.7 656.6L443.2 653.2M446.9 658.7L445.5 655.2M448.9 659.7L447.5 656.2M452.3 658.9L450.9 655.3M454.2 657.3L452.9 653.7M457.9 659.4L456.6 655.8M459.1 659L457.8 655.3M461.2 657.5L459.9 653.8M463.5 657.7L462.3 654M467 656.9L465.8 653.2M468.5 657.2L467.3 653.4M472 655.3L470.8 651.6M474.5 657L473.4 653.2M478 655.3L476.9 651.5M480.9 658L479.9 654.3M482 657.1L481 653.3M485.5 655.9L484.5 652.1M488.2 657.5L487.3 653.8M490.8 657.6L490 654M492.6 657.5L491.8 653.9M494.3 658.2L493.5 654.7M498.4 658L497.7 654.5M499.4 658.8L498.6 655.3M502.3 656.8L501.5 653.4M504.2 658.6L503.4 655.4M507.2 659.7L506.5 656.7M510.4 660L509.7 657.2M511.4 660.1L510.7 657.5M514.3 659.4L513.5 657" stroke="#40ff0a" stroke-width="0.6" fill="none" stroke-dasharray="1.2 1.2"/>
<path d="M424.3 657.5L423.2 655.8M426.6 656.6L425.4 654.7M430 656.9L428.8 654.9M431.8 655.3L430.6 653.1M435.6 655.9L434.5 653.6M437.5 656.3L436.4 653.9M440.8 655L439.6 652.5M442.9 652.3L442.1 650.5M445.1 654.3L444 651.7M447.1 655.3L446.1 652.7M450.5 654.4L449.5 651.8M452.6 652.8L451.5 650.1M456.2 654.9L455.3 652.1M457.5 654.4L456.5 651.7M459.6 652.8L458.7 650M462 653L461.1 650.2M465.5 652.2L464.6 649.4M467.1 652.5L466.2 649.7M470.6 650.6L470 648.6M473.2 652.2L472.4 649.4M476.6 650.6L475.9 647.8M479.6 653.3L478.8 650.5M480.8 652.4L480 649.5M484.3 651.2L483.6 648.4M487.1 652.9L486.4 650.1M489.7 653.1L489.1 650.3M491.6 653L491 650.3M493.3 653.8L492.7 651.1M497.5 653.6L496.9 650.9M498.4 654.4L497.9 651.8M501.4 652.5L500.8 649.9M503.2 654.6L502.7 652.2M506.3 656L505.7 653.7M509.5 656.5L508.9 654.4M510.5 656.9L509.9 654.9M513.3 656.4L512.9 655.1" stroke="#5a00ff" stroke-width="0.5" fill="none" stroke-dasharray="1 1.5"/>
<path d="M438 674.6L440.1 674.6L442.1 674.6L444.2 674.6L446.3 674.6L448.3 674.6L450.4 674.6L452.5 674.6L454.5 674.6L456.6 674.6L458.7 674.6L460.7 674.6L462.8 674.6L464.9 674.6L466.9 674.6L469 674.6L471.1 674.6L473.1 674.6L475.2 674.6L477.3 674.6L479.4 674.6L481.4 674.6L483.5 674.6L485.6 674.6L487.6 674.6L489.7 674.6L491.8 674.6L493.8 674.6L495.9 674.6L498 674.6L500 674.6L502.1 674.6L504.2 674.6L506.2 674.6L508.3 674.6L510.4 674.6L512.4 674.6L514.5 674.6L516.6 674.6L518.6 674.6L520.7 674.6L520.2 672.5L518.1 672.9L516.1 672.6L514 673.3L512 673.4L509.9 672.9L507.8 673.3L505.8 672.7L503.7 672.6L501.7 672.6L499.6 672.7L497.6 673.2L495.5 672.7L493.5 673.3L491.4 673.3L489.4 672.5L487.3 673.3L485.2 673.3L483.2 672.9L481.1 672.6L479.1 673.4L477 672.5L475 673L472.9 672.6L470.9 673.4L468.8 672.9L466.8 673L464.7 673.1L462.7 672.6L460.6 673.3L458.5 672.5L456.5 672.9L454.4 673.3L452.4 672.8L450.3 672.6L448.3 673.1L446.2 673.4L444.2 672.7L442.1 672.5L440.1 673.3L438 672.9Z" fill="#0000f5" fill-opacity="0.9"/>
<path d="M438 673L440.1 673L442.1 673L444.2 673.3L446.2 672.5L448.3 673.4L450.3 673.4L452.4 673L454.4 673.2L456.5 672.5L458.5 672.8L460.6 673.2L462.7 673.2L464.7 672.4L466.8 673.3L468.8 672.9L470.9 672.6L472.9 673.4L475 672.6L477 673.2L479.1 672.6L481.1 672.7L483.2 672.9L485.2 672.7L487.3 673.2L489.4 673.4L491.4 672.6L493.5 672.7L495.5 672.7L497.6 673.1L499.6 673L501.7 673.3L503.7 672.7L505.8 673.1L507.8 672.4L509.9 673L512 672.8L514 672.5L516.1 673L518.1 672.5L520.2 673.4L519.8 671.4L517.7 671.2L515.7 671.8L513.6 671.8L511.6 671.9L509.6 671.3L507.5 672.1L505.5 672.1L503.4 671.7L501.4 671.8L499.3 671.2L497.3 671.6L495.2 671.6L493.2 672L491.2 672.1L489.1 671.3L487.1 672L485 671.5L483 671.7L480.9 671.6L478.9 672L476.8 671.3L474.8 671.5L472.8 671.9L470.7 671.4L468.7 672L466.6 672.1L464.6 671.7L462.5 671.4L460.5 671.3L458.4 672L456.4 671.4L454.4 671.3L452.3 671.8L450.3 671.5L448.2 671.5L446.2 672.2L444.1 671.7L442.1 671.3L440 671.3L438 671.8Z" fill="#40ff0a" fill-opacity="0.9"/>
<path d="M438 671.4L440 671.2L442.1 672L444.1 671.8L446.2 671.9L448.2 671.2L450.3 672.1L452.3 671.5L454.4 671.4L456.4 671.6L458.4 672.1L460.5 672.1L462.5 671.7L464.6 672L466.6 671.4L468.7 671.3L470.7 672.2L472.8 671.8L474.8 672.1L476.8 671.3L478.9 671.6L480.9 671.6L483 671.8L485 671.3L487.1 672L489.1 671.3L491.2 671.3L493.2 671.5L495.2 671.7L497.3 671.6L499.3 671.3L501.4 671.8L503.4 671.7L505.5 672L507.5 671.8L509.6 671.7L511.6 671.7L513.6 671.7L515.7 671.6L517.7 671.3L519.8 671.2L519.4 670.2L517.4 670.2L515.4 670.4L513.3 670.9L511.3 670.8L509.3 670.6L507.2 670.4L505.2 670.7L503.2 670.4L501.1 670.2L499.1 670.3L497 670.7L495 670.7L493 670.2L490.9 671.1L488.9 670.6L486.9 670.3L484.8 670.8L482.8 670.3L480.8 670.4L478.7 670.7L476.7 670.7L474.7 670.9L472.6 671L470.6 670.2L468.5 670.9L466.5 670.5L464.5 670.8L462.4 670.3L460.4 671L458.4 671L456.3 670.7L454.3 670.7L452.3 670.9L450.2 671.1L448.2 670.2L446.1 670.3L444.1 670.6L442.1 670.5L440 670.9L438 670.7Z" fill="#ffff00" fill-opacity="0.9"/>
<path d="M438 670.8L440 670.8L442.1 670.5L444.1 671L446.1 670.4L448.2 670.6L450.2 670.8L452.3 670.3L454.3 670.6L456.3 670.4L458.4 670.8L460.4 670.3L462.4 670.6L464.5 670.9L466.5 670.8L468.5 671.1L470.6 670.6L472.6 670.7L474.7 670.3L476.7 670.5L478.7 670.9L480.8 671.1L482.8 670.5L484.8 670.3L486.9 670.8L488.9 670.2L490.9 670.4L493 670.2L495 670.8L497 670.9L499.1 670.3L501.1 670.9L503.2 670.5L505.2 670.6L507.2 670.7L509.3 670.7L511.3 670.7L513.3 670.5L515.4 670.6L517.4 671L519.4 670.4L518.3 667L516.3 667L514.3 667L512.3 667L510.3 667L508.3 667L506.2 667L504.2 667L502.2 667L500.2 667L498.2 667L496.2 667L494.2 667L492.2 667L490.2 667L488.2 667L486.2 667L484.2 667L482.2 667L480.2 667L478.1 667L476.1 667L474.1 667L472.1 667L470.1 667L468.1 667L466.1 667L464.1 667L462.1 667L460.1 667L458.1 667L456.1 667L454.1 667L452.1 667L450 667L448 667L446 667L444 667L442 667L440 667L438 667Z" fill="#ff7000" fill-opacity="0.9"/>
<path d="M438 682.2L440.1 682.2L442.2 682.2L444.3 682.2L446.4 682.2L448.4 682.2L450.5 682.2L452.6 682.2L454.7 682.2L456.8 682.2L458.9 682.2L461 682.2L463.1 682.2L465.1 682.2L467.2 682.2L469.3 682.2L471.4 682.2L473.5 682.2L475.6 682.2L477.7 682.2L479.8 682.2L481.8 682.2L483.9 682.2L486 682.2L488.1 682.2L490.2 682.2L492.3 682.2L494.4 682.2L496.4 682.2L498.5 682.2L500.6 682.2L502.7 682.2L504.8 682.2L506.9 682.2L509 682.2L511.1 682.2L513.1 682.2L515.2 682.2L517.3 682.2L519.4 682.2L521.5 682.2L521.3 680.9L519.2 680.9L517.2 680.2L515.1 680.6L513 680.6L510.9 680.3L508.8 680.1L506.7 681L504.7 680.7L502.6 680.9L500.5 680.2L498.4 680.7L496.3 680.2L494.2 680.8L492.2 680.8L490.1 680.2L488 680.9L485.9 680.9L483.8 680.1L481.7 680.8L479.7 680.1L477.6 680.6L475.5 680.7L473.4 680.2L471.3 680.8L469.2 680.2L467.2 680.2L465.1 680.5L463 680.9L460.9 680.7L458.8 680.8L456.7 680.6L454.7 680.8L452.6 680.4L450.5 680.6L448.4 680.7L446.3 680.6L444.2 680.9L442.2 680.2L440.1 680.3L438 680.4Z" fill="#0000f5" fill-opacity="0.9"/>
<path d="M438 680.3L440.1 680.7L442.2 680.7L444.2 680.4L446.3 680.2L448.4 680.8L450.5 680.8L452.6 680.9L454.7 680.3L456.7 680.1L458.8 680.9L460.9 680.8L463 680.7L465.1 680.9L467.2 680.8L469.2 680.4L471.3 681L473.4 680.5L475.5 680.7L477.6 680.5L479.7 680.3L481.7 680.7L483.8 680.9L485.9 681L488 680.9L490.1 680.8L492.2 680.2L494.2 680.2L496.3 680.1L498.4 680.6L500.5 680.4L502.6 680.7L504.7 681L506.7 680.7L508.8 680.5L510.9 680.9L513 680.1L515.1 681L517.2 680.5L519.2 680.2L521.3 680.8L521.2 678.9L519.1 679.5L517 679.5L515 679.5L512.9 679.4L510.8 679.6L508.7 679.8L506.6 679.4L504.6 679.4L502.5 678.9L500.4 679L498.3 679L496.2 679L494.2 679.5L492.1 678.8L490 679L487.9 679.6L485.8 679.2L483.8 679.1L481.7 679.1L479.6 679L477.5 679.8L475.4 679.2L473.4 679.5L471.3 679.1L469.2 679.7L467.1 679.4L465 679.5L463 678.9L460.9 678.9L458.8 679.7L456.7 678.9L454.6 679L452.6 679.5L450.5 679.4L448.4 679.2L446.3 679.3L444.2 678.8L442.2 679.3L440.1 679.2L438 679Z" fill="#40ff0a" fill-opacity="0.9"/>
<path d="M438 679.3L440.1 679.2L442.2 679.7L444.2 679.1L446.3 679.7L448.4 679.6L450.5 679.1L452.6 679.1L454.6 679.5L456.7 679.3L458.8 679L460.9 679.3L463 679.3L465 679.6L467.1 679.6L469.2 679.5L471.3 679.6L473.4 679.6L475.4 679.2L477.5 679.7L479.6 679.7L481.7 679L483.8 679.3L485.8 679.6L487.9 678.8L490 679.5L492.1 679L494.2 679.4L496.2 679.3L498.3 679.5L500.4 679L502.5 679.6L504.6 679.7L506.6 679.5L508.7 679.2L510.8 679.6L512.9 679.5L515 679.2L517 678.9L519.1 679.2L521.2 679L521.1 677.9L519 678.6L516.9 678.1L514.9 678.5L512.8 678.5L510.7 678.7L508.6 677.8L506.5 677.9L504.5 678.2L502.4 678.6L500.3 678.2L498.2 677.9L496.2 678.3L494.1 678.4L492 678.3L489.9 678.1L487.9 678.5L485.8 678L483.7 677.8L481.6 678.4L479.5 678.3L477.5 678L475.4 677.9L473.3 678.1L471.2 677.9L469.2 677.8L467.1 678.5L465 677.8L462.9 678.7L460.8 677.8L458.8 677.9L456.7 678.3L454.6 678L452.5 678.5L450.5 678.3L448.4 678.6L446.3 678.4L444.2 677.9L442.2 678.7L440.1 678.4L438 678.3Z" fill="#ffff00" fill-opacity="0.9"/>
<path d="M438 677.8L440.1 678.6L442.2 678.1L444.2 678.7L446.3 678.1L448.4 678.6L450.5 677.9L452.5 678.7L454.6 678.7L456.7 678.6L458.8 678.4L460.8 678.6L462.9 678.7L465 678.7L467.1 678L469.2 678.6L471.2 678.5L473.3 678.1L475.4 677.9L477.5 678.6L479.5 678.2L481.6 678.3L483.7 678.6L485.8 678.2L487.9 678L489.9 678.4L492 678.3L494.1 678L496.2 678.4L498.2 678.7L500.3 678L502.4 678.6L504.5 678.5L506.5 678.3L508.6 677.9L510.7 678.4L512.8 678L514.9 678L516.9 678.6L519 678L521.1 677.8L520.7 674.6L518.6 674.6L516.6 674.6L514.5 674.6L512.4 674.6L510.4 674.6L508.3 674.6L506.2 674.6L504.2 674.6L502.1 674.6L500 674.6L498 674.6L495.9 674.6L493.8 674.6L491.8 674.6L489.7 674.6L487.6 674.6L485.6 674.6L483.5 674.6L481.4 674.6L479.4 674.6L477.3 674.6L475.2 674.6L473.1 674.6L471.1 674.6L469 674.6L466.9 674.6L464.9 674.6L462.8 674.6L460.7 674.6L458.7 674.6L456.6 674.6L454.5 674.6L452.5 674.6L450.4 674.6L448.3 674.6L446.3 674.6L444.2 674.6L442.1 674.6L440.1 674.6L438 674.6Z" fill="#ff7000" fill-opacity="0.9"/>
<path d="M438 689.8L440.1 689.8L442.2 689.8L444.3 689.8L446.4 689.8L448.4 689.8L450.5 689.8L452.6 689.8L454.7 689.8L456.8 689.8L458.9 689.8L461 689.8L463.1 689.8L465.1 689.8L467.2 689.8L469.3 689.8L471.4 689.8L473.5 689.8L475.6 689.8L477.7 689.8L479.8 689.8L481.8 689.8L483.9 689.8L486 689.8L488.1 689.8L490.2 689.8L492.3 689.8L494.4 689.8L496.4 689.8L498.5 689.8L500.6 689.8L502.7 689.8L504.8 689.8L506.9 689.8L509 689.8L511.1 689.8L513.1 689.8L515.2 689.8L517.3 689.8L519.4 689.8L521.5 689.8L521.5 688.3L519.4 688.2L517.3 688.5L515.2 688.2L513.1 688.5L511.1 688.2L509 688L506.9 688.6L504.8 688.2L502.7 688.4L500.6 688.4L498.5 688.2L496.4 688.5L494.4 687.7L492.3 687.7L490.2 688L488.1 688.6L486 687.8L483.9 688L481.8 688.3L479.8 688.4L477.7 687.6L475.6 688.4L473.5 688.2L471.4 687.8L469.3 688.2L467.2 688.3L465.1 687.8L463.1 687.7L461 688.1L458.9 687.8L456.8 687.7L454.7 688L452.6 687.7L450.5 688.5L448.4 688.3L446.4 688.4L444.3 687.9L442.2 687.9L440.1 687.7L438 688.3Z" fill="#0000f5" fill-opacity="0.9"/>
<path d="M438 687.7L440.1 687.9L442.2 687.9L444.3 687.9L446.4 688L448.4 687.8L450.5 688.6L452.6 688.2L454.7 688.4L456.8 688L458.9 688.3L461 688.3L463.1 688.4L465.1 687.7L467.2 687.9L469.3 688.6L471.4 687.9L473.5 688L475.6 688.1L477.7 687.9L479.8 687.9L481.8 688.5L483.9 687.8L486 688.1L488.1 687.7L490.2 688.3L492.3 688.1L494.4 688L496.4 688.2L498.5 688.5L500.6 688.3L502.7 688.2L504.8 688.3L506.9 688.1L509 688.6L511.1 687.9L513.1 687.8L515.2 688.5L517.3 688.3L519.4 687.8L521.5 688.2L521.5 687.2L519.4 687.2L517.3 687L515.2 686.7L513.1 687.3L511.1 686.9L509 687.3L506.9 686.9L504.8 686.5L502.7 686.7L500.6 687.1L498.5 686.4L496.4 687.4L494.4 687.4L492.3 686.5L490.2 687.2L488.1 686.5L486 686.5L483.9 687.4L481.8 686.8L479.8 687L477.7 687L475.6 686.7L473.5 687.3L471.4 687.1L469.3 687.3L467.2 686.6L465.1 686.7L463.1 686.6L461 687.3L458.9 687L456.8 687.4L454.7 686.6L452.6 686.6L450.5 687.1L448.4 686.7L446.4 686.8L444.3 687L442.2 686.5L440.1 686.5L438 686.6Z" fill="#40ff0a" fill-opacity="0.9"/>
<path d="M438 686.9L440.1 686.7L442.2 687.3L444.3 687.2L446.4 686.5L448.4 687.4L450.5 686.9L452.6 687.2L454.7 686.5L456.8 687L458.9 687.3L461 686.6L463.1 687.1L465.1 686.7L467.2 687.1L469.3 686.9L471.4 686.6L473.5 687L475.6 686.6L477.7 687L479.8 687.3L481.8 686.5L483.9 687.1L486 686.5L488.1 687L490.2 687.2L492.3 686.6L494.4 686.8L496.4 686.9L498.5 687.1L500.6 686.5L502.7 686.8L504.8 686.7L506.9 686.9L509 686.7L511.1 687.3L513.1 687.3L515.2 686.5L517.3 687.2L519.4 687.3L521.5 686.6L521.5 685.8L519.4 686.2L517.3 686.3L515.2 686.3L513.1 685.9L511.1 685.8L509 685.6L506.9 685.8L504.8 685.5L502.7 686.2L500.6 685.8L498.5 686.3L496.4 686.1L494.4 685.8L492.3 685.4L490.2 686.2L488.1 685.8L486 686.3L483.9 685.6L481.8 685.6L479.8 686.2L477.7 685.6L475.6 685.4L473.5 685.6L471.4 685.7L469.3 685.5L467.2 685.8L465.1 686.3L463.1 685.5L461 685.9L458.9 685.8L456.8 685.6L454.7 685.8L452.6 686.1L450.5 685.4L448.4 685.4L446.4 686.2L444.3 685.7L442.2 686.2L440.1 685.4L438 685.3Z" fill="#ffff00" fill-opacity="0.9"/>
<path d="M438 685.6L440.1 685.7L442.2 685.4L444.3 685.7L446.4 686.3L448.4 685.6L450.5 686.1L452.6 685.8L454.7 685.8L456.8 686.3L458.9 686.3L461 685.9L463.1 686.1L465.1 685.5L467.2 685.6L469.3 686.3L471.4 685.9L473.5 685.9L475.6 686.1L477.7 685.4L479.8 685.9L481.8 685.9L483.9 686.2L486 685.5L488.1 686.3L490.2 685.4L492.3 685.5L494.4 685.9L496.4 686L498.5 685.6L500.6 685.5L502.7 686.2L504.8 685.6L506.9 685.9L509 686L511.1 685.8L513.1 685.9L515.2 685.9L517.3 686.3L519.4 685.6L521.5 686.1L521.5 682.2L519.4 682.2L517.3 682.2L515.2 682.2L513.1 682.2L511.1 682.2L509 682.2L506.9 682.2L504.8 682.2L502.7 682.2L500.6 682.2L498.5 682.2L496.4 682.2L494.4 682.2L492.3 682.2L490.2 682.2L488.1 682.2L486 682.2L483.9 682.2L481.8 682.2L479.8 682.2L477.7 682.2L475.6 682.2L473.5 682.2L471.4 682.2L469.3 682.2L467.2 682.2L465.1 682.2L463.1 682.2L461 682.2L458.9 682.2L456.8 682.2L454.7 682.2L452.6 682.2L450.5 682.2L448.4 682.2L446.4 682.2L444.3 682.2L442.2 682.2L440.1 682.2L438 682.2Z" fill="#ff7000" fill-opacity="0.9"/>
<path d="M438 697.4L440.1 697.4L442.3 697.4L444.4 697.4L446.6 697.4L448.7 697.4L450.8 697.4L453 697.4L455.1 697.4L457.3 697.4L459.4 697.4L461.6 697.4L463.7 697.4L465.8 697.4L468 697.4L470.1 697.4L472.3 697.4L474.4 697.4L476.5 697.4L478.7 697.4L480.8 697.4L483 697.4L485.1 697.4L487.3 697.4L489.4 697.4L491.5 697.4L493.7 697.4L495.8 697.4L498 697.4L500.1 697.4L502.2 697.4L504.4 697.4L506.5 697.4L508.7 697.4L510.8 697.4L513 697.4L515.1 697.4L517.2 697.4L519.4 697.4L521.5 697.4L523.7 697.4L523.2 695.9L521.1 695.3L518.9 695.9L516.8 696.2L514.7 695.8L512.5 696.1L510.4 695.3L508.3 695.8L506.1 696.1L504 695.5L501.9 696.1L499.8 696.2L497.6 695.3L495.5 695.3L493.4 695.6L491.2 695.8L489.1 695.7L487 695.8L484.9 696L482.7 695.7L480.6 695.7L478.5 695.3L476.3 695.6L474.2 696L472.1 696.1L469.9 695.4L467.8 695.7L465.7 696L463.6 695.8L461.4 696.1L459.3 695.6L457.2 695.7L455 695.2L452.9 695.7L450.8 695.7L448.6 696L446.5 695.9L444.4 695.7L442.3 695.4L440.1 695.9L438 695.3Z" fill="#0000f5" fill-opacity="0.9"/>
<path d="M438 696L440.1 695.6L442.3 695.9L444.4 696.1L446.5 695.3L448.6 695.6L450.8 695.8L452.9 695.8L455 695.7L457.2 696.2L459.3 695.3L461.4 695.8L463.6 695.4L465.7 695.9L467.8 696L469.9 695.8L472.1 695.3L474.2 696.1L476.3 695.4L478.5 696.2L480.6 696.1L482.7 695.9L484.9 696.2L487 696.1L489.1 695.6L491.2 695.3L493.4 696.2L495.5 695.9L497.6 695.5L499.8 696.1L501.9 695.6L504 695.4L506.1 695.9L508.3 695.9L510.4 695.4L512.5 695.4L514.7 696.2L516.8 695.7L518.9 695.3L521.1 695.8L523.2 696.1L522.8 694.9L520.7 694.5L518.6 694.6L516.5 694.1L514.4 694.2L512.2 694.4L510.1 694.2L508 695L505.9 695L503.7 694.8L501.6 694.2L499.5 694.3L497.4 694.6L495.3 694.6L493.1 694.4L491 694.2L488.9 694.7L486.8 694.9L484.7 694.7L482.5 694.5L480.4 694.3L478.3 694.9L476.2 694.7L474.1 695L471.9 694L469.8 694.5L467.7 694.1L465.6 694.2L463.5 694.1L461.3 694.1L459.2 695L457.1 694.7L455 694.8L452.8 694.1L450.7 695L448.6 694.2L446.5 694.6L444.4 694.8L442.2 694.2L440.1 694.5L438 694.9Z" fill="#40ff0a" fill-opacity="0.9"/>
<path d="M438 695L440.1 694.3L442.2 694.8L444.4 694L446.5 694.1L448.6 694.2L450.7 694L452.8 694.3L455 694.1L457.1 694.7L459.2 694.1L461.3 694.7L463.5 694.7L465.6 694.7L467.7 694.2L469.8 694.5L471.9 694.3L474.1 694.3L476.2 694.5L478.3 694.8L480.4 694.9L482.5 694.7L484.7 694.6L486.8 694.9L488.9 694.8L491 694L493.1 694.9L495.3 694.9L497.4 694.2L499.5 694.6L501.6 694.5L503.7 694.5L505.9 694.3L508 694.5L510.1 694.2L512.2 694.4L514.4 694.8L516.5 694.5L518.6 694.8L520.7 694.5L522.8 695L522.5 693.2L520.4 693.3L518.3 693.2L516.2 693.3L514.1 693.6L512 693.3L509.9 693.8L507.7 693.2L505.6 693.3L503.5 693.4L501.4 693.2L499.3 693.7L497.2 693.9L495.1 693.8L492.9 693.6L490.8 693.1L488.7 693.6L486.6 693.6L484.5 693.2L482.4 693.5L480.3 693.6L478.2 693.5L476 693.9L473.9 693.4L471.8 693.6L469.7 693.6L467.6 693.7L465.5 693.1L463.4 693L461.2 693.2L459.1 693.2L457 693.1L454.9 693.5L452.8 693.2L450.7 693.3L448.6 693.4L446.5 693.6L444.3 693.6L442.2 693.1L440.1 693.1L438 693.5Z" fill="#ffff00" fill-opacity="0.9"/>
<path d="M438 693.5L440.1 693.5L442.2 693L444.3 693.1L446.5 693.8L448.6 693.7L450.7 693.2L452.8 693.1L454.9 693.9L457 693.5L459.1 693.7L461.2 693.9L463.4 693.2L465.5 693.4L467.6 693.9L469.7 693.1L471.8 693.2L473.9 693.8L476 693.8L478.2 693.5L480.3 693.1L482.4 693.8L484.5 693.3L486.6 693.7L488.7 693.2L490.8 693.1L492.9 693.6L495.1 693.3L497.2 693.3L499.3 693.4L501.4 693.4L503.5 693.4L505.6 693.6L507.7 693.1L509.9 693.6L512 693.4L514.1 693.8L516.2 693.2L518.3 693.6L520.4 693.2L522.5 693.6L521.5 689.8L519.4 689.8L517.3 689.8L515.2 689.8L513.1 689.8L511.1 689.8L509 689.8L506.9 689.8L504.8 689.8L502.7 689.8L500.6 689.8L498.5 689.8L496.4 689.8L494.4 689.8L492.3 689.8L490.2 689.8L488.1 689.8L486 689.8L483.9 689.8L481.8 689.8L479.8 689.8L477.7 689.8L475.6 689.8L473.5 689.8L471.4 689.8L469.3 689.8L467.2 689.8L465.1 689.8L463.1 689.8L461 689.8L458.9 689.8L456.8 689.8L454.7 689.8L452.6 689.8L450.5 689.8L448.4 689.8L446.4 689.8L444.3 689.8L442.2 689.8L440.1 689.8L438 689.8Z" fill="#ff7000" fill-opacity="0.9"/>
<path d="M427.6 657.7L429.8 655.9M429.4 658L431.6 656.2M430.9 658.1L433.1 656.3M432.4 657.8L434.6 656M434.3 657.6L436.5 655.8M436 658.1L438.2 656.3M437.5 657.7L439.7 655.9M438.7 658L440.9 656.2M440.5 658.2L442.7 656.4M441.8 657.9L444 656.1M443.4 658L445.6 656.2M445.5 658.1L447.7 656.3" stroke="#0000f5" stroke-width="0.9" fill="none" stroke-dasharray="1.5 0.4"/>
<path d="M425.1 660.1L427.3 658.3M426.7 660.6L428.9 658.8M428.6 660.3L430.8 658.5M429.8 660.4L432 658.6M431.5 660.6L433.7 658.8M433.2 660.5L435.4 658.7M434.8 660.3L437 658.5M435.9 660.3L438.1 658.5M437.5 660.4L439.7 658.6M439.3 660.4L441.5 658.6M440.6 660.2L442.8 658.4M442.4 660.5L444.6 658.7M443.6 660L445.8 658.2M445 660.2L447.2 658.4" stroke="#40ff0a" stroke-width="0.9" fill="none" stroke-dasharray="1.5 0.4"/>
<path d="M422.9 662.7L425.1 660.9M424.6 662.9L426.8 661.1M426.3 662.9L428.5 661.1M427.7 662.9L429.9 661.1M429.4 662.8L431.6 661M431.1 662.8L433.3 661M432.3 662.7L434.5 660.9M433.9 662.6L436.1 660.8M435.9 662.8L438.1 661M437.5 662.9L439.7 661.1M438.8 662.4L441 660.6M440.6 662.5L442.8 660.7M441.9 662.8L444.1 661M443.3 662.8L445.5 661M445.1 663L447.3 661.2" stroke="#ffff00" stroke-width="0.9" fill="none" stroke-dasharray="1.5 0.4"/>
<path d="M420.5 665.1L422.7 663.3M421.7 664.9L423.9 663.1M423.2 664.9L425.4 663.1M424.7 665.1L426.9 663.3M426.6 665L428.8 663.2M428.2 665.3L430.4 663.5M429.8 665.4L432 663.6M431 665L433.2 663.2M432.6 665.3L434.8 663.5M434 664.9L436.2 663.1M435.6 664.8L437.8 663M437.3 664.8L439.5 663M438.8 665L441 663.2M440.7 665.4L442.9 663.6M442.1 665.4L444.3 663.6M443.7 665.2L445.9 663.4M445.5 665L447.7 663.2" stroke="#ff7000" stroke-width="0.9" fill="none" stroke-dasharray="1.5 0.4"/>
<path d="M417.5 667.3L419.7 665.5M419 667.2L421.2 665.4M420.9 667.5L423.1 665.7M422.4 667.2L424.6 665.4M423.6 667.8L425.8 666M425.4 667.6L427.6 665.8M426.7 667.6L428.9 665.8M428.1 667.6L430.3 665.8M429.9 667.4L432.1 665.6M431.3 667.7L433.5 665.9M432.9 667.7L435.1 665.9M434.7 667.2L436.9 665.4M435.8 667.3L438 665.5M437.3 667.7L439.5 665.9M439.3 667.7L441.5 665.9M440.9 667.5L443.1 665.7M441.9 667.6L444.1 665.8M444 667.6L446.2 665.8M445.3 667.6L447.5 665.8" stroke="#ff7000" stroke-width="0.9" fill="none" stroke-dasharray="1.5 0.4"/>
<path d="M414.9 669.9L417.1 668.1M416.3 670.2L418.5 668.4M417.8 669.7L420 667.9M419.1 669.8L421.3 668M420.9 669.9L423.1 668.1M422.5 669.8L424.7 668M423.8 669.7L426 667.9M425.7 670L427.9 668.2M427 669.9L429.2 668.1M428.6 670L430.8 668.2M430 669.6L432.2 667.8M431.5 670L433.7 668.2M433 669.9L435.2 668.1M434.3 669.7L436.5 667.9M436.1 669.6L438.3 667.8M437.6 669.9L439.8 668.1M439.2 669.7L441.4 667.9M440.8 670L443 668.2M442.2 670.2L444.4 668.4M443.7 670.1L445.9 668.3M445.1 670.2L447.3 668.4" stroke="#40ff0a" stroke-width="0.9" fill="none" stroke-dasharray="1.5 0.4"/>
<path d="M412.6 672.5L414.8 670.7M414.1 672.5L416.3 670.7M415.9 672L418.1 670.2M417.2 672.2L419.4 670.4M418.8 672.3L421 670.5M420.5 672.6L422.7 670.8M421.9 672.4L424.1 670.6M423.8 672.5L426 670.7M425.1 672L427.3 670.2M426.6 672.5L428.8 670.7M428.5 672.4L430.7 670.6M429.8 672.6L432 670.8M431.5 672.4L433.7 670.6M433 672.1L435.2 670.3M434.6 672L436.8 670.2M435.9 672.4L438.1 670.6M437.8 672.2L440 670.4M439.1 672.1L441.3 670.3M440.9 672.5L443.1 670.7M442.2 672.2L444.4 670.4M443.5 672.3L445.7 670.5M445 672.6L447.2 670.8" stroke="#0000f5" stroke-width="0.9" fill="none" stroke-dasharray="1.5 0.4"/>
<path d="M410.5 674.9L412.7 673.1M412.3 674.9L414.5 673.1M413.7 674.4L415.9 672.6M415.3 674.6L417.5 672.8M416.6 674.8L418.8 673M418 674.6L420.2 672.8M419.6 674.5L421.8 672.7M421 674.7L423.2 672.9M422.8 674.5L425 672.7M424.2 674.9L426.4 673.1M425.8 674.7L428 672.9M427 674.4L429.2 672.6M428.7 674.5L430.9 672.7M430.3 674.5L432.5 672.7M432 675L434.2 673.2M432.9 674.8L435.1 673M434.9 674.4L437.1 672.6M436.4 674.9L438.6 673.1M437.7 674.9L439.9 673.1M439.3 674.7L441.5 672.9M440.8 674.6L443 672.8M442.2 674.8L444.4 673M443.8 674.6L446 672.8M445.5 674.5L447.7 672.7" stroke="#3030ff" stroke-width="0.9" fill="none" stroke-dasharray="1.5 0.4"/>
<path d="M408.9 677.3L411.1 675.5M410.2 677.1L412.4 675.3M412.1 676.8L414.3 675M413.3 676.8L415.5 675M415.2 677L417.4 675.2M416.7 676.8L418.9 675M417.9 676.8L420.1 675M419.8 677.1L422 675.3M421.1 677L423.3 675.2M422.8 677L425 675.2M423.9 677.1L426.1 675.3M425.6 676.9L427.8 675.1M427.3 677.3L429.5 675.5M428.9 677.1L431.1 675.3M430 676.8L432.2 675M431.9 677.3L434.1 675.5M433.2 677L435.4 675.2M434.4 676.8L436.6 675M436.1 677.4L438.3 675.6M437.4 677.2L439.6 675.4M439.5 677.2L441.7 675.4M440.6 676.8L442.8 675M442.3 677L444.5 675.2M443.9 677L446.1 675.2M445.5 677.2L447.7 675.4" stroke="#40ff0a" stroke-width="0.9" fill="none" stroke-dasharray="1.5 0.4"/>
<path d="M411.7 679.3L413.9 677.5M413.2 679.7L415.4 677.9M414.8 679.6L417 677.8M416.6 679.5L418.8 677.7M417.9 679.3L420.1 677.5M419.3 679.4L421.5 677.6M420.7 679.6L422.9 677.8M422.3 679.8L424.5 678M424.1 679.5L426.3 677.7M425.3 679.2L427.5 677.4M427.3 679.5L429.5 677.7M428.8 679.6L431 677.8M430 679.3L432.2 677.5M431.4 679.7L433.6 677.9M433.4 679.8L435.6 678M434.3 679.2L436.5 677.4M436.3 679.2L438.5 677.4M437.4 679.4L439.6 677.6M439.1 679.5L441.3 677.7M440.9 679.2L443.1 677.4M442.1 679.4L444.3 677.6M443.6 679.6L445.8 677.8M445 679.7L447.2 677.9" stroke="#ff7000" stroke-width="0.9" fill="none" stroke-dasharray="1.5 0.4"/>
<path d="M414.4 681.9L416.6 680.1M416.3 682L418.5 680.2M417.8 681.9L420 680.1M419.2 681.6L421.4 679.8M421 681.8L423.2 680M422.4 681.7L424.6 679.9M423.6 681.8L425.8 680M425.6 681.7L427.8 679.9M426.9 682.1L429.1 680.3M428.2 682L430.4 680.2M429.6 681.8L431.8 680M431.5 681.7L433.7 679.9M433.2 681.7L435.4 679.9M434.6 682.1L436.8 680.3M436.1 682.2L438.3 680.4M437.7 682.1L439.9 680.3M439 682L441.2 680.2M440.5 682.1L442.7 680.3M442.2 682.1L444.4 680.3M443.9 682L446.1 680.2M445.4 682.1L447.6 680.3" stroke="#0000f5" stroke-width="0.9" fill="none" stroke-dasharray="1.5 0.4"/>
<path d="M418.3 684.1L420.5 682.3M420 684.3L422.2 682.5M421 684.1L423.2 682.3M422.8 684.1L425 682.3M424 684.1L426.2 682.3M425.9 684.2L428.1 682.4M427.1 684.4L429.3 682.6M428.5 684.3L430.7 682.5M430 684.5L432.2 682.7M431.8 684.5L434 682.7M433.2 684.3L435.4 682.5M434.8 684L437 682.2M436.3 684.2L438.5 682.4M437.9 684L440.1 682.2M439 684L441.2 682.2M440.5 684.1L442.7 682.3M442.4 684.2L444.6 682.4M443.7 684.3L445.9 682.5M445.1 684.5L447.3 682.7" stroke="#40ff0a" stroke-width="0.9" fill="none" stroke-dasharray="1.5 0.4"/>
<path d="M422.2 686.8L424.4 685M424.1 686.8L426.3 685M425.5 686.7L427.7 684.9M427 686.8L429.2 685M428.7 686.8L430.9 685M429.9 686.5L432.1 684.7M431.7 686.8L433.9 685M433.1 686.5L435.3 684.7M434.4 686.8L436.6 685M436.2 686.5L438.4 684.7M437.5 686.8L439.7 685M439.3 686.7L441.5 684.9M440.9 686.5L443.1 684.7M442.2 686.8L444.4 685M443.8 686.7L446 684.9M445.5 686.9L447.7 685.1" stroke="#ffff00" stroke-width="0.9" fill="none" stroke-dasharray="1.5 0.4"/>
<path d="M426.9 689.1L429.1 687.3M428.3 688.9L430.5 687.1M429.8 688.9L432 687.1M431.5 689.3L433.7 687.5M432.6 688.9L434.8 687.1M434.1 688.9L436.3 687.1M435.7 689.1L437.9 687.3M437.4 689.2L439.6 687.4M439 689.3L441.2 687.5M440.8 688.9L443 687.1M442.2 689.4L444.4 687.6M443.7 689L445.9 687.2M445.1 689.4L447.3 687.6" stroke="#ff7000" stroke-width="0.9" fill="none" stroke-dasharray="1.5 0.4"/>
<path d="M437 712L438.3 712.4L439.6 712.8L440.9 713.2L442.1 713.6L443.4 714L444.7 714.4L446 714.8L447.3 715.2L448.6 715.6L449.8 716L451.2 716.1L452.5 716.1L453.9 716.2L455.2 716.3L456.5 716.3L457.9 716.4L459.2 716.5L460.6 716.5L461.9 716.6L463.3 716.7L464.6 716.7L465.9 716.8L467.3 716.9L468.6 716.9L470 717L471.3 716.9L472.6 716.8L474 716.7L475.3 716.6L476.7 716.5L478 716.4L479.3 716.3L480.7 716.2L482 716.1L483.4 716L484.7 715.9L486 715.7L487.3 715.4L488.7 715.2L490 715L494 690.5L492.4 690.5L490.8 690.5L489.2 690.5L487.6 690.5L486 690.5L484.4 690.5L482.8 690.5L481.2 690.5L479.6 690.5L478 690.5L476.4 690.5L474.8 690.5L473.2 690.5L471.6 690.5L470 690.5L468.4 690.5L466.8 690.5L465.2 690.5L463.6 690.5L462 690.5L460.4 690.5L458.8 690.5L457.2 690.5L455.6 690.5L454 690.5L452.4 690.5L450.8 690.5L449.2 690.5L447.6 690.5L446 690.5L444.4 690.5L442.8 690.5L441.2 690.5L439.6 690.5L438 690.5L436.4 690.5L434.8 690.5L433.2 690.5L431.6 690.5L430 690.5Z" fill="#ffffff"/>
<path d="M437 712L438.3 712.4L439.6 712.8L440.9 713.2L442.1 713.6L443.4 714L444.7 714.4L446 714.8L447.3 715.2L448.6 715.6L449.8 716L451.2 716.1L452.5 716.1L453.9 716.2L455.2 716.3L456.5 716.3L457.9 716.4L459.2 716.5L460.6 716.5L461.9 716.6L463.3 716.7L464.6 716.7L465.9 716.8L467.3 716.9L468.6 716.9L470 717L471.3 716.9L472.6 716.8L474 716.7L475.3 716.6L476.7 716.5L478 716.4L479.3 716.3L480.7 716.2L482 716.1L483.4 716L484.7 715.9L486 715.7L487.3 715.4L488.7 715.2L490 715L494 690.5L492.4 690.5L490.8 690.5L489.2 690.5L487.6 690.5L486 690.5L484.4 690.5L482.8 690.5L481.2 690.5L479.6 690.5L478 690.5L476.4 690.5L474.8 690.5L473.2 690.5L471.6 690.5L470 690.5L468.4 690.5L466.8 690.5L465.2 690.5L463.6 690.5L462 690.5L460.4 690.5L458.8 690.5L457.2 690.5L455.6 690.5L454 690.5L452.4 690.5L450.8 690.5L449.2 690.5L447.6 690.5L446 690.5L444.4 690.5L442.8 690.5L441.2 690.5L439.6 690.5L438 690.5L436.4 690.5L434.8 690.5L433.2 690.5L431.6 690.5L430 690.5Z" fill="#ff7000" fill-opacity="0.6"/>
<path d="M437.7 711.2L437.2 709.7M433.8 702L433.3 700.5M433.7 699.7L433.2 698.2M439.2 712.3L438.8 710.7M435.7 703.1L435.3 701.5M433.8 696.2L433.4 694.6M434 693.6L433.5 692.1M438.5 703.2L438 701.6M437.9 700.8L437.5 699.3M439.9 703.6L439.5 702M439.1 701.3L438.8 699.7M440.6 704.4L440.2 702.8M439.1 697.4L438.8 695.8M441.9 703.7L441.5 702.2M440.3 694.3L440 692.8M439.4 692L439.1 690.5M445.6 713.5L445.3 712M443.9 704.1L443.5 702.6M442.7 701.8L442.3 700.2M446.1 712.1L445.8 710.5M443.6 702.7L443.3 701.1M446.9 705.3L446.6 703.7M445.7 693.4L445.4 691.9M449.2 715L448.9 713.4M451.8 715.7L451.6 714.1M450.4 708.5L450.2 707M448.7 699L448.5 697.5M453 715.1L452.8 713.5M451.5 710.4L451.3 708.8M449.7 698.4L449.5 696.9M451.7 701.8L451.5 700.2M451.2 699.4L451.1 697.8M451.7 697L451.5 695.4M451.4 694.7L451.2 693.1M454.1 715.8L453.9 714.2M453.4 706.3L453.2 704.7M451.8 692L451.6 690.5M455.5 716.1L455.3 714.5M454.3 706.6L454.1 705M453 692.3L452.9 690.7M456.4 701.8L456.2 700.2M456 697L455.8 695.4M455.1 692.2L455 690.6M458.8 713.2L458.6 711.6M458 708.4L457.9 706.8M459.8 711.3L459.7 709.7M460 708.9L459.9 707.4M458.9 699.4L458.7 697.8M458.7 697L458.6 695.4M460.4 710.3L460.3 708.7M460.5 699.3L460.4 697.7M462.7 708.8L462.6 707.2M461.9 706.4L461.9 704.8M462.8 704L462.7 702.4M462.4 692.1L462.3 690.5M464.8 707.2L464.8 705.6M465 695.2L465 693.6M466.6 699.7L466.6 698.1M465.9 692.5L465.9 690.9M468 704.1L468 702.5M468 696.9L467.9 695.3M468.1 694.5L468.1 692.9M468.5 703.8L468.5 702.2M468.5 691.8L468.5 690.5M470.8 708.9L470.8 707.3M470.5 701.7L470.5 700.1M470 692.1L470 690.5M471.1 714.4L471.2 712.8M471.9 707.2L471.9 705.6M471.8 700L471.8 698.4M471.5 697.6L471.5 696M473.3 714.3L473.4 712.7M473.6 709.5L473.7 707.9M474.1 695.1L474.1 693.5M474.5 715.3L474.6 713.7M475 703.3L475 701.7M476.4 711.2L476.5 709.6M476.5 708.8L476.5 707.2M475.7 701.6L475.8 700M477.1 708.7L477.2 707.1M477.6 696.7L477.7 695.1M479.3 699.2L479.4 697.6M480.4 699.1L480.5 697.5M480.5 694.3L480.6 692.7M480 691.9L480.1 690.5M481.3 698.5L481.4 696.9M481.4 707.9L481.6 706.3M484.3 703.8L484.4 702.2M485 696.7L485.2 695.1M484.7 691.9L484.8 690.5M483.9 708L484.1 706.4M485.2 696L485.3 694.4M486.6 715.1L486.8 713.5M486.4 710.4L486.6 708.8M488.8 696.1L489 694.5M487.7 715.1L487.9 713.6M490.4 693.8L490.6 692.2M488.8 713.9L489 712.3M489 711.5L489.2 709.9M490 706.8L490.2 705.2M490.4 702L490.7 700.4" stroke="#ff2a00" stroke-width="1" fill="none"/>
<path d="M434.6 704.3L434.1 702.8M433.1 697.5L432.6 695.9M430.9 692.9L430.4 691.4M430 690.6L429.9 690.5M438.6 710L438.2 708.4M432.8 693.9L432.3 692.3M432.4 691.6L432.1 690.5M438.4 709.8L438 708.2M437.9 707.5L437.5 705.9M436.5 702.9L436 701.3M440.5 712.4L440.1 710.9M437.1 698.5L436.7 697M435.9 693.9L435.5 692.3M435.2 691.6L435 690.5M441.7 710.6L441.3 709M437.1 691.9L436.8 690.5M442.8 711.4L442.4 709.8M440.5 702L440.1 700.5M440.3 699.7L440 698.1M437.7 692.7L437.3 691.1M443.8 710.8L443.5 709.2M442.2 693.2L441.9 691.7M447.2 714.8L446.9 713.2M444.8 700.6L444.5 699.1M447.7 707.7L447.4 706.1M445.9 695.8L445.6 694.2M449.3 710.2L449.1 708.6M448.6 705.5L448.4 703.9M447.6 700.7L447.4 699.1M447.7 698.4L447.4 696.8M446.4 691.2L446.3 690.5M450 706.2L449.7 704.6M449.9 703.8L449.7 702.2M451.9 708L451.7 706.4M450.6 700.8L450.4 699.2M452.6 709L452.4 707.4M452.5 694.4L452.3 692.8M454.8 709L454.6 707.4M456.8 711.3L456.6 709.8M455 694.6L454.9 693M458.9 715.6L458.7 714M457.4 694.1L457.3 692.5M460.2 713.7L460.1 712.1M460.3 703.1L460.2 701.5M460.5 700.7L460.4 699.1M459.8 696L459.7 694.4M459 691.2L458.9 690.5M461.5 711.2L461.4 709.6M460.8 696.9L460.7 695.3M461.9 701.6L461.8 700M461.6 696.8L461.5 695.2M464.7 713.1L464.6 711.5M464.5 710.7L464.5 709.1M463.9 705.9L463.8 704.3M464.1 703.5L464 701.9M463.2 694L463.1 692.4M464.7 712L464.6 710.4M464.4 700L464.4 698.4M464.3 697.6L464.3 696M468.2 713.7L468.2 712.1M468.5 711.3L468.5 709.7M468 706.5L467.9 704.9M467.6 692.1L467.6 690.5M469.7 713.4L469.6 711.8M468.6 711L468.5 709.4M468.5 701.4L468.5 699.8M468.4 696.6L468.4 695M470.8 711.3L470.8 709.7M470.4 706.5L470.5 704.9M470.9 696.9L470.9 695.3M470.5 694.5L470.5 692.9M471 709.6L471 708M471.9 704.8L472 703.2M473.8 697.5L473.8 695.9M475.2 693.7L475.2 692.1M476.1 699.2L476.2 697.6M476.2 715.9L476.3 714.3M476.6 713.5L476.7 711.9M477.3 706.3L477.4 704.7M477 703.9L477.1 702.3M478 716L478.1 714.4M478.2 711.2L478.3 709.6M478.4 708.8L478.5 707.2M479.2 696.8L479.3 695.2M479 715.9L479.1 714.3M478.6 711.1L478.7 709.5M479.9 708.7L480 707.1M480.7 708.1L480.8 706.5M480.6 705.7L480.7 704.1M482.2 698.3L482.4 696.7M482.3 695.9L482.5 694.3M482.9 711L483.1 709.4M484.5 694.3L484.7 692.7M485.8 698.4L485.9 696.8M486.6 703.1L486.8 701.5M485.9 712.7L486.1 711.2M487.5 705.6L487.7 704M488.4 710.4L488.6 708.8M488 708L488.2 706.4M488.7 703.3L488.9 701.7M488.8 709.2L489 707.6M490.1 704.4L490.4 702.8M491.3 699.7L491.5 698.1M491.3 697.3L491.6 695.7M491.8 694.9L492 693.3M492.1 700.8L492.3 699.3M493.8 691.4L493.9 690.5" stroke="#ffffff" stroke-width="1" fill="none"/>
<path d="M436.4 705.4L436 703.8M435.8 698.2L435.4 696.7M441.1 708.3L440.8 706.7M440.3 705.9L439.9 704.4M439.1 698.9L438.7 697.4M437.8 694.3L437.4 692.7M445.1 711.2L444.7 709.6M442.7 699.4L442.4 697.9M445.4 709.7L445.1 708.2M444.8 707.4L444.4 705.8M442.8 695.6L442.5 694M446.1 702.9L445.9 701.3M444.8 691.1L444.7 690.5M447.9 691.9L447.7 690.5M450 696.1L449.8 694.5M453.4 701.5L453.2 699.9M456.9 716.1L456.7 714.5M456 704.2L455.8 702.6M459.4 716.1L459.3 714.5M461.2 712.7L461.1 711.1M461 704L460.9 702.5M460.2 694.5L460.1 692.9M461 692.1L460.9 690.5M462.8 711.2L462.7 709.6M462.5 694.4L462.4 692.9M464.3 715.5L464.3 713.9M466.9 709.3L466.9 707.7M466.5 704.5L466.4 702.9M472.2 702.4L472.2 700.8M473.4 704.7L473.4 703.1M474.8 710.5L474.8 708.9M475.3 700.9L475.4 699.3M476.8 694.4L476.9 692.8M476.1 692L476.2 690.5M477.9 713.6L478 712M479.2 701.6L479.3 700M481.9 712.6L482 711M481.9 705.5L482.1 703.9M483.4 715.1L483.5 713.5M484.3 712.7L484.5 711.1M484.9 703.2L485.1 701.6M484.6 715L484.8 713.4M485.3 712.6L485.5 711M487 693.5L487.2 691.9M487.5 700.8L487.7 699.3M489.4 691.3L489.5 690.5M491.2 691.4L491.4 690.5M489.8 710.3L490 708.7" stroke="#40ff0a" stroke-width="1" fill="none"/>
<path d="M434.4 698.5L434 696.9M440 712.1L439.5 710.6M437.6 705.2L437.1 703.6M433.9 691.3L433.7 690.5M438.9 705.5L438.5 703.9M443.2 713.7L442.8 712.2M441.7 709L441.4 707.5M438.9 695L438.6 693.5M444.9 713.1L444.5 711.6M442.9 708.4L442.6 706.9M440.9 699L440.6 697.5M443.3 706.5L443 704.9M441.3 694.7L441 693.1M442 690.9L441.9 690.5M446.2 710.1L445.9 708.5M446.2 705.4L445.9 703.8M445.1 698.3L444.8 696.7M443.4 691.2L443.3 690.5M449 714.8L448.7 713.2M445.6 698.2L445.4 696.6M448.7 707.8L448.5 706.3M447 696L446.7 694.4M446 693.6L445.8 692M448.9 701.4L448.7 699.8M454.3 716.1L454.1 714.5M453.6 713.7L453.4 712.1M453.1 711.3L452.9 709.7M452.9 706.6L452.8 705M452.7 703.9L452.5 702.3M454.8 711.4L454.6 709.8M454 697L453.8 695.4M459.5 701.8L459.4 700.2M459.8 698.3L459.7 696.7M461.8 713.6L461.7 712M461.5 708.8L461.4 707.2M461.9 706.4L461.8 704.8M463.3 716L463.3 714.4M464.6 708.3L464.5 706.7M463.3 698.8L463.2 697.2M465.4 714.4L465.3 712.8M467.1 714.1L467.1 712.5M466.5 711.7L466.5 710.1M466.1 702.1L466 700.5M466.1 697.3L466.1 695.7M465.9 694.9L465.8 693.3M468.9 694.2L468.8 692.6M470.8 713.7L470.9 712.1M470.4 699.3L470.4 697.7M471.3 712L471.4 710.4M472.3 692.8L472.3 691.2M472.8 716.7L472.8 715.1M473.8 702.3L473.9 700.7M474.9 705.7L475 704.1M474.7 698.5L474.7 696.9M476.6 704L476.6 702.4M477 696.8L477.1 695.2M476.3 711.1L476.3 709.5M477.9 699.1L477.9 697.5M478.8 706.4L478.9 704.8M479.2 692L479.2 690.5M478.6 713.5L478.7 711.9M479.9 703.9L480 702.3M480.1 715.2L480.2 713.6M483.3 691.1L483.4 690.5M484.4 701.4L484.5 699.8M484 710.3L484.1 708.8M485 700.8L485.2 699.2M485.9 693.6L486.1 692M486.5 691.2L486.6 690.5M486.7 698.3L486.8 696.7M487.2 708L487.4 706.4M487.4 703.2L487.6 701.6M488.9 705.6L489.1 704.1M490.2 696.1L490.4 694.5M491.2 703.2L491.5 701.6" stroke="#ffff00" stroke-width="1" fill="none"/>
<path d="M435.4 695.9L435 694.4M453.4 699.4L453.3 697.8M456.8 709L456.7 707.4M458.2 710.8L458.1 709.2M464.4 702.4L464.4 700.8M467.9 708.9L467.9 707.3M477 701.5L477.1 699.9M479.1 706.3L479.3 704.7M480 701.5L480.1 699.9M484.9 699L485.1 697.4M490 715.1L490.3 713.5" stroke="#0000f5" stroke-width="1" fill="none"/>
<path d="M446.5 722.1L445.5 721M453.4 723.5L452.4 722.3M451 721.5L450.1 720.3M454 723.5L453.1 722.3M452.5 721.5L451.6 720.2M448.4 715.4L447.9 714.7M457.7 726.4L456.8 725.2M453.1 716.4L452.5 715.6M457.1 716.8L456.6 715.9M466 728.6L465.2 727.4M461.9 722.2L461.1 720.9M461.3 720.1L460.6 718.8M459.6 717.9L458.8 716.6M468.8 728.2L468 726.9M467 726L466.2 724.7M469.7 726.9L469 725.6M466.7 717.7L466 716.5M469.8 720.6L469.1 719.3M473.2 722.4L472.5 721M471.9 720.1L471.2 718.8M470.9 717.9L470.2 716.6M477 721.8L476.3 720.4M478.1 721L477.4 719.7M482.9 725.3L482.3 724M481.3 720.8L480.7 719.5M479.5 718.6L478.9 717.2M482 718.6L481.3 717.2M481.4 716.3L480.9 715.3M489.8 725.2L489.1 723.9M494.3 725.1L493.6 723.7M493.1 722.8L492.5 721.5M490.7 718.3L490 716.9M490.7 716L490.1 714.6M495.2 720.5L494.6 719.1M492.3 715.9L491.7 714.5M496.5 721.6L495.9 720.3M498.1 718.3L497.5 716.9M496.1 713.7L495.7 712.8M500.8 719.8L500.3 718.4M504.4 722.2L503.9 720.8M502.6 719.9L502.1 718.5" stroke="#ff7000" stroke-width="0.9" fill="none"/>
<path d="M445.7 720.3L444.6 719.2M441.7 716.7L440.7 715.6M441.8 715.1L440.8 714M447 715.6L446.1 714.4M455.3 725.5L454.4 724.3M449.8 717.4L448.9 716.2M455.4 724.4L454.5 723.2M459.2 726.9L458.4 725.7M456.1 718.6L455.3 717.3M461.9 717.4L461.2 716.2M470.2 729.1L469.4 727.8M471.2 722.8L470.5 721.5M472 719.4L471.3 718.1M479 726.3L478.3 724.9M474.7 717.3L474 716M481.4 727.8L480.7 726.4M479 723.3L478.4 721.9M475.7 716.6L475.3 715.7M489.6 727.8L489 726.4M486.7 721L486.1 719.6M492.3 720.5L491.7 719.2M494.5 717.1L493.9 715.7M497.2 716L496.6 714.6M502.5 717.6L501.9 716.2" stroke="#40ff0a" stroke-width="0.9" fill="none"/>
<path d="M440.5 714.9L439.5 713.8M438.1 713L437.5 712.4M446 719.5L445 718.4M443.5 717.7L442.5 716.6M445.3 715.3L444.4 714.1M451.2 719.4L450.3 718.2M454.8 716.5L454.3 715.7M458.9 718.9L458.2 717.6M465.9 720.4L465.2 719.1M464.9 718.2L464.2 716.9M470.4 726.5L469.7 725.2M472 717.2L471.4 716.1M477.3 718.8L476.7 717.5M478.5 716.3L478.1 715.5M486 718.4L485.4 717M486.1 716.1L485.5 714.8" stroke="#0000f5" stroke-width="0.9" fill="none"/>
<path d="M448.4 723.2L447.4 722.1M445.9 718.9L444.9 717.7M451.5 723.1L450.6 721.9M460.5 724.9L459.7 723.7M457.7 720.7L456.9 719.5M467.3 722.5L466.6 721.2M468.5 722.1L467.7 720.8M480.1 728.5L479.4 727.2M475.1 719.5L474.4 718.2M485.9 725.3L485.2 724M491 723.9L490.4 722.5M487.6 717L487 715.7M499.2 720.6L498.6 719.3M500.8 713L500.5 712.2" stroke="#ffff00" stroke-width="0.9" fill="none"/>
<path d="M490.5 714.2L491 712.7M491.3 711.8L491.7 710.2M496.4 692.6L496.8 691M497.4 694.2L497.8 692.7M494.4 710.8L494.9 709.3M497.5 707L497.9 705.4M498.2 704.6L498.7 703M497.1 709L497.5 707.5M503 698.6L503.4 697M504.4 693.8L504.9 692.2M503.3 707.8L503.8 706.3M507.1 693.4L507.6 691.9M505.5 704.9L505.9 703.3M508.3 697.7L508.7 696.1M508.7 695.3L509.1 693.7M510.3 697.1L510.8 695.6M510.8 692.3L511.3 690.8M507.2 707.8L507.7 706.3M512.1 695.3L512.6 693.7M509.4 708.5L509.9 707M514.4 694.2L514.9 692.6M512.3 708.2L512.8 706.7M518.5 692.8L519 691.3M516.9 705.9L517.4 704.4" stroke="#0000f5" stroke-width="1" fill="none"/>
<path d="M491.6 709.4L492 707.8M494.8 699.8L495.2 698.2M495.8 697.4L496.3 695.8M492.7 713.5L493.2 711.9M493.8 710.9L494.3 709.3M494.5 708.5L494.9 706.9M496.4 698.8L496.9 697.3M495.1 708.4L495.5 706.9M496 706L496.5 704.5M498.8 696.4L499.3 694.8M496.9 709.4L497.3 707.8M499 701.8L499.4 700.3M499.9 699.4L500.4 697.9M498.4 710.6L498.9 709.1M499.6 705.8L500 704.3M499.7 703.4L500.2 701.9M503.4 693.8L503.8 692.3M498.5 713L498.9 711.5M503.7 696.2L504.2 694.6M500.5 710.8L500.9 709.3M501.5 711L501.9 709.4M502.1 706.1L502.6 704.6M501.5 712.6L502 711.1M506.9 695.8L507.3 694.3M504.7 710.4L505.1 708.9M505.7 705.6L506.1 704.1M508.8 701.9L509.2 700.4M511.9 697.7L512.3 696.1M514.6 691.8L515 690.5M509.4 712L509.9 710.5M511 707.2L511.5 705.7M514.9 692.8L515.4 691.3M514.1 699.3L514.6 697.8M514.9 696.9L515.4 695.4M514.7 701.1L515.2 699.5M517.3 691.5L517.6 690.5M517.3 698L517.8 696.4M515.5 704.6L516 703.1M519.8 696.8L520.4 695.3M523.3 691.9L523.8 690.5M521 698.3L521.6 696.8" stroke="#ffff00" stroke-width="1" fill="none"/>
<path d="M492.3 707L492.8 705.4M493.8 702.2L494.3 700.6M494.1 706.3L494.5 704.7M496.8 699.1L497.3 697.5M492.4 713.3L492.9 711.7M495.5 703.6L495.9 702.1M498.2 694L498.7 692.5M497.9 701.2L498.4 699.7M499.1 694L499.6 692.4M499.7 691.6L500 690.5M499.3 702.1L499.8 700.6M499 699.7L499.4 698.2M496.6 711.4L497 709.9M499.2 704.2L499.6 702.7M501.3 694.6L501.7 693M502.2 692.2L502.7 690.6M501.1 701L501.5 699.5M501.5 698.6L502 697.1M501.5 703.4L502 701.8M499.3 713.2L499.8 711.7M503.6 698.8L504 697.2M506.3 691.6L506.6 690.5M501.3 708.5L501.7 707M504.1 698.9L504.5 697.4M505.7 696.5L506.1 695M505.7 700.6L506.1 699.1M507.9 691L508.1 690.5M503.9 709.7L504.3 708.1M506.1 702.5L506.6 700.9M508.9 692.9L509.4 691.3M506.6 703.2L507 701.7M509.6 691.2L509.8 690.5M506.4 706.7L506.8 705.2M506.3 712.6L506.7 711.1M510.9 695.8L511.3 694.3M512.1 691L512.2 690.5M508.1 709.6L508.6 708.1M511.2 703.7L511.7 702.2M511.8 701.3L512.2 699.8M511.2 704.8L511.7 703.3M513.5 697.6L514 696.1M510.5 711.3L511 709.8M513.6 701.7L514 700.2M516 694.6L516.5 693M516.5 692.2L517 690.6M514.9 698.7L515.4 697.2M515.4 696.3L515.8 694.8M516.3 700.3L516.7 698.8M518.8 690.8L519 690.5M517.1 699.9L517.6 698.4M516.6 706.2L517.1 704.7M516.6 703.9L517.1 702.3M517.1 701.5L517.7 700M520.2 694.4L520.8 692.9M521.5 691.8L521.9 690.5M518.1 703.6L518.7 702.1M518.8 701.2L519.3 699.7M521.6 694.2L522.2 692.7M518.2 705.3L518.8 703.8M522.7 696L523.3 694.5" stroke="#ff7000" stroke-width="1" fill="none"/>
<path d="M495.5 701.5L496 699.9M496.8 696.7L497.2 695.1M495.3 706L495.8 704.5M499 691.6L499.3 690.5M500.5 697.3L500.9 695.8M498 706.6L498.4 705.1M499 708.2L499.4 706.7M503.1 691.4L503.4 690.5M500.5 708.2L501 706.6M501.2 708.4L501.6 706.9M505.4 694.1L505.9 692.6M506.4 691.7L506.7 690.5M503.7 705.4L504.1 703.9M505.2 698.2L505.7 696.7M505.3 707.3L505.7 705.7M508.2 696L508.7 694.5M505.5 711.5L505.9 710M507.9 704.3L508.4 702.8M509.3 699.5L509.8 698M512.2 693.4L512.7 691.9M509.4 704.9L509.8 703.3M512.7 692.9L513.1 691.3M511.5 702.4L512 700.9M512.9 700L513.4 698.5M511.5 708.9L511.9 707.4M512.9 705.8L513.4 704.3M518.1 693.2L518.6 691.7M515.6 702.3L516.1 700.7M518.5 699.1L519.1 697.6M521.4 692.1L521.9 690.6M521 694.2L521.5 692.7" stroke="#40ff0a" stroke-width="1" fill="none"/>
<path d="M498.7 704.1L498.7 700.6M501.2 703.9L501.2 700.5M503.9 704L503.9 700.7M506.4 703.9L506.4 700.7M508 703.8L508 700.6M510.1 703.9L510.1 700.8M512.9 703L512.9 700.1M514.4 703.3L514.4 700.4M517 703L517 700.2M519.5 703.1L519.5 700.3M521.3 703.6L521.3 700.9M523.9 702.7L523.9 700.2" stroke="#0000f5" stroke-width="0.9" fill="none"/>
<path d="M411.3 642.25l0.95 1.6 1.6 0.95-1.6 0.95-0.95 1.6-0.95-1.6-1.6-0.95 1.6-0.95zM421.2 635.95l0.95 1.6 1.6 0.95-1.6 0.95-0.95 1.6-0.95-1.6-1.6-0.95 1.6-0.95zM420.5 642.55l0.95 1.6 1.6 0.95-1.6 0.95-0.95 1.6-0.95-1.6-1.6-0.95 1.6-0.95zM423.5 640.55l0.95 1.6 1.6 0.95-1.6 0.95-0.95 1.6-0.95-1.6-1.6-0.95 1.6-0.95zM428.6 638.15l0.95 1.6 1.6 0.95-1.6 0.95-0.95 1.6-0.95-1.6-1.6-0.95 1.6-0.95zM432.2 638.45l0.95 1.6 1.6 0.95-1.6 0.95-0.95 1.6-0.95-1.6-1.6-0.95 1.6-0.95zM434.3 644.25l0.95 1.6 1.6 0.95-1.6 0.95-0.95 1.6-0.95-1.6-1.6-0.95 1.6-0.95zM433.8 629.25l0.95 1.6 1.6 0.95-1.6 0.95-0.95 1.6-0.95-1.6-1.6-0.95 1.6-0.95zM438.6 626.55l0.95 1.6 1.6 0.95-1.6 0.95-0.95 1.6-0.95-1.6-1.6-0.95 1.6-0.95zM439.2 633.65l0.95 1.6 1.6 0.95-1.6 0.95-0.95 1.6-0.95-1.6-1.6-0.95 1.6-0.95zM437.5 638.15l0.95 1.6 1.6 0.95-1.6 0.95-0.95 1.6-0.95-1.6-1.6-0.95 1.6-0.95zM443 624.65l0.95 1.6 1.6 0.95-1.6 0.95-0.95 1.6-0.95-1.6-1.6-0.95 1.6-0.95zM442.4 630.25l0.95 1.6 1.6 0.95-1.6 0.95-0.95 1.6-0.95-1.6-1.6-0.95 1.6-0.95zM442.6 634.35l0.95 1.6 1.6 0.95-1.6 0.95-0.95 1.6-0.95-1.6-1.6-0.95 1.6-0.95zM409.7 652.75l0.95 1.6 1.6 0.95-1.6 0.95-0.95 1.6-0.95-1.6-1.6-0.95 1.6-0.95zM447.6 623.15l0.95 1.6 1.6 0.95-1.6 0.95-0.95 1.6-0.95-1.6-1.6-0.95 1.6-0.95zM476.9 621.45l0.95 1.6 1.6 0.95-1.6 0.95-0.95 1.6-0.95-1.6-1.6-0.95 1.6-0.95zM492.5 625.15l0.95 1.6 1.6 0.95-1.6 0.95-0.95 1.6-0.95-1.6-1.6-0.95 1.6-0.95zM495.6 627.55l0.95 1.6 1.6 0.95-1.6 0.95-0.95 1.6-0.95-1.6-1.6-0.95 1.6-0.95zM508.9 632.65l0.95 1.6 1.6 0.95-1.6 0.95-0.95 1.6-0.95-1.6-1.6-0.95 1.6-0.95zM478.7 633.35l0.95 1.6 1.6 0.95-1.6 0.95-0.95 1.6-0.95-1.6-1.6-0.95 1.6-0.95zM483 635.45l0.95 1.6 1.6 0.95-1.6 0.95-0.95 1.6-0.95-1.6-1.6-0.95 1.6-0.95zM495.1 637.75l0.95 1.6 1.6 0.95-1.6 0.95-0.95 1.6-0.95-1.6-1.6-0.95 1.6-0.95zM505.5 638.45l0.95 1.6 1.6 0.95-1.6 0.95-0.95 1.6-0.95-1.6-1.6-0.95 1.6-0.95zM501.2 642.85l0.95 1.6 1.6 0.95-1.6 0.95-0.95 1.6-0.95-1.6-1.6-0.95 1.6-0.95zM465.4 639.15l0.95 1.6 1.6 0.95-1.6 0.95-0.95 1.6-0.95-1.6-1.6-0.95 1.6-0.95zM458.5 641.55l0.95 1.6 1.6 0.95-1.6 0.95-0.95 1.6-0.95-1.6-1.6-0.95 1.6-0.95zM451.6 646.15l0.95 1.6 1.6 0.95-1.6 0.95-0.95 1.6-0.95-1.6-1.6-0.95 1.6-0.95zM471.4 645.65l0.95 1.6 1.6 0.95-1.6 0.95-0.95 1.6-0.95-1.6-1.6-0.95 1.6-0.95zM480.3 647.95l0.95 1.6 1.6 0.95-1.6 0.95-0.95 1.6-0.95-1.6-1.6-0.95 1.6-0.95zM510.4 652.75l0.95 1.6 1.6 0.95-1.6 0.95-0.95 1.6-0.95-1.6-1.6-0.95 1.6-0.95zM518.9 641.05l0.95 1.6 1.6 0.95-1.6 0.95-0.95 1.6-0.95-1.6-1.6-0.95 1.6-0.95zM474.6 707.35l0.95 1.6 1.6 0.95-1.6 0.95-0.95 1.6-0.95-1.6-1.6-0.95 1.6-0.95zM468.5 711.35l0.95 1.6 1.6 0.95-1.6 0.95-0.95 1.6-0.95-1.6-1.6-0.95 1.6-0.95zM470 712.95l0.95 1.6 1.6 0.95-1.6 0.95-0.95 1.6-0.95-1.6-1.6-0.95 1.6-0.95zM477.2 710.85l0.95 1.6 1.6 0.95-1.6 0.95-0.95 1.6-0.95-1.6-1.6-0.95 1.6-0.95zM478.7 709.85l0.95 1.6 1.6 0.95-1.6 0.95-0.95 1.6-0.95-1.6-1.6-0.95 1.6-0.95zM473.1 720.05l0.95 1.6 1.6 0.95-1.6 0.95-0.95 1.6-0.95-1.6-1.6-0.95 1.6-0.95zM475.7 723.65l0.95 1.6 1.6 0.95-1.6 0.95-0.95 1.6-0.95-1.6-1.6-0.95 1.6-0.95zM476.7 724.65l0.95 1.6 1.6 0.95-1.6 0.95-0.95 1.6-0.95-1.6-1.6-0.95 1.6-0.95zM481.8 715.45l0.95 1.6 1.6 0.95-1.6 0.95-0.95 1.6-0.95-1.6-1.6-0.95 1.6-0.95zM481.3 718.55l0.95 1.6 1.6 0.95-1.6 0.95-0.95 1.6-0.95-1.6-1.6-0.95 1.6-0.95zM483.8 722.65l0.95 1.6 1.6 0.95-1.6 0.95-0.95 1.6-0.95-1.6-1.6-0.95 1.6-0.95zM484.9 724.65l0.95 1.6 1.6 0.95-1.6 0.95-0.95 1.6-0.95-1.6-1.6-0.95 1.6-0.95zM483.3 726.75l0.95 1.6 1.6 0.95-1.6 0.95-0.95 1.6-0.95-1.6-1.6-0.95 1.6-0.95zM485.4 727.75l0.95 1.6 1.6 0.95-1.6 0.95-0.95 1.6-0.95-1.6-1.6-0.95 1.6-0.95zM486.4 729.75l0.95 1.6 1.6 0.95-1.6 0.95-0.95 1.6-0.95-1.6-1.6-0.95 1.6-0.95zM458.3 728.75l0.95 1.6 1.6 0.95-1.6 0.95-0.95 1.6-0.95-1.6-1.6-0.95 1.6-0.95zM463.4 727.25l0.95 1.6 1.6 0.95-1.6 0.95-0.95 1.6-0.95-1.6-1.6-0.95 1.6-0.95zM474.1 731.85l0.95 1.6 1.6 0.95-1.6 0.95-0.95 1.6-0.95-1.6-1.6-0.95 1.6-0.95zM482.8 740.05l0.95 1.6 1.6 0.95-1.6 0.95-0.95 1.6-0.95-1.6-1.6-0.95 1.6-0.95zM486.9 745.15l0.95 1.6 1.6 0.95-1.6 0.95-0.95 1.6-0.95-1.6-1.6-0.95 1.6-0.95zM492.5 742.05l0.95 1.6 1.6 0.95-1.6 0.95-0.95 1.6-0.95-1.6-1.6-0.95 1.6-0.95zM500.2 744.65l0.95 1.6 1.6 0.95-1.6 0.95-0.95 1.6-0.95-1.6-1.6-0.95 1.6-0.95zM477.2 749.25l0.95 1.6 1.6 0.95-1.6 0.95-0.95 1.6-0.95-1.6-1.6-0.95 1.6-0.95zM488.9 754.35l0.95 1.6 1.6 0.95-1.6 0.95-0.95 1.6-0.95-1.6-1.6-0.95 1.6-0.95zM509.9 727.75l0.95 1.6 1.6 0.95-1.6 0.95-0.95 1.6-0.95-1.6-1.6-0.95 1.6-0.95zM506.3 733.85l0.95 1.6 1.6 0.95-1.6 0.95-0.95 1.6-0.95-1.6-1.6-0.95 1.6-0.95zM508.9 740.55l0.95 1.6 1.6 0.95-1.6 0.95-0.95 1.6-0.95-1.6-1.6-0.95 1.6-0.95zM533.4 710.35l0.95 1.6 1.6 0.95-1.6 0.95-0.95 1.6-0.95-1.6-1.6-0.95 1.6-0.95zM529.8 713.45l0.95 1.6 1.6 0.95-1.6 0.95-0.95 1.6-0.95-1.6-1.6-0.95 1.6-0.95zM528.3 715.45l0.95 1.6 1.6 0.95-1.6 0.95-0.95 1.6-0.95-1.6-1.6-0.95 1.6-0.95zM525.2 716.55l0.95 1.6 1.6 0.95-1.6 0.95-0.95 1.6-0.95-1.6-1.6-0.95 1.6-0.95zM521.1 721.15l0.95 1.6 1.6 0.95-1.6 0.95-0.95 1.6-0.95-1.6-1.6-0.95 1.6-0.95zM517 724.65l0.95 1.6 1.6 0.95-1.6 0.95-0.95 1.6-0.95-1.6-1.6-0.95 1.6-0.95z" fill="#ff3a12"/>
<ellipse cx="465.13" cy="693.11" rx="27.77" ry="26.71" fill="none" stroke="#151515" stroke-width="1.5"/>
<ellipse cx="551.62" cy="643.62" rx="29.65" ry="26.71" fill="none" stroke="#151515" stroke-width="1.5"/>
<ellipse cx="567.79" cy="638.24" rx="29.96" ry="26.71" fill="none" stroke="#151515" stroke-width="1.5"/>
<ellipse cx="583.5" cy="629.2" rx="30.52" ry="26.71" fill="none" stroke="#151515" stroke-width="1.5"/>
<ellipse cx="560.98" cy="692.79" rx="27.78" ry="26.71" fill="none" stroke="#151515" stroke-width="1.5"/>
<path d="M459.78 657.91L466.88 657.91L463.33 665.01Z" fill="#000"/>
<path d="M488.66 648.79L495.76 648.79L492.21 655.89Z" fill="#000"/>
<path d="M487.47 695.99L494.57 695.99L491.02 703.09Z" fill="#000"/>
<path d="M465.48 734.08L472.58 734.08L469.03 741.18Z" fill="#000"/>
<path d="M562.23 690.69L569.33 690.69L565.78 697.79Z" fill="#000"/>
<path d="M579.46 625.42L586.56 625.42L583.01 632.52Z" fill="#000"/>
<circle cx="465.13" cy="693.11" r="3.6" fill="#000" stroke="#fff" stroke-width="1.5"/>
<circle cx="390.1" cy="580.1" r="3.1" fill="#000"/>
<text x="398.8" y="582.7" font-size="7.4" stroke="#000" stroke-width="0.3">Rx</text>
<path d="M386.55 588L393.65 588L390.1 595.1Z" fill="#000"/>
<text x="398.8" y="594.7" font-size="7.4" textLength="37.8" lengthAdjust="spacingAndGlyphs" stroke="#000" stroke-width="0.3">Ionosonde</text>
<circle cx="390" cy="604.1" r="1.1" fill="#f5300f"/>
<text x="398.8" y="606.9" font-size="7.4" fill="#f5300f" textLength="40.2" lengthAdjust="spacingAndGlyphs" stroke="#f5300f" stroke-width="0.3">Effective Tx</text>
<path d="M404.72 739.11L402.2 738.45L399.54 739L397.4 740.89L395.81 743.81L394.4 748.11L392.96 753.06L391.62 758.01L390.51 762.06L389.4 765L388.14 766.5L387.03 766.55L386.97 767.45L388.66 767.7L391 766.2L393.09 763.14L394.78 758.99L396.24 753.94L397.4 748.89L398.19 744.59L399 741.91L400.26 740.2L402.2 739.55L404.48 740.09Z" fill="#000"/>
<rect x="393.8" y="747.25" width="9.2" height="1.15" fill="#000"/>
<circle cx="405.0" cy="741.7" r="1.95" fill="#000"/><circle cx="388.9" cy="764.9" r="1.95" fill="#000"/>
<text x="176.2" y="824.2" text-anchor="middle" font-size="11.4" stroke="#000" stroke-width="0.3">Longitude</text>
<text x="509.2" y="824.2" text-anchor="middle" font-size="11.4" stroke="#000" stroke-width="0.3">Longitude</text>
<rect x="649.1" y="206.85" width="7.1" height="27.55" fill="#5a00ff"/>
<rect x="649.1" y="179.3" width="7.1" height="27.55" fill="#0000f5"/>
<rect x="649.1" y="151.75" width="7.1" height="27.55" fill="#0a9a5c"/>
<rect x="649.1" y="124.2" width="7.1" height="27.55" fill="#40ff0a"/>
<rect x="649.1" y="96.65" width="7.1" height="27.55" fill="#ffff00"/>
<rect x="649.1" y="69.1" width="7.1" height="27.55" fill="#ffb400"/>
<rect x="649.1" y="41.55" width="7.1" height="27.55" fill="#ff7000"/>
<rect x="649.1" y="14" width="7.1" height="27.55" fill="#ff2a00"/>
<line x1="649.1" x2="656.2" y1="41.55" y2="41.55" stroke="#222" stroke-width="0.7"/>
<line x1="649.1" x2="656.2" y1="69.1" y2="69.1" stroke="#222" stroke-width="0.7"/>
<line x1="649.1" x2="656.2" y1="96.65" y2="96.65" stroke="#222" stroke-width="0.7"/>
<line x1="649.1" x2="656.2" y1="124.2" y2="124.2" stroke="#222" stroke-width="0.7"/>
<line x1="649.1" x2="656.2" y1="151.75" y2="151.75" stroke="#222" stroke-width="0.7"/>
<line x1="649.1" x2="656.2" y1="179.3" y2="179.3" stroke="#222" stroke-width="0.7"/>
<line x1="649.1" x2="656.2" y1="206.85" y2="206.85" stroke="#222" stroke-width="0.7"/>
<rect x="649.1" y="14" width="7.1" height="220.4" fill="none" stroke="#222" stroke-width="0.8"/>
<text x="658.4" y="234.9" font-size="7.3" textLength="12.1" lengthAdjust="spacingAndGlyphs" fill="#333" stroke="#333" stroke-width="0.12">100</text>
<text x="658.4" y="207.35" font-size="7.3" textLength="12.1" lengthAdjust="spacingAndGlyphs" fill="#333" stroke="#333" stroke-width="0.12">150</text>
<text x="658.4" y="179.8" font-size="7.3" textLength="12.1" lengthAdjust="spacingAndGlyphs" fill="#333" stroke="#333" stroke-width="0.12">200</text>
<text x="658.4" y="152.25" font-size="7.3" textLength="12.1" lengthAdjust="spacingAndGlyphs" fill="#333" stroke="#333" stroke-width="0.12">250</text>
<text x="658.4" y="124.7" font-size="7.3" textLength="12.1" lengthAdjust="spacingAndGlyphs" fill="#333" stroke="#333" stroke-width="0.12">300</text>
<text x="658.4" y="97.15" font-size="7.3" textLength="12.1" lengthAdjust="spacingAndGlyphs" fill="#333" stroke="#333" stroke-width="0.12">350</text>
<text x="658.4" y="69.6" font-size="7.3" textLength="12.1" lengthAdjust="spacingAndGlyphs" fill="#333" stroke="#333" stroke-width="0.12">400</text>
<text x="658.4" y="42.05" font-size="7.3" textLength="12.1" lengthAdjust="spacingAndGlyphs" fill="#333" stroke="#333" stroke-width="0.12">450</text>
<text transform="translate(677.6 123.4) rotate(90)" text-anchor="middle" font-size="9.2" textLength="105" lengthAdjust="spacingAndGlyphs" fill="#333" stroke="#333" stroke-width="0.15">Altitude of Scattering (km)</text>
</svg></body></html>
